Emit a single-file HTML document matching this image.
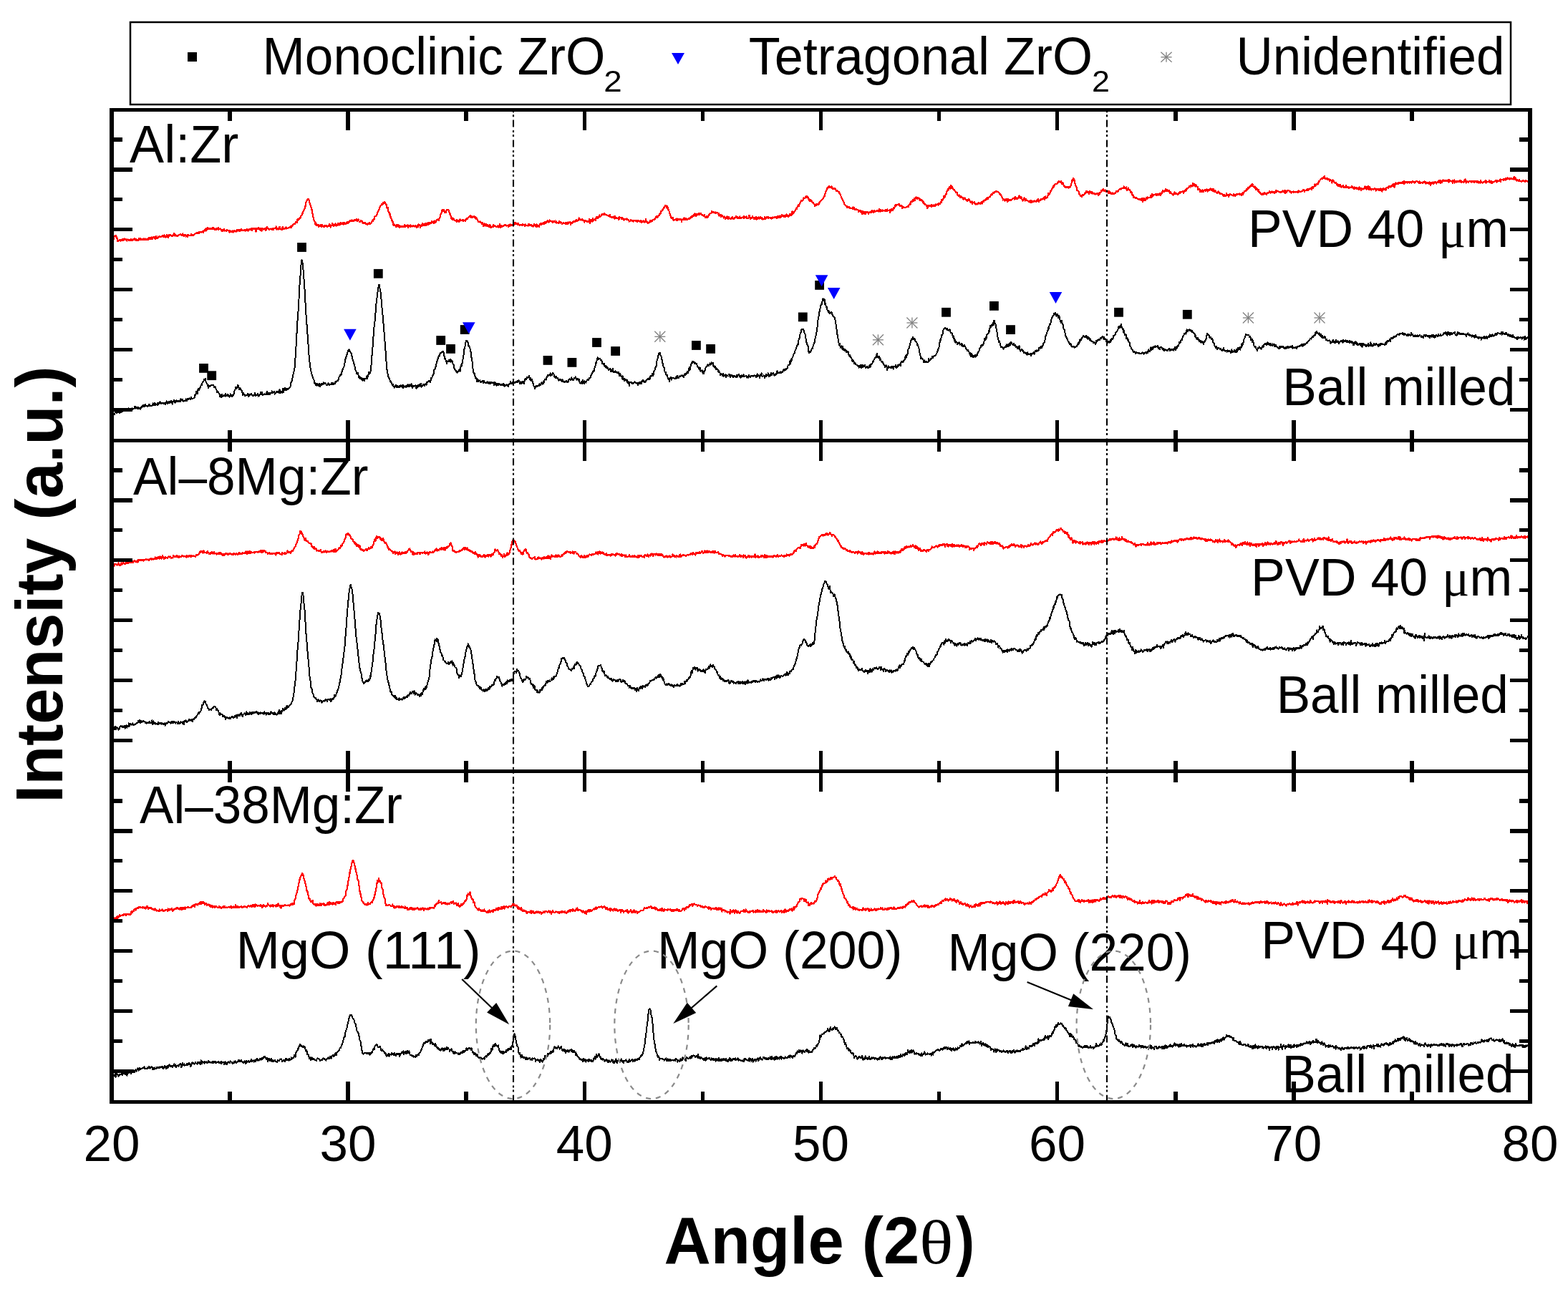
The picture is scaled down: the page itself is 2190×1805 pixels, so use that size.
<!DOCTYPE html>
<html><head><meta charset="utf-8"><title>XRD patterns of Al:Zr, Al-8Mg:Zr and Al-38Mg:Zr</title>
<style>
html,body{margin:0;padding:0;background:#fff;overflow:hidden;}
svg{display:block;}
.t{font-family:"Liberation Sans",Arial,sans-serif;fill:#000;}
.s{font-family:"Liberation Serif","Times New Roman",serif;}
</style></head><body>
<svg width="2190" height="1805" viewBox="0 0 2190 1805">
<rect width="2190" height="1805" fill="#fff"/>
<path d="M157.5 337.0 L158.2 335.7 L158.8 333.7 L159.5 330.4 L160.1 329.7 L160.8 329.0 L161.5 329.9 L162.1 329.4 L162.8 332.1 L163.4 332.0 L164.1 337.2 L164.8 335.5 L165.4 336.4 L166.1 335.5 L166.7 335.2 L167.4 336.1 L168.1 336.5 L168.7 335.4 L169.4 335.4 L170.0 336.3 L170.7 334.7 L171.4 334.0 L172.0 336.0 L172.7 334.8 L173.3 333.5 L174.0 334.7 L174.7 335.0 L175.3 334.2 L176.0 333.9 L176.6 335.5 L177.3 336.4 L178.0 335.1 L178.6 334.6 L179.3 335.7 L179.9 336.1 L180.6 335.0 L181.3 335.8 L181.9 336.3 L182.6 335.0 L183.2 334.3 L183.9 335.5 L184.6 335.4 L185.2 336.2 L185.9 333.7 L186.5 334.3 L187.2 334.1 L187.9 333.1 L188.5 335.1 L189.2 335.5 L189.8 334.1 L190.5 336.3 L191.2 335.7 L191.8 335.4 L192.5 335.2 L193.1 335.7 L193.8 333.3 L194.5 335.3 L195.1 335.2 L195.8 332.7 L196.4 334.9 L197.1 334.2 L197.8 335.3 L198.4 333.9 L199.1 334.3 L199.7 334.7 L200.4 333.3 L201.1 334.8 L201.7 334.0 L202.4 334.6 L203.0 333.5 L203.7 335.1 L204.4 334.5 L205.0 333.6 L205.7 334.4 L206.3 334.9 L207.0 335.4 L207.7 331.8 L208.3 334.3 L209.0 333.7 L209.6 333.0 L210.3 332.0 L211.0 334.2 L211.6 331.5 L212.3 333.3 L212.9 334.0 L213.6 330.8 L214.3 332.1 L214.9 330.9 L215.6 332.4 L216.2 333.6 L216.9 334.1 L217.6 330.0 L218.2 331.1 L218.9 332.3 L219.5 333.1 L220.2 331.8 L220.9 330.5 L221.5 331.4 L222.2 331.0 L222.8 330.7 L223.5 330.0 L224.2 331.1 L224.8 330.9 L225.5 330.4 L226.1 330.1 L226.8 328.9 L227.5 329.6 L228.1 331.3 L228.8 329.7 L229.4 328.3 L230.1 331.1 L230.8 330.2 L231.4 331.8 L232.1 329.5 L232.7 328.9 L233.4 327.8 L234.1 330.6 L234.7 331.8 L235.4 328.2 L236.0 328.3 L236.7 329.6 L237.4 328.0 L238.0 328.5 L238.7 328.4 L239.3 328.9 L240.0 329.8 L240.7 328.7 L241.3 329.6 L242.0 328.1 L242.6 328.9 L243.3 326.3 L244.0 327.0 L244.6 329.4 L245.3 327.9 L245.9 329.1 L246.6 329.1 L247.3 329.9 L247.9 329.4 L248.6 329.6 L249.2 328.4 L249.9 327.8 L250.6 327.8 L251.2 328.0 L251.9 327.3 L252.5 328.0 L253.2 328.4 L253.9 328.8 L254.5 328.2 L255.2 326.5 L255.8 328.5 L256.5 328.8 L257.2 329.7 L257.8 329.1 L258.5 327.9 L259.1 327.8 L259.8 330.6 L260.5 329.3 L261.1 330.5 L261.8 330.8 L262.4 327.7 L263.1 328.9 L263.8 329.0 L264.4 329.1 L265.1 329.1 L265.7 328.7 L266.4 328.7 L267.1 327.0 L267.7 328.4 L268.4 327.7 L269.0 328.6 L269.7 327.8 L270.4 328.6 L271.0 328.4 L271.7 327.5 L272.3 327.0 L273.0 326.4 L273.7 325.6 L274.3 325.7 L275.0 325.2 L275.6 325.9 L276.3 325.4 L277.0 325.8 L277.6 323.7 L278.3 325.9 L278.9 324.0 L279.6 323.9 L280.3 324.3 L280.9 323.8 L281.6 324.5 L282.2 323.4 L282.9 322.7 L283.6 322.7 L284.2 324.6 L284.9 322.9 L285.5 321.2 L286.2 322.0 L286.9 319.9 L287.5 323.0 L288.2 319.1 L288.8 320.8 L289.5 320.5 L290.2 318.1 L290.8 319.6 L291.5 320.2 L292.1 319.5 L292.8 319.3 L293.5 320.0 L294.1 319.2 L294.8 319.5 L295.4 319.0 L296.1 319.9 L296.8 318.3 L297.4 320.1 L298.1 318.9 L298.7 318.3 L299.4 319.9 L300.1 321.4 L300.7 320.8 L301.4 319.3 L302.0 320.7 L302.7 319.6 L303.4 320.1 L304.0 320.4 L304.7 318.0 L305.3 320.8 L306.0 319.6 L306.7 320.1 L307.3 319.4 L308.0 319.5 L308.6 320.2 L309.3 322.2 L310.0 323.2 L310.6 321.5 L311.3 322.8 L311.9 321.5 L312.6 319.8 L313.3 322.1 L313.9 322.5 L314.6 321.7 L315.2 322.5 L315.9 322.9 L316.6 321.5 L317.2 320.9 L317.9 322.2 L318.5 322.3 L319.2 322.2 L319.9 323.6 L320.5 324.4 L321.2 322.2 L321.8 323.3 L322.5 323.6 L323.2 323.3 L323.8 323.7 L324.5 322.1 L325.1 323.3 L325.8 324.6 L326.5 323.3 L327.1 321.8 L327.8 323.1 L328.4 323.7 L329.1 322.7 L329.8 321.7 L330.4 323.9 L331.1 320.9 L331.7 322.7 L332.4 322.1 L333.1 320.9 L333.7 323.3 L334.4 322.4 L335.0 320.7 L335.7 322.5 L336.4 321.4 L337.0 319.8 L337.7 321.0 L338.3 322.0 L339.0 322.3 L339.7 321.7 L340.3 321.6 L341.0 321.9 L341.6 321.2 L342.3 322.6 L343.0 321.4 L343.6 321.5 L344.3 321.7 L344.9 320.0 L345.6 320.3 L346.3 322.6 L346.9 321.3 L347.6 320.5 L348.2 321.1 L348.9 320.2 L349.6 321.0 L350.2 319.9 L350.9 320.8 L351.5 318.8 L352.2 321.8 L352.9 319.8 L353.5 318.7 L354.2 320.0 L354.8 319.8 L355.5 320.3 L356.2 318.9 L356.8 320.5 L357.5 323.8 L358.1 318.7 L358.8 320.3 L359.5 319.6 L360.1 320.1 L360.8 318.0 L361.4 318.6 L362.1 320.3 L362.8 319.7 L363.4 321.5 L364.1 319.0 L364.7 319.9 L365.4 322.8 L366.1 318.9 L366.7 318.7 L367.4 319.6 L368.0 319.6 L368.7 320.5 L369.4 319.7 L370.0 318.8 L370.7 319.8 L371.3 322.3 L372.0 320.9 L372.7 316.6 L373.3 319.4 L374.0 318.6 L374.6 320.2 L375.3 319.3 L376.0 321.5 L376.6 320.5 L377.3 320.4 L377.9 319.7 L378.6 319.4 L379.3 319.8 L379.9 320.8 L380.6 320.0 L381.2 319.1 L381.9 320.8 L382.6 319.6 L383.2 319.4 L383.9 318.6 L384.5 318.8 L385.2 318.7 L385.9 316.5 L386.5 320.5 L387.2 320.0 L387.8 319.1 L388.5 320.5 L389.2 319.8 L389.8 319.7 L390.5 316.7 L391.1 319.1 L391.8 319.8 L392.5 321.0 L393.1 321.2 L393.8 320.7 L394.4 318.0 L395.1 316.9 L395.8 319.8 L396.4 319.2 L397.1 320.1 L397.7 319.0 L398.4 319.3 L399.1 317.5 L399.7 319.5 L400.4 318.4 L401.0 319.2 L401.7 319.1 L402.4 318.3 L403.0 318.5 L403.7 317.8 L404.3 318.3 L405.0 317.7 L405.7 316.2 L406.3 315.8 L407.0 317.8 L407.6 315.5 L408.3 316.2 L409.0 315.1 L409.6 313.6 L410.3 312.9 L410.9 313.4 L411.6 313.0 L412.3 312.9 L412.9 310.3 L413.6 310.3 L414.2 310.1 L414.9 311.1 L415.6 306.1 L416.2 308.2 L416.9 306.3 L417.5 306.4 L418.2 304.5 L418.9 304.4 L419.5 304.6 L420.2 302.3 L420.8 301.4 L421.5 300.2 L422.2 297.9 L422.8 298.0 L423.5 295.9 L424.1 293.9 L424.8 293.2 L425.5 291.3 L426.1 290.2 L426.8 286.5 L427.4 282.9 L428.1 282.1 L428.8 279.4 L429.4 278.5 L430.1 277.8 L430.7 278.0 L431.4 279.2 L432.1 281.3 L432.7 284.8 L433.4 286.1 L434.0 286.5 L434.7 290.6 L435.4 292.1 L436.0 297.0 L436.7 298.9 L437.3 302.0 L438.0 306.3 L438.7 308.4 L439.3 308.4 L440.0 311.9 L440.6 314.2 L441.3 311.1 L442.0 315.3 L442.6 313.2 L443.3 314.0 L443.9 314.8 L444.6 313.8 L445.3 317.0 L445.9 316.4 L446.6 315.2 L447.2 315.7 L447.9 314.3 L448.6 315.6 L449.2 316.9 L449.9 314.1 L450.5 315.4 L451.2 316.0 L451.9 316.9 L452.5 317.2 L453.2 315.3 L453.8 315.0 L454.5 316.2 L455.2 315.3 L455.8 315.3 L456.5 316.7 L457.1 317.3 L457.8 315.7 L458.5 315.2 L459.1 315.9 L459.8 313.3 L460.4 315.2 L461.1 314.0 L461.8 317.6 L462.4 315.7 L463.1 315.1 L463.7 314.6 L464.4 312.1 L465.1 315.4 L465.7 316.3 L466.4 313.7 L467.0 315.1 L467.7 315.1 L468.4 312.6 L469.0 315.1 L469.7 315.5 L470.3 314.2 L471.0 313.8 L471.7 314.6 L472.3 312.0 L473.0 313.6 L473.6 314.5 L474.3 312.0 L475.0 314.3 L475.6 312.7 L476.3 310.8 L476.9 312.8 L477.6 311.7 L478.3 313.0 L478.9 311.3 L479.6 313.5 L480.2 311.5 L480.9 312.6 L481.6 311.4 L482.2 311.6 L482.9 313.1 L483.5 311.9 L484.2 311.0 L484.9 309.9 L485.5 312.2 L486.2 311.5 L486.8 310.1 L487.5 310.4 L488.2 308.7 L488.8 308.5 L489.5 308.4 L490.1 309.3 L490.8 308.9 L491.5 307.6 L492.1 308.9 L492.8 308.7 L493.4 307.8 L494.1 308.6 L494.8 307.0 L495.4 307.1 L496.1 307.7 L496.7 307.1 L497.4 308.0 L498.1 306.0 L498.7 308.9 L499.4 306.7 L500.0 307.6 L500.7 306.5 L501.4 308.8 L502.0 309.8 L502.7 309.9 L503.3 309.9 L504.0 307.7 L504.7 308.9 L505.3 309.5 L506.0 309.4 L506.6 311.9 L507.3 311.2 L508.0 311.3 L508.6 312.1 L509.3 310.9 L509.9 311.2 L510.6 311.5 L511.3 313.1 L511.9 313.1 L512.6 313.5 L513.2 314.2 L513.9 311.7 L514.6 312.5 L515.2 313.1 L515.9 311.3 L516.5 311.8 L517.2 312.9 L517.9 312.4 L518.5 311.6 L519.2 309.7 L519.8 308.6 L520.5 309.1 L521.2 306.6 L521.8 306.4 L522.5 306.4 L523.1 303.6 L523.8 302.4 L524.5 302.1 L525.1 301.9 L525.8 300.8 L526.4 299.3 L527.1 298.5 L527.8 295.0 L528.4 294.4 L529.1 294.0 L529.7 291.4 L530.4 289.6 L531.1 288.3 L531.7 287.3 L532.4 286.8 L533.0 284.8 L533.7 285.1 L534.4 285.8 L535.0 283.2 L535.7 284.3 L536.3 283.0 L537.0 281.6 L537.7 283.1 L538.3 283.2 L539.0 286.2 L539.6 285.6 L540.3 289.8 L541.0 290.8 L541.6 289.9 L542.3 294.8 L542.9 297.4 L543.6 296.7 L544.3 300.3 L544.9 299.2 L545.6 303.4 L546.2 303.6 L546.9 307.9 L547.6 307.4 L548.2 308.1 L548.9 312.3 L549.5 315.1 L550.2 312.8 L550.9 314.9 L551.5 314.7 L552.2 314.7 L552.8 316.0 L553.5 317.2 L554.2 314.2 L554.8 316.1 L555.5 315.9 L556.1 314.1 L556.8 317.3 L557.5 317.7 L558.1 314.7 L558.8 317.5 L559.4 315.8 L560.1 315.6 L560.8 317.3 L561.4 316.0 L562.1 316.1 L562.7 317.4 L563.4 317.2 L564.1 316.8 L564.7 314.4 L565.4 314.2 L566.0 317.0 L566.7 314.9 L567.4 316.0 L568.0 314.8 L568.7 315.7 L569.3 314.6 L570.0 317.6 L570.7 314.9 L571.3 315.8 L572.0 315.7 L572.6 317.2 L573.3 314.4 L574.0 315.9 L574.6 315.7 L575.3 316.5 L575.9 316.4 L576.6 315.5 L577.3 316.2 L577.9 315.5 L578.6 316.4 L579.2 315.8 L579.9 315.2 L580.6 315.8 L581.2 316.2 L581.9 318.1 L582.5 315.2 L583.2 315.9 L583.9 317.1 L584.5 313.3 L585.2 313.6 L585.8 314.0 L586.5 315.1 L587.2 317.6 L587.8 315.4 L588.5 316.1 L589.1 314.5 L589.8 312.0 L590.5 312.1 L591.1 315.4 L591.8 314.4 L592.4 312.7 L593.1 315.1 L593.8 312.2 L594.4 314.8 L595.1 315.0 L595.7 312.5 L596.4 312.0 L597.1 313.9 L597.7 311.6 L598.4 313.5 L599.0 311.2 L599.7 313.1 L600.4 312.2 L601.0 311.5 L601.7 310.8 L602.3 311.8 L603.0 309.4 L603.7 310.9 L604.3 310.5 L605.0 311.4 L605.6 309.1 L606.3 312.0 L607.0 309.6 L607.6 308.4 L608.3 310.7 L608.9 310.6 L609.6 308.3 L610.3 307.1 L610.9 307.6 L611.6 306.4 L612.2 306.3 L612.9 307.7 L613.6 305.6 L614.2 303.8 L614.9 302.2 L615.5 299.6 L616.2 298.4 L616.9 296.5 L617.5 293.5 L618.2 292.8 L618.8 294.7 L619.5 293.0 L620.2 293.2 L620.8 296.7 L621.5 295.7 L622.1 295.2 L622.8 297.0 L623.5 294.2 L624.1 293.2 L624.8 293.3 L625.4 293.0 L626.1 293.1 L626.8 294.4 L627.4 295.7 L628.1 299.1 L628.7 298.8 L629.4 300.6 L630.1 304.8 L630.7 303.4 L631.4 306.5 L632.0 306.9 L632.7 305.8 L633.4 304.8 L634.0 307.1 L634.7 307.7 L635.3 308.3 L636.0 307.6 L636.7 309.0 L637.3 309.4 L638.0 307.0 L638.6 309.7 L639.3 308.5 L640.0 307.8 L640.6 308.0 L641.3 310.3 L641.9 309.4 L642.6 306.5 L643.3 308.4 L643.9 308.2 L644.6 308.2 L645.2 307.8 L645.9 306.8 L646.6 309.3 L647.2 307.4 L647.9 308.0 L648.5 307.7 L649.2 307.5 L649.9 308.7 L650.5 307.9 L651.2 306.2 L651.8 305.2 L652.5 305.0 L653.2 305.8 L653.8 304.2 L654.5 303.7 L655.1 302.6 L655.8 302.3 L656.5 302.6 L657.1 300.5 L657.8 304.2 L658.4 301.7 L659.1 302.1 L659.8 304.2 L660.4 303.2 L661.1 303.2 L661.7 302.7 L662.4 301.9 L663.1 304.0 L663.7 305.3 L664.4 303.5 L665.0 306.4 L665.7 304.6 L666.4 305.9 L667.0 308.1 L667.7 308.5 L668.3 310.2 L669.0 309.5 L669.7 309.9 L670.3 309.6 L671.0 310.7 L671.6 311.1 L672.3 311.0 L673.0 313.1 L673.6 312.3 L674.3 311.1 L674.9 316.1 L675.6 312.8 L676.3 312.6 L676.9 315.4 L677.6 315.6 L678.2 313.3 L678.9 313.2 L679.6 313.8 L680.2 316.3 L680.9 314.9 L681.5 314.5 L682.2 315.5 L682.9 316.9 L683.5 314.3 L684.2 315.5 L684.8 314.6 L685.5 318.4 L686.2 318.1 L686.8 317.3 L687.5 316.3 L688.1 317.2 L688.8 314.3 L689.5 316.9 L690.1 315.2 L690.8 315.2 L691.4 315.9 L692.1 316.3 L692.8 317.3 L693.4 317.4 L694.1 316.9 L694.7 315.6 L695.4 317.2 L696.1 316.3 L696.7 317.6 L697.4 315.3 L698.0 313.3 L698.7 315.6 L699.4 318.3 L700.0 316.4 L700.7 315.6 L701.3 316.6 L702.0 316.1 L702.7 315.9 L703.3 314.7 L704.0 315.2 L704.6 315.2 L705.3 314.2 L706.0 313.6 L706.6 314.8 L707.3 315.5 L707.9 315.0 L708.6 314.7 L709.3 314.6 L709.9 316.7 L710.6 314.1 L711.2 314.8 L711.9 315.7 L712.6 313.6 L713.2 313.7 L713.9 314.5 L714.5 315.1 L715.2 313.6 L715.9 313.6 L716.5 313.2 L717.2 311.9 L717.8 314.3 L718.5 312.8 L719.2 311.3 L719.8 313.0 L720.5 311.3 L721.1 312.1 L721.8 313.2 L722.5 312.2 L723.1 314.4 L723.8 311.7 L724.4 313.6 L725.1 314.0 L725.8 315.0 L726.4 314.4 L727.1 313.8 L727.7 313.7 L728.4 313.6 L729.1 314.9 L729.7 313.1 L730.4 314.4 L731.0 313.8 L731.7 314.2 L732.4 313.8 L733.0 316.3 L733.7 313.5 L734.3 314.5 L735.0 314.6 L735.7 315.0 L736.3 314.9 L737.0 314.9 L737.6 315.6 L738.3 313.0 L739.0 314.7 L739.6 313.4 L740.3 315.0 L740.9 313.6 L741.6 313.8 L742.3 314.8 L742.9 316.4 L743.6 315.5 L744.2 315.3 L744.9 316.5 L745.6 314.0 L746.2 312.8 L746.9 314.6 L747.5 314.7 L748.2 316.3 L748.9 317.1 L749.5 313.4 L750.2 317.3 L750.8 316.2 L751.5 315.3 L752.2 314.7 L752.8 316.7 L753.5 314.1 L754.1 313.3 L754.8 313.7 L755.5 311.9 L756.1 313.7 L756.8 312.8 L757.4 313.1 L758.1 312.9 L758.8 311.2 L759.4 313.4 L760.1 310.7 L760.7 312.5 L761.4 309.7 L762.1 311.5 L762.7 310.1 L763.4 310.8 L764.0 309.9 L764.7 308.1 L765.4 309.1 L766.0 310.1 L766.7 310.6 L767.3 308.3 L768.0 307.5 L768.7 308.7 L769.3 309.4 L770.0 308.9 L770.6 308.7 L771.3 310.5 L772.0 310.6 L772.6 310.4 L773.3 308.7 L773.9 309.8 L774.6 309.5 L775.3 308.3 L775.9 310.8 L776.6 310.0 L777.2 309.5 L777.9 311.6 L778.6 311.0 L779.2 311.2 L779.9 311.6 L780.5 311.2 L781.2 309.2 L781.9 310.2 L782.5 311.8 L783.2 310.0 L783.8 311.0 L784.5 311.5 L785.2 312.7 L785.8 312.6 L786.5 312.3 L787.1 311.2 L787.8 312.4 L788.5 312.1 L789.1 311.5 L789.8 313.1 L790.4 312.3 L791.1 311.0 L791.8 313.2 L792.4 311.6 L793.1 312.5 L793.7 310.3 L794.4 311.9 L795.1 310.9 L795.7 310.8 L796.4 309.7 L797.0 313.8 L797.7 311.3 L798.4 311.5 L799.0 312.2 L799.7 310.6 L800.3 311.0 L801.0 308.8 L801.7 310.2 L802.3 309.2 L803.0 309.9 L803.6 309.3 L804.3 307.4 L805.0 306.6 L805.6 307.3 L806.3 308.9 L806.9 308.3 L807.6 308.1 L808.3 305.4 L808.9 304.5 L809.6 306.6 L810.2 306.8 L810.9 306.5 L811.6 307.6 L812.2 307.1 L812.9 306.1 L813.5 306.5 L814.2 307.8 L814.9 307.8 L815.5 307.9 L816.2 310.5 L816.8 308.1 L817.5 308.7 L818.2 307.7 L818.8 308.5 L819.5 309.6 L820.1 309.8 L820.8 309.2 L821.5 309.9 L822.1 309.6 L822.8 307.6 L823.4 306.1 L824.1 311.9 L824.8 310.2 L825.4 309.1 L826.1 307.1 L826.7 307.3 L827.4 309.7 L828.1 305.1 L828.7 307.3 L829.4 308.1 L830.0 307.0 L830.7 307.2 L831.4 305.8 L832.0 308.0 L832.7 303.9 L833.3 303.1 L834.0 304.4 L834.7 305.1 L835.3 303.1 L836.0 303.8 L836.6 301.7 L837.3 300.6 L838.0 302.9 L838.6 302.7 L839.3 302.3 L839.9 299.9 L840.6 298.9 L841.3 298.6 L841.9 299.4 L842.6 300.1 L843.2 299.9 L843.9 297.8 L844.6 299.5 L845.2 299.5 L845.9 299.7 L846.5 299.8 L847.2 299.9 L847.9 301.1 L848.5 300.9 L849.2 301.4 L849.8 300.8 L850.5 302.3 L851.2 302.1 L851.8 300.3 L852.5 303.3 L853.1 302.7 L853.8 304.1 L854.5 303.1 L855.1 303.3 L855.8 303.7 L856.4 303.5 L857.1 303.2 L857.8 301.8 L858.4 305.7 L859.1 302.2 L859.7 303.6 L860.4 304.7 L861.1 304.4 L861.7 304.7 L862.4 305.0 L863.0 305.5 L863.7 304.6 L864.4 307.4 L865.0 303.3 L865.7 304.7 L866.3 304.2 L867.0 304.1 L867.7 305.0 L868.3 306.4 L869.0 304.2 L869.6 304.4 L870.3 306.0 L871.0 306.0 L871.6 307.7 L872.3 306.9 L872.9 306.3 L873.6 305.9 L874.3 306.7 L874.9 306.5 L875.6 305.4 L876.2 307.1 L876.9 307.1 L877.6 307.2 L878.2 307.2 L878.9 309.6 L879.5 308.7 L880.2 309.1 L880.9 307.5 L881.5 307.2 L882.2 308.1 L882.8 308.7 L883.5 308.1 L884.2 308.3 L884.8 309.6 L885.5 308.9 L886.1 307.6 L886.8 308.3 L887.5 308.1 L888.1 309.0 L888.8 307.7 L889.4 308.7 L890.1 309.7 L890.8 309.0 L891.4 308.1 L892.1 308.4 L892.7 309.3 L893.4 309.7 L894.1 310.1 L894.7 309.1 L895.4 307.9 L896.0 310.8 L896.7 309.6 L897.4 309.8 L898.0 309.7 L898.7 308.3 L899.3 309.1 L900.0 309.7 L900.7 310.6 L901.3 309.5 L902.0 306.2 L902.6 309.3 L903.3 309.9 L904.0 310.9 L904.6 310.3 L905.3 312.1 L905.9 311.0 L906.6 310.9 L907.3 310.4 L907.9 307.8 L908.6 310.0 L909.2 309.5 L909.9 308.0 L910.6 308.9 L911.2 308.4 L911.9 307.1 L912.5 307.1 L913.2 306.5 L913.9 306.6 L914.5 305.4 L915.2 306.0 L915.8 303.0 L916.5 304.2 L917.2 302.3 L917.8 303.1 L918.5 303.6 L919.1 302.4 L919.8 301.5 L920.5 300.8 L921.1 301.4 L921.8 297.6 L922.4 298.7 L923.1 295.1 L923.8 295.1 L924.4 294.7 L925.1 292.6 L925.7 292.8 L926.4 292.4 L927.1 289.5 L927.7 289.9 L928.4 288.9 L929.0 286.8 L929.7 288.2 L930.4 287.4 L931.0 289.6 L931.7 287.7 L932.3 291.2 L933.0 290.1 L933.7 294.2 L934.3 294.5 L935.0 296.3 L935.6 298.7 L936.3 300.7 L937.0 303.1 L937.6 305.2 L938.3 304.5 L938.9 304.7 L939.6 304.0 L940.3 306.8 L940.9 308.0 L941.6 307.6 L942.2 307.3 L942.9 306.8 L943.6 306.5 L944.2 306.9 L944.9 307.6 L945.5 305.3 L946.2 307.9 L946.9 305.6 L947.5 307.0 L948.2 306.5 L948.8 306.8 L949.5 306.1 L950.2 305.9 L950.8 306.9 L951.5 306.0 L952.1 309.7 L952.8 306.7 L953.5 306.5 L954.1 306.6 L954.8 306.0 L955.4 304.6 L956.1 306.9 L956.8 307.4 L957.4 305.4 L958.1 306.9 L958.7 305.4 L959.4 306.5 L960.1 306.7 L960.7 306.5 L961.4 306.2 L962.0 304.7 L962.7 306.0 L963.4 304.3 L964.0 304.8 L964.7 304.8 L965.3 303.3 L966.0 301.9 L966.7 303.5 L967.3 301.3 L968.0 301.2 L968.6 300.6 L969.3 302.3 L970.0 300.9 L970.6 298.3 L971.3 301.1 L971.9 302.2 L972.6 301.7 L973.3 299.0 L973.9 299.4 L974.6 299.7 L975.2 300.0 L975.9 299.0 L976.6 297.7 L977.2 299.6 L977.9 299.5 L978.5 297.7 L979.2 298.9 L979.9 299.8 L980.5 299.9 L981.2 300.8 L981.8 301.4 L982.5 301.5 L983.2 301.2 L983.8 300.2 L984.5 302.6 L985.1 303.6 L985.8 304.4 L986.5 302.4 L987.1 302.3 L987.8 303.7 L988.4 303.3 L989.1 301.8 L989.8 301.6 L990.4 299.5 L991.1 300.3 L991.7 298.2 L992.4 298.3 L993.1 297.8 L993.7 296.9 L994.4 294.8 L995.0 295.8 L995.7 296.8 L996.4 296.4 L997.0 296.1 L997.7 297.1 L998.3 297.5 L999.0 297.9 L999.7 296.4 L1000.3 297.6 L1001.0 297.5 L1001.6 297.2 L1002.3 296.9 L1003.0 298.6 L1003.6 298.1 L1004.3 301.6 L1004.9 299.5 L1005.6 299.8 L1006.3 300.0 L1006.9 302.8 L1007.6 300.3 L1008.2 301.6 L1008.9 301.4 L1009.6 302.5 L1010.2 303.0 L1010.9 304.6 L1011.5 302.3 L1012.2 304.1 L1012.9 306.0 L1013.5 304.0 L1014.2 304.5 L1014.8 303.8 L1015.5 302.0 L1016.2 304.7 L1016.8 306.0 L1017.5 304.3 L1018.1 302.8 L1018.8 305.0 L1019.5 304.8 L1020.1 305.8 L1020.8 305.7 L1021.4 304.4 L1022.1 305.1 L1022.8 302.8 L1023.4 305.8 L1024.1 304.8 L1024.7 305.7 L1025.4 305.7 L1026.1 304.2 L1026.7 304.4 L1027.4 303.6 L1028.0 302.3 L1028.7 304.3 L1029.4 304.6 L1030.0 303.2 L1030.7 305.1 L1031.3 304.4 L1032.0 304.8 L1032.7 303.5 L1033.3 302.4 L1034.0 305.1 L1034.6 304.9 L1035.3 304.1 L1036.0 303.7 L1036.6 303.9 L1037.3 304.0 L1037.9 303.6 L1038.6 302.0 L1039.3 304.9 L1039.9 302.5 L1040.6 303.7 L1041.2 303.7 L1041.9 304.3 L1042.6 302.4 L1043.2 305.3 L1043.9 304.7 L1044.5 304.9 L1045.2 305.4 L1045.9 303.2 L1046.5 300.8 L1047.2 304.5 L1047.8 305.5 L1048.5 305.4 L1049.2 303.6 L1049.8 304.1 L1050.5 304.5 L1051.1 302.3 L1051.8 303.6 L1052.5 303.6 L1053.1 306.0 L1053.8 303.7 L1054.4 306.0 L1055.1 304.4 L1055.8 302.7 L1056.4 306.8 L1057.1 303.5 L1057.7 305.2 L1058.4 306.3 L1059.1 304.0 L1059.7 303.3 L1060.4 305.7 L1061.0 304.7 L1061.7 303.4 L1062.4 303.6 L1063.0 304.3 L1063.7 305.8 L1064.3 304.5 L1065.0 305.5 L1065.7 306.5 L1066.3 306.1 L1067.0 306.3 L1067.6 306.1 L1068.3 303.1 L1069.0 306.1 L1069.6 305.1 L1070.3 304.6 L1070.9 303.6 L1071.6 303.0 L1072.3 303.5 L1072.9 304.6 L1073.6 303.4 L1074.2 303.7 L1074.9 303.9 L1075.6 305.2 L1076.2 304.1 L1076.9 304.2 L1077.5 305.7 L1078.2 303.9 L1078.9 304.8 L1079.5 303.0 L1080.2 304.4 L1080.8 304.1 L1081.5 304.1 L1082.2 303.3 L1082.8 302.7 L1083.5 303.4 L1084.1 303.1 L1084.8 304.6 L1085.5 304.4 L1086.1 302.0 L1086.8 303.9 L1087.4 302.6 L1088.1 303.5 L1088.8 302.4 L1089.4 301.3 L1090.1 303.8 L1090.7 303.1 L1091.4 301.2 L1092.1 300.4 L1092.7 301.7 L1093.4 300.9 L1094.0 301.6 L1094.7 302.5 L1095.4 303.3 L1096.0 301.3 L1096.7 303.0 L1097.3 302.6 L1098.0 300.8 L1098.7 299.4 L1099.3 301.9 L1100.0 301.5 L1100.6 303.1 L1101.3 302.0 L1102.0 301.1 L1102.6 301.8 L1103.3 298.7 L1103.9 299.8 L1104.6 299.0 L1105.3 300.8 L1105.9 299.3 L1106.6 295.1 L1107.2 299.4 L1107.9 296.6 L1108.6 297.8 L1109.2 295.7 L1109.9 295.5 L1110.5 294.8 L1111.2 293.2 L1111.9 290.8 L1112.5 292.1 L1113.2 289.9 L1113.8 288.4 L1114.5 288.2 L1115.2 286.0 L1115.8 287.7 L1116.5 285.1 L1117.1 284.4 L1117.8 283.5 L1118.5 281.3 L1119.1 280.1 L1119.8 280.7 L1120.4 280.0 L1121.1 280.3 L1121.8 278.6 L1122.4 276.3 L1123.1 277.4 L1123.7 277.2 L1124.4 276.9 L1125.1 275.9 L1125.7 274.0 L1126.4 276.4 L1127.0 274.4 L1127.7 276.3 L1128.4 274.9 L1129.0 278.3 L1129.7 277.5 L1130.3 280.1 L1131.0 281.4 L1131.7 281.3 L1132.3 279.3 L1133.0 280.0 L1133.6 280.5 L1134.3 282.6 L1135.0 282.8 L1135.6 283.1 L1136.3 283.8 L1136.9 284.9 L1137.6 285.9 L1138.3 287.9 L1138.9 286.7 L1139.6 287.2 L1140.2 285.0 L1140.9 285.3 L1141.6 285.6 L1142.2 284.6 L1142.9 285.5 L1143.5 285.7 L1144.2 283.4 L1144.9 282.5 L1145.5 281.6 L1146.2 281.4 L1146.8 279.8 L1147.5 279.9 L1148.2 278.9 L1148.8 278.1 L1149.5 277.6 L1150.1 275.7 L1150.8 274.5 L1151.5 274.7 L1152.1 271.3 L1152.8 270.6 L1153.4 268.2 L1154.1 266.1 L1154.8 264.6 L1155.4 262.9 L1156.1 262.6 L1156.7 260.9 L1157.4 260.4 L1158.1 261.7 L1158.7 260.3 L1159.4 261.6 L1160.0 260.9 L1160.7 261.7 L1161.4 260.4 L1162.0 261.5 L1162.7 264.4 L1163.3 262.9 L1164.0 263.6 L1164.7 263.2 L1165.3 264.4 L1166.0 262.8 L1166.6 263.7 L1167.3 265.6 L1168.0 266.6 L1168.6 265.9 L1169.3 266.8 L1169.9 267.2 L1170.6 268.0 L1171.3 267.7 L1171.9 268.4 L1172.6 270.9 L1173.2 270.4 L1173.9 272.5 L1174.6 274.2 L1175.2 275.2 L1175.9 277.9 L1176.5 278.7 L1177.2 280.5 L1177.9 280.8 L1178.5 282.4 L1179.2 285.0 L1179.8 285.9 L1180.5 286.0 L1181.2 287.6 L1181.8 288.1 L1182.5 288.4 L1183.1 290.3 L1183.8 288.5 L1184.5 289.7 L1185.1 290.0 L1185.8 289.5 L1186.4 288.8 L1187.1 290.9 L1187.8 290.7 L1188.4 290.7 L1189.1 290.8 L1189.7 291.0 L1190.4 290.2 L1191.1 291.6 L1191.7 289.6 L1192.4 291.6 L1193.0 290.2 L1193.7 291.6 L1194.4 292.9 L1195.0 292.1 L1195.7 292.1 L1196.3 293.4 L1197.0 292.8 L1197.7 292.9 L1198.3 293.2 L1199.0 295.6 L1199.6 295.0 L1200.3 295.2 L1201.0 293.8 L1201.6 296.0 L1202.3 294.3 L1202.9 296.5 L1203.6 295.2 L1204.3 298.7 L1204.9 295.1 L1205.6 298.4 L1206.2 298.2 L1206.9 295.6 L1207.6 297.3 L1208.2 299.1 L1208.9 298.8 L1209.5 295.8 L1210.2 296.9 L1210.9 296.1 L1211.5 296.2 L1212.2 296.4 L1212.8 298.9 L1213.5 296.9 L1214.2 296.4 L1214.8 296.0 L1215.5 296.9 L1216.1 296.7 L1216.8 294.8 L1217.5 297.1 L1218.1 294.2 L1218.8 294.9 L1219.4 295.4 L1220.1 296.6 L1220.8 294.2 L1221.4 294.8 L1222.1 295.7 L1222.7 294.9 L1223.4 295.3 L1224.1 295.2 L1224.7 294.3 L1225.4 294.7 L1226.0 295.0 L1226.7 294.0 L1227.4 295.7 L1228.0 291.9 L1228.7 293.1 L1229.3 295.6 L1230.0 294.5 L1230.7 293.4 L1231.3 294.4 L1232.0 295.2 L1232.6 293.4 L1233.3 294.8 L1234.0 293.9 L1234.6 293.9 L1235.3 294.0 L1235.9 295.2 L1236.6 292.9 L1237.3 293.6 L1237.9 294.7 L1238.6 292.8 L1239.2 292.4 L1239.9 294.6 L1240.6 294.0 L1241.2 293.9 L1241.9 294.2 L1242.5 293.0 L1243.2 297.1 L1243.9 293.0 L1244.5 293.5 L1245.2 292.2 L1245.8 292.8 L1246.5 294.2 L1247.2 291.9 L1247.8 291.7 L1248.5 289.7 L1249.1 291.2 L1249.8 288.6 L1250.5 286.4 L1251.1 287.8 L1251.8 286.0 L1252.4 286.6 L1253.1 285.9 L1253.8 286.0 L1254.4 286.0 L1255.1 285.1 L1255.7 284.8 L1256.4 287.8 L1257.1 287.1 L1257.7 288.0 L1258.4 287.7 L1259.0 286.6 L1259.7 287.8 L1260.4 291.1 L1261.0 289.1 L1261.7 289.8 L1262.3 288.9 L1263.0 289.9 L1263.7 290.0 L1264.3 290.0 L1265.0 289.9 L1265.6 289.0 L1266.3 288.7 L1267.0 288.8 L1267.6 288.7 L1268.3 287.6 L1268.9 288.9 L1269.6 286.7 L1270.3 285.9 L1270.9 284.4 L1271.6 285.4 L1272.2 282.5 L1272.9 281.1 L1273.6 281.1 L1274.2 282.0 L1274.9 279.5 L1275.5 281.4 L1276.2 279.3 L1276.9 277.1 L1277.5 277.9 L1278.2 279.6 L1278.8 276.3 L1279.5 275.5 L1280.2 277.1 L1280.8 277.7 L1281.5 277.3 L1282.1 275.9 L1282.8 276.5 L1283.5 276.9 L1284.1 278.2 L1284.8 279.7 L1285.4 277.9 L1286.1 280.0 L1286.8 279.0 L1287.4 280.8 L1288.1 279.9 L1288.7 280.9 L1289.4 283.0 L1290.1 282.4 L1290.7 285.1 L1291.4 284.4 L1292.0 285.7 L1292.7 286.2 L1293.4 286.5 L1294.0 287.5 L1294.7 288.9 L1295.3 291.2 L1296.0 286.8 L1296.7 288.4 L1297.3 287.9 L1298.0 287.1 L1298.6 288.3 L1299.3 287.0 L1300.0 287.8 L1300.6 289.1 L1301.3 285.6 L1301.9 287.9 L1302.6 288.0 L1303.3 286.5 L1303.9 287.9 L1304.6 287.6 L1305.2 286.7 L1305.9 288.2 L1306.6 285.4 L1307.2 287.3 L1307.9 286.2 L1308.5 285.2 L1309.2 285.9 L1309.9 285.5 L1310.5 286.6 L1311.2 283.8 L1311.8 284.8 L1312.5 283.9 L1313.2 285.4 L1313.8 281.8 L1314.5 283.3 L1315.1 279.4 L1315.8 280.6 L1316.5 279.1 L1317.1 278.6 L1317.8 276.4 L1318.4 274.1 L1319.1 273.5 L1319.8 275.5 L1320.4 273.3 L1321.1 270.9 L1321.7 271.3 L1322.4 268.0 L1323.1 266.5 L1323.7 264.4 L1324.4 265.6 L1325.0 265.2 L1325.7 261.1 L1326.4 261.8 L1327.0 262.3 L1327.7 263.5 L1328.3 259.0 L1329.0 262.0 L1329.7 263.0 L1330.3 261.3 L1331.0 263.9 L1331.6 264.4 L1332.3 265.7 L1333.0 265.2 L1333.6 267.1 L1334.3 266.8 L1334.9 269.0 L1335.6 269.3 L1336.3 269.6 L1336.9 269.2 L1337.6 273.2 L1338.2 273.2 L1338.9 273.5 L1339.6 272.4 L1340.2 273.2 L1340.9 275.8 L1341.5 275.3 L1342.2 274.1 L1342.9 275.5 L1343.5 276.0 L1344.2 276.1 L1344.8 275.7 L1345.5 278.4 L1346.2 278.1 L1346.8 277.6 L1347.5 276.5 L1348.1 277.8 L1348.8 278.7 L1349.5 279.9 L1350.1 278.9 L1350.8 280.8 L1351.4 280.1 L1352.1 279.4 L1352.8 277.6 L1353.4 279.5 L1354.1 279.5 L1354.7 281.2 L1355.4 282.0 L1356.1 283.3 L1356.7 282.1 L1357.4 281.2 L1358.0 285.1 L1358.7 283.2 L1359.4 282.8 L1360.0 283.0 L1360.7 282.1 L1361.3 284.3 L1362.0 284.2 L1362.7 285.7 L1363.3 285.3 L1364.0 285.2 L1364.6 285.7 L1365.3 284.1 L1366.0 284.0 L1366.6 284.5 L1367.3 283.2 L1367.9 284.4 L1368.6 284.1 L1369.3 285.0 L1369.9 284.0 L1370.6 281.8 L1371.2 283.5 L1371.9 284.5 L1372.6 280.7 L1373.2 281.4 L1373.9 281.7 L1374.5 279.8 L1375.2 280.0 L1375.9 280.1 L1376.5 278.1 L1377.2 279.2 L1377.8 278.7 L1378.5 276.4 L1379.2 277.2 L1379.8 277.7 L1380.5 275.8 L1381.1 275.9 L1381.8 275.6 L1382.5 274.1 L1383.1 274.8 L1383.8 273.4 L1384.4 271.2 L1385.1 272.1 L1385.8 271.7 L1386.4 270.8 L1387.1 268.6 L1387.7 269.1 L1388.4 269.5 L1389.1 267.8 L1389.7 268.4 L1390.4 268.2 L1391.0 266.7 L1391.7 267.5 L1392.4 266.7 L1393.0 268.5 L1393.7 267.8 L1394.3 267.9 L1395.0 269.1 L1395.7 269.8 L1396.3 271.1 L1397.0 272.0 L1397.6 271.2 L1398.3 272.6 L1399.0 274.6 L1399.6 275.6 L1400.3 276.1 L1400.9 279.6 L1401.6 278.7 L1402.3 278.1 L1402.9 279.6 L1403.6 280.7 L1404.2 280.0 L1404.9 278.0 L1405.6 279.9 L1406.2 279.9 L1406.9 282.0 L1407.5 277.8 L1408.2 281.2 L1408.9 279.3 L1409.5 280.3 L1410.2 278.8 L1410.8 279.1 L1411.5 280.0 L1412.2 278.7 L1412.8 279.5 L1413.5 278.1 L1414.1 277.5 L1414.8 277.5 L1415.5 277.0 L1416.1 277.2 L1416.8 278.6 L1417.4 275.7 L1418.1 275.1 L1418.8 276.6 L1419.4 278.3 L1420.1 277.5 L1420.7 277.8 L1421.4 277.6 L1422.1 275.5 L1422.7 276.5 L1423.4 273.6 L1424.0 275.9 L1424.7 277.3 L1425.4 275.2 L1426.0 274.8 L1426.7 275.9 L1427.3 277.7 L1428.0 278.9 L1428.7 280.7 L1429.3 279.8 L1430.0 277.0 L1430.6 276.4 L1431.3 279.3 L1432.0 280.5 L1432.6 278.0 L1433.3 279.4 L1433.9 279.7 L1434.6 280.4 L1435.3 280.4 L1435.9 281.3 L1436.6 282.0 L1437.2 281.1 L1437.9 281.9 L1438.6 283.2 L1439.2 280.0 L1439.9 280.0 L1440.5 281.6 L1441.2 283.0 L1441.9 281.2 L1442.5 282.1 L1443.2 280.6 L1443.8 281.8 L1444.5 280.1 L1445.2 281.4 L1445.8 281.0 L1446.5 280.9 L1447.1 281.8 L1447.8 281.3 L1448.5 279.4 L1449.1 280.9 L1449.8 278.0 L1450.4 280.7 L1451.1 282.3 L1451.8 279.8 L1452.4 279.6 L1453.1 279.0 L1453.7 279.6 L1454.4 278.0 L1455.1 279.0 L1455.7 277.7 L1456.4 277.4 L1457.0 277.7 L1457.7 277.2 L1458.4 275.2 L1459.0 278.9 L1459.7 276.6 L1460.3 274.4 L1461.0 277.0 L1461.7 275.6 L1462.3 275.5 L1463.0 275.6 L1463.6 273.2 L1464.3 270.2 L1465.0 272.2 L1465.6 271.4 L1466.3 270.9 L1466.9 267.7 L1467.6 266.9 L1468.3 266.2 L1468.9 264.1 L1469.6 262.9 L1470.2 262.3 L1470.9 260.0 L1471.6 261.8 L1472.2 258.5 L1472.9 258.8 L1473.5 257.8 L1474.2 256.7 L1474.9 257.4 L1475.5 257.3 L1476.2 257.2 L1476.8 255.8 L1477.5 254.3 L1478.2 255.3 L1478.8 252.6 L1479.5 254.0 L1480.1 254.4 L1480.8 254.6 L1481.5 253.1 L1482.1 253.2 L1482.8 257.1 L1483.4 255.5 L1484.1 255.1 L1484.8 256.3 L1485.4 258.4 L1486.1 260.4 L1486.7 259.8 L1487.4 261.6 L1488.1 261.0 L1488.7 261.5 L1489.4 262.3 L1490.0 261.0 L1490.7 261.9 L1491.4 261.4 L1492.0 261.2 L1492.7 262.7 L1493.3 261.2 L1494.0 262.2 L1494.7 261.2 L1495.3 260.3 L1496.0 257.1 L1496.6 255.8 L1497.3 252.2 L1498.0 251.1 L1498.6 252.9 L1499.3 248.8 L1499.9 251.8 L1500.6 251.4 L1501.3 255.9 L1501.9 258.1 L1502.6 260.1 L1503.2 261.5 L1503.9 262.0 L1504.6 266.4 L1505.2 266.2 L1505.9 267.0 L1506.5 267.6 L1507.2 270.7 L1507.9 271.2 L1508.5 272.4 L1509.2 273.9 L1509.8 274.2 L1510.5 273.0 L1511.2 275.0 L1511.8 272.3 L1512.5 271.7 L1513.1 272.6 L1513.8 271.9 L1514.5 271.2 L1515.1 270.1 L1515.8 270.0 L1516.4 268.8 L1517.1 267.1 L1517.8 269.2 L1518.4 267.1 L1519.1 267.8 L1519.7 268.8 L1520.4 268.1 L1521.1 271.0 L1521.7 266.8 L1522.4 267.6 L1523.0 268.7 L1523.7 270.2 L1524.4 268.8 L1525.0 267.7 L1525.7 270.7 L1526.3 268.8 L1527.0 269.8 L1527.7 271.1 L1528.3 269.8 L1529.0 270.2 L1529.6 271.4 L1530.3 270.9 L1531.0 271.5 L1531.6 270.4 L1532.3 271.3 L1532.9 270.4 L1533.6 269.9 L1534.3 273.3 L1534.9 271.5 L1535.6 271.4 L1536.2 268.7 L1536.9 268.9 L1537.6 267.9 L1538.2 265.8 L1538.9 267.2 L1539.5 265.3 L1540.2 265.5 L1540.9 264.0 L1541.5 266.7 L1542.2 266.6 L1542.8 266.4 L1543.5 265.3 L1544.2 266.0 L1544.8 268.2 L1545.5 267.0 L1546.1 268.0 L1546.8 268.2 L1547.5 267.3 L1548.1 270.4 L1548.8 267.1 L1549.4 269.8 L1550.1 269.7 L1550.8 268.4 L1551.4 270.6 L1552.1 270.9 L1552.7 270.4 L1553.4 269.4 L1554.1 270.7 L1554.7 271.2 L1555.4 270.0 L1556.0 271.3 L1556.7 270.1 L1557.4 269.7 L1558.0 269.9 L1558.7 267.4 L1559.3 267.1 L1560.0 267.7 L1560.7 267.3 L1561.3 267.9 L1562.0 267.0 L1562.6 265.6 L1563.3 265.2 L1564.0 264.3 L1564.6 263.8 L1565.3 263.4 L1565.9 264.5 L1566.6 262.8 L1567.3 262.7 L1567.9 263.1 L1568.6 262.3 L1569.2 262.5 L1569.9 260.5 L1570.6 263.3 L1571.2 262.6 L1571.9 263.3 L1572.5 263.6 L1573.2 261.5 L1573.9 266.1 L1574.5 264.0 L1575.2 264.2 L1575.8 262.4 L1576.5 265.2 L1577.2 265.4 L1577.8 265.2 L1578.5 266.7 L1579.1 268.7 L1579.8 268.0 L1580.5 268.4 L1581.1 271.9 L1581.8 271.9 L1582.4 272.5 L1583.1 276.1 L1583.8 274.8 L1584.4 275.2 L1585.1 276.3 L1585.7 276.0 L1586.4 276.9 L1587.1 277.1 L1587.7 276.5 L1588.4 277.2 L1589.0 278.0 L1589.7 278.3 L1590.4 278.7 L1591.0 279.1 L1591.7 278.6 L1592.3 279.1 L1593.0 278.2 L1593.7 278.4 L1594.3 279.9 L1595.0 276.7 L1595.6 279.2 L1596.3 282.1 L1597.0 276.7 L1597.6 280.1 L1598.3 276.6 L1598.9 278.6 L1599.6 279.7 L1600.3 279.4 L1600.9 276.6 L1601.6 275.9 L1602.2 275.5 L1602.9 277.5 L1603.6 276.0 L1604.2 276.1 L1604.9 276.0 L1605.5 275.8 L1606.2 275.6 L1606.9 274.9 L1607.5 272.7 L1608.2 275.6 L1608.8 270.9 L1609.5 274.8 L1610.2 272.6 L1610.8 272.7 L1611.5 272.1 L1612.1 272.0 L1612.8 272.2 L1613.5 271.7 L1614.1 270.7 L1614.8 272.6 L1615.4 271.1 L1616.1 273.0 L1616.8 271.4 L1617.4 270.8 L1618.1 272.0 L1618.7 272.5 L1619.4 270.6 L1620.1 271.3 L1620.7 273.0 L1621.4 270.1 L1622.0 269.8 L1622.7 270.4 L1623.4 268.3 L1624.0 266.3 L1624.7 266.5 L1625.3 267.9 L1626.0 267.6 L1626.7 267.0 L1627.3 266.4 L1628.0 264.4 L1628.6 266.4 L1629.3 266.9 L1630.0 265.0 L1630.6 266.9 L1631.3 265.8 L1631.9 266.8 L1632.6 267.5 L1633.3 266.2 L1633.9 269.9 L1634.6 268.0 L1635.2 269.4 L1635.9 269.6 L1636.6 271.1 L1637.2 271.5 L1637.9 271.4 L1638.5 273.0 L1639.2 271.9 L1639.9 271.1 L1640.5 268.5 L1641.2 271.1 L1641.8 271.0 L1642.5 270.2 L1643.2 270.0 L1643.8 271.4 L1644.5 271.6 L1645.1 272.3 L1645.8 271.3 L1646.5 269.1 L1647.1 269.8 L1647.8 267.8 L1648.4 269.8 L1649.1 269.1 L1649.8 267.8 L1650.4 268.1 L1651.1 267.7 L1651.7 267.0 L1652.4 268.7 L1653.1 270.2 L1653.7 267.4 L1654.4 267.2 L1655.0 265.8 L1655.7 264.8 L1656.4 267.0 L1657.0 263.8 L1657.7 264.0 L1658.3 263.0 L1659.0 263.2 L1659.7 262.1 L1660.3 262.3 L1661.0 259.8 L1661.6 260.6 L1662.3 261.7 L1663.0 258.8 L1663.6 258.9 L1664.3 260.7 L1664.9 259.4 L1665.6 259.9 L1666.3 256.3 L1666.9 258.7 L1667.6 257.2 L1668.2 257.2 L1668.9 259.3 L1669.6 260.5 L1670.2 258.1 L1670.9 259.0 L1671.5 260.2 L1672.2 261.3 L1672.9 260.7 L1673.5 265.2 L1674.2 264.1 L1674.8 263.8 L1675.5 264.2 L1676.2 267.8 L1676.8 268.2 L1677.5 265.8 L1678.1 267.0 L1678.8 268.1 L1679.5 265.6 L1680.1 266.2 L1680.8 268.2 L1681.4 266.0 L1682.1 266.2 L1682.8 265.1 L1683.4 265.6 L1684.1 267.0 L1684.7 265.2 L1685.4 264.6 L1686.1 265.2 L1686.7 267.6 L1687.4 265.8 L1688.0 264.9 L1688.7 265.5 L1689.4 265.7 L1690.0 265.3 L1690.7 263.3 L1691.3 265.5 L1692.0 265.0 L1692.7 266.2 L1693.3 264.0 L1694.0 266.7 L1694.6 265.3 L1695.3 264.2 L1696.0 267.7 L1696.6 266.1 L1697.3 267.4 L1697.9 267.2 L1698.6 268.8 L1699.3 269.2 L1699.9 269.6 L1700.6 269.6 L1701.2 267.5 L1701.9 267.9 L1702.6 270.2 L1703.2 269.4 L1703.9 271.3 L1704.5 271.3 L1705.2 269.9 L1705.9 270.6 L1706.5 270.8 L1707.2 271.3 L1707.8 272.2 L1708.5 273.3 L1709.2 274.1 L1709.8 271.7 L1710.5 272.1 L1711.1 274.4 L1711.8 273.7 L1712.5 273.0 L1713.1 270.2 L1713.8 271.6 L1714.4 272.9 L1715.1 272.0 L1715.8 274.8 L1716.4 272.7 L1717.1 272.9 L1717.7 271.4 L1718.4 271.4 L1719.1 271.8 L1719.7 271.8 L1720.4 272.2 L1721.0 272.8 L1721.7 272.6 L1722.4 273.4 L1723.0 270.9 L1723.7 272.5 L1724.3 272.4 L1725.0 273.8 L1725.7 271.9 L1726.3 272.4 L1727.0 271.1 L1727.6 272.4 L1728.3 272.3 L1729.0 271.1 L1729.6 271.3 L1730.3 271.6 L1730.9 272.2 L1731.6 270.3 L1732.3 272.4 L1732.9 270.9 L1733.6 273.0 L1734.2 272.2 L1734.9 269.8 L1735.6 269.1 L1736.2 271.9 L1736.9 269.4 L1737.5 268.8 L1738.2 267.1 L1738.9 266.8 L1739.5 267.2 L1740.2 266.3 L1740.8 264.2 L1741.5 265.7 L1742.2 264.1 L1742.8 262.2 L1743.5 263.6 L1744.1 261.9 L1744.8 262.4 L1745.5 260.5 L1746.1 261.1 L1746.8 258.6 L1747.4 260.4 L1748.1 258.2 L1748.8 259.9 L1749.4 257.0 L1750.1 259.7 L1750.7 260.8 L1751.4 260.9 L1752.1 262.2 L1752.7 260.3 L1753.4 263.8 L1754.0 264.6 L1754.7 262.4 L1755.4 263.7 L1756.0 264.8 L1756.7 266.2 L1757.3 267.2 L1758.0 265.2 L1758.7 269.2 L1759.3 268.9 L1760.0 268.7 L1760.6 271.3 L1761.3 270.2 L1762.0 272.0 L1762.6 271.4 L1763.3 270.5 L1763.9 272.0 L1764.6 271.6 L1765.3 270.2 L1765.9 268.9 L1766.6 270.0 L1767.2 271.1 L1767.9 270.1 L1768.6 272.2 L1769.2 270.5 L1769.9 270.3 L1770.5 270.4 L1771.2 268.9 L1771.9 269.5 L1772.5 268.8 L1773.2 266.9 L1773.8 267.4 L1774.5 269.9 L1775.2 268.5 L1775.8 268.7 L1776.5 267.2 L1777.1 268.0 L1777.8 269.3 L1778.5 268.4 L1779.1 267.7 L1779.8 269.7 L1780.4 267.9 L1781.1 267.5 L1781.8 269.0 L1782.4 265.9 L1783.1 268.2 L1783.7 266.4 L1784.4 266.7 L1785.1 266.8 L1785.7 267.6 L1786.4 267.6 L1787.0 267.8 L1787.7 267.7 L1788.4 269.0 L1789.0 269.3 L1789.7 268.3 L1790.3 268.3 L1791.0 267.2 L1791.7 266.4 L1792.3 268.2 L1793.0 267.6 L1793.6 268.5 L1794.3 265.7 L1795.0 270.5 L1795.6 266.3 L1796.3 267.7 L1796.9 268.8 L1797.6 266.3 L1798.3 267.2 L1798.9 265.6 L1799.6 266.3 L1800.2 265.8 L1800.9 267.9 L1801.6 268.2 L1802.2 267.5 L1802.9 269.2 L1803.5 269.4 L1804.2 267.9 L1804.9 267.7 L1805.5 267.7 L1806.2 267.5 L1806.8 269.3 L1807.5 268.2 L1808.2 267.6 L1808.8 267.7 L1809.5 268.6 L1810.1 267.6 L1810.8 268.3 L1811.5 267.9 L1812.1 269.4 L1812.8 269.1 L1813.4 266.3 L1814.1 267.6 L1814.8 268.4 L1815.4 267.1 L1816.1 268.3 L1816.7 267.7 L1817.4 267.9 L1818.1 267.1 L1818.7 267.3 L1819.4 267.4 L1820.0 265.1 L1820.7 265.5 L1821.4 265.3 L1822.0 267.9 L1822.7 266.3 L1823.3 266.2 L1824.0 265.8 L1824.7 264.8 L1825.3 264.4 L1826.0 265.8 L1826.6 264.3 L1827.3 266.2 L1828.0 264.5 L1828.6 264.1 L1829.3 263.5 L1829.9 263.4 L1830.6 263.3 L1831.3 264.6 L1831.9 265.2 L1832.6 261.3 L1833.2 262.5 L1833.9 262.7 L1834.6 260.7 L1835.2 260.5 L1835.9 260.2 L1836.5 257.5 L1837.2 260.1 L1837.9 258.7 L1838.5 257.9 L1839.2 257.3 L1839.8 256.7 L1840.5 258.0 L1841.2 255.0 L1841.8 254.9 L1842.5 252.7 L1843.1 252.8 L1843.8 251.4 L1844.5 250.9 L1845.1 249.5 L1845.8 249.1 L1846.4 249.9 L1847.1 249.9 L1847.8 249.3 L1848.4 247.9 L1849.1 248.9 L1849.7 245.9 L1850.4 249.6 L1851.1 248.7 L1851.7 249.2 L1852.4 250.3 L1853.0 248.9 L1853.7 250.6 L1854.4 249.4 L1855.0 250.8 L1855.7 250.1 L1856.3 251.2 L1857.0 252.7 L1857.7 250.8 L1858.3 251.2 L1859.0 251.8 L1859.6 252.8 L1860.3 255.7 L1861.0 252.6 L1861.6 251.4 L1862.3 253.3 L1862.9 252.8 L1863.6 254.4 L1864.3 255.5 L1864.9 254.9 L1865.6 255.7 L1866.2 254.9 L1866.9 257.6 L1867.6 257.0 L1868.2 259.4 L1868.9 259.7 L1869.5 258.0 L1870.2 258.9 L1870.9 259.6 L1871.5 260.5 L1872.2 258.1 L1872.8 259.9 L1873.5 262.0 L1874.2 260.1 L1874.8 260.5 L1875.5 260.4 L1876.1 259.3 L1876.8 261.7 L1877.5 261.0 L1878.1 261.0 L1878.8 261.7 L1879.4 261.9 L1880.1 259.2 L1880.8 261.7 L1881.4 260.7 L1882.1 261.6 L1882.7 260.7 L1883.4 260.7 L1884.1 262.6 L1884.7 261.7 L1885.4 261.5 L1886.0 261.6 L1886.7 262.0 L1887.4 262.0 L1888.0 259.6 L1888.7 261.2 L1889.3 261.9 L1890.0 263.0 L1890.7 263.7 L1891.3 261.4 L1892.0 264.4 L1892.6 262.6 L1893.3 263.0 L1894.0 262.0 L1894.6 262.0 L1895.3 264.2 L1895.9 262.5 L1896.6 262.7 L1897.3 264.0 L1897.9 264.7 L1898.6 261.3 L1899.2 262.7 L1899.9 263.0 L1900.6 264.9 L1901.2 265.7 L1901.9 263.1 L1902.5 263.6 L1903.2 264.1 L1903.9 264.5 L1904.5 263.0 L1905.2 264.3 L1905.8 262.7 L1906.5 260.6 L1907.2 262.0 L1907.8 263.8 L1908.5 264.4 L1909.1 261.3 L1909.8 261.8 L1910.5 263.7 L1911.1 260.2 L1911.8 264.4 L1912.4 265.0 L1913.1 260.8 L1913.8 264.8 L1914.4 263.8 L1915.1 265.5 L1915.7 264.4 L1916.4 263.9 L1917.1 264.3 L1917.7 265.2 L1918.4 264.5 L1919.0 264.3 L1919.7 262.8 L1920.4 264.9 L1921.0 264.4 L1921.7 266.4 L1922.3 264.4 L1923.0 264.4 L1923.7 263.8 L1924.3 265.3 L1925.0 264.3 L1925.6 263.8 L1926.3 266.2 L1927.0 266.4 L1927.6 264.1 L1928.3 263.5 L1928.9 265.8 L1929.6 263.7 L1930.3 267.5 L1930.9 264.3 L1931.6 265.3 L1932.2 262.8 L1932.9 263.9 L1933.6 264.9 L1934.2 264.0 L1934.9 262.8 L1935.5 265.7 L1936.2 263.6 L1936.9 262.3 L1937.5 261.7 L1938.2 261.7 L1938.8 263.1 L1939.5 260.6 L1940.2 261.1 L1940.8 259.9 L1941.5 261.7 L1942.1 259.9 L1942.8 260.7 L1943.5 260.1 L1944.1 258.5 L1944.8 259.6 L1945.4 259.5 L1946.1 257.0 L1946.8 258.7 L1947.4 261.5 L1948.1 257.1 L1948.7 257.9 L1949.4 255.6 L1950.1 257.3 L1950.7 256.0 L1951.4 257.3 L1952.0 256.3 L1952.7 255.0 L1953.4 257.3 L1954.0 255.8 L1954.7 254.9 L1955.3 255.9 L1956.0 254.7 L1956.7 256.0 L1957.3 255.5 L1958.0 255.0 L1958.6 256.0 L1959.3 253.9 L1960.0 256.2 L1960.6 253.0 L1961.3 256.7 L1961.9 255.1 L1962.6 254.5 L1963.3 254.0 L1963.9 255.2 L1964.6 254.4 L1965.2 254.3 L1965.9 255.6 L1966.6 253.9 L1967.2 254.1 L1967.9 254.7 L1968.5 255.4 L1969.2 254.0 L1969.9 254.3 L1970.5 254.1 L1971.2 254.8 L1971.8 255.6 L1972.5 253.0 L1973.2 253.8 L1973.8 253.9 L1974.5 254.5 L1975.1 255.5 L1975.8 253.9 L1976.5 254.1 L1977.1 255.1 L1977.8 252.6 L1978.4 253.2 L1979.1 253.5 L1979.8 254.0 L1980.4 254.4 L1981.1 253.6 L1981.7 256.1 L1982.4 253.6 L1983.1 254.2 L1983.7 255.6 L1984.4 255.4 L1985.0 254.6 L1985.7 255.1 L1986.4 255.7 L1987.0 254.9 L1987.7 255.7 L1988.3 254.2 L1989.0 255.3 L1989.7 253.6 L1990.3 254.5 L1991.0 254.3 L1991.6 256.9 L1992.3 255.2 L1993.0 256.1 L1993.6 254.9 L1994.3 255.7 L1994.9 255.7 L1995.6 255.1 L1996.3 257.0 L1996.9 254.4 L1997.6 256.9 L1998.2 259.1 L1998.9 255.4 L1999.6 256.3 L2000.2 254.6 L2000.9 256.2 L2001.5 254.3 L2002.2 256.8 L2002.9 255.6 L2003.5 254.0 L2004.2 254.5 L2004.8 254.1 L2005.5 255.4 L2006.2 256.5 L2006.8 255.1 L2007.5 254.1 L2008.1 254.3 L2008.8 255.2 L2009.5 252.3 L2010.1 255.4 L2010.8 255.1 L2011.4 251.9 L2012.1 255.6 L2012.8 252.4 L2013.4 253.8 L2014.1 255.1 L2014.7 252.0 L2015.4 251.6 L2016.1 252.3 L2016.7 252.2 L2017.4 253.1 L2018.0 252.5 L2018.7 252.5 L2019.4 252.4 L2020.0 252.6 L2020.7 251.8 L2021.3 253.0 L2022.0 252.6 L2022.7 251.5 L2023.3 254.6 L2024.0 251.2 L2024.6 253.4 L2025.3 251.8 L2026.0 253.0 L2026.6 253.2 L2027.3 253.6 L2027.9 254.2 L2028.6 251.8 L2029.3 255.8 L2029.9 253.3 L2030.6 252.0 L2031.2 251.4 L2031.9 255.5 L2032.6 254.8 L2033.2 253.0 L2033.9 253.9 L2034.5 254.6 L2035.2 253.3 L2035.9 252.8 L2036.5 253.3 L2037.2 254.3 L2037.8 253.4 L2038.5 252.1 L2039.2 254.3 L2039.8 251.7 L2040.5 252.8 L2041.1 255.0 L2041.8 253.9 L2042.5 253.9 L2043.1 253.8 L2043.8 254.9 L2044.4 253.7 L2045.1 251.7 L2045.8 254.1 L2046.4 250.5 L2047.1 251.6 L2047.7 255.5 L2048.4 254.9 L2049.1 253.3 L2049.7 253.7 L2050.4 253.9 L2051.0 254.9 L2051.7 253.0 L2052.4 252.9 L2053.0 253.1 L2053.7 254.0 L2054.3 254.1 L2055.0 253.4 L2055.7 254.6 L2056.3 252.7 L2057.0 253.7 L2057.6 253.1 L2058.3 252.7 L2059.0 255.1 L2059.6 253.5 L2060.3 252.7 L2060.9 253.9 L2061.6 252.7 L2062.3 254.5 L2062.9 254.7 L2063.6 254.9 L2064.2 252.7 L2064.9 253.7 L2065.6 255.8 L2066.2 253.6 L2066.9 255.2 L2067.5 255.5 L2068.2 252.3 L2068.9 255.1 L2069.5 254.6 L2070.2 254.8 L2070.8 255.6 L2071.5 254.3 L2072.2 253.9 L2072.8 254.5 L2073.5 253.5 L2074.1 254.4 L2074.8 251.7 L2075.5 255.7 L2076.1 253.3 L2076.8 254.4 L2077.4 254.2 L2078.1 253.9 L2078.8 253.9 L2079.4 253.9 L2080.1 252.1 L2080.7 253.2 L2081.4 255.1 L2082.1 252.7 L2082.7 252.7 L2083.4 256.1 L2084.0 255.1 L2084.7 255.5 L2085.4 253.7 L2086.0 254.0 L2086.7 254.4 L2087.3 254.2 L2088.0 253.4 L2088.7 251.8 L2089.3 252.5 L2090.0 251.6 L2090.6 254.8 L2091.3 252.5 L2092.0 252.6 L2092.6 253.0 L2093.3 252.6 L2093.9 253.0 L2094.6 251.6 L2095.3 250.5 L2095.9 253.9 L2096.6 251.1 L2097.2 251.2 L2097.9 250.7 L2098.6 250.8 L2099.2 251.2 L2099.9 251.9 L2100.5 249.8 L2101.2 251.1 L2101.9 249.9 L2102.5 251.8 L2103.2 249.0 L2103.8 250.3 L2104.5 250.8 L2105.2 248.5 L2105.8 249.9 L2106.5 249.9 L2107.1 248.7 L2107.8 249.3 L2108.5 250.5 L2109.1 249.6 L2109.8 248.8 L2110.4 249.0 L2111.1 249.6 L2111.8 250.4 L2112.4 249.9 L2113.1 249.8 L2113.7 250.7 L2114.4 247.5 L2115.1 247.9 L2115.7 247.4 L2116.4 251.2 L2117.0 248.5 L2117.7 251.4 L2118.4 252.8 L2119.0 250.8 L2119.7 251.8 L2120.3 252.3 L2121.0 253.3 L2121.7 251.0 L2122.3 252.9 L2123.0 253.3 L2123.6 252.7 L2124.3 252.7 L2125.0 253.9 L2125.6 252.8 L2126.3 252.5 L2126.9 252.2 L2127.6 253.3 L2128.3 252.3 L2128.9 253.3 L2129.6 252.7 L2130.2 253.8 L2130.9 251.7 L2131.6 252.6 L2132.2 252.9 L2132.9 253.0 L2133.5 253.8 L2134.2 253.0 L2134.9 253.5" fill="none" stroke="#f00" stroke-width="2.2" stroke-linejoin="round" shape-rendering="crispEdges"/>
<path d="M157.5 577.7 L158.2 578.9 L158.8 578.3 L159.5 578.1 L160.1 579.1 L160.8 575.3 L161.5 575.8 L162.1 574.8 L162.8 576.2 L163.4 577.4 L164.1 575.9 L164.8 576.4 L165.4 573.1 L166.1 575.6 L166.7 574.1 L167.4 577.4 L168.1 576.1 L168.7 576.0 L169.4 574.5 L170.0 575.2 L170.7 575.1 L171.4 573.7 L172.0 573.3 L172.7 573.6 L173.3 572.8 L174.0 572.7 L174.7 572.9 L175.3 572.2 L176.0 574.0 L176.6 570.8 L177.3 573.7 L178.0 571.7 L178.6 571.7 L179.3 570.5 L179.9 571.9 L180.6 571.6 L181.3 572.0 L181.9 570.9 L182.6 571.6 L183.2 573.7 L183.9 571.7 L184.6 570.3 L185.2 572.1 L185.9 570.6 L186.5 571.3 L187.2 571.2 L187.9 569.8 L188.5 567.6 L189.2 569.6 L189.8 570.6 L190.5 569.2 L191.2 570.2 L191.8 570.7 L192.5 568.6 L193.1 570.8 L193.8 571.2 L194.5 570.3 L195.1 570.3 L195.8 570.1 L196.4 571.5 L197.1 568.6 L197.8 568.3 L198.4 568.9 L199.1 566.8 L199.7 565.9 L200.4 566.6 L201.1 568.1 L201.7 568.1 L202.4 565.4 L203.0 564.8 L203.7 566.8 L204.4 566.8 L205.0 566.9 L205.7 567.7 L206.3 568.3 L207.0 566.9 L207.7 567.3 L208.3 564.9 L209.0 564.7 L209.6 566.5 L210.3 566.9 L211.0 566.9 L211.6 566.6 L212.3 566.7 L212.9 566.7 L213.6 563.2 L214.3 564.4 L214.9 565.9 L215.6 566.0 L216.2 563.1 L216.9 566.5 L217.6 564.3 L218.2 564.5 L218.9 565.0 L219.5 565.5 L220.2 562.6 L220.9 565.6 L221.5 564.3 L222.2 563.1 L222.8 563.7 L223.5 561.1 L224.2 563.0 L224.8 564.0 L225.5 562.7 L226.1 563.1 L226.8 563.2 L227.5 563.4 L228.1 564.5 L228.8 563.1 L229.4 562.6 L230.1 563.6 L230.8 565.5 L231.4 562.2 L232.1 563.2 L232.7 560.4 L233.4 564.1 L234.1 563.1 L234.7 563.9 L235.4 562.0 L236.0 560.6 L236.7 563.0 L237.4 562.7 L238.0 560.5 L238.7 559.7 L239.3 562.1 L240.0 561.2 L240.7 564.8 L241.3 560.5 L242.0 560.5 L242.6 561.0 L243.3 558.9 L244.0 559.8 L244.6 563.1 L245.3 560.7 L245.9 560.0 L246.6 559.1 L247.3 561.4 L247.9 561.4 L248.6 560.8 L249.2 559.9 L249.9 560.7 L250.6 560.8 L251.2 559.3 L251.9 560.9 L252.5 557.3 L253.2 558.3 L253.9 559.5 L254.5 559.6 L255.2 558.1 L255.8 560.0 L256.5 560.8 L257.2 559.9 L257.8 559.5 L258.5 560.2 L259.1 559.5 L259.8 557.4 L260.5 558.5 L261.1 560.3 L261.8 556.9 L262.4 558.4 L263.1 557.6 L263.8 556.8 L264.4 556.5 L265.1 557.7 L265.7 557.8 L266.4 557.6 L267.1 555.1 L267.7 556.4 L268.4 557.0 L269.0 557.5 L269.7 556.8 L270.4 556.4 L271.0 556.1 L271.7 555.0 L272.3 551.9 L273.0 552.1 L273.7 550.0 L274.3 546.8 L275.0 546.6 L275.6 550.3 L276.3 545.0 L277.0 542.5 L277.6 543.5 L278.3 545.3 L278.9 542.1 L279.6 541.4 L280.3 539.2 L280.9 538.0 L281.6 538.3 L282.2 536.2 L282.9 533.7 L283.6 533.7 L284.2 532.9 L284.9 530.3 L285.5 530.3 L286.2 530.0 L286.9 529.0 L287.5 533.1 L288.2 534.0 L288.8 536.2 L289.5 536.9 L290.2 538.2 L290.8 541.8 L291.5 538.2 L292.1 540.0 L292.8 538.8 L293.5 539.7 L294.1 539.6 L294.8 537.6 L295.4 538.0 L296.1 538.4 L296.8 538.3 L297.4 538.1 L298.1 538.0 L298.7 539.7 L299.4 541.2 L300.1 541.0 L300.7 540.3 L301.4 542.9 L302.0 543.6 L302.7 545.3 L303.4 548.3 L304.0 546.9 L304.7 548.3 L305.3 548.3 L306.0 550.1 L306.7 550.6 L307.3 554.1 L308.0 552.9 L308.6 552.1 L309.3 555.4 L310.0 551.2 L310.6 554.0 L311.3 554.2 L311.9 553.6 L312.6 552.5 L313.3 552.7 L313.9 552.4 L314.6 553.9 L315.2 549.9 L315.9 552.2 L316.6 553.1 L317.2 552.1 L317.9 550.5 L318.5 552.6 L319.2 551.9 L319.9 553.9 L320.5 554.7 L321.2 553.0 L321.8 550.4 L322.5 552.6 L323.2 551.7 L323.8 553.6 L324.5 554.4 L325.1 551.7 L325.8 552.7 L326.5 550.7 L327.1 548.1 L327.8 544.5 L328.4 544.4 L329.1 541.0 L329.8 543.0 L330.4 540.9 L331.1 541.9 L331.7 540.4 L332.4 537.7 L333.1 541.4 L333.7 542.4 L334.4 544.1 L335.0 541.6 L335.7 542.7 L336.4 545.0 L337.0 544.7 L337.7 545.3 L338.3 546.8 L339.0 552.5 L339.7 549.2 L340.3 549.5 L341.0 550.8 L341.6 551.7 L342.3 553.5 L343.0 553.1 L343.6 552.9 L344.3 551.9 L344.9 552.0 L345.6 551.0 L346.3 549.8 L346.9 554.4 L347.6 551.2 L348.2 553.1 L348.9 551.3 L349.6 551.6 L350.2 551.5 L350.9 549.9 L351.5 551.6 L352.2 552.1 L352.9 552.7 L353.5 552.2 L354.2 552.9 L354.8 551.9 L355.5 551.5 L356.2 548.9 L356.8 550.7 L357.5 553.4 L358.1 551.5 L358.8 552.3 L359.5 551.0 L360.1 550.3 L360.8 553.8 L361.4 551.6 L362.1 553.0 L362.8 551.7 L363.4 550.6 L364.1 548.0 L364.7 551.0 L365.4 548.8 L366.1 547.9 L366.7 552.3 L367.4 551.6 L368.0 551.4 L368.7 550.6 L369.4 550.4 L370.0 551.0 L370.7 550.5 L371.3 550.4 L372.0 551.2 L372.7 546.9 L373.3 551.2 L374.0 549.2 L374.6 551.0 L375.3 551.4 L376.0 548.7 L376.6 550.7 L377.3 550.6 L377.9 548.6 L378.6 548.7 L379.3 549.5 L379.9 546.3 L380.6 548.5 L381.2 549.3 L381.9 548.4 L382.6 546.8 L383.2 548.2 L383.9 550.6 L384.5 550.3 L385.2 548.3 L385.9 547.3 L386.5 548.3 L387.2 548.2 L387.8 547.2 L388.5 547.5 L389.2 548.7 L389.8 549.0 L390.5 544.4 L391.1 548.7 L391.8 547.5 L392.5 548.6 L393.1 546.9 L393.8 547.3 L394.4 548.7 L395.1 542.4 L395.8 548.1 L396.4 546.0 L397.1 543.1 L397.7 541.7 L398.4 545.3 L399.1 543.2 L399.7 545.4 L400.4 544.0 L401.0 543.1 L401.7 544.1 L402.4 542.6 L403.0 542.8 L403.7 542.4 L404.3 541.1 L405.0 540.8 L405.7 539.5 L406.3 535.1 L407.0 534.5 L407.6 532.3 L408.3 529.4 L409.0 524.8 L409.6 522.9 L410.3 520.5 L410.9 516.5 L411.6 513.5 L412.3 503.2 L412.9 493.8 L413.6 482.6 L414.2 471.1 L414.9 459.0 L415.6 446.4 L416.2 439.5 L416.9 429.4 L417.5 417.9 L418.2 403.1 L418.9 392.7 L419.5 384.9 L420.2 373.5 L420.8 367.5 L421.5 363.3 L422.2 364.7 L422.8 368.3 L423.5 376.9 L424.1 383.6 L424.8 394.3 L425.5 403.8 L426.1 416.8 L426.8 427.9 L427.4 438.7 L428.1 446.2 L428.8 458.6 L429.4 465.1 L430.1 476.4 L430.7 483.6 L431.4 494.4 L432.1 503.8 L432.7 507.1 L433.4 513.6 L434.0 516.3 L434.7 519.7 L435.4 522.6 L436.0 523.8 L436.7 526.9 L437.3 528.6 L438.0 530.3 L438.7 531.5 L439.3 535.8 L440.0 534.8 L440.6 537.5 L441.3 538.0 L442.0 536.2 L442.6 538.8 L443.3 536.3 L443.9 538.3 L444.6 539.3 L445.3 536.5 L445.9 536.2 L446.6 536.2 L447.2 540.4 L447.9 536.9 L448.6 535.7 L449.2 538.4 L449.9 537.1 L450.5 537.3 L451.2 536.0 L451.9 534.4 L452.5 536.3 L453.2 535.8 L453.8 535.1 L454.5 535.7 L455.2 535.9 L455.8 538.1 L456.5 537.9 L457.1 537.7 L457.8 536.2 L458.5 535.3 L459.1 537.2 L459.8 537.4 L460.4 538.1 L461.1 536.7 L461.8 536.5 L462.4 537.0 L463.1 535.3 L463.7 535.4 L464.4 537.2 L465.1 534.7 L465.7 536.2 L466.4 537.1 L467.0 536.2 L467.7 536.0 L468.4 533.5 L469.0 534.1 L469.7 533.2 L470.3 533.5 L471.0 532.3 L471.7 530.8 L472.3 532.1 L473.0 529.2 L473.6 527.0 L474.3 525.3 L475.0 524.8 L475.6 522.9 L476.3 524.4 L476.9 521.8 L477.6 519.3 L478.3 517.4 L478.9 515.0 L479.6 513.9 L480.2 513.5 L480.9 510.3 L481.6 506.4 L482.2 503.9 L482.9 498.6 L483.5 499.4 L484.2 495.7 L484.9 495.7 L485.5 491.8 L486.2 490.0 L486.8 490.0 L487.5 488.5 L488.2 491.2 L488.8 490.6 L489.5 491.8 L490.1 493.3 L490.8 494.2 L491.5 497.5 L492.1 499.4 L492.8 504.0 L493.4 504.4 L494.1 507.4 L494.8 509.0 L495.4 511.6 L496.1 514.1 L496.7 518.4 L497.4 518.8 L498.1 521.7 L498.7 521.4 L499.4 522.2 L500.0 521.0 L500.7 525.5 L501.4 528.0 L502.0 525.8 L502.7 528.8 L503.3 528.8 L504.0 527.4 L504.7 529.9 L505.3 528.3 L506.0 529.5 L506.6 531.8 L507.3 530.6 L508.0 528.9 L508.6 532.2 L509.3 528.8 L509.9 529.7 L510.6 529.0 L511.3 528.7 L511.9 527.1 L512.6 525.3 L513.2 528.9 L513.9 524.3 L514.6 523.2 L515.2 520.0 L515.9 521.9 L516.5 522.1 L517.2 520.2 L517.9 517.9 L518.5 510.2 L519.2 501.3 L519.8 492.3 L520.5 485.2 L521.2 474.3 L521.8 466.1 L522.5 457.1 L523.1 451.9 L523.8 447.3 L524.5 437.2 L525.1 430.4 L525.8 419.4 L526.4 417.5 L527.1 410.2 L527.8 406.7 L528.4 401.6 L529.1 398.3 L529.7 397.7 L530.4 402.2 L531.1 405.4 L531.7 409.4 L532.4 417.0 L533.0 423.4 L533.7 432.8 L534.4 439.1 L535.0 445.6 L535.7 454.2 L536.3 460.8 L537.0 471.8 L537.7 478.6 L538.3 487.0 L539.0 498.0 L539.6 506.5 L540.3 514.7 L541.0 520.5 L541.6 522.6 L542.3 525.9 L542.9 527.7 L543.6 528.0 L544.3 530.4 L544.9 532.9 L545.6 531.9 L546.2 533.8 L546.9 535.7 L547.6 537.1 L548.2 538.7 L548.9 536.9 L549.5 539.6 L550.2 540.3 L550.9 541.7 L551.5 539.2 L552.2 538.5 L552.8 537.7 L553.5 540.4 L554.2 541.4 L554.8 538.8 L555.5 540.3 L556.1 540.8 L556.8 541.0 L557.5 539.2 L558.1 540.6 L558.8 539.7 L559.4 538.5 L560.1 540.1 L560.8 540.2 L561.4 538.5 L562.1 540.3 L562.7 542.3 L563.4 537.8 L564.1 540.6 L564.7 540.9 L565.4 539.8 L566.0 540.1 L566.7 539.3 L567.4 541.4 L568.0 538.4 L568.7 539.4 L569.3 537.1 L570.0 540.0 L570.7 540.0 L571.3 537.3 L572.0 538.4 L572.6 540.1 L573.3 538.8 L574.0 537.8 L574.6 536.1 L575.3 539.8 L575.9 541.8 L576.6 538.7 L577.3 539.8 L577.9 539.8 L578.6 539.1 L579.2 539.3 L579.9 539.3 L580.6 538.0 L581.2 542.3 L581.9 542.6 L582.5 539.4 L583.2 541.3 L583.9 537.9 L584.5 538.6 L585.2 540.3 L585.8 537.3 L586.5 537.1 L587.2 539.2 L587.8 536.1 L588.5 540.9 L589.1 539.6 L589.8 538.9 L590.5 539.3 L591.1 537.1 L591.8 536.8 L592.4 538.9 L593.1 538.7 L593.8 537.4 L594.4 536.7 L595.1 535.7 L595.7 537.8 L596.4 533.6 L597.1 533.9 L597.7 533.8 L598.4 532.0 L599.0 531.6 L599.7 531.5 L600.4 533.5 L601.0 533.9 L601.7 531.3 L602.3 527.7 L603.0 527.8 L603.7 526.9 L604.3 525.0 L605.0 523.0 L605.6 522.2 L606.3 516.9 L607.0 516.4 L607.6 515.2 L608.3 513.5 L608.9 510.6 L609.6 508.0 L610.3 505.5 L610.9 502.6 L611.6 501.5 L612.2 499.1 L612.9 496.6 L613.6 497.5 L614.2 496.0 L614.9 492.8 L615.5 493.1 L616.2 493.2 L616.9 491.6 L617.5 491.4 L618.2 492.5 L618.8 490.7 L619.5 492.4 L620.2 496.6 L620.8 498.1 L621.5 501.4 L622.1 500.7 L622.8 504.4 L623.5 505.6 L624.1 507.7 L624.8 504.4 L625.4 504.9 L626.1 505.4 L626.8 505.0 L627.4 502.8 L628.1 502.9 L628.7 501.6 L629.4 506.1 L630.1 503.1 L630.7 503.8 L631.4 504.0 L632.0 506.1 L632.7 508.6 L633.4 508.9 L634.0 511.1 L634.7 515.8 L635.3 516.0 L636.0 516.8 L636.7 517.5 L637.3 519.3 L638.0 519.3 L638.6 521.1 L639.3 519.9 L640.0 518.8 L640.6 518.2 L641.3 516.4 L641.9 516.9 L642.6 518.7 L643.3 513.3 L643.9 510.3 L644.6 511.9 L645.2 508.0 L645.9 507.2 L646.6 501.7 L647.2 498.7 L647.9 492.5 L648.5 487.4 L649.2 485.4 L649.9 483.1 L650.5 478.3 L651.2 475.5 L651.8 476.1 L652.5 476.6 L653.2 477.5 L653.8 479.2 L654.5 484.1 L655.1 483.1 L655.8 484.7 L656.5 486.5 L657.1 491.6 L657.8 491.3 L658.4 499.0 L659.1 502.5 L659.8 506.6 L660.4 514.4 L661.1 518.3 L661.7 522.3 L662.4 520.7 L663.1 524.7 L663.7 526.0 L664.4 528.7 L665.0 527.4 L665.7 529.0 L666.4 533.5 L667.0 532.4 L667.7 530.3 L668.3 533.0 L669.0 531.7 L669.7 532.0 L670.3 531.5 L671.0 534.5 L671.6 532.6 L672.3 533.7 L673.0 533.6 L673.6 531.6 L674.3 532.7 L674.9 534.8 L675.6 531.8 L676.3 534.2 L676.9 533.8 L677.6 534.9 L678.2 535.0 L678.9 535.2 L679.6 534.3 L680.2 534.6 L680.9 533.4 L681.5 533.7 L682.2 535.6 L682.9 533.7 L683.5 535.9 L684.2 535.9 L684.8 533.6 L685.5 535.5 L686.2 533.8 L686.8 535.3 L687.5 534.0 L688.1 535.5 L688.8 535.4 L689.5 534.0 L690.1 538.1 L690.8 536.9 L691.4 533.7 L692.1 536.4 L692.8 535.5 L693.4 538.9 L694.1 536.4 L694.7 537.1 L695.4 536.5 L696.1 537.7 L696.7 536.4 L697.4 536.1 L698.0 536.8 L698.7 537.0 L699.4 538.5 L700.0 538.0 L700.7 537.4 L701.3 537.6 L702.0 537.0 L702.7 538.5 L703.3 535.8 L704.0 538.2 L704.6 540.1 L705.3 538.1 L706.0 537.7 L706.6 538.6 L707.3 537.3 L707.9 537.4 L708.6 539.1 L709.3 537.1 L709.9 540.2 L710.6 538.0 L711.2 536.8 L711.9 535.7 L712.6 535.8 L713.2 532.8 L713.9 535.7 L714.5 536.2 L715.2 535.4 L715.9 533.8 L716.5 535.0 L717.2 534.8 L717.8 533.7 L718.5 534.3 L719.2 535.2 L719.8 534.4 L720.5 533.4 L721.1 533.9 L721.8 534.1 L722.5 531.8 L723.1 534.0 L723.8 533.7 L724.4 531.0 L725.1 531.6 L725.8 536.2 L726.4 534.0 L727.1 535.6 L727.7 533.4 L728.4 535.8 L729.1 534.6 L729.7 533.0 L730.4 534.2 L731.0 535.6 L731.7 536.2 L732.4 533.0 L733.0 530.8 L733.7 529.3 L734.3 530.4 L735.0 530.0 L735.7 527.9 L736.3 527.0 L737.0 527.9 L737.6 527.4 L738.3 527.4 L739.0 525.1 L739.6 527.0 L740.3 530.2 L740.9 528.2 L741.6 531.9 L742.3 529.8 L742.9 530.2 L743.6 532.9 L744.2 535.6 L744.9 536.2 L745.6 539.4 L746.2 540.0 L746.9 542.9 L747.5 540.4 L748.2 541.0 L748.9 538.8 L749.5 538.7 L750.2 540.1 L750.8 538.7 L751.5 539.1 L752.2 539.4 L752.8 539.4 L753.5 536.3 L754.1 537.4 L754.8 538.0 L755.5 535.7 L756.1 534.4 L756.8 534.6 L757.4 537.1 L758.1 534.4 L758.8 535.9 L759.4 532.8 L760.1 533.9 L760.7 529.6 L761.4 530.1 L762.1 529.5 L762.7 530.5 L763.4 527.7 L764.0 527.5 L764.7 524.5 L765.4 523.6 L766.0 525.0 L766.7 524.5 L767.3 523.8 L768.0 523.6 L768.7 521.4 L769.3 525.0 L770.0 522.6 L770.6 524.3 L771.3 524.0 L772.0 521.2 L772.6 521.4 L773.3 522.4 L773.9 525.0 L774.6 527.1 L775.3 525.9 L775.9 528.0 L776.6 525.9 L777.2 527.3 L777.9 527.5 L778.6 529.3 L779.2 528.3 L779.9 530.1 L780.5 531.5 L781.2 530.5 L781.9 530.2 L782.5 531.0 L783.2 530.1 L783.8 530.5 L784.5 533.1 L785.2 532.6 L785.8 530.4 L786.5 532.1 L787.1 533.1 L787.8 533.7 L788.5 533.5 L789.1 534.0 L789.8 532.7 L790.4 532.7 L791.1 532.3 L791.8 533.9 L792.4 533.5 L793.1 534.5 L793.7 533.4 L794.4 530.7 L795.1 529.6 L795.7 529.4 L796.4 529.8 L797.0 531.5 L797.7 528.6 L798.4 527.5 L799.0 529.6 L799.7 530.6 L800.3 530.3 L801.0 531.2 L801.7 528.8 L802.3 527.9 L803.0 528.0 L803.6 526.5 L804.3 527.2 L805.0 529.7 L805.6 530.7 L806.3 529.6 L806.9 528.8 L807.6 529.1 L808.3 531.1 L808.9 529.8 L809.6 534.4 L810.2 535.7 L810.9 534.9 L811.6 535.1 L812.2 532.7 L812.9 535.9 L813.5 535.7 L814.2 530.9 L814.9 533.5 L815.5 534.5 L816.2 536.0 L816.8 532.4 L817.5 533.1 L818.2 534.7 L818.8 533.1 L819.5 531.8 L820.1 531.1 L820.8 531.3 L821.5 529.6 L822.1 531.2 L822.8 527.9 L823.4 528.8 L824.1 528.2 L824.8 527.4 L825.4 524.7 L826.1 523.3 L826.7 522.3 L827.4 520.6 L828.1 520.5 L828.7 517.5 L829.4 518.7 L830.0 518.4 L830.7 512.2 L831.4 511.5 L832.0 507.2 L832.7 507.4 L833.3 504.8 L834.0 502.0 L834.7 499.4 L835.3 499.9 L836.0 502.2 L836.6 501.9 L837.3 501.0 L838.0 500.6 L838.6 502.5 L839.3 502.7 L839.9 503.2 L840.6 504.9 L841.3 508.0 L841.9 508.4 L842.6 508.9 L843.2 507.9 L843.9 508.1 L844.6 511.9 L845.2 510.7 L845.9 513.3 L846.5 511.4 L847.2 514.2 L847.9 513.8 L848.5 513.4 L849.2 513.9 L849.8 517.5 L850.5 516.7 L851.2 515.5 L851.8 516.5 L852.5 514.6 L853.1 519.3 L853.8 519.2 L854.5 517.2 L855.1 518.6 L855.8 514.6 L856.4 519.7 L857.1 519.3 L857.8 519.2 L858.4 520.2 L859.1 519.7 L859.7 518.2 L860.4 518.8 L861.1 519.7 L861.7 521.4 L862.4 520.5 L863.0 519.9 L863.7 521.6 L864.4 520.0 L865.0 524.8 L865.7 523.1 L866.3 522.1 L867.0 524.3 L867.7 526.2 L868.3 526.3 L869.0 529.0 L869.6 525.3 L870.3 530.1 L871.0 528.7 L871.6 530.7 L872.3 532.5 L872.9 529.4 L873.6 529.8 L874.3 531.7 L874.9 530.5 L875.6 530.5 L876.2 533.6 L876.9 535.3 L877.6 533.3 L878.2 534.7 L878.9 539.0 L879.5 534.7 L880.2 534.0 L880.9 534.2 L881.5 535.1 L882.2 534.2 L882.8 535.6 L883.5 535.1 L884.2 536.0 L884.8 535.1 L885.5 534.8 L886.1 533.8 L886.8 533.2 L887.5 534.7 L888.1 534.6 L888.8 535.5 L889.4 535.0 L890.1 534.6 L890.8 538.0 L891.4 535.4 L892.1 536.5 L892.7 533.5 L893.4 536.0 L894.1 536.1 L894.7 535.0 L895.4 533.1 L896.0 535.7 L896.7 533.0 L897.4 531.7 L898.0 531.3 L898.7 533.3 L899.3 532.3 L900.0 533.7 L900.7 533.3 L901.3 533.9 L902.0 532.2 L902.6 531.6 L903.3 531.1 L904.0 529.7 L904.6 529.2 L905.3 529.0 L905.9 529.8 L906.6 528.0 L907.3 528.5 L907.9 529.6 L908.6 524.6 L909.2 525.9 L909.9 525.0 L910.6 525.3 L911.2 522.2 L911.9 522.1 L912.5 524.6 L913.2 518.4 L913.9 518.5 L914.5 517.3 L915.2 515.0 L915.8 512.0 L916.5 512.3 L917.2 505.4 L917.8 503.3 L918.5 500.9 L919.1 497.2 L919.8 496.8 L920.5 492.9 L921.1 494.8 L921.8 492.5 L922.4 495.9 L923.1 496.6 L923.8 498.6 L924.4 501.8 L925.1 506.9 L925.7 508.1 L926.4 511.7 L927.1 513.1 L927.7 513.3 L928.4 518.5 L929.0 520.4 L929.7 519.8 L930.4 523.7 L931.0 524.4 L931.7 523.6 L932.3 526.0 L933.0 529.0 L933.7 530.1 L934.3 529.5 L935.0 532.7 L935.6 529.5 L936.3 528.0 L937.0 527.0 L937.6 530.8 L938.3 528.2 L938.9 528.3 L939.6 527.6 L940.3 527.5 L940.9 528.0 L941.6 528.9 L942.2 528.9 L942.9 528.6 L943.6 529.2 L944.2 527.2 L944.9 526.3 L945.5 527.5 L946.2 524.7 L946.9 528.3 L947.5 527.7 L948.2 527.6 L948.8 525.3 L949.5 525.9 L950.2 526.3 L950.8 524.7 L951.5 524.3 L952.1 525.2 L952.8 525.3 L953.5 523.9 L954.1 525.8 L954.8 526.9 L955.4 524.4 L956.1 522.9 L956.8 522.3 L957.4 524.3 L958.1 522.1 L958.7 522.0 L959.4 520.9 L960.1 519.3 L960.7 521.4 L961.4 518.3 L962.0 517.6 L962.7 513.3 L963.4 517.5 L964.0 514.1 L964.7 511.4 L965.3 509.0 L966.0 507.8 L966.7 505.2 L967.3 507.0 L968.0 504.6 L968.6 506.0 L969.3 506.0 L970.0 508.2 L970.6 506.5 L971.3 507.2 L971.9 508.3 L972.6 507.7 L973.3 509.1 L973.9 510.9 L974.6 513.0 L975.2 513.4 L975.9 513.1 L976.6 515.9 L977.2 514.5 L977.9 513.8 L978.5 518.7 L979.2 517.6 L979.9 517.8 L980.5 517.5 L981.2 519.0 L981.8 521.9 L982.5 519.4 L983.2 521.6 L983.8 517.6 L984.5 517.8 L985.1 515.0 L985.8 513.1 L986.5 512.2 L987.1 511.8 L987.8 509.9 L988.4 509.3 L989.1 510.8 L989.8 511.4 L990.4 509.4 L991.1 508.9 L991.7 507.2 L992.4 509.6 L993.1 509.3 L993.7 506.4 L994.4 508.1 L995.0 507.9 L995.7 506.8 L996.4 511.5 L997.0 511.7 L997.7 511.4 L998.3 513.7 L999.0 512.0 L999.7 513.9 L1000.3 516.2 L1001.0 514.8 L1001.6 516.3 L1002.3 515.6 L1003.0 518.6 L1003.6 520.3 L1004.3 518.4 L1004.9 519.6 L1005.6 521.4 L1006.3 524.0 L1006.9 522.1 L1007.6 522.1 L1008.2 523.2 L1008.9 525.0 L1009.6 521.6 L1010.2 523.5 L1010.9 525.6 L1011.5 523.9 L1012.2 523.7 L1012.9 525.3 L1013.5 522.7 L1014.2 527.1 L1014.8 525.1 L1015.5 524.1 L1016.2 524.8 L1016.8 524.7 L1017.5 524.5 L1018.1 523.3 L1018.8 524.6 L1019.5 522.8 L1020.1 526.9 L1020.8 523.7 L1021.4 524.2 L1022.1 524.2 L1022.8 526.2 L1023.4 525.1 L1024.1 527.2 L1024.7 524.8 L1025.4 525.6 L1026.1 525.4 L1026.7 525.1 L1027.4 527.0 L1028.0 527.1 L1028.7 527.3 L1029.4 523.8 L1030.0 526.0 L1030.7 524.1 L1031.3 524.1 L1032.0 523.2 L1032.7 524.4 L1033.3 526.4 L1034.0 527.4 L1034.6 527.8 L1035.3 524.4 L1036.0 524.8 L1036.6 525.9 L1037.3 525.8 L1037.9 525.9 L1038.6 523.3 L1039.3 525.3 L1039.9 526.3 L1040.6 525.9 L1041.2 525.4 L1041.9 524.6 L1042.6 525.5 L1043.2 527.7 L1043.9 526.2 L1044.5 527.0 L1045.2 527.7 L1045.9 524.2 L1046.5 526.4 L1047.2 526.2 L1047.8 527.3 L1048.5 525.3 L1049.2 525.3 L1049.8 524.7 L1050.5 525.8 L1051.1 525.2 L1051.8 525.4 L1052.5 526.0 L1053.1 525.1 L1053.8 524.3 L1054.4 525.0 L1055.1 524.8 L1055.8 526.1 L1056.4 527.2 L1057.1 525.1 L1057.7 522.3 L1058.4 526.3 L1059.1 525.4 L1059.7 524.2 L1060.4 525.1 L1061.0 527.8 L1061.7 523.4 L1062.4 523.8 L1063.0 525.2 L1063.7 521.1 L1064.3 524.5 L1065.0 526.3 L1065.7 525.7 L1066.3 525.4 L1067.0 524.4 L1067.6 524.6 L1068.3 528.3 L1069.0 524.9 L1069.6 526.3 L1070.3 522.8 L1070.9 524.7 L1071.6 524.8 L1072.3 524.4 L1072.9 521.3 L1073.6 523.5 L1074.2 525.8 L1074.9 524.6 L1075.6 522.7 L1076.2 524.8 L1076.9 521.1 L1077.5 524.2 L1078.2 523.8 L1078.9 522.4 L1079.5 521.8 L1080.2 520.8 L1080.8 522.6 L1081.5 525.0 L1082.2 523.7 L1082.8 523.0 L1083.5 523.5 L1084.1 521.4 L1084.8 522.6 L1085.5 518.0 L1086.1 520.9 L1086.8 520.7 L1087.4 521.1 L1088.1 520.7 L1088.8 521.4 L1089.4 519.6 L1090.1 521.3 L1090.7 519.5 L1091.4 520.7 L1092.1 519.4 L1092.7 520.0 L1093.4 519.2 L1094.0 517.4 L1094.7 518.1 L1095.4 515.8 L1096.0 517.1 L1096.7 517.1 L1097.3 515.6 L1098.0 515.0 L1098.7 515.7 L1099.3 515.1 L1100.0 514.4 L1100.6 510.7 L1101.3 509.8 L1102.0 510.2 L1102.6 509.2 L1103.3 504.4 L1103.9 508.1 L1104.6 505.8 L1105.3 501.5 L1105.9 503.3 L1106.6 499.9 L1107.2 498.9 L1107.9 496.3 L1108.6 495.0 L1109.2 494.0 L1109.9 493.0 L1110.5 489.7 L1111.2 489.3 L1111.9 486.7 L1112.5 485.1 L1113.2 482.8 L1113.8 481.3 L1114.5 482.3 L1115.2 476.1 L1115.8 474.0 L1116.5 472.8 L1117.1 469.3 L1117.8 465.6 L1118.5 464.8 L1119.1 460.4 L1119.8 460.1 L1120.4 460.4 L1121.1 459.9 L1121.8 459.5 L1122.4 461.2 L1123.1 463.3 L1123.7 466.1 L1124.4 466.5 L1125.1 472.0 L1125.7 474.0 L1126.4 478.1 L1127.0 479.3 L1127.7 483.0 L1128.4 481.7 L1129.0 488.2 L1129.7 493.2 L1130.3 491.6 L1131.0 490.5 L1131.7 492.0 L1132.3 490.7 L1133.0 490.1 L1133.6 487.2 L1134.3 487.2 L1135.0 486.7 L1135.6 483.3 L1136.3 482.0 L1136.9 478.8 L1137.6 478.3 L1138.3 474.8 L1138.9 470.8 L1139.6 469.0 L1140.2 465.6 L1140.9 461.7 L1141.6 456.3 L1142.2 449.1 L1142.9 444.1 L1143.5 442.0 L1144.2 436.6 L1144.9 434.1 L1145.5 431.1 L1146.2 428.2 L1146.8 425.0 L1147.5 425.5 L1148.2 422.7 L1148.8 419.8 L1149.5 417.2 L1150.1 418.0 L1150.8 419.8 L1151.5 417.7 L1152.1 425.2 L1152.8 424.0 L1153.4 426.4 L1154.1 429.6 L1154.8 429.1 L1155.4 432.9 L1156.1 434.1 L1156.7 435.8 L1157.4 434.2 L1158.1 436.9 L1158.7 438.1 L1159.4 437.4 L1160.0 436.7 L1160.7 436.7 L1161.4 435.9 L1162.0 437.9 L1162.7 439.9 L1163.3 441.8 L1164.0 442.0 L1164.7 443.2 L1165.3 442.8 L1166.0 445.5 L1166.6 447.3 L1167.3 452.2 L1168.0 455.7 L1168.6 461.1 L1169.3 466.5 L1169.9 469.6 L1170.6 473.1 L1171.3 477.7 L1171.9 481.4 L1172.6 482.7 L1173.2 480.2 L1173.9 485.7 L1174.6 483.8 L1175.2 483.3 L1175.9 485.4 L1176.5 487.9 L1177.2 483.8 L1177.9 489.5 L1178.5 488.6 L1179.2 489.6 L1179.8 487.6 L1180.5 489.1 L1181.2 488.9 L1181.8 492.4 L1182.5 490.4 L1183.1 492.5 L1183.8 491.8 L1184.5 491.2 L1185.1 495.2 L1185.8 496.5 L1186.4 497.8 L1187.1 496.0 L1187.8 497.8 L1188.4 499.7 L1189.1 500.3 L1189.7 501.2 L1190.4 505.0 L1191.1 502.5 L1191.7 505.2 L1192.4 504.4 L1193.0 507.9 L1193.7 506.6 L1194.4 506.6 L1195.0 509.6 L1195.7 509.4 L1196.3 509.5 L1197.0 510.2 L1197.7 510.1 L1198.3 511.8 L1199.0 511.7 L1199.6 513.6 L1200.3 510.6 L1201.0 513.5 L1201.6 512.4 L1202.3 509.9 L1202.9 513.8 L1203.6 509.6 L1204.3 512.7 L1204.9 509.6 L1205.6 512.5 L1206.2 511.7 L1206.9 511.9 L1207.6 509.8 L1208.2 511.3 L1208.9 513.9 L1209.5 513.2 L1210.2 512.4 L1210.9 512.3 L1211.5 511.7 L1212.2 514.4 L1212.8 512.5 L1213.5 513.9 L1214.2 510.3 L1214.8 509.6 L1215.5 512.7 L1216.1 508.9 L1216.8 508.7 L1217.5 508.5 L1218.1 507.8 L1218.8 506.2 L1219.4 504.8 L1220.1 504.9 L1220.8 501.9 L1221.4 501.7 L1222.1 499.5 L1222.7 498.8 L1223.4 500.4 L1224.1 497.1 L1224.7 493.9 L1225.4 497.3 L1226.0 497.7 L1226.7 500.2 L1227.4 497.9 L1228.0 497.6 L1228.7 500.1 L1229.3 503.3 L1230.0 501.5 L1230.7 504.7 L1231.3 504.8 L1232.0 506.1 L1232.6 505.3 L1233.3 507.6 L1234.0 507.6 L1234.6 509.7 L1235.3 509.7 L1235.9 512.9 L1236.6 511.5 L1237.3 512.5 L1237.9 510.4 L1238.6 512.3 L1239.2 516.9 L1239.9 513.2 L1240.6 511.5 L1241.2 513.6 L1241.9 513.3 L1242.5 512.8 L1243.2 513.0 L1243.9 512.7 L1244.5 514.5 L1245.2 511.6 L1245.8 513.4 L1246.5 514.1 L1247.2 511.7 L1247.8 515.7 L1248.5 512.6 L1249.1 512.3 L1249.8 511.5 L1250.5 513.1 L1251.1 509.8 L1251.8 512.5 L1252.4 514.5 L1253.1 511.8 L1253.8 512.3 L1254.4 509.7 L1255.1 511.6 L1255.7 509.2 L1256.4 509.1 L1257.1 509.1 L1257.7 511.0 L1258.4 507.1 L1259.0 504.6 L1259.7 506.5 L1260.4 506.5 L1261.0 505.5 L1261.7 504.1 L1262.3 504.6 L1263.0 503.0 L1263.7 502.0 L1264.3 499.3 L1265.0 497.0 L1265.6 499.9 L1266.3 495.2 L1267.0 496.3 L1267.6 494.2 L1268.3 488.9 L1268.9 487.2 L1269.6 486.3 L1270.3 484.6 L1270.9 479.9 L1271.6 478.6 L1272.2 475.8 L1272.9 474.0 L1273.6 474.5 L1274.2 473.0 L1274.9 470.8 L1275.5 474.1 L1276.2 473.3 L1276.9 473.8 L1277.5 473.1 L1278.2 476.6 L1278.8 476.9 L1279.5 477.9 L1280.2 478.4 L1280.8 480.1 L1281.5 482.9 L1282.1 482.4 L1282.8 484.6 L1283.5 486.6 L1284.1 491.4 L1284.8 493.7 L1285.4 496.1 L1286.1 500.9 L1286.8 500.6 L1287.4 500.4 L1288.1 501.3 L1288.7 502.2 L1289.4 502.1 L1290.1 505.9 L1290.7 505.2 L1291.4 503.0 L1292.0 506.6 L1292.7 504.8 L1293.4 505.8 L1294.0 504.9 L1294.7 505.9 L1295.3 505.8 L1296.0 506.1 L1296.7 505.9 L1297.3 501.1 L1298.0 503.4 L1298.6 503.6 L1299.3 502.9 L1300.0 500.7 L1300.6 501.6 L1301.3 501.2 L1301.9 498.1 L1302.6 499.0 L1303.3 500.3 L1303.9 497.6 L1304.6 497.6 L1305.2 497.0 L1305.9 496.9 L1306.6 496.3 L1307.2 495.9 L1307.9 493.8 L1308.5 493.0 L1309.2 491.2 L1309.9 489.9 L1310.5 487.5 L1311.2 486.4 L1311.8 483.9 L1312.5 478.6 L1313.2 474.7 L1313.8 475.6 L1314.5 471.7 L1315.1 467.8 L1315.8 468.7 L1316.5 467.2 L1317.1 461.8 L1317.8 460.4 L1318.4 459.4 L1319.1 458.4 L1319.8 458.9 L1320.4 457.6 L1321.1 459.1 L1321.7 458.7 L1322.4 460.7 L1323.1 459.4 L1323.7 460.9 L1324.4 462.0 L1325.0 461.0 L1325.7 461.5 L1326.4 460.4 L1327.0 461.4 L1327.7 465.0 L1328.3 464.9 L1329.0 464.5 L1329.7 465.6 L1330.3 467.8 L1331.0 471.3 L1331.6 469.1 L1332.3 473.8 L1333.0 473.3 L1333.6 478.0 L1334.3 475.0 L1334.9 478.6 L1335.6 477.5 L1336.3 478.3 L1336.9 480.9 L1337.6 479.0 L1338.2 480.2 L1338.9 480.1 L1339.6 478.3 L1340.2 480.1 L1340.9 481.6 L1341.5 481.0 L1342.2 481.1 L1342.9 480.2 L1343.5 483.4 L1344.2 481.0 L1344.8 484.4 L1345.5 482.7 L1346.2 483.8 L1346.8 481.5 L1347.5 484.2 L1348.1 483.5 L1348.8 485.6 L1349.5 487.9 L1350.1 487.7 L1350.8 488.5 L1351.4 490.4 L1352.1 488.6 L1352.8 491.3 L1353.4 491.3 L1354.1 494.5 L1354.7 493.0 L1355.4 496.9 L1356.1 498.3 L1356.7 493.5 L1357.4 496.7 L1358.0 495.4 L1358.7 499.5 L1359.4 497.0 L1360.0 499.1 L1360.7 498.7 L1361.3 496.9 L1362.0 495.7 L1362.7 498.7 L1363.3 495.9 L1364.0 496.3 L1364.6 496.9 L1365.3 494.1 L1366.0 492.7 L1366.6 490.6 L1367.3 491.4 L1367.9 488.5 L1368.6 486.1 L1369.3 486.2 L1369.9 484.9 L1370.6 482.2 L1371.2 482.7 L1371.9 482.8 L1372.6 481.2 L1373.2 481.9 L1373.9 479.5 L1374.5 477.3 L1375.2 473.1 L1375.9 474.8 L1376.5 474.7 L1377.2 471.3 L1377.8 472.1 L1378.5 467.4 L1379.2 467.3 L1379.8 466.5 L1380.5 466.0 L1381.1 462.1 L1381.8 463.2 L1382.5 458.7 L1383.1 455.3 L1383.8 456.2 L1384.4 456.9 L1385.1 453.5 L1385.8 455.2 L1386.4 451.9 L1387.1 454.1 L1387.7 448.2 L1388.4 453.9 L1389.1 448.2 L1389.7 451.9 L1390.4 452.3 L1391.0 457.0 L1391.7 459.4 L1392.4 462.9 L1393.0 467.7 L1393.7 471.8 L1394.3 473.3 L1395.0 478.2 L1395.7 476.4 L1396.3 478.8 L1397.0 479.8 L1397.6 483.6 L1398.3 485.4 L1399.0 484.6 L1399.6 485.1 L1400.3 484.7 L1400.9 487.3 L1401.6 487.8 L1402.3 485.4 L1402.9 485.6 L1403.6 485.0 L1404.2 485.1 L1404.9 485.3 L1405.6 481.2 L1406.2 483.0 L1406.9 484.3 L1407.5 481.5 L1408.2 484.0 L1408.9 483.7 L1409.5 480.2 L1410.2 480.0 L1410.8 482.6 L1411.5 478.4 L1412.2 479.1 L1412.8 478.3 L1413.5 480.6 L1414.1 481.2 L1414.8 481.6 L1415.5 481.6 L1416.1 479.6 L1416.8 483.4 L1417.4 482.2 L1418.1 482.1 L1418.8 485.4 L1419.4 483.7 L1420.1 484.4 L1420.7 485.5 L1421.4 487.5 L1422.1 485.2 L1422.7 486.6 L1423.4 483.1 L1424.0 485.5 L1424.7 490.2 L1425.4 490.8 L1426.0 488.6 L1426.7 488.3 L1427.3 488.4 L1428.0 489.3 L1428.7 490.8 L1429.3 489.9 L1430.0 492.7 L1430.6 493.1 L1431.3 492.2 L1432.0 492.4 L1432.6 492.9 L1433.3 494.0 L1433.9 494.4 L1434.6 495.5 L1435.3 492.3 L1435.9 494.1 L1436.6 494.6 L1437.2 494.8 L1437.9 495.4 L1438.6 493.6 L1439.2 495.6 L1439.9 496.9 L1440.5 494.2 L1441.2 495.4 L1441.9 494.4 L1442.5 493.4 L1443.2 492.3 L1443.8 492.6 L1444.5 494.7 L1445.2 491.7 L1445.8 490.2 L1446.5 490.2 L1447.1 491.5 L1447.8 489.2 L1448.5 490.8 L1449.1 490.1 L1449.8 489.0 L1450.4 490.4 L1451.1 485.9 L1451.8 486.4 L1452.4 486.4 L1453.1 486.6 L1453.7 483.6 L1454.4 484.1 L1455.1 486.0 L1455.7 483.0 L1456.4 483.8 L1457.0 480.9 L1457.7 478.7 L1458.4 478.6 L1459.0 477.8 L1459.7 473.9 L1460.3 470.0 L1461.0 468.5 L1461.7 466.8 L1462.3 464.8 L1463.0 461.8 L1463.6 461.9 L1464.3 457.7 L1465.0 458.7 L1465.6 454.2 L1466.3 452.3 L1466.9 453.1 L1467.6 450.5 L1468.3 447.0 L1468.9 444.7 L1469.6 443.4 L1470.2 442.1 L1470.9 441.0 L1471.6 440.9 L1472.2 437.7 L1472.9 438.5 L1473.5 438.6 L1474.2 436.9 L1474.9 440.6 L1475.5 441.8 L1476.2 440.2 L1476.8 438.6 L1477.5 440.7 L1478.2 444.0 L1478.8 441.1 L1479.5 442.3 L1480.1 445.5 L1480.8 448.0 L1481.5 449.7 L1482.1 451.3 L1482.8 448.1 L1483.4 451.7 L1484.1 452.5 L1484.8 454.2 L1485.4 458.5 L1486.1 460.2 L1486.7 461.0 L1487.4 464.6 L1488.1 467.0 L1488.7 470.6 L1489.4 470.2 L1490.0 473.6 L1490.7 473.2 L1491.4 475.9 L1492.0 476.4 L1492.7 477.8 L1493.3 478.5 L1494.0 481.6 L1494.7 479.6 L1495.3 480.2 L1496.0 481.6 L1496.6 483.7 L1497.3 484.7 L1498.0 484.2 L1498.6 483.9 L1499.3 484.5 L1499.9 484.3 L1500.6 485.9 L1501.3 485.1 L1501.9 485.1 L1502.6 484.4 L1503.2 483.8 L1503.9 484.4 L1504.6 481.4 L1505.2 481.7 L1505.9 480.7 L1506.5 478.2 L1507.2 480.1 L1507.9 477.3 L1508.5 474.4 L1509.2 476.1 L1509.8 474.6 L1510.5 473.8 L1511.2 471.8 L1511.8 470.9 L1512.5 471.0 L1513.1 468.5 L1513.8 470.2 L1514.5 469.9 L1515.1 471.0 L1515.8 469.7 L1516.4 471.0 L1517.1 468.7 L1517.8 469.9 L1518.4 472.3 L1519.1 473.6 L1519.7 473.4 L1520.4 470.9 L1521.1 472.0 L1521.7 473.1 L1522.4 476.1 L1523.0 474.3 L1523.7 475.9 L1524.4 476.7 L1525.0 477.2 L1525.7 476.9 L1526.3 477.8 L1527.0 478.8 L1527.7 478.1 L1528.3 478.0 L1529.0 479.1 L1529.6 480.0 L1530.3 481.0 L1531.0 476.2 L1531.6 477.7 L1532.3 477.1 L1532.9 475.1 L1533.6 475.7 L1534.3 474.7 L1534.9 473.8 L1535.6 473.8 L1536.2 474.9 L1536.9 472.3 L1537.6 472.5 L1538.2 472.7 L1538.9 471.3 L1539.5 470.8 L1540.2 470.2 L1540.9 471.2 L1541.5 474.1 L1542.2 470.6 L1542.8 474.5 L1543.5 473.0 L1544.2 473.7 L1544.8 476.7 L1545.5 477.2 L1546.1 478.0 L1546.8 477.7 L1547.5 479.1 L1548.1 477.2 L1548.8 478.3 L1549.4 478.8 L1550.1 477.0 L1550.8 475.4 L1551.4 477.9 L1552.1 474.7 L1552.7 472.8 L1553.4 474.0 L1554.1 473.8 L1554.7 471.9 L1555.4 468.7 L1556.0 469.3 L1556.7 468.7 L1557.4 468.2 L1558.0 464.6 L1558.7 463.6 L1559.3 464.2 L1560.0 462.6 L1560.7 461.8 L1561.3 461.3 L1562.0 456.9 L1562.6 456.1 L1563.3 455.8 L1564.0 457.8 L1564.6 455.3 L1565.3 456.8 L1565.9 452.9 L1566.6 456.8 L1567.3 458.6 L1567.9 460.3 L1568.6 458.9 L1569.2 463.8 L1569.9 461.7 L1570.6 466.2 L1571.2 468.1 L1571.9 467.5 L1572.5 467.4 L1573.2 473.4 L1573.9 472.5 L1574.5 471.8 L1575.2 475.4 L1575.8 475.0 L1576.5 478.2 L1577.2 478.2 L1577.8 478.4 L1578.5 483.8 L1579.1 483.7 L1579.8 485.9 L1580.5 487.6 L1581.1 488.4 L1581.8 488.8 L1582.4 490.9 L1583.1 491.8 L1583.8 491.5 L1584.4 491.0 L1585.1 491.7 L1585.7 493.8 L1586.4 493.6 L1587.1 491.9 L1587.7 493.2 L1588.4 493.3 L1589.0 493.5 L1589.7 492.9 L1590.4 493.6 L1591.0 492.7 L1591.7 494.1 L1592.3 494.0 L1593.0 494.3 L1593.7 494.3 L1594.3 494.2 L1595.0 492.6 L1595.6 492.1 L1596.3 493.8 L1597.0 493.1 L1597.6 494.6 L1598.3 492.8 L1598.9 492.9 L1599.6 491.6 L1600.3 492.9 L1600.9 492.2 L1601.6 493.8 L1602.2 492.0 L1602.9 493.2 L1603.6 490.0 L1604.2 488.4 L1604.9 491.2 L1605.5 489.9 L1606.2 490.8 L1606.9 487.3 L1607.5 485.4 L1608.2 489.1 L1608.8 487.0 L1609.5 485.4 L1610.2 488.5 L1610.8 485.4 L1611.5 483.9 L1612.1 485.2 L1612.8 483.8 L1613.5 483.3 L1614.1 484.8 L1614.8 484.3 L1615.4 484.1 L1616.1 484.3 L1616.8 482.8 L1617.4 485.6 L1618.1 487.4 L1618.7 485.5 L1619.4 486.9 L1620.1 488.0 L1620.7 485.4 L1621.4 485.0 L1622.0 484.9 L1622.7 485.8 L1623.4 487.8 L1624.0 486.9 L1624.7 488.9 L1625.3 486.9 L1626.0 490.1 L1626.7 487.9 L1627.3 488.4 L1628.0 488.8 L1628.6 488.6 L1629.3 488.8 L1630.0 489.7 L1630.6 488.8 L1631.3 489.6 L1631.9 488.0 L1632.6 488.0 L1633.3 487.1 L1633.9 489.8 L1634.6 487.7 L1635.2 489.2 L1635.9 488.6 L1636.6 488.5 L1637.2 487.9 L1637.9 488.7 L1638.5 488.4 L1639.2 489.6 L1639.9 487.0 L1640.5 486.5 L1641.2 485.2 L1641.8 489.2 L1642.5 485.2 L1643.2 486.8 L1643.8 486.3 L1644.5 483.2 L1645.1 483.1 L1645.8 483.7 L1646.5 481.4 L1647.1 478.3 L1647.8 478.6 L1648.4 478.9 L1649.1 475.9 L1649.8 474.8 L1650.4 474.6 L1651.1 474.8 L1651.7 471.2 L1652.4 469.4 L1653.1 469.2 L1653.7 467.8 L1654.4 465.8 L1655.0 466.4 L1655.7 464.6 L1656.4 466.6 L1657.0 464.1 L1657.7 460.3 L1658.3 461.7 L1659.0 463.0 L1659.7 461.3 L1660.3 460.7 L1661.0 460.9 L1661.6 460.4 L1662.3 462.4 L1663.0 461.3 L1663.6 461.1 L1664.3 463.8 L1664.9 461.9 L1665.6 464.4 L1666.3 463.6 L1666.9 465.1 L1667.6 465.9 L1668.2 466.0 L1668.9 467.5 L1669.6 471.0 L1670.2 468.5 L1670.9 473.3 L1671.5 472.5 L1672.2 474.1 L1672.9 472.0 L1673.5 474.7 L1674.2 474.2 L1674.8 477.2 L1675.5 474.7 L1676.2 477.5 L1676.8 475.8 L1677.5 478.9 L1678.1 477.2 L1678.8 476.7 L1679.5 476.8 L1680.1 478.1 L1680.8 481.1 L1681.4 477.5 L1682.1 478.0 L1682.8 477.6 L1683.4 475.8 L1684.1 473.7 L1684.7 473.0 L1685.4 468.6 L1686.1 465.7 L1686.7 468.3 L1687.4 467.0 L1688.0 467.6 L1688.7 468.7 L1689.4 471.3 L1690.0 471.7 L1690.7 471.1 L1691.3 471.6 L1692.0 473.8 L1692.7 473.5 L1693.3 473.4 L1694.0 476.1 L1694.6 479.5 L1695.3 478.6 L1696.0 480.0 L1696.6 483.7 L1697.3 484.8 L1697.9 485.8 L1698.6 483.7 L1699.3 486.0 L1699.9 487.7 L1700.6 487.7 L1701.2 486.1 L1701.9 486.6 L1702.6 486.1 L1703.2 486.6 L1703.9 488.0 L1704.5 488.2 L1705.2 486.8 L1705.9 489.0 L1706.5 488.6 L1707.2 490.2 L1707.8 488.0 L1708.5 489.2 L1709.2 486.2 L1709.8 490.2 L1710.5 490.2 L1711.1 490.7 L1711.8 489.8 L1712.5 489.9 L1713.1 489.9 L1713.8 491.7 L1714.4 489.0 L1715.1 490.3 L1715.8 491.3 L1716.4 490.1 L1717.1 489.5 L1717.7 490.4 L1718.4 491.3 L1719.1 493.0 L1719.7 490.3 L1720.4 488.2 L1721.0 492.4 L1721.7 491.1 L1722.4 491.9 L1723.0 491.0 L1723.7 491.1 L1724.3 488.7 L1725.0 491.9 L1725.7 489.6 L1726.3 491.6 L1727.0 488.0 L1727.6 491.6 L1728.3 489.4 L1729.0 486.2 L1729.6 488.7 L1730.3 488.1 L1730.9 487.5 L1731.6 485.2 L1732.3 488.8 L1732.9 484.5 L1733.6 485.7 L1734.2 480.4 L1734.9 483.2 L1735.6 481.4 L1736.2 478.8 L1736.9 478.3 L1737.5 473.8 L1738.2 473.1 L1738.9 470.6 L1739.5 469.4 L1740.2 466.7 L1740.8 468.2 L1741.5 468.1 L1742.2 468.0 L1742.8 468.4 L1743.5 468.0 L1744.1 468.4 L1744.8 469.7 L1745.5 471.3 L1746.1 470.1 L1746.8 472.5 L1747.4 475.5 L1748.1 475.3 L1748.8 474.1 L1749.4 478.2 L1750.1 475.9 L1750.7 479.4 L1751.4 482.7 L1752.1 483.8 L1752.7 484.9 L1753.4 484.4 L1754.0 484.6 L1754.7 488.0 L1755.4 487.9 L1756.0 489.7 L1756.7 486.7 L1757.3 485.9 L1758.0 486.4 L1758.7 484.5 L1759.3 486.0 L1760.0 486.1 L1760.6 485.6 L1761.3 487.7 L1762.0 487.4 L1762.6 484.2 L1763.3 483.5 L1763.9 485.4 L1764.6 484.7 L1765.3 481.4 L1765.9 481.6 L1766.6 481.2 L1767.2 480.2 L1767.9 480.7 L1768.6 479.6 L1769.2 481.9 L1769.9 481.3 L1770.5 478.4 L1771.2 479.6 L1771.9 479.7 L1772.5 482.3 L1773.2 479.7 L1773.8 481.8 L1774.5 482.9 L1775.2 479.9 L1775.8 482.0 L1776.5 481.7 L1777.1 483.0 L1777.8 480.4 L1778.5 482.1 L1779.1 480.7 L1779.8 484.1 L1780.4 481.0 L1781.1 483.9 L1781.8 482.1 L1782.4 483.4 L1783.1 483.6 L1783.7 484.9 L1784.4 485.7 L1785.1 486.6 L1785.7 487.0 L1786.4 485.3 L1787.0 483.8 L1787.7 486.8 L1788.4 483.6 L1789.0 485.2 L1789.7 484.3 L1790.3 484.4 L1791.0 485.5 L1791.7 483.8 L1792.3 485.1 L1793.0 485.1 L1793.6 486.6 L1794.3 486.7 L1795.0 486.3 L1795.6 485.3 L1796.3 487.5 L1796.9 486.5 L1797.6 483.6 L1798.3 485.7 L1798.9 485.9 L1799.6 484.2 L1800.2 485.6 L1800.9 484.8 L1801.6 484.1 L1802.2 485.3 L1802.9 484.5 L1803.5 483.7 L1804.2 485.3 L1804.9 482.9 L1805.5 486.7 L1806.2 484.8 L1806.8 485.4 L1807.5 486.5 L1808.2 486.5 L1808.8 484.9 L1809.5 485.7 L1810.1 486.5 L1810.8 487.1 L1811.5 484.1 L1812.1 485.4 L1812.8 483.5 L1813.4 483.5 L1814.1 484.4 L1814.8 484.0 L1815.4 482.6 L1816.1 482.5 L1816.7 483.3 L1817.4 481.2 L1818.1 482.9 L1818.7 480.8 L1819.4 483.8 L1820.0 481.9 L1820.7 482.2 L1821.4 480.4 L1822.0 481.9 L1822.7 480.8 L1823.3 480.7 L1824.0 479.5 L1824.7 479.8 L1825.3 478.4 L1826.0 478.8 L1826.6 477.0 L1827.3 476.4 L1828.0 476.3 L1828.6 475.5 L1829.3 474.6 L1829.9 472.9 L1830.6 472.8 L1831.3 473.6 L1831.9 471.8 L1832.6 471.3 L1833.2 469.5 L1833.9 471.3 L1834.6 468.6 L1835.2 469.0 L1835.9 467.7 L1836.5 468.9 L1837.2 464.8 L1837.9 463.9 L1838.5 465.9 L1839.2 462.9 L1839.8 465.2 L1840.5 465.3 L1841.2 466.0 L1841.8 467.4 L1842.5 465.1 L1843.1 467.8 L1843.8 469.1 L1844.5 470.0 L1845.1 466.9 L1845.8 468.4 L1846.4 471.8 L1847.1 468.5 L1847.8 471.8 L1848.4 471.3 L1849.1 472.0 L1849.7 469.6 L1850.4 470.4 L1851.1 471.6 L1851.7 474.2 L1852.4 475.1 L1853.0 473.8 L1853.7 475.9 L1854.4 476.4 L1855.0 475.6 L1855.7 476.0 L1856.3 475.2 L1857.0 476.5 L1857.7 477.0 L1858.3 479.6 L1859.0 479.1 L1859.6 477.7 L1860.3 478.4 L1861.0 476.8 L1861.6 474.8 L1862.3 478.2 L1862.9 478.6 L1863.6 476.7 L1864.3 479.3 L1864.9 479.1 L1865.6 478.7 L1866.2 475.1 L1866.9 477.6 L1867.6 478.3 L1868.2 476.3 L1868.9 476.7 L1869.5 478.5 L1870.2 480.0 L1870.9 478.3 L1871.5 477.5 L1872.2 476.5 L1872.8 475.7 L1873.5 476.0 L1874.2 477.6 L1874.8 476.4 L1875.5 478.8 L1876.1 475.2 L1876.8 475.4 L1877.5 476.9 L1878.1 477.2 L1878.8 477.0 L1879.4 475.5 L1880.1 475.9 L1880.8 478.1 L1881.4 476.4 L1882.1 476.3 L1882.7 477.8 L1883.4 477.6 L1884.1 477.1 L1884.7 479.4 L1885.4 475.5 L1886.0 477.9 L1886.7 476.8 L1887.4 479.0 L1888.0 476.6 L1888.7 478.9 L1889.3 477.7 L1890.0 481.7 L1890.7 478.9 L1891.3 481.7 L1892.0 478.1 L1892.6 478.4 L1893.3 479.8 L1894.0 477.4 L1894.6 478.6 L1895.3 481.9 L1895.9 481.6 L1896.6 480.1 L1897.3 482.0 L1897.9 481.3 L1898.6 481.5 L1899.2 479.7 L1899.9 482.4 L1900.6 480.5 L1901.2 483.3 L1901.9 480.1 L1902.5 484.8 L1903.2 480.7 L1903.9 479.9 L1904.5 480.2 L1905.2 482.2 L1905.8 482.1 L1906.5 480.8 L1907.2 482.7 L1907.8 484.2 L1908.5 481.8 L1909.1 482.7 L1909.8 482.8 L1910.5 482.8 L1911.1 479.4 L1911.8 483.7 L1912.4 481.7 L1913.1 481.9 L1913.8 483.3 L1914.4 478.3 L1915.1 482.8 L1915.7 482.1 L1916.4 483.9 L1917.1 482.2 L1917.7 483.5 L1918.4 483.2 L1919.0 480.2 L1919.7 481.7 L1920.4 480.8 L1921.0 481.7 L1921.7 480.6 L1922.3 479.8 L1923.0 481.6 L1923.7 481.3 L1924.3 482.3 L1925.0 483.9 L1925.6 481.3 L1926.3 481.4 L1927.0 483.3 L1927.6 483.0 L1928.3 479.6 L1928.9 481.7 L1929.6 479.7 L1930.3 480.4 L1930.9 480.7 L1931.6 481.0 L1932.2 480.5 L1932.9 480.9 L1933.6 480.8 L1934.2 482.1 L1934.9 480.7 L1935.5 477.9 L1936.2 480.6 L1936.9 478.8 L1937.5 476.4 L1938.2 476.2 L1938.8 477.1 L1939.5 476.7 L1940.2 476.5 L1940.8 473.6 L1941.5 474.6 L1942.1 477.3 L1942.8 471.8 L1943.5 471.8 L1944.1 473.1 L1944.8 473.0 L1945.4 471.5 L1946.1 472.0 L1946.8 471.2 L1947.4 469.9 L1948.1 470.6 L1948.7 469.9 L1949.4 470.3 L1950.1 470.3 L1950.7 467.8 L1951.4 468.4 L1952.0 466.7 L1952.7 467.2 L1953.4 467.5 L1954.0 467.9 L1954.7 465.7 L1955.3 467.3 L1956.0 466.1 L1956.7 465.8 L1957.3 465.8 L1958.0 465.4 L1958.6 466.6 L1959.3 464.6 L1960.0 466.8 L1960.6 465.6 L1961.3 468.3 L1961.9 465.8 L1962.6 466.9 L1963.3 467.6 L1963.9 467.7 L1964.6 468.8 L1965.2 469.1 L1965.9 466.9 L1966.6 466.6 L1967.2 469.1 L1967.9 468.0 L1968.5 467.4 L1969.2 467.7 L1969.9 468.9 L1970.5 469.0 L1971.2 465.3 L1971.8 467.1 L1972.5 467.5 L1973.2 467.0 L1973.8 469.9 L1974.5 470.1 L1975.1 468.4 L1975.8 470.5 L1976.5 468.3 L1977.1 470.5 L1977.8 469.8 L1978.4 469.2 L1979.1 469.6 L1979.8 468.4 L1980.4 470.5 L1981.1 468.7 L1981.7 469.9 L1982.4 468.2 L1983.1 468.3 L1983.7 469.5 L1984.4 469.6 L1985.0 471.1 L1985.7 469.3 L1986.4 470.0 L1987.0 470.1 L1987.7 472.2 L1988.3 469.9 L1989.0 468.2 L1989.7 467.8 L1990.3 469.2 L1991.0 469.8 L1991.6 468.2 L1992.3 468.2 L1993.0 468.5 L1993.6 469.7 L1994.3 470.5 L1994.9 468.8 L1995.6 468.6 L1996.3 471.3 L1996.9 472.0 L1997.6 470.4 L1998.2 469.0 L1998.9 469.0 L1999.6 470.6 L2000.2 467.5 L2000.9 467.6 L2001.5 470.8 L2002.2 467.7 L2002.9 468.5 L2003.5 472.1 L2004.2 468.7 L2004.8 471.0 L2005.5 468.8 L2006.2 467.7 L2006.8 469.5 L2007.5 468.7 L2008.1 469.8 L2008.8 466.7 L2009.5 469.1 L2010.1 468.6 L2010.8 469.2 L2011.4 468.4 L2012.1 466.6 L2012.8 469.4 L2013.4 468.8 L2014.1 468.6 L2014.7 468.1 L2015.4 467.6 L2016.1 466.3 L2016.7 464.6 L2017.4 464.8 L2018.0 466.5 L2018.7 463.7 L2019.4 465.6 L2020.0 467.5 L2020.7 465.1 L2021.3 468.7 L2022.0 464.0 L2022.7 467.0 L2023.3 463.6 L2024.0 466.6 L2024.6 468.3 L2025.3 465.7 L2026.0 464.5 L2026.6 464.7 L2027.3 467.0 L2027.9 467.3 L2028.6 466.7 L2029.3 465.6 L2029.9 464.8 L2030.6 465.2 L2031.2 464.9 L2031.9 464.2 L2032.6 467.7 L2033.2 468.0 L2033.9 468.1 L2034.5 468.6 L2035.2 465.6 L2035.9 464.1 L2036.5 466.8 L2037.2 466.2 L2037.8 465.1 L2038.5 467.2 L2039.2 466.1 L2039.8 467.5 L2040.5 467.2 L2041.1 465.7 L2041.8 466.8 L2042.5 466.2 L2043.1 467.3 L2043.8 466.9 L2044.4 465.7 L2045.1 467.6 L2045.8 466.8 L2046.4 466.9 L2047.1 467.3 L2047.7 470.1 L2048.4 467.8 L2049.1 467.1 L2049.7 466.7 L2050.4 465.5 L2051.0 467.7 L2051.7 467.9 L2052.4 467.3 L2053.0 469.1 L2053.7 468.9 L2054.3 469.4 L2055.0 468.4 L2055.7 470.8 L2056.3 469.8 L2057.0 468.4 L2057.6 469.4 L2058.3 470.9 L2059.0 469.0 L2059.6 471.6 L2060.3 469.6 L2060.9 468.0 L2061.6 471.5 L2062.3 470.1 L2062.9 470.9 L2063.6 470.8 L2064.2 472.6 L2064.9 471.3 L2065.6 472.6 L2066.2 470.5 L2066.9 471.8 L2067.5 471.0 L2068.2 471.8 L2068.9 474.7 L2069.5 471.0 L2070.2 472.5 L2070.8 471.6 L2071.5 472.5 L2072.2 470.9 L2072.8 471.2 L2073.5 469.6 L2074.1 473.3 L2074.8 471.7 L2075.5 471.9 L2076.1 469.7 L2076.8 473.2 L2077.4 472.5 L2078.1 470.4 L2078.8 471.1 L2079.4 470.2 L2080.1 471.5 L2080.7 467.3 L2081.4 470.1 L2082.1 470.0 L2082.7 470.5 L2083.4 467.8 L2084.0 468.0 L2084.7 467.3 L2085.4 469.6 L2086.0 468.7 L2086.7 469.3 L2087.3 468.8 L2088.0 468.3 L2088.7 465.8 L2089.3 466.8 L2090.0 468.5 L2090.6 467.1 L2091.3 465.2 L2092.0 465.2 L2092.6 465.5 L2093.3 465.6 L2093.9 465.9 L2094.6 465.6 L2095.3 466.0 L2095.9 466.7 L2096.6 466.1 L2097.2 463.9 L2097.9 467.7 L2098.6 464.8 L2099.2 464.2 L2099.9 466.4 L2100.5 466.9 L2101.2 465.8 L2101.9 467.0 L2102.5 465.3 L2103.2 465.5 L2103.8 464.5 L2104.5 467.4 L2105.2 466.6 L2105.8 468.8 L2106.5 466.6 L2107.1 468.8 L2107.8 467.8 L2108.5 470.2 L2109.1 468.4 L2109.8 470.5 L2110.4 467.8 L2111.1 468.9 L2111.8 469.1 L2112.4 471.4 L2113.1 467.7 L2113.7 469.2 L2114.4 471.3 L2115.1 471.2 L2115.7 471.4 L2116.4 472.2 L2117.0 471.6 L2117.7 472.9 L2118.4 473.8 L2119.0 471.0 L2119.7 473.9 L2120.3 471.3 L2121.0 470.6 L2121.7 472.1 L2122.3 472.1 L2123.0 472.5 L2123.6 470.7 L2124.3 472.0 L2125.0 471.4 L2125.6 473.5 L2126.3 472.2 L2126.9 471.4 L2127.6 470.8 L2128.3 472.1 L2128.9 474.6 L2129.6 469.9 L2130.2 471.3 L2130.9 473.7 L2131.6 473.4 L2132.2 471.9 L2132.9 472.0 L2133.5 471.6 L2134.2 471.0 L2134.9 471.8" fill="none" stroke="#000" stroke-width="2.0" stroke-linejoin="round" shape-rendering="crispEdges"/>
<path d="M157.5 790.0 L158.2 791.1 L158.8 787.5 L159.5 791.1 L160.1 789.1 L160.8 788.2 L161.5 788.1 L162.1 787.7 L162.8 788.5 L163.4 789.5 L164.1 789.1 L164.8 789.1 L165.4 786.5 L166.1 786.5 L166.7 789.7 L167.4 789.0 L168.1 790.1 L168.7 789.0 L169.4 786.5 L170.0 788.8 L170.7 788.0 L171.4 787.5 L172.0 786.3 L172.7 787.1 L173.3 786.8 L174.0 787.8 L174.7 786.9 L175.3 788.3 L176.0 785.7 L176.6 786.9 L177.3 786.8 L178.0 785.3 L178.6 784.8 L179.3 787.0 L179.9 786.4 L180.6 785.6 L181.3 786.1 L181.9 784.8 L182.6 785.7 L183.2 784.7 L183.9 785.4 L184.6 786.2 L185.2 784.7 L185.9 785.8 L186.5 783.7 L187.2 784.4 L187.9 783.2 L188.5 784.4 L189.2 784.5 L189.8 784.1 L190.5 783.9 L191.2 785.5 L191.8 785.5 L192.5 782.6 L193.1 785.0 L193.8 781.8 L194.5 782.8 L195.1 783.2 L195.8 783.4 L196.4 782.1 L197.1 782.3 L197.8 783.1 L198.4 782.1 L199.1 782.1 L199.7 783.4 L200.4 783.5 L201.1 782.4 L201.7 782.4 L202.4 782.2 L203.0 781.6 L203.7 781.5 L204.4 780.8 L205.0 782.5 L205.7 781.6 L206.3 781.5 L207.0 781.7 L207.7 782.0 L208.3 782.8 L209.0 780.9 L209.6 780.7 L210.3 781.2 L211.0 780.1 L211.6 782.2 L212.3 781.7 L212.9 781.4 L213.6 780.5 L214.3 781.3 L214.9 781.5 L215.6 780.9 L216.2 780.0 L216.9 778.4 L217.6 781.1 L218.2 779.7 L218.9 779.1 L219.5 780.8 L220.2 780.2 L220.9 778.3 L221.5 779.6 L222.2 779.4 L222.8 780.6 L223.5 777.6 L224.2 779.1 L224.8 779.3 L225.5 780.9 L226.1 778.2 L226.8 776.2 L227.5 777.8 L228.1 779.4 L228.8 780.0 L229.4 780.9 L230.1 779.4 L230.8 778.1 L231.4 779.8 L232.1 778.8 L232.7 778.6 L233.4 778.8 L234.1 780.0 L234.7 777.7 L235.4 777.5 L236.0 778.5 L236.7 778.5 L237.4 777.6 L238.0 777.5 L238.7 778.8 L239.3 779.8 L240.0 779.1 L240.7 779.0 L241.3 779.5 L242.0 776.1 L242.6 776.6 L243.3 777.4 L244.0 776.8 L244.6 777.0 L245.3 778.1 L245.9 776.6 L246.6 777.5 L247.3 775.7 L247.9 776.8 L248.6 779.2 L249.2 777.2 L249.9 778.1 L250.6 778.4 L251.2 777.1 L251.9 778.2 L252.5 777.8 L253.2 778.3 L253.9 776.9 L254.5 776.0 L255.2 776.4 L255.8 776.8 L256.5 777.9 L257.2 777.1 L257.8 776.9 L258.5 777.1 L259.1 778.4 L259.8 776.6 L260.5 778.8 L261.1 775.9 L261.8 776.6 L262.4 778.1 L263.1 777.7 L263.8 776.2 L264.4 777.0 L265.1 776.4 L265.7 778.0 L266.4 777.6 L267.1 776.3 L267.7 777.4 L268.4 776.6 L269.0 776.9 L269.7 777.0 L270.4 776.3 L271.0 777.3 L271.7 777.3 L272.3 777.2 L273.0 777.9 L273.7 776.3 L274.3 774.9 L275.0 775.5 L275.6 775.7 L276.3 775.0 L277.0 774.9 L277.6 774.4 L278.3 772.8 L278.9 772.1 L279.6 770.6 L280.3 772.3 L280.9 770.6 L281.6 769.6 L282.2 769.6 L282.9 770.4 L283.6 772.5 L284.2 771.8 L284.9 769.4 L285.5 771.2 L286.2 771.8 L286.9 772.4 L287.5 772.3 L288.2 771.5 L288.8 772.8 L289.5 771.9 L290.2 770.3 L290.8 772.1 L291.5 772.2 L292.1 774.1 L292.8 774.2 L293.5 772.1 L294.1 773.4 L294.8 773.4 L295.4 771.8 L296.1 771.2 L296.8 773.4 L297.4 773.6 L298.1 772.9 L298.7 770.8 L299.4 773.6 L300.1 773.1 L300.7 772.8 L301.4 773.4 L302.0 772.6 L302.7 774.5 L303.4 773.9 L304.0 773.3 L304.7 774.3 L305.3 774.0 L306.0 772.4 L306.7 773.9 L307.3 773.6 L308.0 772.3 L308.6 773.5 L309.3 774.6 L310.0 773.5 L310.6 775.7 L311.3 776.0 L311.9 773.9 L312.6 774.8 L313.3 776.4 L313.9 773.9 L314.6 773.3 L315.2 773.8 L315.9 772.8 L316.6 772.9 L317.2 774.5 L317.9 773.8 L318.5 774.5 L319.2 774.8 L319.9 773.4 L320.5 774.0 L321.2 773.9 L321.8 773.5 L322.5 773.3 L323.2 774.5 L323.8 774.0 L324.5 774.4 L325.1 775.1 L325.8 775.1 L326.5 772.8 L327.1 773.0 L327.8 773.6 L328.4 774.0 L329.1 774.8 L329.8 772.8 L330.4 773.3 L331.1 774.0 L331.7 774.9 L332.4 775.1 L333.1 772.5 L333.7 773.3 L334.4 772.6 L335.0 774.3 L335.7 773.9 L336.4 773.0 L337.0 772.7 L337.7 773.6 L338.3 774.2 L339.0 772.4 L339.7 772.8 L340.3 773.2 L341.0 773.0 L341.6 773.3 L342.3 771.9 L343.0 772.2 L343.6 770.6 L344.3 772.8 L344.9 773.8 L345.6 770.4 L346.3 771.8 L346.9 773.3 L347.6 772.2 L348.2 770.2 L348.9 773.4 L349.6 770.6 L350.2 773.4 L350.9 771.3 L351.5 771.1 L352.2 771.7 L352.9 771.6 L353.5 772.2 L354.2 772.0 L354.8 771.2 L355.5 772.7 L356.2 771.9 L356.8 771.4 L357.5 771.2 L358.1 770.8 L358.8 770.8 L359.5 771.5 L360.1 771.2 L360.8 770.7 L361.4 771.7 L362.1 770.3 L362.8 770.9 L363.4 771.3 L364.1 769.2 L364.7 770.1 L365.4 772.1 L366.1 769.3 L366.7 771.5 L367.4 769.1 L368.0 770.7 L368.7 769.1 L369.4 769.7 L370.0 770.1 L370.7 770.1 L371.3 771.9 L372.0 772.0 L372.7 772.4 L373.3 771.9 L374.0 773.8 L374.6 773.4 L375.3 772.9 L376.0 771.7 L376.6 773.7 L377.3 773.7 L377.9 773.2 L378.6 773.8 L379.3 773.9 L379.9 772.8 L380.6 773.7 L381.2 773.4 L381.9 773.4 L382.6 772.7 L383.2 772.6 L383.9 773.2 L384.5 774.5 L385.2 775.5 L385.9 772.6 L386.5 771.9 L387.2 772.6 L387.8 772.1 L388.5 772.5 L389.2 773.3 L389.8 771.9 L390.5 773.5 L391.1 773.7 L391.8 774.4 L392.5 774.7 L393.1 773.8 L393.8 775.1 L394.4 772.1 L395.1 772.9 L395.8 772.8 L396.4 773.0 L397.1 773.6 L397.7 772.1 L398.4 774.2 L399.1 773.7 L399.7 772.7 L400.4 772.7 L401.0 771.2 L401.7 769.5 L402.4 772.0 L403.0 772.4 L403.7 772.2 L404.3 770.7 L405.0 771.2 L405.7 773.2 L406.3 771.8 L407.0 771.2 L407.6 769.6 L408.3 770.1 L409.0 770.0 L409.6 768.7 L410.3 766.7 L410.9 766.6 L411.6 764.4 L412.3 763.7 L412.9 763.0 L413.6 760.1 L414.2 758.5 L414.9 758.3 L415.6 754.8 L416.2 754.1 L416.9 750.9 L417.5 747.9 L418.2 747.0 L418.9 744.8 L419.5 741.8 L420.2 742.2 L420.8 743.3 L421.5 746.2 L422.2 745.4 L422.8 747.6 L423.5 749.9 L424.1 751.1 L424.8 751.8 L425.5 754.8 L426.1 755.0 L426.8 751.6 L427.4 755.5 L428.1 755.5 L428.8 756.3 L429.4 755.7 L430.1 756.9 L430.7 758.4 L431.4 758.6 L432.1 759.2 L432.7 759.0 L433.4 759.6 L434.0 760.4 L434.7 759.3 L435.4 763.9 L436.0 762.8 L436.7 764.0 L437.3 764.8 L438.0 766.1 L438.7 764.1 L439.3 767.2 L440.0 766.1 L440.6 766.7 L441.3 766.2 L442.0 766.7 L442.6 769.5 L443.3 768.7 L443.9 769.4 L444.6 769.6 L445.3 768.8 L445.9 769.5 L446.6 769.1 L447.2 770.2 L447.9 768.3 L448.6 770.3 L449.2 771.7 L449.9 772.0 L450.5 771.9 L451.2 771.2 L451.9 769.7 L452.5 771.6 L453.2 771.2 L453.8 770.9 L454.5 769.4 L455.2 771.0 L455.8 772.1 L456.5 771.3 L457.1 770.3 L457.8 771.1 L458.5 770.5 L459.1 770.6 L459.8 771.2 L460.4 770.7 L461.1 770.3 L461.8 770.6 L462.4 769.3 L463.1 769.1 L463.7 770.5 L464.4 769.3 L465.1 770.5 L465.7 767.9 L466.4 771.0 L467.0 769.6 L467.7 771.3 L468.4 766.9 L469.0 767.6 L469.7 770.5 L470.3 768.9 L471.0 768.6 L471.7 767.9 L472.3 767.4 L473.0 767.1 L473.6 764.8 L474.3 765.0 L475.0 765.8 L475.6 763.8 L476.3 762.2 L476.9 762.2 L477.6 762.4 L478.3 760.1 L478.9 759.0 L479.6 758.2 L480.2 757.0 L480.9 756.1 L481.6 752.7 L482.2 751.6 L482.9 750.8 L483.5 746.4 L484.2 747.4 L484.9 746.9 L485.5 745.8 L486.2 744.9 L486.8 746.7 L487.5 747.9 L488.2 747.3 L488.8 747.9 L489.5 749.3 L490.1 752.4 L490.8 753.3 L491.5 753.3 L492.1 753.4 L492.8 754.3 L493.4 756.3 L494.1 757.2 L494.8 758.5 L495.4 757.6 L496.1 759.3 L496.7 760.5 L497.4 758.7 L498.1 763.4 L498.7 762.1 L499.4 762.5 L500.0 761.1 L500.7 762.0 L501.4 764.7 L502.0 765.2 L502.7 762.6 L503.3 767.2 L504.0 767.6 L504.7 768.2 L505.3 767.0 L506.0 768.6 L506.6 767.7 L507.3 768.9 L508.0 770.3 L508.6 768.9 L509.3 769.3 L509.9 767.8 L510.6 767.0 L511.3 767.9 L511.9 768.9 L512.6 769.2 L513.2 767.4 L513.9 767.6 L514.6 766.7 L515.2 765.2 L515.9 766.9 L516.5 766.9 L517.2 765.9 L517.9 765.9 L518.5 763.8 L519.2 764.9 L519.8 765.1 L520.5 762.2 L521.2 761.2 L521.8 759.3 L522.5 756.2 L523.1 755.5 L523.8 752.9 L524.5 755.5 L525.1 751.6 L525.8 749.6 L526.4 749.0 L527.1 752.2 L527.8 751.4 L528.4 751.3 L529.1 749.7 L529.7 750.8 L530.4 750.4 L531.1 753.2 L531.7 751.8 L532.4 754.8 L533.0 753.7 L533.7 753.2 L534.4 755.4 L535.0 752.2 L535.7 754.2 L536.3 755.4 L537.0 757.8 L537.7 758.8 L538.3 759.1 L539.0 757.9 L539.6 760.3 L540.3 760.8 L541.0 764.4 L541.6 763.7 L542.3 765.7 L542.9 767.9 L543.6 766.6 L544.3 768.1 L544.9 767.5 L545.6 768.5 L546.2 769.1 L546.9 769.7 L547.6 770.3 L548.2 770.3 L548.9 773.2 L549.5 771.0 L550.2 772.3 L550.9 772.1 L551.5 770.3 L552.2 774.0 L552.8 773.3 L553.5 771.7 L554.2 772.4 L554.8 771.4 L555.5 773.4 L556.1 774.7 L556.8 774.4 L557.5 771.7 L558.1 771.2 L558.8 773.6 L559.4 774.7 L560.1 773.0 L560.8 774.0 L561.4 771.4 L562.1 772.6 L562.7 773.2 L563.4 772.2 L564.1 772.3 L564.7 773.2 L565.4 771.7 L566.0 771.2 L566.7 772.9 L567.4 772.3 L568.0 770.8 L568.7 771.6 L569.3 769.5 L570.0 769.4 L570.7 767.7 L571.3 766.9 L572.0 766.5 L572.6 768.0 L573.3 768.6 L574.0 771.5 L574.6 770.5 L575.3 770.0 L575.9 774.4 L576.6 770.7 L577.3 774.8 L577.9 772.2 L578.6 774.6 L579.2 772.9 L579.9 773.7 L580.6 773.1 L581.2 773.0 L581.9 773.6 L582.5 772.4 L583.2 773.5 L583.9 771.9 L584.5 772.2 L585.2 772.4 L585.8 772.8 L586.5 774.2 L587.2 772.0 L587.8 772.0 L588.5 771.7 L589.1 772.4 L589.8 773.4 L590.5 772.0 L591.1 772.4 L591.8 772.0 L592.4 772.7 L593.1 770.5 L593.8 773.1 L594.4 773.5 L595.1 771.6 L595.7 772.3 L596.4 771.4 L597.1 773.3 L597.7 772.9 L598.4 775.2 L599.0 771.9 L599.7 771.1 L600.4 771.5 L601.0 770.6 L601.7 772.1 L602.3 772.0 L603.0 772.5 L603.7 771.7 L604.3 770.6 L605.0 772.1 L605.6 771.1 L606.3 771.0 L607.0 768.6 L607.6 768.6 L608.3 768.5 L608.9 768.4 L609.6 766.2 L610.3 769.5 L610.9 767.7 L611.6 768.5 L612.2 768.2 L612.9 768.8 L613.6 767.6 L614.2 767.3 L614.9 766.0 L615.5 766.8 L616.2 768.4 L616.9 764.6 L617.5 765.6 L618.2 766.6 L618.8 767.9 L619.5 765.0 L620.2 765.5 L620.8 766.1 L621.5 769.1 L622.1 764.7 L622.8 765.3 L623.5 766.1 L624.1 764.4 L624.8 765.3 L625.4 764.9 L626.1 763.2 L626.8 762.8 L627.4 763.1 L628.1 760.3 L628.7 758.9 L629.4 758.2 L630.1 759.5 L630.7 761.8 L631.4 762.9 L632.0 765.5 L632.7 770.4 L633.4 768.7 L634.0 769.5 L634.7 771.1 L635.3 770.6 L636.0 771.4 L636.7 772.1 L637.3 771.2 L638.0 770.6 L638.6 771.4 L639.3 771.3 L640.0 770.7 L640.6 770.2 L641.3 771.3 L641.9 770.1 L642.6 768.8 L643.3 770.3 L643.9 768.7 L644.6 768.2 L645.2 769.0 L645.9 767.0 L646.6 767.2 L647.2 765.9 L647.9 765.0 L648.5 766.6 L649.2 767.8 L649.9 765.1 L650.5 767.3 L651.2 767.3 L651.8 768.0 L652.5 765.6 L653.2 766.4 L653.8 769.2 L654.5 767.8 L655.1 768.3 L655.8 769.6 L656.5 769.9 L657.1 769.2 L657.8 769.9 L658.4 771.2 L659.1 771.1 L659.8 770.4 L660.4 772.9 L661.1 772.8 L661.7 771.9 L662.4 772.0 L663.1 773.9 L663.7 770.8 L664.4 773.8 L665.0 773.4 L665.7 773.7 L666.4 775.7 L667.0 775.4 L667.7 778.6 L668.3 775.4 L669.0 776.3 L669.7 774.7 L670.3 777.4 L671.0 775.9 L671.6 776.9 L672.3 778.1 L673.0 778.0 L673.6 777.3 L674.3 778.1 L674.9 776.3 L675.6 775.8 L676.3 775.2 L676.9 777.3 L677.6 778.8 L678.2 776.3 L678.9 776.6 L679.6 776.3 L680.2 777.0 L680.9 774.6 L681.5 777.3 L682.2 777.5 L682.9 775.6 L683.5 775.1 L684.2 775.2 L684.8 776.6 L685.5 777.4 L686.2 774.8 L686.8 774.1 L687.5 775.7 L688.1 775.4 L688.8 774.9 L689.5 772.1 L690.1 772.1 L690.8 771.1 L691.4 767.3 L692.1 768.2 L692.8 769.2 L693.4 769.6 L694.1 768.7 L694.7 767.8 L695.4 769.8 L696.1 769.9 L696.7 771.7 L697.4 774.2 L698.0 773.3 L698.7 774.8 L699.4 774.2 L700.0 777.0 L700.7 775.8 L701.3 775.6 L702.0 778.7 L702.7 777.0 L703.3 777.3 L704.0 774.3 L704.6 777.7 L705.3 777.8 L706.0 775.6 L706.6 775.0 L707.3 774.4 L707.9 775.7 L708.6 772.5 L709.3 774.0 L709.9 775.2 L710.6 772.7 L711.2 774.0 L711.9 770.9 L712.6 768.6 L713.2 767.5 L713.9 763.7 L714.5 761.0 L715.2 757.9 L715.9 754.9 L716.5 754.4 L717.2 754.9 L717.8 755.6 L718.5 755.3 L719.2 757.0 L719.8 757.2 L720.5 759.8 L721.1 761.6 L721.8 763.3 L722.5 765.0 L723.1 766.5 L723.8 768.4 L724.4 768.9 L725.1 769.7 L725.8 768.9 L726.4 770.3 L727.1 772.1 L727.7 773.0 L728.4 774.3 L729.1 772.2 L729.7 774.5 L730.4 774.4 L731.0 772.4 L731.7 769.5 L732.4 768.8 L733.0 768.3 L733.7 769.3 L734.3 767.2 L735.0 769.1 L735.7 772.5 L736.3 772.1 L737.0 772.1 L737.6 773.7 L738.3 773.8 L739.0 777.6 L739.6 778.6 L740.3 778.8 L740.9 779.8 L741.6 779.4 L742.3 780.5 L742.9 779.9 L743.6 780.9 L744.2 779.5 L744.9 779.5 L745.6 779.1 L746.2 779.3 L746.9 778.2 L747.5 781.3 L748.2 781.5 L748.9 780.9 L749.5 781.2 L750.2 780.4 L750.8 780.7 L751.5 778.9 L752.2 780.2 L752.8 778.4 L753.5 779.6 L754.1 780.0 L754.8 780.0 L755.5 779.2 L756.1 781.5 L756.8 781.1 L757.4 779.5 L758.1 778.6 L758.8 779.2 L759.4 780.6 L760.1 777.5 L760.7 780.1 L761.4 779.0 L762.1 778.5 L762.7 779.8 L763.4 778.6 L764.0 778.1 L764.7 779.6 L765.4 776.5 L766.0 779.7 L766.7 777.0 L767.3 776.9 L768.0 779.3 L768.7 781.0 L769.3 778.8 L770.0 776.6 L770.6 775.2 L771.3 777.7 L772.0 777.5 L772.6 776.9 L773.3 777.3 L773.9 776.8 L774.6 778.3 L775.3 777.4 L775.9 777.3 L776.6 775.2 L777.2 777.7 L777.9 776.0 L778.6 778.2 L779.2 777.4 L779.9 775.4 L780.5 777.1 L781.2 776.2 L781.9 778.0 L782.5 777.9 L783.2 778.4 L783.8 776.3 L784.5 777.2 L785.2 774.7 L785.8 775.9 L786.5 774.6 L787.1 774.4 L787.8 773.5 L788.5 773.9 L789.1 771.9 L789.8 771.5 L790.4 772.7 L791.1 770.9 L791.8 770.3 L792.4 769.9 L793.1 770.8 L793.7 770.8 L794.4 771.6 L795.1 770.9 L795.7 771.8 L796.4 771.0 L797.0 773.0 L797.7 771.5 L798.4 772.4 L799.0 772.2 L799.7 770.6 L800.3 773.3 L801.0 771.9 L801.7 773.5 L802.3 770.7 L803.0 771.0 L803.6 771.0 L804.3 771.5 L805.0 773.2 L805.6 773.9 L806.3 773.3 L806.9 774.4 L807.6 774.5 L808.3 776.4 L808.9 776.8 L809.6 776.8 L810.2 777.6 L810.9 779.1 L811.6 778.2 L812.2 776.2 L812.9 777.7 L813.5 777.6 L814.2 778.7 L814.9 778.3 L815.5 778.7 L816.2 776.1 L816.8 779.1 L817.5 777.4 L818.2 778.5 L818.8 777.9 L819.5 776.3 L820.1 776.3 L820.8 777.6 L821.5 778.0 L822.1 775.7 L822.8 775.3 L823.4 774.2 L824.1 775.1 L824.8 775.2 L825.4 775.4 L826.1 776.2 L826.7 774.8 L827.4 774.0 L828.1 774.5 L828.7 774.6 L829.4 774.6 L830.0 774.4 L830.7 773.8 L831.4 774.1 L832.0 772.8 L832.7 771.6 L833.3 772.1 L834.0 773.9 L834.7 771.1 L835.3 774.5 L836.0 771.4 L836.6 772.8 L837.3 770.4 L838.0 772.1 L838.6 773.8 L839.3 771.2 L839.9 771.8 L840.6 773.1 L841.3 773.3 L841.9 771.5 L842.6 771.9 L843.2 773.7 L843.9 773.9 L844.6 774.6 L845.2 773.8 L845.9 774.8 L846.5 775.6 L847.2 773.2 L847.9 775.7 L848.5 775.6 L849.2 776.3 L849.8 774.7 L850.5 775.2 L851.2 775.4 L851.8 774.9 L852.5 776.5 L853.1 775.7 L853.8 774.4 L854.5 775.7 L855.1 774.3 L855.8 773.7 L856.4 774.2 L857.1 775.1 L857.8 775.1 L858.4 774.8 L859.1 775.3 L859.7 776.6 L860.4 773.4 L861.1 774.9 L861.7 774.6 L862.4 773.1 L863.0 773.8 L863.7 774.5 L864.4 774.4 L865.0 773.6 L865.7 775.4 L866.3 775.0 L867.0 775.6 L867.7 776.8 L868.3 774.0 L869.0 776.6 L869.6 776.3 L870.3 775.2 L871.0 776.3 L871.6 776.1 L872.3 775.6 L872.9 777.8 L873.6 776.4 L874.3 775.3 L874.9 778.4 L875.6 777.2 L876.2 778.2 L876.9 778.0 L877.6 777.5 L878.2 777.5 L878.9 775.2 L879.5 777.4 L880.2 776.7 L880.9 778.3 L881.5 777.0 L882.2 777.1 L882.8 777.9 L883.5 776.6 L884.2 777.0 L884.8 777.2 L885.5 778.1 L886.1 776.1 L886.8 778.4 L887.5 777.4 L888.1 777.0 L888.8 777.8 L889.4 778.5 L890.1 778.6 L890.8 776.3 L891.4 778.7 L892.1 777.3 L892.7 778.6 L893.4 776.1 L894.1 777.0 L894.7 777.0 L895.4 775.8 L896.0 776.6 L896.7 777.9 L897.4 778.1 L898.0 777.6 L898.7 777.1 L899.3 776.3 L900.0 778.8 L900.7 775.3 L901.3 775.4 L902.0 775.8 L902.6 776.7 L903.3 776.0 L904.0 777.1 L904.6 774.6 L905.3 777.0 L905.9 777.8 L906.6 776.8 L907.3 775.5 L907.9 775.1 L908.6 776.7 L909.2 773.7 L909.9 774.5 L910.6 773.5 L911.2 774.9 L911.9 776.8 L912.5 774.4 L913.2 775.9 L913.9 773.6 L914.5 774.0 L915.2 773.9 L915.8 775.5 L916.5 773.5 L917.2 773.6 L917.8 774.3 L918.5 775.8 L919.1 774.3 L919.8 776.1 L920.5 774.9 L921.1 774.4 L921.8 776.0 L922.4 774.6 L923.1 774.5 L923.8 775.9 L924.4 774.5 L925.1 775.2 L925.7 775.9 L926.4 777.1 L927.1 778.4 L927.7 778.7 L928.4 777.5 L929.0 778.0 L929.7 777.5 L930.4 776.4 L931.0 778.2 L931.7 777.1 L932.3 778.6 L933.0 777.2 L933.7 776.7 L934.3 778.1 L935.0 777.1 L935.6 776.3 L936.3 778.7 L937.0 777.9 L937.6 777.9 L938.3 777.6 L938.9 776.9 L939.6 774.5 L940.3 776.8 L940.9 776.9 L941.6 777.7 L942.2 775.9 L942.9 777.6 L943.6 777.1 L944.2 778.5 L944.9 776.2 L945.5 776.9 L946.2 777.1 L946.9 777.4 L947.5 778.1 L948.2 777.2 L948.8 775.2 L949.5 778.3 L950.2 774.5 L950.8 777.1 L951.5 777.7 L952.1 775.6 L952.8 776.1 L953.5 776.0 L954.1 774.9 L954.8 776.3 L955.4 774.8 L956.1 776.0 L956.8 776.2 L957.4 776.6 L958.1 776.7 L958.7 775.7 L959.4 775.6 L960.1 774.8 L960.7 774.8 L961.4 775.7 L962.0 775.5 L962.7 775.0 L963.4 774.4 L964.0 775.4 L964.7 773.1 L965.3 773.5 L966.0 774.2 L966.7 775.0 L967.3 772.5 L968.0 772.6 L968.6 772.3 L969.3 774.2 L970.0 774.2 L970.6 774.9 L971.3 775.5 L971.9 771.9 L972.6 772.9 L973.3 772.4 L973.9 771.8 L974.6 772.9 L975.2 772.2 L975.9 772.9 L976.6 772.3 L977.2 771.1 L977.9 773.1 L978.5 773.0 L979.2 771.9 L979.9 770.1 L980.5 769.8 L981.2 770.7 L981.8 772.5 L982.5 772.7 L983.2 772.0 L983.8 771.9 L984.5 769.2 L985.1 772.1 L985.8 771.0 L986.5 771.4 L987.1 770.6 L987.8 769.5 L988.4 772.3 L989.1 771.8 L989.8 770.3 L990.4 769.8 L991.1 770.7 L991.7 772.2 L992.4 771.8 L993.1 771.3 L993.7 772.1 L994.4 771.5 L995.0 770.2 L995.7 771.8 L996.4 771.1 L997.0 770.4 L997.7 772.4 L998.3 771.8 L999.0 770.0 L999.7 772.4 L1000.3 772.0 L1001.0 771.7 L1001.6 771.8 L1002.3 771.4 L1003.0 771.2 L1003.6 773.3 L1004.3 773.7 L1004.9 773.2 L1005.6 774.0 L1006.3 773.7 L1006.9 774.0 L1007.6 775.1 L1008.2 775.4 L1008.9 776.6 L1009.6 774.9 L1010.2 776.0 L1010.9 775.7 L1011.5 776.2 L1012.2 777.5 L1012.9 776.7 L1013.5 775.7 L1014.2 776.1 L1014.8 776.0 L1015.5 776.4 L1016.2 776.0 L1016.8 776.2 L1017.5 776.6 L1018.1 777.1 L1018.8 775.9 L1019.5 776.9 L1020.1 776.9 L1020.8 777.7 L1021.4 777.2 L1022.1 777.5 L1022.8 777.2 L1023.4 778.1 L1024.1 776.9 L1024.7 775.5 L1025.4 777.4 L1026.1 776.1 L1026.7 774.8 L1027.4 777.6 L1028.0 777.1 L1028.7 777.3 L1029.4 777.6 L1030.0 777.0 L1030.7 778.3 L1031.3 777.3 L1032.0 776.9 L1032.7 777.2 L1033.3 775.2 L1034.0 777.8 L1034.6 775.8 L1035.3 777.7 L1036.0 777.1 L1036.6 777.4 L1037.3 776.5 L1037.9 779.0 L1038.6 775.3 L1039.3 777.2 L1039.9 776.4 L1040.6 775.7 L1041.2 778.8 L1041.9 777.5 L1042.6 779.7 L1043.2 778.1 L1043.9 777.8 L1044.5 777.9 L1045.2 776.0 L1045.9 776.0 L1046.5 778.8 L1047.2 778.1 L1047.8 776.6 L1048.5 777.4 L1049.2 777.5 L1049.8 778.6 L1050.5 777.7 L1051.1 776.7 L1051.8 778.2 L1052.5 776.8 L1053.1 777.9 L1053.8 776.8 L1054.4 774.2 L1055.1 779.0 L1055.8 776.4 L1056.4 778.4 L1057.1 778.0 L1057.7 776.8 L1058.4 776.2 L1059.1 779.3 L1059.7 777.6 L1060.4 778.7 L1061.0 777.7 L1061.7 778.3 L1062.4 777.6 L1063.0 776.1 L1063.7 776.6 L1064.3 777.8 L1065.0 776.2 L1065.7 777.0 L1066.3 777.3 L1067.0 778.5 L1067.6 779.0 L1068.3 775.3 L1069.0 777.8 L1069.6 779.2 L1070.3 776.0 L1070.9 776.3 L1071.6 778.5 L1072.3 777.5 L1072.9 776.8 L1073.6 777.5 L1074.2 778.1 L1074.9 777.4 L1075.6 777.7 L1076.2 777.5 L1076.9 777.7 L1077.5 777.5 L1078.2 777.7 L1078.9 777.1 L1079.5 778.4 L1080.2 776.9 L1080.8 776.7 L1081.5 775.7 L1082.2 776.4 L1082.8 777.3 L1083.5 776.9 L1084.1 777.7 L1084.8 775.9 L1085.5 776.4 L1086.1 775.0 L1086.8 776.7 L1087.4 777.9 L1088.1 777.3 L1088.8 776.4 L1089.4 777.2 L1090.1 777.0 L1090.7 775.8 L1091.4 775.6 L1092.1 775.7 L1092.7 777.0 L1093.4 777.0 L1094.0 776.8 L1094.7 776.1 L1095.4 778.2 L1096.0 776.0 L1096.7 776.7 L1097.3 776.3 L1098.0 777.1 L1098.7 774.3 L1099.3 776.4 L1100.0 775.7 L1100.6 775.7 L1101.3 774.7 L1102.0 774.9 L1102.6 776.8 L1103.3 776.3 L1103.9 773.9 L1104.6 775.3 L1105.3 774.2 L1105.9 775.3 L1106.6 774.1 L1107.2 773.9 L1107.9 772.4 L1108.6 771.9 L1109.2 770.5 L1109.9 769.0 L1110.5 769.2 L1111.2 770.3 L1111.9 769.8 L1112.5 767.0 L1113.2 766.4 L1113.8 766.0 L1114.5 765.4 L1115.2 764.6 L1115.8 764.7 L1116.5 765.6 L1117.1 765.2 L1117.8 765.8 L1118.5 763.5 L1119.1 761.1 L1119.8 762.2 L1120.4 761.4 L1121.1 761.7 L1121.8 761.0 L1122.4 762.4 L1123.1 760.4 L1123.7 761.0 L1124.4 762.6 L1125.1 760.8 L1125.7 759.1 L1126.4 762.0 L1127.0 762.3 L1127.7 763.2 L1128.4 764.2 L1129.0 763.3 L1129.7 763.7 L1130.3 764.9 L1131.0 763.1 L1131.7 763.9 L1132.3 765.9 L1133.0 763.5 L1133.6 765.1 L1134.3 766.2 L1135.0 765.4 L1135.6 764.8 L1136.3 766.2 L1136.9 763.0 L1137.6 765.3 L1138.3 762.0 L1138.9 762.1 L1139.6 760.2 L1140.2 759.4 L1140.9 760.3 L1141.6 758.0 L1142.2 756.9 L1142.9 753.5 L1143.5 752.8 L1144.2 750.3 L1144.9 750.2 L1145.5 749.6 L1146.2 748.9 L1146.8 748.6 L1147.5 747.3 L1148.2 748.3 L1148.8 747.2 L1149.5 748.8 L1150.1 747.1 L1150.8 748.4 L1151.5 746.7 L1152.1 747.6 L1152.8 747.1 L1153.4 745.3 L1154.1 747.4 L1154.8 745.7 L1155.4 744.8 L1156.1 746.7 L1156.7 747.7 L1157.4 747.2 L1158.1 745.7 L1158.7 744.8 L1159.4 743.9 L1160.0 746.0 L1160.7 746.3 L1161.4 746.9 L1162.0 748.6 L1162.7 747.5 L1163.3 747.0 L1164.0 747.3 L1164.7 747.8 L1165.3 748.5 L1166.0 749.9 L1166.6 749.8 L1167.3 750.8 L1168.0 751.8 L1168.6 752.9 L1169.3 754.4 L1169.9 756.0 L1170.6 755.0 L1171.3 756.9 L1171.9 758.3 L1172.6 759.4 L1173.2 761.5 L1173.9 762.6 L1174.6 762.2 L1175.2 765.4 L1175.9 765.1 L1176.5 766.0 L1177.2 765.2 L1177.9 767.0 L1178.5 766.2 L1179.2 765.9 L1179.8 767.3 L1180.5 766.4 L1181.2 766.6 L1181.8 768.4 L1182.5 769.0 L1183.1 767.8 L1183.8 769.7 L1184.5 770.1 L1185.1 770.3 L1185.8 769.7 L1186.4 769.2 L1187.1 771.2 L1187.8 769.5 L1188.4 770.5 L1189.1 771.3 L1189.7 772.0 L1190.4 770.8 L1191.1 770.9 L1191.7 771.3 L1192.4 771.1 L1193.0 772.1 L1193.7 772.2 L1194.4 773.0 L1195.0 771.4 L1195.7 772.3 L1196.3 771.0 L1197.0 771.4 L1197.7 773.4 L1198.3 771.8 L1199.0 770.3 L1199.6 771.8 L1200.3 771.9 L1201.0 770.7 L1201.6 772.8 L1202.3 773.5 L1202.9 772.3 L1203.6 773.8 L1204.3 770.9 L1204.9 773.7 L1205.6 773.0 L1206.2 775.3 L1206.9 773.1 L1207.6 773.1 L1208.2 773.1 L1208.9 772.8 L1209.5 772.8 L1210.2 773.8 L1210.9 773.4 L1211.5 773.4 L1212.2 773.4 L1212.8 772.4 L1213.5 774.9 L1214.2 772.0 L1214.8 773.9 L1215.5 772.8 L1216.1 774.0 L1216.8 772.7 L1217.5 773.9 L1218.1 773.3 L1218.8 774.0 L1219.4 774.7 L1220.1 772.9 L1220.8 772.8 L1221.4 770.3 L1222.1 772.6 L1222.7 773.5 L1223.4 772.3 L1224.1 772.5 L1224.7 772.3 L1225.4 770.5 L1226.0 773.2 L1226.7 771.6 L1227.4 771.0 L1228.0 773.2 L1228.7 772.6 L1229.3 772.7 L1230.0 772.3 L1230.7 771.5 L1231.3 773.0 L1232.0 771.2 L1232.6 772.3 L1233.3 771.1 L1234.0 770.9 L1234.6 772.8 L1235.3 771.2 L1235.9 773.6 L1236.6 770.7 L1237.3 773.0 L1237.9 771.7 L1238.6 772.8 L1239.2 772.7 L1239.9 770.2 L1240.6 772.6 L1241.2 771.7 L1241.9 771.1 L1242.5 773.0 L1243.2 772.4 L1243.9 772.4 L1244.5 773.4 L1245.2 773.0 L1245.8 772.1 L1246.5 771.2 L1247.2 773.4 L1247.8 771.4 L1248.5 770.4 L1249.1 773.9 L1249.8 774.1 L1250.5 770.4 L1251.1 772.4 L1251.8 770.6 L1252.4 772.6 L1253.1 771.6 L1253.8 770.6 L1254.4 772.8 L1255.1 770.9 L1255.7 771.9 L1256.4 770.5 L1257.1 772.4 L1257.7 771.4 L1258.4 769.4 L1259.0 767.2 L1259.7 769.1 L1260.4 767.3 L1261.0 768.8 L1261.7 768.6 L1262.3 766.5 L1263.0 766.9 L1263.7 764.2 L1264.3 765.6 L1265.0 766.3 L1265.6 762.9 L1266.3 764.7 L1267.0 764.0 L1267.6 764.5 L1268.3 763.7 L1268.9 763.5 L1269.6 764.7 L1270.3 763.5 L1270.9 763.9 L1271.6 762.0 L1272.2 763.7 L1272.9 764.0 L1273.6 763.1 L1274.2 763.2 L1274.9 761.3 L1275.5 762.2 L1276.2 762.9 L1276.9 762.9 L1277.5 765.3 L1278.2 764.1 L1278.8 762.5 L1279.5 766.2 L1280.2 763.1 L1280.8 763.8 L1281.5 764.6 L1282.1 765.9 L1282.8 769.0 L1283.5 766.6 L1284.1 767.7 L1284.8 765.9 L1285.4 767.2 L1286.1 770.4 L1286.8 769.4 L1287.4 769.2 L1288.1 770.0 L1288.7 769.3 L1289.4 769.5 L1290.1 768.0 L1290.7 767.8 L1291.4 768.7 L1292.0 769.2 L1292.7 768.8 L1293.4 770.3 L1294.0 771.4 L1294.7 769.5 L1295.3 767.8 L1296.0 767.9 L1296.7 769.8 L1297.3 769.2 L1298.0 768.2 L1298.6 768.2 L1299.3 768.3 L1300.0 766.7 L1300.6 766.6 L1301.3 765.5 L1301.9 763.5 L1302.6 765.2 L1303.3 764.8 L1303.9 765.0 L1304.6 763.9 L1305.2 764.6 L1305.9 764.3 L1306.6 763.3 L1307.2 762.5 L1307.9 762.6 L1308.5 763.4 L1309.2 763.7 L1309.9 764.5 L1310.5 762.3 L1311.2 762.7 L1311.8 763.3 L1312.5 760.9 L1313.2 762.3 L1313.8 761.1 L1314.5 761.0 L1315.1 762.1 L1315.8 760.9 L1316.5 761.4 L1317.1 759.9 L1317.8 760.8 L1318.4 760.0 L1319.1 760.5 L1319.8 763.7 L1320.4 760.8 L1321.1 760.6 L1321.7 760.5 L1322.4 760.1 L1323.1 762.8 L1323.7 760.3 L1324.4 763.5 L1325.0 761.0 L1325.7 762.5 L1326.4 761.5 L1327.0 760.8 L1327.7 761.4 L1328.3 763.0 L1329.0 761.6 L1329.7 759.9 L1330.3 763.9 L1331.0 761.3 L1331.6 761.8 L1332.3 763.7 L1333.0 760.5 L1333.6 761.8 L1334.3 763.0 L1334.9 763.1 L1335.6 763.0 L1336.3 761.5 L1336.9 763.4 L1337.6 762.0 L1338.2 762.7 L1338.9 761.5 L1339.6 764.3 L1340.2 762.1 L1340.9 762.4 L1341.5 761.9 L1342.2 762.9 L1342.9 761.1 L1343.5 762.4 L1344.2 762.2 L1344.8 764.2 L1345.5 762.1 L1346.2 762.3 L1346.8 762.6 L1347.5 763.6 L1348.1 764.6 L1348.8 763.0 L1349.5 763.2 L1350.1 764.6 L1350.8 763.3 L1351.4 764.1 L1352.1 763.5 L1352.8 764.4 L1353.4 764.3 L1354.1 767.8 L1354.7 766.8 L1355.4 767.2 L1356.1 765.7 L1356.7 767.2 L1357.4 766.5 L1358.0 766.5 L1358.7 765.7 L1359.4 766.3 L1360.0 769.4 L1360.7 765.7 L1361.3 766.6 L1362.0 766.4 L1362.7 765.4 L1363.3 765.1 L1364.0 762.7 L1364.6 764.8 L1365.3 764.8 L1366.0 762.1 L1366.6 760.8 L1367.3 760.3 L1367.9 759.3 L1368.6 761.1 L1369.3 761.1 L1369.9 761.9 L1370.6 758.7 L1371.2 760.9 L1371.9 760.6 L1372.6 759.6 L1373.2 758.9 L1373.9 760.0 L1374.5 762.0 L1375.2 758.3 L1375.9 758.9 L1376.5 758.9 L1377.2 759.3 L1377.8 760.5 L1378.5 758.8 L1379.2 756.9 L1379.8 757.9 L1380.5 757.9 L1381.1 759.4 L1381.8 759.3 L1382.5 757.9 L1383.1 759.8 L1383.8 757.1 L1384.4 758.8 L1385.1 760.4 L1385.8 757.3 L1386.4 759.6 L1387.1 760.0 L1387.7 758.4 L1388.4 759.1 L1389.1 757.3 L1389.7 759.3 L1390.4 757.6 L1391.0 758.3 L1391.7 759.4 L1392.4 758.7 L1393.0 758.1 L1393.7 759.5 L1394.3 759.6 L1395.0 759.5 L1395.7 758.7 L1396.3 761.1 L1397.0 762.7 L1397.6 761.6 L1398.3 762.1 L1399.0 762.7 L1399.6 764.0 L1400.3 762.4 L1400.9 765.1 L1401.6 766.7 L1402.3 765.2 L1402.9 764.9 L1403.6 765.2 L1404.2 765.2 L1404.9 764.2 L1405.6 764.3 L1406.2 764.0 L1406.9 764.6 L1407.5 765.8 L1408.2 763.7 L1408.9 765.4 L1409.5 762.1 L1410.2 763.6 L1410.8 761.8 L1411.5 762.5 L1412.2 762.0 L1412.8 760.0 L1413.5 761.6 L1414.1 762.2 L1414.8 762.0 L1415.5 760.2 L1416.1 760.3 L1416.8 762.4 L1417.4 760.8 L1418.1 764.1 L1418.8 762.3 L1419.4 762.4 L1420.1 762.0 L1420.7 761.4 L1421.4 762.7 L1422.1 762.3 L1422.7 764.2 L1423.4 762.9 L1424.0 763.1 L1424.7 764.1 L1425.4 764.1 L1426.0 761.0 L1426.7 765.3 L1427.3 761.7 L1428.0 762.4 L1428.7 763.2 L1429.3 762.7 L1430.0 765.5 L1430.6 763.7 L1431.3 762.4 L1432.0 763.2 L1432.6 762.7 L1433.3 762.8 L1433.9 763.8 L1434.6 763.8 L1435.3 762.9 L1435.9 761.4 L1436.6 761.9 L1437.2 763.3 L1437.9 762.7 L1438.6 761.5 L1439.2 762.4 L1439.9 759.3 L1440.5 760.3 L1441.2 760.8 L1441.9 760.9 L1442.5 761.4 L1443.2 760.2 L1443.8 760.3 L1444.5 760.0 L1445.2 758.5 L1445.8 759.3 L1446.5 760.9 L1447.1 760.0 L1447.8 758.8 L1448.5 759.0 L1449.1 760.7 L1449.8 760.4 L1450.4 760.6 L1451.1 759.9 L1451.8 758.3 L1452.4 758.1 L1453.1 756.5 L1453.7 759.4 L1454.4 759.3 L1455.1 760.2 L1455.7 756.9 L1456.4 759.3 L1457.0 757.9 L1457.7 757.3 L1458.4 757.3 L1459.0 755.6 L1459.7 756.5 L1460.3 755.3 L1461.0 755.5 L1461.7 756.0 L1462.3 754.9 L1463.0 755.7 L1463.6 753.3 L1464.3 752.3 L1465.0 751.1 L1465.6 750.7 L1466.3 749.6 L1466.9 749.5 L1467.6 747.5 L1468.3 746.6 L1468.9 747.0 L1469.6 748.0 L1470.2 746.5 L1470.9 743.0 L1471.6 744.6 L1472.2 743.5 L1472.9 743.3 L1473.5 743.9 L1474.2 742.6 L1474.9 742.0 L1475.5 740.1 L1476.2 741.3 L1476.8 740.3 L1477.5 741.1 L1478.2 741.7 L1478.8 739.4 L1479.5 740.0 L1480.1 740.7 L1480.8 738.3 L1481.5 739.3 L1482.1 738.5 L1482.8 739.5 L1483.4 740.3 L1484.1 740.4 L1484.8 742.6 L1485.4 742.3 L1486.1 742.2 L1486.7 743.6 L1487.4 745.0 L1488.1 743.2 L1488.7 743.9 L1489.4 745.0 L1490.0 746.4 L1490.7 743.7 L1491.4 746.3 L1492.0 749.9 L1492.7 747.9 L1493.3 750.7 L1494.0 752.2 L1494.7 751.4 L1495.3 753.9 L1496.0 752.5 L1496.6 751.5 L1497.3 753.7 L1498.0 756.5 L1498.6 758.4 L1499.3 756.8 L1499.9 754.8 L1500.6 756.7 L1501.3 754.8 L1501.9 757.1 L1502.6 758.9 L1503.2 756.3 L1503.9 756.5 L1504.6 757.1 L1505.2 757.3 L1505.9 758.4 L1506.5 758.3 L1507.2 758.8 L1507.9 757.1 L1508.5 759.5 L1509.2 759.0 L1509.8 757.5 L1510.5 757.9 L1511.2 757.9 L1511.8 756.8 L1512.5 760.8 L1513.1 759.4 L1513.8 758.9 L1514.5 760.1 L1515.1 758.7 L1515.8 758.8 L1516.4 760.4 L1517.1 757.9 L1517.8 758.1 L1518.4 757.2 L1519.1 758.3 L1519.7 760.1 L1520.4 758.4 L1521.1 760.6 L1521.7 758.4 L1522.4 759.2 L1523.0 757.7 L1523.7 759.6 L1524.4 761.0 L1525.0 758.4 L1525.7 757.0 L1526.3 758.5 L1527.0 759.3 L1527.7 757.6 L1528.3 760.5 L1529.0 757.0 L1529.6 758.9 L1530.3 759.7 L1531.0 758.4 L1531.6 759.4 L1532.3 758.5 L1532.9 757.4 L1533.6 757.3 L1534.3 759.7 L1534.9 755.7 L1535.6 757.8 L1536.2 756.5 L1536.9 756.8 L1537.6 758.0 L1538.2 756.0 L1538.9 755.2 L1539.5 758.0 L1540.2 757.9 L1540.9 756.4 L1541.5 755.3 L1542.2 755.0 L1542.8 756.3 L1543.5 756.2 L1544.2 756.1 L1544.8 756.2 L1545.5 755.4 L1546.1 755.9 L1546.8 755.1 L1547.5 755.4 L1548.1 754.6 L1548.8 755.0 L1549.4 753.6 L1550.1 754.2 L1550.8 753.0 L1551.4 754.7 L1552.1 753.3 L1552.7 753.1 L1553.4 753.0 L1554.1 752.6 L1554.7 752.4 L1555.4 753.9 L1556.0 753.7 L1556.7 754.0 L1557.4 752.3 L1558.0 753.1 L1558.7 750.6 L1559.3 753.6 L1560.0 751.4 L1560.7 753.8 L1561.3 753.1 L1562.0 754.6 L1562.6 752.8 L1563.3 751.6 L1564.0 754.6 L1564.6 753.6 L1565.3 753.5 L1565.9 754.3 L1566.6 752.5 L1567.3 750.2 L1567.9 752.7 L1568.6 752.5 L1569.2 754.1 L1569.9 753.3 L1570.6 754.6 L1571.2 753.3 L1571.9 755.7 L1572.5 755.5 L1573.2 754.3 L1573.9 756.8 L1574.5 757.2 L1575.2 756.5 L1575.8 755.5 L1576.5 756.9 L1577.2 757.0 L1577.8 756.7 L1578.5 757.5 L1579.1 757.8 L1579.8 756.8 L1580.5 758.6 L1581.1 757.9 L1581.8 759.3 L1582.4 759.5 L1583.1 760.9 L1583.8 759.7 L1584.4 760.7 L1585.1 759.2 L1585.7 762.2 L1586.4 763.4 L1587.1 761.1 L1587.7 761.8 L1588.4 762.0 L1589.0 761.1 L1589.7 762.3 L1590.4 760.7 L1591.0 761.1 L1591.7 761.1 L1592.3 760.5 L1593.0 759.7 L1593.7 762.2 L1594.3 761.2 L1595.0 760.2 L1595.6 759.7 L1596.3 760.7 L1597.0 759.8 L1597.6 761.3 L1598.3 760.7 L1598.9 761.1 L1599.6 761.7 L1600.3 760.7 L1600.9 761.1 L1601.6 761.6 L1602.2 760.9 L1602.9 757.9 L1603.6 761.5 L1604.2 760.4 L1604.9 760.7 L1605.5 761.7 L1606.2 759.8 L1606.9 760.4 L1607.5 757.6 L1608.2 761.4 L1608.8 759.7 L1609.5 759.4 L1610.2 759.3 L1610.8 760.1 L1611.5 757.5 L1612.1 761.4 L1612.8 759.4 L1613.5 759.1 L1614.1 760.7 L1614.8 760.1 L1615.4 759.6 L1616.1 758.1 L1616.8 760.2 L1617.4 759.2 L1618.1 758.1 L1618.7 758.7 L1619.4 759.2 L1620.1 758.1 L1620.7 759.8 L1621.4 758.3 L1622.0 759.8 L1622.7 759.1 L1623.4 759.2 L1624.0 757.6 L1624.7 758.6 L1625.3 759.1 L1626.0 758.7 L1626.7 757.9 L1627.3 758.5 L1628.0 757.7 L1628.6 757.9 L1629.3 759.1 L1630.0 759.5 L1630.6 759.5 L1631.3 758.2 L1631.9 756.8 L1632.6 757.0 L1633.3 758.4 L1633.9 757.2 L1634.6 758.6 L1635.2 756.5 L1635.9 757.7 L1636.6 755.2 L1637.2 756.1 L1637.9 756.9 L1638.5 756.7 L1639.2 756.3 L1639.9 754.8 L1640.5 756.0 L1641.2 755.4 L1641.8 754.9 L1642.5 755.8 L1643.2 754.6 L1643.8 754.7 L1644.5 757.6 L1645.1 755.5 L1645.8 756.4 L1646.5 754.4 L1647.1 754.4 L1647.8 753.4 L1648.4 753.3 L1649.1 753.2 L1649.8 755.0 L1650.4 753.4 L1651.1 753.4 L1651.7 753.5 L1652.4 754.8 L1653.1 753.6 L1653.7 754.5 L1654.4 752.7 L1655.0 754.3 L1655.7 753.6 L1656.4 754.1 L1657.0 752.2 L1657.7 753.2 L1658.3 753.2 L1659.0 752.4 L1659.7 753.7 L1660.3 753.1 L1661.0 753.5 L1661.6 752.2 L1662.3 753.0 L1663.0 751.2 L1663.6 753.4 L1664.3 751.2 L1664.9 751.8 L1665.6 752.6 L1666.3 753.0 L1666.9 752.5 L1667.6 750.2 L1668.2 751.0 L1668.9 751.4 L1669.6 752.1 L1670.2 750.8 L1670.9 751.3 L1671.5 752.6 L1672.2 752.3 L1672.9 752.7 L1673.5 752.6 L1674.2 750.7 L1674.8 751.2 L1675.5 752.4 L1676.2 752.8 L1676.8 751.9 L1677.5 753.6 L1678.1 752.0 L1678.8 752.3 L1679.5 753.0 L1680.1 753.4 L1680.8 752.7 L1681.4 753.4 L1682.1 752.6 L1682.8 753.0 L1683.4 755.5 L1684.1 752.9 L1684.7 755.8 L1685.4 753.7 L1686.1 755.8 L1686.7 754.1 L1687.4 753.6 L1688.0 754.8 L1688.7 754.9 L1689.4 755.3 L1690.0 754.1 L1690.7 753.6 L1691.3 755.0 L1692.0 754.7 L1692.7 754.4 L1693.3 755.2 L1694.0 756.8 L1694.6 756.7 L1695.3 755.7 L1696.0 756.8 L1696.6 757.5 L1697.3 757.0 L1697.9 753.7 L1698.6 754.7 L1699.3 755.8 L1699.9 756.6 L1700.6 754.2 L1701.2 757.9 L1701.9 754.9 L1702.6 754.6 L1703.2 753.4 L1703.9 756.6 L1704.5 756.7 L1705.2 756.6 L1705.9 755.9 L1706.5 756.1 L1707.2 755.8 L1707.8 757.6 L1708.5 756.5 L1709.2 756.9 L1709.8 754.0 L1710.5 754.1 L1711.1 757.0 L1711.8 756.5 L1712.5 756.4 L1713.1 755.8 L1713.8 756.3 L1714.4 755.5 L1715.1 756.7 L1715.8 754.4 L1716.4 756.5 L1717.1 756.1 L1717.7 756.3 L1718.4 757.4 L1719.1 758.0 L1719.7 758.7 L1720.4 761.1 L1721.0 758.6 L1721.7 759.5 L1722.4 761.0 L1723.0 761.5 L1723.7 762.3 L1724.3 763.1 L1725.0 762.7 L1725.7 761.5 L1726.3 764.9 L1727.0 762.5 L1727.6 762.2 L1728.3 762.1 L1729.0 760.9 L1729.6 760.8 L1730.3 761.4 L1730.9 761.4 L1731.6 761.4 L1732.3 759.5 L1732.9 761.1 L1733.6 758.9 L1734.2 761.0 L1734.9 762.3 L1735.6 758.0 L1736.2 759.7 L1736.9 760.1 L1737.5 758.4 L1738.2 760.4 L1738.9 757.2 L1739.5 758.2 L1740.2 759.5 L1740.8 760.7 L1741.5 758.5 L1742.2 757.6 L1742.8 759.9 L1743.5 761.3 L1744.1 760.2 L1744.8 759.0 L1745.5 758.4 L1746.1 763.1 L1746.8 760.5 L1747.4 758.6 L1748.1 758.6 L1748.8 762.1 L1749.4 762.3 L1750.1 760.9 L1750.7 760.6 L1751.4 762.0 L1752.1 762.1 L1752.7 761.5 L1753.4 759.8 L1754.0 761.6 L1754.7 763.9 L1755.4 760.0 L1756.0 760.4 L1756.7 760.3 L1757.3 760.3 L1758.0 762.8 L1758.7 761.9 L1759.3 760.0 L1760.0 759.8 L1760.6 760.9 L1761.3 760.2 L1762.0 761.3 L1762.6 761.1 L1763.3 759.2 L1763.9 762.9 L1764.6 759.9 L1765.3 762.3 L1765.9 760.9 L1766.6 760.3 L1767.2 758.2 L1767.9 759.8 L1768.6 761.7 L1769.2 761.3 L1769.9 759.4 L1770.5 757.4 L1771.2 760.5 L1771.9 758.7 L1772.5 759.9 L1773.2 758.8 L1773.8 761.4 L1774.5 759.3 L1775.2 760.0 L1775.8 759.6 L1776.5 759.0 L1777.1 760.5 L1777.8 760.0 L1778.5 759.9 L1779.1 759.1 L1779.8 760.0 L1780.4 758.1 L1781.1 759.6 L1781.8 759.0 L1782.4 755.8 L1783.1 757.6 L1783.7 758.6 L1784.4 761.3 L1785.1 760.3 L1785.7 758.2 L1786.4 760.1 L1787.0 757.7 L1787.7 760.0 L1788.4 758.2 L1789.0 757.6 L1789.7 756.8 L1790.3 758.3 L1791.0 759.5 L1791.7 758.3 L1792.3 762.0 L1793.0 757.5 L1793.6 759.5 L1794.3 759.1 L1795.0 758.2 L1795.6 757.7 L1796.3 757.1 L1796.9 758.6 L1797.6 758.6 L1798.3 757.4 L1798.9 756.8 L1799.6 756.1 L1800.2 757.3 L1800.9 755.5 L1801.6 756.5 L1802.2 759.4 L1802.9 756.1 L1803.5 756.6 L1804.2 758.0 L1804.9 757.5 L1805.5 756.6 L1806.2 757.3 L1806.8 756.6 L1807.5 756.7 L1808.2 755.7 L1808.8 757.1 L1809.5 756.7 L1810.1 756.5 L1810.8 756.8 L1811.5 756.4 L1812.1 755.8 L1812.8 756.2 L1813.4 755.5 L1814.1 753.5 L1814.8 755.0 L1815.4 755.5 L1816.1 755.9 L1816.7 756.1 L1817.4 757.1 L1818.1 757.3 L1818.7 757.3 L1819.4 755.3 L1820.0 756.6 L1820.7 753.0 L1821.4 754.1 L1822.0 757.0 L1822.7 755.0 L1823.3 755.0 L1824.0 755.5 L1824.7 755.6 L1825.3 754.7 L1826.0 754.9 L1826.6 753.3 L1827.3 755.2 L1828.0 755.7 L1828.6 755.6 L1829.3 754.8 L1829.9 753.9 L1830.6 754.1 L1831.3 753.5 L1831.9 752.8 L1832.6 754.7 L1833.2 753.5 L1833.9 756.5 L1834.6 754.3 L1835.2 755.4 L1835.9 752.2 L1836.5 753.6 L1837.2 754.7 L1837.9 754.5 L1838.5 754.0 L1839.2 754.1 L1839.8 752.5 L1840.5 752.3 L1841.2 752.6 L1841.8 751.5 L1842.5 753.9 L1843.1 751.6 L1843.8 751.5 L1844.5 752.3 L1845.1 754.2 L1845.8 752.6 L1846.4 752.8 L1847.1 752.3 L1847.8 753.9 L1848.4 752.8 L1849.1 750.7 L1849.7 751.0 L1850.4 752.5 L1851.1 752.7 L1851.7 752.0 L1852.4 753.0 L1853.0 754.2 L1853.7 752.5 L1854.4 754.6 L1855.0 754.8 L1855.7 750.4 L1856.3 753.1 L1857.0 754.8 L1857.7 754.1 L1858.3 754.4 L1859.0 755.6 L1859.6 755.7 L1860.3 754.3 L1861.0 752.6 L1861.6 756.1 L1862.3 756.8 L1862.9 756.5 L1863.6 756.6 L1864.3 757.2 L1864.9 757.1 L1865.6 756.0 L1866.2 757.2 L1866.9 757.7 L1867.6 756.5 L1868.2 757.4 L1868.9 758.6 L1869.5 759.6 L1870.2 758.3 L1870.9 759.8 L1871.5 757.6 L1872.2 757.5 L1872.8 759.1 L1873.5 757.4 L1874.2 757.2 L1874.8 756.4 L1875.5 757.6 L1876.1 757.3 L1876.8 756.2 L1877.5 756.2 L1878.1 758.0 L1878.8 758.5 L1879.4 757.1 L1880.1 756.9 L1880.8 757.4 L1881.4 753.2 L1882.1 757.0 L1882.7 758.9 L1883.4 758.7 L1884.1 757.0 L1884.7 757.4 L1885.4 755.8 L1886.0 756.3 L1886.7 757.7 L1887.4 756.5 L1888.0 759.4 L1888.7 758.8 L1889.3 758.1 L1890.0 758.0 L1890.7 757.0 L1891.3 757.7 L1892.0 755.6 L1892.6 758.4 L1893.3 758.4 L1894.0 758.5 L1894.6 757.5 L1895.3 759.3 L1895.9 757.8 L1896.6 757.9 L1897.3 757.1 L1897.9 757.2 L1898.6 756.0 L1899.2 757.1 L1899.9 757.3 L1900.6 757.4 L1901.2 756.5 L1901.9 756.1 L1902.5 756.7 L1903.2 757.3 L1903.9 758.7 L1904.5 756.6 L1905.2 758.0 L1905.8 757.3 L1906.5 757.2 L1907.2 756.6 L1907.8 759.8 L1908.5 757.7 L1909.1 757.3 L1909.8 758.1 L1910.5 756.2 L1911.1 756.2 L1911.8 757.3 L1912.4 755.7 L1913.1 756.8 L1913.8 758.2 L1914.4 755.4 L1915.1 756.5 L1915.7 757.2 L1916.4 754.7 L1917.1 756.4 L1917.7 756.0 L1918.4 754.3 L1919.0 755.7 L1919.7 756.3 L1920.4 756.5 L1921.0 755.1 L1921.7 756.6 L1922.3 755.3 L1923.0 755.0 L1923.7 753.9 L1924.3 754.2 L1925.0 755.1 L1925.6 754.5 L1926.3 755.7 L1927.0 754.6 L1927.6 754.2 L1928.3 756.5 L1928.9 753.6 L1929.6 754.4 L1930.3 755.4 L1930.9 754.1 L1931.6 754.7 L1932.2 754.5 L1932.9 751.9 L1933.6 755.2 L1934.2 753.0 L1934.9 753.5 L1935.5 755.0 L1936.2 753.1 L1936.9 753.2 L1937.5 753.7 L1938.2 752.4 L1938.8 753.7 L1939.5 753.0 L1940.2 752.5 L1940.8 752.0 L1941.5 753.3 L1942.1 750.5 L1942.8 752.0 L1943.5 751.8 L1944.1 753.1 L1944.8 755.0 L1945.4 753.0 L1946.1 753.7 L1946.8 751.1 L1947.4 753.6 L1948.1 751.2 L1948.7 751.6 L1949.4 752.0 L1950.1 750.8 L1950.7 752.9 L1951.4 753.2 L1952.0 752.9 L1952.7 750.6 L1953.4 750.2 L1954.0 751.7 L1954.7 754.0 L1955.3 750.2 L1956.0 751.2 L1956.7 753.9 L1957.3 753.2 L1958.0 753.4 L1958.6 752.6 L1959.3 752.9 L1960.0 752.8 L1960.6 752.4 L1961.3 750.5 L1961.9 752.6 L1962.6 754.1 L1963.3 752.0 L1963.9 753.9 L1964.6 753.0 L1965.2 752.6 L1965.9 754.4 L1966.6 753.2 L1967.2 752.0 L1967.9 752.1 L1968.5 754.8 L1969.2 754.0 L1969.9 752.7 L1970.5 754.4 L1971.2 753.7 L1971.8 755.6 L1972.5 753.2 L1973.2 752.6 L1973.8 752.6 L1974.5 753.1 L1975.1 753.4 L1975.8 753.3 L1976.5 753.5 L1977.1 753.0 L1977.8 754.9 L1978.4 755.2 L1979.1 752.8 L1979.8 755.4 L1980.4 754.9 L1981.1 755.0 L1981.7 752.9 L1982.4 752.3 L1983.1 754.6 L1983.7 750.8 L1984.4 752.6 L1985.0 752.3 L1985.7 752.0 L1986.4 751.6 L1987.0 752.1 L1987.7 751.9 L1988.3 752.2 L1989.0 750.7 L1989.7 751.5 L1990.3 751.9 L1991.0 751.3 L1991.6 750.0 L1992.3 750.2 L1993.0 751.2 L1993.6 750.3 L1994.3 750.1 L1994.9 750.1 L1995.6 750.9 L1996.3 750.4 L1996.9 753.4 L1997.6 751.3 L1998.2 750.3 L1998.9 750.4 L1999.6 748.9 L2000.2 749.5 L2000.9 750.2 L2001.5 750.8 L2002.2 749.3 L2002.9 748.8 L2003.5 749.6 L2004.2 749.1 L2004.8 749.1 L2005.5 750.0 L2006.2 751.0 L2006.8 749.1 L2007.5 751.6 L2008.1 749.9 L2008.8 748.4 L2009.5 750.6 L2010.1 750.5 L2010.8 750.9 L2011.4 748.8 L2012.1 751.3 L2012.8 751.7 L2013.4 749.7 L2014.1 750.0 L2014.7 752.1 L2015.4 753.6 L2016.1 753.1 L2016.7 750.1 L2017.4 753.4 L2018.0 750.5 L2018.7 751.7 L2019.4 751.6 L2020.0 753.4 L2020.7 753.3 L2021.3 752.1 L2022.0 752.6 L2022.7 751.3 L2023.3 752.4 L2024.0 753.8 L2024.6 752.4 L2025.3 751.7 L2026.0 753.6 L2026.6 751.8 L2027.3 752.4 L2027.9 752.5 L2028.6 752.4 L2029.3 751.6 L2029.9 752.1 L2030.6 751.8 L2031.2 751.9 L2031.9 749.8 L2032.6 751.6 L2033.2 751.7 L2033.9 753.4 L2034.5 753.2 L2035.2 750.3 L2035.9 750.7 L2036.5 752.6 L2037.2 752.0 L2037.8 751.2 L2038.5 750.9 L2039.2 751.3 L2039.8 751.3 L2040.5 750.5 L2041.1 752.3 L2041.8 753.3 L2042.5 751.6 L2043.1 752.0 L2043.8 749.6 L2044.4 750.7 L2045.1 750.0 L2045.8 752.4 L2046.4 752.8 L2047.1 750.6 L2047.7 751.2 L2048.4 750.7 L2049.1 751.3 L2049.7 750.2 L2050.4 752.6 L2051.0 750.9 L2051.7 750.6 L2052.4 750.7 L2053.0 751.5 L2053.7 753.1 L2054.3 752.2 L2055.0 752.1 L2055.7 751.3 L2056.3 751.1 L2057.0 752.3 L2057.6 753.0 L2058.3 753.3 L2059.0 752.2 L2059.6 751.0 L2060.3 751.6 L2060.9 752.3 L2061.6 752.7 L2062.3 752.6 L2062.9 753.6 L2063.6 753.2 L2064.2 753.3 L2064.9 753.9 L2065.6 753.0 L2066.2 754.1 L2066.9 752.5 L2067.5 752.4 L2068.2 754.7 L2068.9 753.0 L2069.5 755.3 L2070.2 751.0 L2070.8 753.5 L2071.5 753.8 L2072.2 755.7 L2072.8 754.4 L2073.5 752.9 L2074.1 753.7 L2074.8 752.6 L2075.5 752.8 L2076.1 754.1 L2076.8 753.8 L2077.4 755.5 L2078.1 750.7 L2078.8 753.4 L2079.4 754.4 L2080.1 755.0 L2080.7 753.9 L2081.4 753.7 L2082.1 754.3 L2082.7 756.7 L2083.4 754.5 L2084.0 752.6 L2084.7 752.8 L2085.4 754.0 L2086.0 752.8 L2086.7 754.4 L2087.3 753.7 L2088.0 753.3 L2088.7 753.7 L2089.3 751.9 L2090.0 752.5 L2090.6 752.9 L2091.3 753.1 L2092.0 753.1 L2092.6 753.1 L2093.3 755.1 L2093.9 751.1 L2094.6 754.1 L2095.3 753.2 L2095.9 751.8 L2096.6 752.6 L2097.2 751.7 L2097.9 752.0 L2098.6 752.5 L2099.2 752.6 L2099.9 752.2 L2100.5 753.0 L2101.2 750.4 L2101.9 753.1 L2102.5 751.9 L2103.2 750.6 L2103.8 752.8 L2104.5 751.7 L2105.2 751.1 L2105.8 751.2 L2106.5 750.8 L2107.1 749.7 L2107.8 751.2 L2108.5 751.5 L2109.1 750.5 L2109.8 750.9 L2110.4 748.3 L2111.1 752.1 L2111.8 750.1 L2112.4 749.6 L2113.1 751.5 L2113.7 751.9 L2114.4 751.1 L2115.1 751.6 L2115.7 750.7 L2116.4 750.2 L2117.0 752.2 L2117.7 748.1 L2118.4 749.3 L2119.0 750.4 L2119.7 751.5 L2120.3 750.9 L2121.0 750.4 L2121.7 750.4 L2122.3 751.3 L2123.0 750.2 L2123.6 750.7 L2124.3 750.9 L2125.0 749.4 L2125.6 749.7 L2126.3 750.1 L2126.9 750.9 L2127.6 751.7 L2128.3 749.8 L2128.9 748.6 L2129.6 751.7 L2130.2 749.1 L2130.9 751.6 L2131.6 749.7 L2132.2 749.8 L2132.9 750.4 L2133.5 749.6 L2134.2 751.4 L2134.9 751.2" fill="none" stroke="#f00" stroke-width="2.2" stroke-linejoin="round" shape-rendering="crispEdges"/>
<path d="M157.5 1015.8 L158.2 1016.0 L158.8 1015.8 L159.5 1016.6 L160.1 1019.2 L160.8 1015.2 L161.5 1018.4 L162.1 1018.8 L162.8 1016.6 L163.4 1016.0 L164.1 1017.5 L164.8 1018.4 L165.4 1019.5 L166.1 1017.7 L166.7 1018.6 L167.4 1015.8 L168.1 1015.1 L168.7 1013.9 L169.4 1014.5 L170.0 1015.5 L170.7 1016.1 L171.4 1014.0 L172.0 1016.6 L172.7 1015.3 L173.3 1014.5 L174.0 1014.2 L174.7 1017.7 L175.3 1015.1 L176.0 1013.6 L176.6 1013.3 L177.3 1016.7 L178.0 1013.4 L178.6 1015.4 L179.3 1015.5 L179.9 1010.4 L180.6 1014.9 L181.3 1012.6 L181.9 1011.2 L182.6 1011.7 L183.2 1012.8 L183.9 1012.3 L184.6 1012.1 L185.2 1010.4 L185.9 1012.7 L186.5 1012.7 L187.2 1012.9 L187.9 1011.6 L188.5 1012.5 L189.2 1012.5 L189.8 1010.5 L190.5 1010.5 L191.2 1009.9 L191.8 1009.7 L192.5 1009.9 L193.1 1006.4 L193.8 1008.1 L194.5 1009.0 L195.1 1005.6 L195.8 1006.3 L196.4 1010.2 L197.1 1006.8 L197.8 1007.5 L198.4 1008.6 L199.1 1007.6 L199.7 1007.1 L200.4 1007.6 L201.1 1007.7 L201.7 1007.6 L202.4 1008.6 L203.0 1010.6 L203.7 1009.0 L204.4 1010.7 L205.0 1009.7 L205.7 1009.9 L206.3 1009.6 L207.0 1008.6 L207.7 1009.6 L208.3 1009.6 L209.0 1007.8 L209.6 1010.3 L210.3 1010.2 L211.0 1010.0 L211.6 1008.9 L212.3 1006.3 L212.9 1011.8 L213.6 1009.8 L214.3 1007.2 L214.9 1010.9 L215.6 1009.3 L216.2 1011.1 L216.9 1010.2 L217.6 1011.8 L218.2 1010.7 L218.9 1010.8 L219.5 1010.7 L220.2 1012.1 L220.9 1008.8 L221.5 1012.0 L222.2 1011.4 L222.8 1009.8 L223.5 1010.5 L224.2 1009.9 L224.8 1010.6 L225.5 1011.7 L226.1 1009.6 L226.8 1011.4 L227.5 1011.7 L228.1 1011.3 L228.8 1012.4 L229.4 1010.3 L230.1 1011.3 L230.8 1013.6 L231.4 1010.4 L232.1 1010.1 L232.7 1010.3 L233.4 1011.0 L234.1 1009.4 L234.7 1009.9 L235.4 1007.9 L236.0 1008.8 L236.7 1008.8 L237.4 1008.6 L238.0 1009.5 L238.7 1010.9 L239.3 1009.5 L240.0 1008.2 L240.7 1010.2 L241.3 1010.1 L242.0 1008.0 L242.6 1010.0 L243.3 1008.4 L244.0 1008.9 L244.6 1008.7 L245.3 1010.7 L245.9 1008.5 L246.6 1009.1 L247.3 1009.7 L247.9 1010.8 L248.6 1010.9 L249.2 1008.0 L249.9 1010.9 L250.6 1009.6 L251.2 1010.8 L251.9 1010.5 L252.5 1008.4 L253.2 1009.1 L253.9 1008.6 L254.5 1009.4 L255.2 1010.9 L255.8 1008.8 L256.5 1007.8 L257.2 1011.8 L257.8 1007.1 L258.5 1008.3 L259.1 1008.2 L259.8 1006.4 L260.5 1009.0 L261.1 1009.2 L261.8 1007.6 L262.4 1007.6 L263.1 1007.2 L263.8 1004.9 L264.4 1007.4 L265.1 1005.3 L265.7 1005.4 L266.4 1007.0 L267.1 1007.5 L267.7 1005.0 L268.4 1007.4 L269.0 1007.9 L269.7 1005.6 L270.4 1004.8 L271.0 1004.7 L271.7 1003.4 L272.3 1002.2 L273.0 1003.5 L273.7 1002.9 L274.3 1000.6 L275.0 999.9 L275.6 998.8 L276.3 997.9 L277.0 996.7 L277.6 995.1 L278.3 997.3 L278.9 994.6 L279.6 993.8 L280.3 994.5 L280.9 989.8 L281.6 989.4 L282.2 985.2 L282.9 984.5 L283.6 984.7 L284.2 982.2 L284.9 979.7 L285.5 979.0 L286.2 981.3 L286.9 980.1 L287.5 983.2 L288.2 984.0 L288.8 984.7 L289.5 986.7 L290.2 989.4 L290.8 989.8 L291.5 989.6 L292.1 991.9 L292.8 991.0 L293.5 991.0 L294.1 991.7 L294.8 991.0 L295.4 991.5 L296.1 989.4 L296.8 988.6 L297.4 988.3 L298.1 988.8 L298.7 987.1 L299.4 987.5 L300.1 986.9 L300.7 987.3 L301.4 988.6 L302.0 992.5 L302.7 989.8 L303.4 991.5 L304.0 992.2 L304.7 992.9 L305.3 994.2 L306.0 997.7 L306.7 995.8 L307.3 999.0 L308.0 998.6 L308.6 997.2 L309.3 998.0 L310.0 998.6 L310.6 998.2 L311.3 1001.4 L311.9 1000.9 L312.6 1001.4 L313.3 999.7 L313.9 1002.0 L314.6 1001.0 L315.2 1005.1 L315.9 1002.2 L316.6 1002.9 L317.2 1003.3 L317.9 1002.4 L318.5 1002.6 L319.2 1002.7 L319.9 1004.4 L320.5 1002.5 L321.2 1003.2 L321.8 1003.8 L322.5 1002.7 L323.2 1001.4 L323.8 1001.4 L324.5 1002.2 L325.1 1001.3 L325.8 1003.5 L326.5 1002.0 L327.1 1001.7 L327.8 1000.1 L328.4 1001.8 L329.1 1000.3 L329.8 999.3 L330.4 999.4 L331.1 1002.9 L331.7 998.8 L332.4 998.3 L333.1 1000.6 L333.7 999.9 L334.4 998.4 L335.0 1000.4 L335.7 996.7 L336.4 997.9 L337.0 996.3 L337.7 1000.0 L338.3 998.2 L339.0 1001.4 L339.7 998.6 L340.3 998.5 L341.0 996.4 L341.6 996.3 L342.3 997.1 L343.0 998.7 L343.6 996.2 L344.3 994.4 L344.9 998.4 L345.6 998.4 L346.3 996.0 L346.9 997.7 L347.6 998.5 L348.2 998.4 L348.9 994.9 L349.6 996.9 L350.2 995.8 L350.9 997.9 L351.5 996.8 L352.2 995.1 L352.9 996.7 L353.5 997.3 L354.2 994.5 L354.8 994.7 L355.5 995.5 L356.2 995.9 L356.8 995.6 L357.5 993.9 L358.1 994.2 L358.8 996.2 L359.5 996.7 L360.1 995.0 L360.8 996.4 L361.4 998.5 L362.1 995.9 L362.8 995.6 L363.4 995.2 L364.1 996.7 L364.7 996.4 L365.4 996.5 L366.1 995.7 L366.7 996.7 L367.4 996.7 L368.0 996.0 L368.7 997.6 L369.4 994.2 L370.0 997.1 L370.7 996.0 L371.3 997.3 L372.0 998.6 L372.7 996.3 L373.3 996.0 L374.0 996.2 L374.6 998.0 L375.3 998.2 L376.0 996.4 L376.6 997.1 L377.3 998.5 L377.9 996.9 L378.6 994.3 L379.3 995.2 L379.9 995.6 L380.6 996.8 L381.2 995.5 L381.9 998.0 L382.6 995.7 L383.2 998.3 L383.9 995.4 L384.5 998.0 L385.2 996.5 L385.9 998.1 L386.5 998.8 L387.2 998.5 L387.8 997.6 L388.5 995.2 L389.2 995.0 L389.8 991.7 L390.5 997.4 L391.1 996.8 L391.8 996.1 L392.5 992.9 L393.1 997.4 L393.8 992.5 L394.4 994.0 L395.1 990.3 L395.8 991.0 L396.4 992.9 L397.1 992.1 L397.7 988.9 L398.4 989.7 L399.1 990.8 L399.7 986.6 L400.4 989.6 L401.0 986.3 L401.7 988.8 L402.4 987.3 L403.0 988.5 L403.7 986.2 L404.3 986.0 L405.0 985.4 L405.7 984.0 L406.3 984.2 L407.0 982.1 L407.6 980.9 L408.3 980.0 L409.0 975.6 L409.6 973.9 L410.3 969.6 L410.9 965.5 L411.6 958.2 L412.3 953.5 L412.9 946.7 L413.6 937.0 L414.2 927.9 L414.9 918.8 L415.6 906.0 L416.2 900.6 L416.9 891.6 L417.5 881.1 L418.2 869.7 L418.9 861.9 L419.5 852.3 L420.2 846.8 L420.8 839.1 L421.5 831.7 L422.2 828.0 L422.8 828.1 L423.5 831.9 L424.1 836.3 L424.8 847.2 L425.5 851.9 L426.1 863.2 L426.8 873.7 L427.4 884.2 L428.1 892.0 L428.8 901.2 L429.4 908.8 L430.1 916.5 L430.7 922.9 L431.4 930.9 L432.1 938.8 L432.7 947.7 L433.4 949.7 L434.0 957.1 L434.7 961.9 L435.4 960.6 L436.0 966.6 L436.7 968.8 L437.3 969.1 L438.0 972.1 L438.7 974.4 L439.3 973.7 L440.0 975.4 L440.6 974.7 L441.3 976.0 L442.0 977.4 L442.6 977.5 L443.3 980.0 L443.9 977.9 L444.6 976.9 L445.3 979.8 L445.9 980.1 L446.6 979.6 L447.2 979.1 L447.9 978.4 L448.6 978.7 L449.2 981.6 L449.9 980.7 L450.5 979.9 L451.2 980.3 L451.9 979.3 L452.5 978.6 L453.2 979.1 L453.8 979.6 L454.5 977.5 L455.2 977.6 L455.8 977.2 L456.5 978.7 L457.1 979.9 L457.8 977.3 L458.5 977.4 L459.1 976.6 L459.8 977.9 L460.4 976.8 L461.1 976.8 L461.8 976.4 L462.4 980.5 L463.1 977.3 L463.7 976.3 L464.4 976.1 L465.1 977.3 L465.7 976.7 L466.4 975.0 L467.0 971.2 L467.7 973.9 L468.4 972.8 L469.0 971.2 L469.7 969.4 L470.3 967.4 L471.0 967.2 L471.7 963.6 L472.3 963.6 L473.0 959.8 L473.6 957.6 L474.3 954.6 L475.0 951.0 L475.6 947.2 L476.3 944.5 L476.9 940.9 L477.6 933.2 L478.3 927.7 L478.9 925.6 L479.6 918.4 L480.2 914.1 L480.9 907.9 L481.6 901.9 L482.2 891.8 L482.9 886.1 L483.5 877.0 L484.2 864.4 L484.9 858.3 L485.5 849.6 L486.2 842.7 L486.8 834.9 L487.5 827.8 L488.2 823.2 L488.8 820.3 L489.5 817.6 L490.1 816.9 L490.8 821.5 L491.5 822.7 L492.1 825.6 L492.8 833.4 L493.4 840.9 L494.1 847.1 L494.8 856.8 L495.4 864.0 L496.1 870.4 L496.7 881.5 L497.4 888.8 L498.1 894.7 L498.7 899.7 L499.4 905.3 L500.0 912.4 L500.7 918.6 L501.4 924.9 L502.0 930.6 L502.7 934.5 L503.3 936.6 L504.0 940.3 L504.7 941.4 L505.3 946.9 L506.0 949.2 L506.6 952.1 L507.3 952.9 L508.0 955.3 L508.6 952.7 L509.3 953.9 L509.9 953.1 L510.6 953.1 L511.3 950.9 L511.9 952.0 L512.6 950.2 L513.2 952.0 L513.9 951.3 L514.6 952.0 L515.2 949.1 L515.9 950.2 L516.5 948.9 L517.2 943.6 L517.9 945.0 L518.5 939.2 L519.2 932.7 L519.8 931.0 L520.5 925.1 L521.2 915.2 L521.8 913.2 L522.5 907.0 L523.1 901.1 L523.8 892.5 L524.5 885.8 L525.1 878.7 L525.8 868.3 L526.4 865.4 L527.1 861.8 L527.8 856.5 L528.4 855.9 L529.1 856.6 L529.7 856.6 L530.4 859.7 L531.1 863.7 L531.7 867.5 L532.4 876.5 L533.0 880.0 L533.7 886.2 L534.4 892.8 L535.0 899.3 L535.7 901.0 L536.3 906.6 L537.0 913.7 L537.7 920.1 L538.3 924.0 L539.0 929.8 L539.6 938.2 L540.3 943.4 L541.0 946.6 L541.6 950.2 L542.3 952.7 L542.9 954.7 L543.6 957.8 L544.3 961.6 L544.9 963.4 L545.6 967.0 L546.2 965.9 L546.9 967.0 L547.6 971.3 L548.2 970.5 L548.9 972.1 L549.5 973.1 L550.2 972.1 L550.9 972.3 L551.5 975.1 L552.2 971.8 L552.8 976.5 L553.5 973.8 L554.2 977.5 L554.8 977.1 L555.5 977.2 L556.1 977.7 L556.8 977.3 L557.5 975.4 L558.1 978.2 L558.8 977.2 L559.4 977.5 L560.1 976.6 L560.8 976.3 L561.4 977.6 L562.1 977.4 L562.7 976.3 L563.4 974.1 L564.1 974.2 L564.7 973.8 L565.4 976.3 L566.0 975.2 L566.7 974.3 L567.4 973.7 L568.0 972.6 L568.7 974.2 L569.3 971.2 L570.0 970.8 L570.7 972.3 L571.3 971.2 L572.0 969.6 L572.6 967.3 L573.3 966.6 L574.0 968.7 L574.6 967.6 L575.3 968.7 L575.9 966.0 L576.6 966.5 L577.3 965.6 L577.9 969.3 L578.6 965.4 L579.2 968.9 L579.9 970.7 L580.6 968.0 L581.2 967.9 L581.9 969.0 L582.5 968.9 L583.2 971.5 L583.9 971.2 L584.5 970.2 L585.2 970.9 L585.8 973.0 L586.5 970.5 L587.2 969.9 L587.8 972.4 L588.5 968.2 L589.1 968.1 L589.8 969.9 L590.5 967.2 L591.1 963.9 L591.8 964.4 L592.4 961.8 L593.1 962.9 L593.8 963.1 L594.4 959.3 L595.1 962.0 L595.7 960.0 L596.4 957.6 L597.1 953.6 L597.7 952.4 L598.4 950.8 L599.0 948.6 L599.7 945.2 L600.4 936.0 L601.0 932.6 L601.7 926.5 L602.3 922.4 L603.0 918.5 L603.7 917.5 L604.3 910.8 L605.0 908.5 L605.6 904.0 L606.3 900.4 L607.0 899.8 L607.6 893.5 L608.3 894.0 L608.9 894.7 L609.6 896.3 L610.3 891.7 L610.9 892.4 L611.6 893.8 L612.2 897.1 L612.9 900.2 L613.6 902.9 L614.2 907.2 L614.9 908.2 L615.5 911.7 L616.2 911.6 L616.9 915.0 L617.5 917.3 L618.2 915.7 L618.8 920.2 L619.5 922.4 L620.2 922.5 L620.8 923.8 L621.5 924.6 L622.1 923.9 L622.8 926.3 L623.5 926.1 L624.1 927.3 L624.8 927.5 L625.4 927.4 L626.1 925.2 L626.8 926.4 L627.4 928.3 L628.1 926.8 L628.7 924.9 L629.4 924.1 L630.1 926.4 L630.7 925.3 L631.4 923.5 L632.0 926.0 L632.7 929.6 L633.4 926.2 L634.0 929.5 L634.7 929.6 L635.3 931.8 L636.0 932.6 L636.7 933.2 L637.3 932.7 L638.0 938.1 L638.6 940.8 L639.3 942.6 L640.0 942.5 L640.6 943.5 L641.3 947.5 L641.9 943.3 L642.6 944.6 L643.3 943.5 L643.9 944.8 L644.6 942.7 L645.2 940.9 L645.9 936.2 L646.6 932.3 L647.2 928.9 L647.9 925.5 L648.5 921.1 L649.2 917.9 L649.9 916.7 L650.5 911.1 L651.2 908.8 L651.8 904.8 L652.5 902.7 L653.2 903.4 L653.8 899.3 L654.5 900.8 L655.1 903.8 L655.8 903.6 L656.5 905.3 L657.1 907.5 L657.8 908.5 L658.4 913.9 L659.1 917.1 L659.8 923.2 L660.4 927.2 L661.1 929.4 L661.7 936.9 L662.4 940.1 L663.1 947.8 L663.7 951.1 L664.4 952.9 L665.0 953.1 L665.7 957.1 L666.4 957.0 L667.0 958.4 L667.7 958.5 L668.3 958.4 L669.0 960.6 L669.7 959.3 L670.3 962.2 L671.0 962.1 L671.6 960.3 L672.3 963.7 L673.0 963.5 L673.6 963.5 L674.3 964.3 L674.9 965.7 L675.6 963.5 L676.3 963.8 L676.9 966.3 L677.6 965.6 L678.2 963.1 L678.9 965.4 L679.6 962.8 L680.2 965.5 L680.9 964.5 L681.5 964.3 L682.2 961.0 L682.9 961.3 L683.5 962.7 L684.2 959.0 L684.8 960.8 L685.5 959.0 L686.2 958.7 L686.8 956.7 L687.5 957.8 L688.1 956.7 L688.8 956.3 L689.5 957.3 L690.1 952.6 L690.8 951.7 L691.4 948.9 L692.1 951.4 L692.8 947.5 L693.4 948.0 L694.1 944.7 L694.7 945.2 L695.4 946.0 L696.1 945.9 L696.7 945.6 L697.4 948.5 L698.0 949.2 L698.7 952.3 L699.4 952.6 L700.0 955.6 L700.7 955.5 L701.3 958.6 L702.0 957.1 L702.7 957.0 L703.3 955.9 L704.0 957.6 L704.6 956.0 L705.3 954.9 L706.0 956.4 L706.6 953.0 L707.3 954.7 L707.9 954.8 L708.6 950.0 L709.3 953.0 L709.9 952.2 L710.6 951.5 L711.2 951.6 L711.9 949.6 L712.6 951.8 L713.2 951.5 L713.9 949.2 L714.5 950.9 L715.2 949.6 L715.9 951.3 L716.5 948.5 L717.2 945.5 L717.8 939.1 L718.5 938.4 L719.2 938.0 L719.8 937.7 L720.5 939.1 L721.1 940.1 L721.8 935.1 L722.5 938.0 L723.1 936.5 L723.8 936.9 L724.4 937.8 L725.1 939.4 L725.8 941.3 L726.4 944.4 L727.1 946.9 L727.7 947.6 L728.4 948.9 L729.1 950.9 L729.7 951.5 L730.4 953.5 L731.0 949.8 L731.7 949.0 L732.4 950.0 L733.0 950.3 L733.7 949.1 L734.3 949.2 L735.0 945.1 L735.7 947.0 L736.3 946.9 L737.0 945.8 L737.6 946.8 L738.3 947.6 L739.0 949.0 L739.6 948.3 L740.3 948.4 L740.9 952.3 L741.6 955.6 L742.3 954.6 L742.9 955.9 L743.6 955.6 L744.2 958.1 L744.9 960.7 L745.6 957.0 L746.2 961.7 L746.9 958.8 L747.5 964.1 L748.2 964.1 L748.9 963.5 L749.5 964.9 L750.2 967.4 L750.8 964.4 L751.5 967.7 L752.2 967.2 L752.8 966.5 L753.5 968.2 L754.1 964.0 L754.8 965.4 L755.5 963.4 L756.1 964.1 L756.8 963.9 L757.4 960.2 L758.1 961.6 L758.8 960.5 L759.4 958.3 L760.1 957.9 L760.7 958.3 L761.4 956.3 L762.1 957.1 L762.7 952.9 L763.4 951.9 L764.0 954.5 L764.7 950.7 L765.4 953.5 L766.0 951.5 L766.7 952.0 L767.3 950.4 L768.0 951.8 L768.7 951.8 L769.3 951.3 L770.0 950.0 L770.6 947.3 L771.3 949.9 L772.0 948.3 L772.6 949.4 L773.3 945.3 L773.9 947.2 L774.6 945.4 L775.3 945.2 L775.9 945.5 L776.6 944.2 L777.2 943.5 L777.9 940.5 L778.6 938.8 L779.2 936.5 L779.9 932.7 L780.5 933.6 L781.2 929.4 L781.9 928.1 L782.5 927.8 L783.2 925.0 L783.8 923.7 L784.5 919.6 L785.2 920.2 L785.8 918.8 L786.5 918.6 L787.1 919.8 L787.8 918.9 L788.5 919.8 L789.1 921.1 L789.8 923.6 L790.4 925.3 L791.1 926.2 L791.8 927.2 L792.4 930.5 L793.1 930.8 L793.7 932.6 L794.4 934.7 L795.1 934.9 L795.7 935.0 L796.4 935.3 L797.0 936.5 L797.7 936.9 L798.4 936.9 L799.0 934.3 L799.7 934.7 L800.3 933.5 L801.0 931.8 L801.7 934.4 L802.3 929.2 L803.0 928.1 L803.6 928.4 L804.3 929.4 L805.0 926.3 L805.6 928.1 L806.3 925.0 L806.9 926.0 L807.6 926.8 L808.3 927.4 L808.9 928.7 L809.6 929.6 L810.2 930.7 L810.9 931.0 L811.6 934.2 L812.2 935.0 L812.9 936.5 L813.5 939.0 L814.2 939.7 L814.9 941.3 L815.5 944.8 L816.2 944.7 L816.8 945.6 L817.5 949.1 L818.2 950.5 L818.8 953.7 L819.5 955.4 L820.1 957.0 L820.8 958.4 L821.5 959.2 L822.1 958.9 L822.8 958.3 L823.4 957.2 L824.1 956.3 L824.8 956.0 L825.4 954.7 L826.1 952.5 L826.7 952.1 L827.4 952.3 L828.1 950.2 L828.7 947.8 L829.4 947.9 L830.0 947.1 L830.7 943.6 L831.4 945.3 L832.0 942.7 L832.7 939.0 L833.3 938.5 L834.0 935.5 L834.7 934.2 L835.3 930.8 L836.0 930.2 L836.6 929.8 L837.3 929.9 L838.0 929.7 L838.6 928.9 L839.3 930.2 L839.9 933.1 L840.6 933.2 L841.3 937.0 L841.9 937.9 L842.6 937.3 L843.2 939.2 L843.9 938.0 L844.6 942.3 L845.2 943.9 L845.9 942.5 L846.5 943.2 L847.2 944.0 L847.9 946.2 L848.5 947.1 L849.2 945.2 L849.8 946.5 L850.5 948.1 L851.2 948.2 L851.8 948.0 L852.5 949.4 L853.1 948.0 L853.8 947.6 L854.5 950.4 L855.1 950.8 L855.8 951.7 L856.4 949.8 L857.1 949.2 L857.8 950.4 L858.4 950.3 L859.1 950.5 L859.7 950.4 L860.4 952.2 L861.1 951.0 L861.7 952.3 L862.4 949.8 L863.0 949.5 L863.7 951.8 L864.4 949.3 L865.0 949.4 L865.7 949.4 L866.3 948.6 L867.0 951.5 L867.7 953.0 L868.3 951.7 L869.0 952.1 L869.6 950.8 L870.3 950.1 L871.0 952.2 L871.6 950.6 L872.3 950.7 L872.9 952.3 L873.6 955.4 L874.3 955.4 L874.9 955.5 L875.6 955.3 L876.2 956.2 L876.9 958.4 L877.6 958.3 L878.2 957.9 L878.9 960.6 L879.5 958.8 L880.2 958.0 L880.9 960.0 L881.5 962.0 L882.2 961.9 L882.8 962.5 L883.5 960.6 L884.2 962.5 L884.8 962.3 L885.5 962.1 L886.1 961.2 L886.8 964.3 L887.5 963.0 L888.1 962.3 L888.8 963.9 L889.4 966.1 L890.1 961.2 L890.8 963.2 L891.4 965.0 L892.1 964.9 L892.7 961.2 L893.4 961.5 L894.1 959.4 L894.7 961.6 L895.4 959.4 L896.0 959.7 L896.7 962.4 L897.4 958.8 L898.0 957.7 L898.7 959.6 L899.3 959.5 L900.0 959.1 L900.7 960.0 L901.3 957.3 L902.0 957.6 L902.6 958.2 L903.3 956.4 L904.0 958.2 L904.6 957.2 L905.3 955.5 L905.9 954.7 L906.6 954.4 L907.3 954.2 L907.9 950.8 L908.6 951.1 L909.2 951.2 L909.9 950.7 L910.6 950.4 L911.2 950.0 L911.9 950.4 L912.5 949.4 L913.2 949.7 L913.9 949.1 L914.5 948.1 L915.2 947.1 L915.8 946.2 L916.5 947.6 L917.2 945.6 L917.8 945.9 L918.5 946.3 L919.1 945.1 L919.8 942.6 L920.5 943.3 L921.1 946.5 L921.8 941.9 L922.4 945.4 L923.1 942.7 L923.8 944.8 L924.4 947.1 L925.1 945.8 L925.7 949.8 L926.4 947.3 L927.1 951.4 L927.7 952.3 L928.4 954.8 L929.0 956.1 L929.7 957.1 L930.4 957.4 L931.0 955.7 L931.7 955.4 L932.3 957.3 L933.0 956.3 L933.7 954.5 L934.3 954.6 L935.0 956.9 L935.6 957.1 L936.3 957.8 L937.0 958.1 L937.6 955.9 L938.3 958.3 L938.9 956.5 L939.6 958.5 L940.3 957.9 L940.9 959.9 L941.6 958.3 L942.2 957.1 L942.9 957.4 L943.6 957.7 L944.2 958.3 L944.9 958.5 L945.5 956.3 L946.2 956.1 L946.9 958.2 L947.5 957.1 L948.2 958.3 L948.8 957.5 L949.5 958.8 L950.2 957.4 L950.8 954.9 L951.5 955.7 L952.1 956.7 L952.8 954.5 L953.5 955.7 L954.1 956.3 L954.8 956.5 L955.4 955.7 L956.1 952.3 L956.8 955.0 L957.4 951.8 L958.1 952.4 L958.7 950.5 L959.4 951.9 L960.1 949.9 L960.7 949.4 L961.4 948.8 L962.0 947.3 L962.7 945.7 L963.4 947.4 L964.0 945.1 L964.7 943.9 L965.3 939.2 L966.0 937.2 L966.7 940.2 L967.3 937.5 L968.0 933.1 L968.6 934.7 L969.3 933.6 L970.0 932.0 L970.6 932.7 L971.3 935.6 L971.9 932.7 L972.6 934.4 L973.3 933.1 L973.9 932.5 L974.6 937.8 L975.2 936.0 L975.9 935.0 L976.6 935.5 L977.2 936.0 L977.9 935.4 L978.5 937.6 L979.2 938.1 L979.9 937.0 L980.5 937.7 L981.2 936.3 L981.8 938.2 L982.5 935.4 L983.2 937.6 L983.8 939.2 L984.5 936.7 L985.1 940.0 L985.8 934.8 L986.5 935.3 L987.1 935.0 L987.8 935.5 L988.4 935.2 L989.1 933.3 L989.8 930.6 L990.4 933.7 L991.1 932.2 L991.7 931.9 L992.4 928.5 L993.1 930.7 L993.7 929.6 L994.4 930.8 L995.0 931.8 L995.7 928.8 L996.4 930.3 L997.0 931.3 L997.7 931.3 L998.3 934.1 L999.0 935.4 L999.7 935.1 L1000.3 936.5 L1001.0 939.2 L1001.6 938.0 L1002.3 941.7 L1003.0 943.4 L1003.6 944.1 L1004.3 942.7 L1004.9 946.8 L1005.6 947.9 L1006.3 944.8 L1006.9 949.0 L1007.6 949.2 L1008.2 949.3 L1008.9 947.9 L1009.6 950.7 L1010.2 948.6 L1010.9 950.4 L1011.5 951.7 L1012.2 951.6 L1012.9 950.8 L1013.5 951.7 L1014.2 951.3 L1014.8 951.9 L1015.5 950.7 L1016.2 950.3 L1016.8 951.2 L1017.5 950.5 L1018.1 953.5 L1018.8 955.3 L1019.5 953.1 L1020.1 953.8 L1020.8 951.2 L1021.4 952.4 L1022.1 951.3 L1022.8 953.5 L1023.4 952.9 L1024.1 951.6 L1024.7 954.6 L1025.4 952.9 L1026.1 954.0 L1026.7 954.2 L1027.4 954.9 L1028.0 954.7 L1028.7 953.3 L1029.4 953.0 L1030.0 952.5 L1030.7 952.0 L1031.3 955.5 L1032.0 952.7 L1032.7 955.1 L1033.3 952.3 L1034.0 952.5 L1034.6 954.6 L1035.3 953.2 L1036.0 952.4 L1036.6 955.3 L1037.3 951.8 L1037.9 952.4 L1038.6 954.2 L1039.3 955.2 L1039.9 953.3 L1040.6 952.3 L1041.2 956.0 L1041.9 953.3 L1042.6 952.5 L1043.2 953.3 L1043.9 954.6 L1044.5 949.7 L1045.2 951.8 L1045.9 953.8 L1046.5 953.6 L1047.2 952.9 L1047.8 952.6 L1048.5 953.4 L1049.2 953.9 L1049.8 951.9 L1050.5 952.0 L1051.1 953.3 L1051.8 951.9 L1052.5 950.6 L1053.1 951.9 L1053.8 950.7 L1054.4 952.7 L1055.1 952.9 L1055.8 951.0 L1056.4 951.5 L1057.1 952.0 L1057.7 953.0 L1058.4 952.6 L1059.1 951.6 L1059.7 951.6 L1060.4 952.7 L1061.0 951.8 L1061.7 951.6 L1062.4 949.5 L1063.0 951.0 L1063.7 951.1 L1064.3 950.6 L1065.0 949.2 L1065.7 948.1 L1066.3 950.9 L1067.0 950.8 L1067.6 950.1 L1068.3 948.8 L1069.0 949.2 L1069.6 949.5 L1070.3 950.4 L1070.9 949.5 L1071.6 948.3 L1072.3 948.5 L1072.9 947.6 L1073.6 951.0 L1074.2 947.9 L1074.9 950.3 L1075.6 948.8 L1076.2 950.5 L1076.9 946.9 L1077.5 948.9 L1078.2 946.8 L1078.9 946.7 L1079.5 946.7 L1080.2 945.8 L1080.8 946.1 L1081.5 946.7 L1082.2 948.8 L1082.8 946.1 L1083.5 944.6 L1084.1 947.0 L1084.8 947.8 L1085.5 942.8 L1086.1 946.3 L1086.8 943.8 L1087.4 943.0 L1088.1 945.9 L1088.8 946.6 L1089.4 946.9 L1090.1 944.5 L1090.7 943.8 L1091.4 944.2 L1092.1 944.5 L1092.7 944.7 L1093.4 945.0 L1094.0 943.7 L1094.7 943.7 L1095.4 943.0 L1096.0 941.6 L1096.7 942.8 L1097.3 943.8 L1098.0 942.6 L1098.7 938.8 L1099.3 943.0 L1100.0 939.7 L1100.6 943.2 L1101.3 942.6 L1102.0 940.5 L1102.6 941.4 L1103.3 937.7 L1103.9 938.0 L1104.6 936.8 L1105.3 937.6 L1105.9 936.5 L1106.6 935.8 L1107.2 934.6 L1107.9 935.0 L1108.6 931.8 L1109.2 929.7 L1109.9 928.7 L1110.5 927.4 L1111.2 925.6 L1111.9 922.0 L1112.5 920.7 L1113.2 918.8 L1113.8 915.4 L1114.5 911.7 L1115.2 910.1 L1115.8 904.9 L1116.5 905.3 L1117.1 902.2 L1117.8 901.8 L1118.5 900.6 L1119.1 901.6 L1119.8 900.4 L1120.4 899.4 L1121.1 895.8 L1121.8 894.3 L1122.4 895.4 L1123.1 892.9 L1123.7 894.2 L1124.4 894.1 L1125.1 896.1 L1125.7 898.4 L1126.4 897.5 L1127.0 900.5 L1127.7 901.5 L1128.4 902.4 L1129.0 903.0 L1129.7 901.9 L1130.3 902.3 L1131.0 901.7 L1131.7 899.9 L1132.3 903.2 L1133.0 901.7 L1133.6 901.3 L1134.3 899.3 L1135.0 897.9 L1135.6 900.4 L1136.3 898.5 L1136.9 899.0 L1137.6 894.0 L1138.3 885.2 L1138.9 881.1 L1139.6 874.4 L1140.2 868.7 L1140.9 862.3 L1141.6 860.5 L1142.2 856.3 L1142.9 851.9 L1143.5 845.9 L1144.2 842.5 L1144.9 838.7 L1145.5 835.1 L1146.2 831.2 L1146.8 830.5 L1147.5 827.2 L1148.2 823.3 L1148.8 821.6 L1149.5 819.8 L1150.1 816.9 L1150.8 815.0 L1151.5 814.2 L1152.1 811.5 L1152.8 813.2 L1153.4 812.0 L1154.1 813.9 L1154.8 816.3 L1155.4 815.7 L1156.1 819.2 L1156.7 820.2 L1157.4 822.6 L1158.1 820.4 L1158.7 818.6 L1159.4 823.2 L1160.0 827.9 L1160.7 826.5 L1161.4 826.6 L1162.0 827.7 L1162.7 828.9 L1163.3 828.9 L1164.0 832.8 L1164.7 831.0 L1165.3 830.2 L1166.0 831.4 L1166.6 834.1 L1167.3 835.6 L1168.0 838.3 L1168.6 840.9 L1169.3 844.8 L1169.9 847.1 L1170.6 854.2 L1171.3 858.5 L1171.9 864.9 L1172.6 868.3 L1173.2 875.6 L1173.9 880.3 L1174.6 883.6 L1175.2 886.5 L1175.9 893.1 L1176.5 895.7 L1177.2 896.5 L1177.9 900.9 L1178.5 902.9 L1179.2 903.9 L1179.8 902.5 L1180.5 906.8 L1181.2 908.3 L1181.8 907.4 L1182.5 910.5 L1183.1 910.7 L1183.8 912.2 L1184.5 909.8 L1185.1 912.5 L1185.8 914.4 L1186.4 912.9 L1187.1 916.0 L1187.8 919.1 L1188.4 916.3 L1189.1 921.2 L1189.7 921.8 L1190.4 920.9 L1191.1 922.3 L1191.7 923.6 L1192.4 926.3 L1193.0 924.3 L1193.7 929.2 L1194.4 927.6 L1195.0 930.1 L1195.7 931.0 L1196.3 933.3 L1197.0 931.9 L1197.7 932.8 L1198.3 935.8 L1199.0 936.7 L1199.6 934.8 L1200.3 934.7 L1201.0 935.8 L1201.6 935.8 L1202.3 935.9 L1202.9 934.9 L1203.6 933.6 L1204.3 936.9 L1204.9 936.7 L1205.6 938.4 L1206.2 938.5 L1206.9 939.4 L1207.6 936.8 L1208.2 938.5 L1208.9 936.1 L1209.5 938.1 L1210.2 938.5 L1210.9 937.0 L1211.5 937.9 L1212.2 941.1 L1212.8 937.0 L1213.5 939.3 L1214.2 937.5 L1214.8 938.9 L1215.5 934.3 L1216.1 935.6 L1216.8 936.6 L1217.5 938.7 L1218.1 936.0 L1218.8 934.2 L1219.4 934.9 L1220.1 936.0 L1220.8 932.7 L1221.4 934.4 L1222.1 933.7 L1222.7 933.2 L1223.4 934.0 L1224.1 932.4 L1224.7 934.0 L1225.4 934.1 L1226.0 935.5 L1226.7 933.9 L1227.4 933.4 L1228.0 932.3 L1228.7 933.1 L1229.3 932.3 L1230.0 935.9 L1230.7 931.5 L1231.3 935.1 L1232.0 935.4 L1232.6 935.9 L1233.3 934.8 L1234.0 938.3 L1234.6 935.4 L1235.3 934.0 L1235.9 935.5 L1236.6 935.6 L1237.3 938.4 L1237.9 936.9 L1238.6 936.0 L1239.2 936.2 L1239.9 937.4 L1240.6 937.1 L1241.2 937.7 L1241.9 939.2 L1242.5 936.3 L1243.2 937.3 L1243.9 938.4 L1244.5 936.3 L1245.2 938.9 L1245.8 939.8 L1246.5 938.1 L1247.2 938.9 L1247.8 937.2 L1248.5 937.5 L1249.1 937.6 L1249.8 936.9 L1250.5 938.2 L1251.1 935.8 L1251.8 937.1 L1252.4 935.1 L1253.1 937.2 L1253.8 936.5 L1254.4 934.7 L1255.1 932.0 L1255.7 932.1 L1256.4 929.3 L1257.1 933.2 L1257.7 930.9 L1258.4 929.9 L1259.0 930.3 L1259.7 927.8 L1260.4 928.3 L1261.0 928.4 L1261.7 928.1 L1262.3 928.2 L1263.0 922.6 L1263.7 923.0 L1264.3 919.4 L1265.0 917.4 L1265.6 918.0 L1266.3 916.3 L1267.0 913.2 L1267.6 913.9 L1268.3 915.3 L1268.9 910.7 L1269.6 909.6 L1270.3 911.1 L1270.9 908.9 L1271.6 906.7 L1272.2 907.5 L1272.9 905.5 L1273.6 904.7 L1274.2 905.8 L1274.9 904.0 L1275.5 906.1 L1276.2 907.4 L1276.9 905.2 L1277.5 906.1 L1278.2 907.2 L1278.8 909.4 L1279.5 909.9 L1280.2 912.5 L1280.8 915.0 L1281.5 914.1 L1282.1 917.2 L1282.8 919.7 L1283.5 920.4 L1284.1 919.1 L1284.8 922.5 L1285.4 920.4 L1286.1 923.6 L1286.8 920.9 L1287.4 924.4 L1288.1 923.8 L1288.7 924.4 L1289.4 924.9 L1290.1 924.7 L1290.7 927.0 L1291.4 927.1 L1292.0 928.4 L1292.7 926.7 L1293.4 929.0 L1294.0 929.6 L1294.7 927.4 L1295.3 930.3 L1296.0 930.7 L1296.7 927.2 L1297.3 927.3 L1298.0 931.2 L1298.6 927.9 L1299.3 926.7 L1300.0 924.9 L1300.6 926.1 L1301.3 923.8 L1301.9 923.9 L1302.6 922.8 L1303.3 922.3 L1303.9 921.7 L1304.6 919.6 L1305.2 919.5 L1305.9 918.6 L1306.6 916.3 L1307.2 914.5 L1307.9 914.5 L1308.5 914.9 L1309.2 911.3 L1309.9 909.6 L1310.5 909.3 L1311.2 907.0 L1311.8 906.4 L1312.5 905.0 L1313.2 903.2 L1313.8 903.2 L1314.5 900.6 L1315.1 899.7 L1315.8 897.6 L1316.5 897.9 L1317.1 898.5 L1317.8 899.1 L1318.4 900.9 L1319.1 896.4 L1319.8 895.4 L1320.4 897.9 L1321.1 893.2 L1321.7 895.8 L1322.4 894.8 L1323.1 896.3 L1323.7 894.0 L1324.4 894.5 L1325.0 892.4 L1325.7 894.0 L1326.4 895.1 L1327.0 894.9 L1327.7 895.2 L1328.3 898.0 L1329.0 895.3 L1329.7 895.6 L1330.3 896.4 L1331.0 897.8 L1331.6 897.9 L1332.3 899.0 L1333.0 898.8 L1333.6 902.0 L1334.3 899.0 L1334.9 899.7 L1335.6 900.6 L1336.3 902.8 L1336.9 899.7 L1337.6 899.3 L1338.2 901.2 L1338.9 899.4 L1339.6 898.0 L1340.2 898.0 L1340.9 899.4 L1341.5 898.2 L1342.2 901.3 L1342.9 900.5 L1343.5 902.1 L1344.2 900.3 L1344.8 899.6 L1345.5 900.9 L1346.2 900.9 L1346.8 898.9 L1347.5 902.2 L1348.1 900.3 L1348.8 901.1 L1349.5 899.3 L1350.1 901.2 L1350.8 902.5 L1351.4 899.3 L1352.1 898.0 L1352.8 899.1 L1353.4 898.7 L1354.1 899.0 L1354.7 895.8 L1355.4 898.7 L1356.1 897.3 L1356.7 896.2 L1357.4 894.6 L1358.0 896.0 L1358.7 896.7 L1359.4 895.5 L1360.0 895.1 L1360.7 894.3 L1361.3 894.3 L1362.0 891.9 L1362.7 895.3 L1363.3 894.5 L1364.0 892.7 L1364.6 893.1 L1365.3 891.2 L1366.0 891.9 L1366.6 893.6 L1367.3 892.2 L1367.9 891.7 L1368.6 892.8 L1369.3 894.1 L1369.9 892.1 L1370.6 894.1 L1371.2 894.4 L1371.9 894.6 L1372.6 894.6 L1373.2 894.1 L1373.9 893.8 L1374.5 895.6 L1375.2 893.3 L1375.9 896.2 L1376.5 893.2 L1377.2 894.6 L1377.8 895.4 L1378.5 892.9 L1379.2 896.0 L1379.8 896.8 L1380.5 894.2 L1381.1 895.4 L1381.8 896.8 L1382.5 896.8 L1383.1 897.2 L1383.8 894.1 L1384.4 895.9 L1385.1 897.8 L1385.8 894.5 L1386.4 894.9 L1387.1 896.5 L1387.7 896.6 L1388.4 895.1 L1389.1 895.8 L1389.7 897.1 L1390.4 897.6 L1391.0 900.0 L1391.7 899.2 L1392.4 898.9 L1393.0 899.3 L1393.7 901.2 L1394.3 904.7 L1395.0 902.1 L1395.7 902.6 L1396.3 903.3 L1397.0 906.0 L1397.6 905.6 L1398.3 905.6 L1399.0 907.7 L1399.6 908.3 L1400.3 910.8 L1400.9 911.6 L1401.6 909.0 L1402.3 909.0 L1402.9 910.8 L1403.6 909.4 L1404.2 908.8 L1404.9 910.2 L1405.6 907.9 L1406.2 909.7 L1406.9 911.4 L1407.5 906.7 L1408.2 909.0 L1408.9 908.0 L1409.5 909.7 L1410.2 909.2 L1410.8 906.7 L1411.5 907.5 L1412.2 906.4 L1412.8 908.7 L1413.5 906.2 L1414.1 907.2 L1414.8 908.4 L1415.5 906.7 L1416.1 905.9 L1416.8 905.9 L1417.4 906.1 L1418.1 907.3 L1418.8 907.2 L1419.4 908.3 L1420.1 907.8 L1420.7 909.6 L1421.4 909.2 L1422.1 910.2 L1422.7 907.9 L1423.4 907.3 L1424.0 910.6 L1424.7 909.6 L1425.4 906.6 L1426.0 908.6 L1426.7 910.0 L1427.3 911.1 L1428.0 912.6 L1428.7 911.1 L1429.3 910.0 L1430.0 909.0 L1430.6 908.4 L1431.3 908.5 L1432.0 907.7 L1432.6 908.8 L1433.3 909.8 L1433.9 908.8 L1434.6 906.5 L1435.3 908.2 L1435.9 908.3 L1436.6 906.3 L1437.2 905.7 L1437.9 905.5 L1438.6 905.6 L1439.2 901.9 L1439.9 902.6 L1440.5 901.2 L1441.2 901.9 L1441.9 901.4 L1442.5 898.9 L1443.2 899.6 L1443.8 897.3 L1444.5 896.1 L1445.2 894.5 L1445.8 891.5 L1446.5 893.8 L1447.1 890.6 L1447.8 887.0 L1448.5 888.6 L1449.1 887.9 L1449.8 884.1 L1450.4 885.0 L1451.1 886.0 L1451.8 884.0 L1452.4 882.8 L1453.1 882.1 L1453.7 882.0 L1454.4 879.6 L1455.1 879.8 L1455.7 880.1 L1456.4 879.2 L1457.0 880.4 L1457.7 875.9 L1458.4 880.1 L1459.0 876.3 L1459.7 875.4 L1460.3 875.5 L1461.0 876.1 L1461.7 873.6 L1462.3 874.7 L1463.0 873.4 L1463.6 870.8 L1464.3 869.1 L1465.0 867.5 L1465.6 866.2 L1466.3 862.3 L1466.9 863.9 L1467.6 860.3 L1468.3 858.5 L1468.9 855.4 L1469.6 853.5 L1470.2 854.3 L1470.9 848.2 L1471.6 849.2 L1472.2 846.4 L1472.9 843.6 L1473.5 844.7 L1474.2 840.9 L1474.9 841.0 L1475.5 837.9 L1476.2 834.0 L1476.8 834.9 L1477.5 832.1 L1478.2 832.1 L1478.8 831.1 L1479.5 831.4 L1480.1 830.7 L1480.8 830.4 L1481.5 830.7 L1482.1 830.6 L1482.8 831.1 L1483.4 835.6 L1484.1 835.7 L1484.8 838.6 L1485.4 842.1 L1486.1 844.6 L1486.7 846.8 L1487.4 848.2 L1488.1 850.7 L1488.7 852.7 L1489.4 854.7 L1490.0 855.3 L1490.7 859.7 L1491.4 863.1 L1492.0 864.6 L1492.7 867.5 L1493.3 866.9 L1494.0 871.2 L1494.7 877.7 L1495.3 875.5 L1496.0 879.2 L1496.6 881.8 L1497.3 883.3 L1498.0 884.0 L1498.6 885.4 L1499.3 885.6 L1499.9 890.9 L1500.6 890.3 L1501.3 893.0 L1501.9 890.9 L1502.6 891.6 L1503.2 892.5 L1503.9 896.7 L1504.6 895.9 L1505.2 896.3 L1505.9 897.2 L1506.5 897.3 L1507.2 897.6 L1507.9 896.8 L1508.5 896.6 L1509.2 898.2 L1509.8 899.5 L1510.5 897.7 L1511.2 898.8 L1511.8 898.4 L1512.5 899.6 L1513.1 897.7 L1513.8 901.7 L1514.5 901.6 L1515.1 899.7 L1515.8 899.5 L1516.4 897.6 L1517.1 901.0 L1517.8 900.1 L1518.4 900.2 L1519.1 898.1 L1519.7 901.0 L1520.4 902.4 L1521.1 898.8 L1521.7 899.9 L1522.4 901.7 L1523.0 901.0 L1523.7 901.0 L1524.4 904.0 L1525.0 901.9 L1525.7 900.3 L1526.3 896.5 L1527.0 899.7 L1527.7 898.2 L1528.3 898.2 L1529.0 901.3 L1529.6 898.2 L1530.3 899.3 L1531.0 901.2 L1531.6 898.4 L1532.3 898.5 L1532.9 897.6 L1533.6 898.4 L1534.3 896.8 L1534.9 898.9 L1535.6 897.5 L1536.2 898.6 L1536.9 898.5 L1537.6 897.3 L1538.2 897.1 L1538.9 896.0 L1539.5 896.7 L1540.2 896.7 L1540.9 895.5 L1541.5 896.2 L1542.2 894.1 L1542.8 893.3 L1543.5 893.3 L1544.2 889.7 L1544.8 889.9 L1545.5 886.8 L1546.1 888.4 L1546.8 888.2 L1547.5 884.6 L1548.1 884.9 L1548.8 884.6 L1549.4 886.5 L1550.1 885.2 L1550.8 886.0 L1551.4 884.9 L1552.1 884.7 L1552.7 881.2 L1553.4 880.8 L1554.1 884.8 L1554.7 886.0 L1555.4 881.3 L1556.0 881.3 L1556.7 884.1 L1557.4 885.1 L1558.0 880.9 L1558.7 881.4 L1559.3 883.3 L1560.0 882.4 L1560.7 882.3 L1561.3 882.8 L1562.0 880.2 L1562.6 880.4 L1563.3 883.4 L1564.0 879.3 L1564.6 882.4 L1565.3 880.6 L1565.9 882.9 L1566.6 881.1 L1567.3 881.0 L1567.9 883.0 L1568.6 882.2 L1569.2 883.0 L1569.9 881.0 L1570.6 885.8 L1571.2 886.2 L1571.9 889.1 L1572.5 888.7 L1573.2 889.2 L1573.9 893.8 L1574.5 893.4 L1575.2 894.4 L1575.8 894.2 L1576.5 898.8 L1577.2 899.2 L1577.8 897.9 L1578.5 901.3 L1579.1 902.2 L1579.8 904.3 L1580.5 904.0 L1581.1 907.9 L1581.8 903.7 L1582.4 905.1 L1583.1 909.0 L1583.8 910.0 L1584.4 909.9 L1585.1 912.8 L1585.7 910.4 L1586.4 907.9 L1587.1 912.0 L1587.7 910.1 L1588.4 909.6 L1589.0 910.8 L1589.7 910.8 L1590.4 909.5 L1591.0 911.1 L1591.7 910.5 L1592.3 909.8 L1593.0 909.8 L1593.7 907.2 L1594.3 908.7 L1595.0 908.7 L1595.6 909.2 L1596.3 911.5 L1597.0 909.5 L1597.6 908.9 L1598.3 907.7 L1598.9 908.7 L1599.6 908.0 L1600.3 907.8 L1600.9 909.0 L1601.6 906.8 L1602.2 907.9 L1602.9 910.0 L1603.6 908.8 L1604.2 907.4 L1604.9 907.8 L1605.5 907.5 L1606.2 909.8 L1606.9 909.5 L1607.5 909.7 L1608.2 906.8 L1608.8 906.8 L1609.5 907.7 L1610.2 904.8 L1610.8 905.1 L1611.5 906.7 L1612.1 904.3 L1612.8 903.6 L1613.5 904.9 L1614.1 903.6 L1614.8 902.8 L1615.4 903.5 L1616.1 900.8 L1616.8 903.7 L1617.4 902.9 L1618.1 903.0 L1618.7 902.7 L1619.4 904.0 L1620.1 902.6 L1620.7 904.8 L1621.4 906.4 L1622.0 903.3 L1622.7 902.6 L1623.4 902.3 L1624.0 900.8 L1624.7 905.3 L1625.3 901.0 L1626.0 901.6 L1626.7 898.7 L1627.3 898.4 L1628.0 897.5 L1628.6 896.3 L1629.3 897.1 L1630.0 899.0 L1630.6 896.3 L1631.3 898.4 L1631.9 899.5 L1632.6 897.4 L1633.3 898.2 L1633.9 898.3 L1634.6 895.7 L1635.2 895.6 L1635.9 893.7 L1636.6 895.2 L1637.2 897.0 L1637.9 895.6 L1638.5 894.7 L1639.2 894.1 L1639.9 893.3 L1640.5 893.5 L1641.2 896.7 L1641.8 895.0 L1642.5 893.5 L1643.2 892.5 L1643.8 891.5 L1644.5 893.4 L1645.1 891.1 L1645.8 890.9 L1646.5 890.7 L1647.1 892.4 L1647.8 890.6 L1648.4 892.2 L1649.1 888.8 L1649.8 888.4 L1650.4 887.6 L1651.1 888.9 L1651.7 887.0 L1652.4 887.5 L1653.1 889.7 L1653.7 888.4 L1654.4 887.0 L1655.0 886.9 L1655.7 882.8 L1656.4 883.8 L1657.0 887.3 L1657.7 884.9 L1658.3 885.1 L1659.0 887.2 L1659.7 884.4 L1660.3 886.2 L1661.0 885.7 L1661.6 886.4 L1662.3 886.3 L1663.0 888.9 L1663.6 887.9 L1664.3 889.4 L1664.9 886.9 L1665.6 888.1 L1666.3 889.1 L1666.9 891.3 L1667.6 890.7 L1668.2 889.8 L1668.9 888.7 L1669.6 890.8 L1670.2 889.6 L1670.9 890.1 L1671.5 890.9 L1672.2 891.3 L1672.9 891.3 L1673.5 893.8 L1674.2 892.4 L1674.8 891.4 L1675.5 892.9 L1676.2 891.0 L1676.8 893.7 L1677.5 894.2 L1678.1 894.5 L1678.8 892.4 L1679.5 895.2 L1680.1 895.3 L1680.8 896.7 L1681.4 895.3 L1682.1 894.8 L1682.8 894.6 L1683.4 894.2 L1684.1 894.0 L1684.7 894.5 L1685.4 896.8 L1686.1 895.4 L1686.7 895.8 L1687.4 895.3 L1688.0 896.5 L1688.7 897.2 L1689.4 897.2 L1690.0 894.9 L1690.7 896.2 L1691.3 899.3 L1692.0 897.1 L1692.7 896.6 L1693.3 896.0 L1694.0 894.9 L1694.6 894.4 L1695.3 896.3 L1696.0 896.8 L1696.6 895.6 L1697.3 896.4 L1697.9 897.1 L1698.6 896.9 L1699.3 897.4 L1699.9 893.8 L1700.6 895.7 L1701.2 895.8 L1701.9 894.9 L1702.6 892.7 L1703.2 891.9 L1703.9 895.6 L1704.5 892.3 L1705.2 893.0 L1705.9 891.4 L1706.5 890.8 L1707.2 891.9 L1707.8 892.1 L1708.5 890.5 L1709.2 889.8 L1709.8 890.9 L1710.5 889.2 L1711.1 888.9 L1711.8 888.2 L1712.5 889.0 L1713.1 888.3 L1713.8 888.1 L1714.4 887.8 L1715.1 888.4 L1715.8 889.7 L1716.4 888.0 L1717.1 887.1 L1717.7 890.9 L1718.4 889.4 L1719.1 887.5 L1719.7 886.0 L1720.4 889.6 L1721.0 887.1 L1721.7 888.0 L1722.4 884.8 L1723.0 889.0 L1723.7 889.5 L1724.3 887.8 L1725.0 887.7 L1725.7 887.9 L1726.3 886.5 L1727.0 886.6 L1727.6 889.3 L1728.3 887.6 L1729.0 888.0 L1729.6 887.9 L1730.3 889.1 L1730.9 888.2 L1731.6 889.1 L1732.3 889.6 L1732.9 888.3 L1733.6 889.2 L1734.2 890.3 L1734.9 891.4 L1735.6 891.2 L1736.2 891.8 L1736.9 890.5 L1737.5 891.7 L1738.2 893.3 L1738.9 893.0 L1739.5 893.8 L1740.2 894.6 L1740.8 897.0 L1741.5 894.5 L1742.2 897.3 L1742.8 897.6 L1743.5 897.5 L1744.1 896.8 L1744.8 898.2 L1745.5 897.9 L1746.1 900.0 L1746.8 899.3 L1747.4 899.9 L1748.1 899.1 L1748.8 902.1 L1749.4 898.6 L1750.1 904.3 L1750.7 900.6 L1751.4 901.5 L1752.1 902.1 L1752.7 901.2 L1753.4 904.7 L1754.0 902.9 L1754.7 903.1 L1755.4 905.9 L1756.0 905.6 L1756.7 903.1 L1757.3 903.8 L1758.0 905.8 L1758.7 906.2 L1759.3 907.1 L1760.0 906.4 L1760.6 908.2 L1761.3 908.2 L1762.0 907.4 L1762.6 907.0 L1763.3 908.4 L1763.9 908.7 L1764.6 907.3 L1765.3 906.8 L1765.9 907.8 L1766.6 906.2 L1767.2 907.2 L1767.9 907.7 L1768.6 905.3 L1769.2 905.6 L1769.9 904.1 L1770.5 905.7 L1771.2 906.9 L1771.9 905.6 L1772.5 906.7 L1773.2 906.1 L1773.8 905.0 L1774.5 907.5 L1775.2 905.6 L1775.8 906.9 L1776.5 906.1 L1777.1 905.4 L1777.8 907.5 L1778.5 904.9 L1779.1 904.5 L1779.8 906.8 L1780.4 905.6 L1781.1 904.2 L1781.8 904.6 L1782.4 903.4 L1783.1 905.6 L1783.7 906.3 L1784.4 905.5 L1785.1 905.7 L1785.7 906.5 L1786.4 905.1 L1787.0 904.0 L1787.7 904.1 L1788.4 905.4 L1789.0 905.3 L1789.7 905.4 L1790.3 903.8 L1791.0 905.2 L1791.7 907.1 L1792.3 905.6 L1793.0 907.1 L1793.6 906.1 L1794.3 905.5 L1795.0 907.4 L1795.6 908.2 L1796.3 907.1 L1796.9 907.9 L1797.6 906.0 L1798.3 905.3 L1798.9 904.6 L1799.6 906.9 L1800.2 908.8 L1800.9 906.4 L1801.6 905.4 L1802.2 907.3 L1802.9 907.2 L1803.5 907.2 L1804.2 906.0 L1804.9 909.1 L1805.5 906.5 L1806.2 906.9 L1806.8 905.2 L1807.5 907.7 L1808.2 909.0 L1808.8 908.1 L1809.5 905.1 L1810.1 907.3 L1810.8 904.8 L1811.5 905.7 L1812.1 905.3 L1812.8 906.4 L1813.4 905.9 L1814.1 904.6 L1814.8 904.5 L1815.4 906.2 L1816.1 902.3 L1816.7 903.1 L1817.4 906.1 L1818.1 903.3 L1818.7 901.7 L1819.4 903.2 L1820.0 903.4 L1820.7 900.7 L1821.4 901.4 L1822.0 900.6 L1822.7 901.8 L1823.3 900.8 L1824.0 899.2 L1824.7 900.6 L1825.3 898.3 L1826.0 900.8 L1826.6 899.2 L1827.3 896.6 L1828.0 896.5 L1828.6 896.9 L1829.3 895.4 L1829.9 892.7 L1830.6 892.5 L1831.3 891.8 L1831.9 891.3 L1832.6 888.6 L1833.2 890.9 L1833.9 893.5 L1834.6 888.8 L1835.2 888.1 L1835.9 886.9 L1836.5 887.2 L1837.2 885.0 L1837.9 884.5 L1838.5 884.7 L1839.2 880.4 L1839.8 881.5 L1840.5 883.5 L1841.2 881.6 L1841.8 880.0 L1842.5 879.3 L1843.1 875.2 L1843.8 878.6 L1844.5 876.8 L1845.1 878.4 L1845.8 877.0 L1846.4 877.3 L1847.1 874.6 L1847.8 875.0 L1848.4 880.3 L1849.1 878.7 L1849.7 879.9 L1850.4 883.8 L1851.1 884.5 L1851.7 886.3 L1852.4 889.3 L1853.0 889.1 L1853.7 889.8 L1854.4 890.6 L1855.0 889.2 L1855.7 892.2 L1856.3 892.7 L1857.0 892.6 L1857.7 896.9 L1858.3 893.2 L1859.0 894.3 L1859.6 894.6 L1860.3 895.1 L1861.0 897.0 L1861.6 896.0 L1862.3 897.6 L1862.9 900.4 L1863.6 897.1 L1864.3 897.1 L1864.9 897.5 L1865.6 900.0 L1866.2 899.1 L1866.9 899.2 L1867.6 898.4 L1868.2 898.3 L1868.9 901.4 L1869.5 901.1 L1870.2 897.9 L1870.9 897.8 L1871.5 898.3 L1872.2 898.3 L1872.8 900.1 L1873.5 900.8 L1874.2 898.9 L1874.8 897.8 L1875.5 900.2 L1876.1 900.8 L1876.8 897.1 L1877.5 899.3 L1878.1 897.7 L1878.8 897.7 L1879.4 897.8 L1880.1 900.7 L1880.8 899.4 L1881.4 898.0 L1882.1 898.8 L1882.7 899.4 L1883.4 897.1 L1884.1 899.7 L1884.7 897.6 L1885.4 897.9 L1886.0 900.9 L1886.7 894.7 L1887.4 900.2 L1888.0 900.3 L1888.7 898.5 L1889.3 900.4 L1890.0 899.1 L1890.7 898.2 L1891.3 899.4 L1892.0 898.3 L1892.6 898.5 L1893.3 897.8 L1894.0 902.4 L1894.6 900.4 L1895.3 898.8 L1895.9 897.2 L1896.6 897.9 L1897.3 898.1 L1897.9 897.7 L1898.6 899.0 L1899.2 899.1 L1899.9 901.5 L1900.6 901.3 L1901.2 897.7 L1901.9 901.4 L1902.5 898.4 L1903.2 901.1 L1903.9 900.1 L1904.5 900.0 L1905.2 900.5 L1905.8 899.3 L1906.5 898.7 L1907.2 902.7 L1907.8 898.5 L1908.5 901.5 L1909.1 899.5 L1909.8 901.3 L1910.5 900.8 L1911.1 901.1 L1911.8 899.9 L1912.4 901.5 L1913.1 903.5 L1913.8 902.2 L1914.4 902.9 L1915.1 900.5 L1915.7 900.8 L1916.4 902.3 L1917.1 899.2 L1917.7 902.6 L1918.4 901.2 L1919.0 900.9 L1919.7 903.1 L1920.4 900.0 L1921.0 902.9 L1921.7 899.4 L1922.3 899.2 L1923.0 901.9 L1923.7 902.0 L1924.3 898.5 L1925.0 900.4 L1925.6 902.6 L1926.3 899.9 L1927.0 898.1 L1927.6 899.1 L1928.3 899.3 L1928.9 898.9 L1929.6 897.4 L1930.3 897.8 L1930.9 898.9 L1931.6 899.0 L1932.2 897.8 L1932.9 898.2 L1933.6 897.6 L1934.2 895.1 L1934.9 898.8 L1935.5 898.4 L1936.2 896.3 L1936.9 895.8 L1937.5 895.7 L1938.2 895.5 L1938.8 896.0 L1939.5 895.9 L1940.2 894.0 L1940.8 892.7 L1941.5 892.1 L1942.1 894.9 L1942.8 891.8 L1943.5 889.7 L1944.1 887.2 L1944.8 890.0 L1945.4 887.9 L1946.1 886.9 L1946.8 884.2 L1947.4 883.7 L1948.1 882.4 L1948.7 882.2 L1949.4 883.5 L1950.1 879.3 L1950.7 877.5 L1951.4 879.4 L1952.0 878.6 L1952.7 876.3 L1953.4 876.6 L1954.0 875.1 L1954.7 878.5 L1955.3 876.7 L1956.0 874.3 L1956.7 877.8 L1957.3 878.3 L1958.0 875.6 L1958.6 878.1 L1959.3 878.8 L1960.0 877.4 L1960.6 877.8 L1961.3 884.7 L1961.9 880.3 L1962.6 883.2 L1963.3 884.1 L1963.9 885.2 L1964.6 885.6 L1965.2 885.1 L1965.9 884.3 L1966.6 884.0 L1967.2 886.5 L1967.9 884.9 L1968.5 887.7 L1969.2 886.3 L1969.9 888.5 L1970.5 884.9 L1971.2 889.5 L1971.8 887.0 L1972.5 888.3 L1973.2 886.1 L1973.8 889.0 L1974.5 888.6 L1975.1 890.0 L1975.8 889.5 L1976.5 891.6 L1977.1 886.9 L1977.8 888.6 L1978.4 887.5 L1979.1 889.3 L1979.8 890.8 L1980.4 891.0 L1981.1 889.0 L1981.7 887.9 L1982.4 890.0 L1983.1 890.9 L1983.7 888.2 L1984.4 890.4 L1985.0 889.3 L1985.7 890.9 L1986.4 889.5 L1987.0 891.8 L1987.7 889.7 L1988.3 890.6 L1989.0 894.7 L1989.7 885.0 L1990.3 890.1 L1991.0 890.3 L1991.6 891.0 L1992.3 891.1 L1993.0 890.7 L1993.6 889.6 L1994.3 890.2 L1994.9 891.2 L1995.6 888.5 L1996.3 891.8 L1996.9 890.3 L1997.6 892.2 L1998.2 890.0 L1998.9 891.1 L1999.6 890.2 L2000.2 891.7 L2000.9 892.1 L2001.5 889.8 L2002.2 891.5 L2002.9 890.4 L2003.5 891.4 L2004.2 889.9 L2004.8 889.9 L2005.5 891.1 L2006.2 891.7 L2006.8 890.8 L2007.5 891.1 L2008.1 889.9 L2008.8 891.8 L2009.5 890.5 L2010.1 889.3 L2010.8 892.6 L2011.4 888.9 L2012.1 892.2 L2012.8 890.8 L2013.4 891.2 L2014.1 893.6 L2014.7 889.8 L2015.4 889.2 L2016.1 888.7 L2016.7 890.4 L2017.4 891.9 L2018.0 890.0 L2018.7 890.2 L2019.4 890.5 L2020.0 889.7 L2020.7 890.3 L2021.3 888.3 L2022.0 887.0 L2022.7 888.7 L2023.3 888.9 L2024.0 891.0 L2024.6 889.9 L2025.3 888.0 L2026.0 891.0 L2026.6 890.3 L2027.3 888.3 L2027.9 891.7 L2028.6 889.2 L2029.3 887.9 L2029.9 888.4 L2030.6 889.6 L2031.2 888.9 L2031.9 886.9 L2032.6 890.5 L2033.2 888.1 L2033.9 887.2 L2034.5 887.8 L2035.2 888.3 L2035.9 890.1 L2036.5 889.7 L2037.2 885.4 L2037.8 887.2 L2038.5 887.6 L2039.2 887.8 L2039.8 888.7 L2040.5 888.3 L2041.1 885.9 L2041.8 889.5 L2042.5 888.2 L2043.1 884.8 L2043.8 888.5 L2044.4 887.5 L2045.1 885.3 L2045.8 887.2 L2046.4 887.8 L2047.1 887.3 L2047.7 886.0 L2048.4 886.8 L2049.1 886.7 L2049.7 886.5 L2050.4 887.9 L2051.0 886.0 L2051.7 887.6 L2052.4 888.1 L2053.0 888.8 L2053.7 888.3 L2054.3 887.3 L2055.0 887.3 L2055.7 887.2 L2056.3 890.3 L2057.0 887.7 L2057.6 887.3 L2058.3 888.1 L2059.0 889.8 L2059.6 890.1 L2060.3 887.0 L2060.9 890.7 L2061.6 889.3 L2062.3 891.9 L2062.9 891.6 L2063.6 889.0 L2064.2 888.7 L2064.9 888.8 L2065.6 889.6 L2066.2 890.7 L2066.9 890.8 L2067.5 891.0 L2068.2 891.4 L2068.9 890.2 L2069.5 890.6 L2070.2 891.2 L2070.8 892.2 L2071.5 890.4 L2072.2 889.8 L2072.8 891.6 L2073.5 890.9 L2074.1 891.1 L2074.8 890.3 L2075.5 890.9 L2076.1 889.7 L2076.8 889.1 L2077.4 890.2 L2078.1 887.9 L2078.8 890.5 L2079.4 892.2 L2080.1 888.0 L2080.7 888.2 L2081.4 889.7 L2082.1 887.9 L2082.7 889.4 L2083.4 888.4 L2084.0 887.8 L2084.7 889.3 L2085.4 887.3 L2086.0 887.2 L2086.7 886.0 L2087.3 888.3 L2088.0 887.2 L2088.7 886.5 L2089.3 888.1 L2090.0 886.7 L2090.6 888.2 L2091.3 887.8 L2092.0 886.0 L2092.6 885.6 L2093.3 888.2 L2093.9 886.1 L2094.6 885.3 L2095.3 885.9 L2095.9 883.8 L2096.6 886.2 L2097.2 884.1 L2097.9 886.5 L2098.6 884.9 L2099.2 886.0 L2099.9 887.9 L2100.5 887.4 L2101.2 885.4 L2101.9 886.4 L2102.5 884.6 L2103.2 886.6 L2103.8 888.0 L2104.5 887.7 L2105.2 888.1 L2105.8 887.4 L2106.5 885.6 L2107.1 887.3 L2107.8 886.1 L2108.5 889.0 L2109.1 887.7 L2109.8 887.6 L2110.4 887.1 L2111.1 889.0 L2111.8 889.6 L2112.4 889.6 L2113.1 887.2 L2113.7 890.2 L2114.4 889.0 L2115.1 886.9 L2115.7 890.9 L2116.4 890.4 L2117.0 888.1 L2117.7 891.6 L2118.4 891.1 L2119.0 892.8 L2119.7 891.2 L2120.3 890.7 L2121.0 888.3 L2121.7 893.4 L2122.3 888.6 L2123.0 890.0 L2123.6 891.5 L2124.3 890.2 L2125.0 886.7 L2125.6 890.0 L2126.3 889.9 L2126.9 891.8 L2127.6 890.3 L2128.3 892.4 L2128.9 891.8 L2129.6 891.9 L2130.2 891.4 L2130.9 893.5 L2131.6 891.9 L2132.2 891.8 L2132.9 890.5 L2133.5 890.0 L2134.2 888.7 L2134.9 887.8" fill="none" stroke="#000" stroke-width="2.0" stroke-linejoin="round" shape-rendering="crispEdges"/>
<path d="M157.5 1284.0 L158.2 1284.3 L158.8 1284.3 L159.5 1282.3 L160.1 1283.8 L160.8 1282.9 L161.5 1283.2 L162.1 1282.3 L162.8 1282.9 L163.4 1280.4 L164.1 1283.0 L164.8 1282.1 L165.4 1280.0 L166.1 1281.0 L166.7 1280.6 L167.4 1278.0 L168.1 1280.3 L168.7 1278.9 L169.4 1279.0 L170.0 1278.5 L170.7 1278.5 L171.4 1278.9 L172.0 1278.8 L172.7 1277.0 L173.3 1278.2 L174.0 1277.0 L174.7 1277.0 L175.3 1277.8 L176.0 1279.0 L176.6 1278.6 L177.3 1277.2 L178.0 1277.0 L178.6 1276.7 L179.3 1277.6 L179.9 1278.3 L180.6 1277.1 L181.3 1277.6 L181.9 1276.9 L182.6 1277.8 L183.2 1273.6 L183.9 1273.0 L184.6 1274.5 L185.2 1274.8 L185.9 1273.1 L186.5 1273.3 L187.2 1271.1 L187.9 1270.4 L188.5 1270.4 L189.2 1271.5 L189.8 1270.8 L190.5 1268.9 L191.2 1269.4 L191.8 1268.3 L192.5 1268.8 L193.1 1267.5 L193.8 1268.5 L194.5 1267.6 L195.1 1268.3 L195.8 1267.5 L196.4 1267.3 L197.1 1268.2 L197.8 1267.6 L198.4 1267.9 L199.1 1267.4 L199.7 1268.4 L200.4 1266.8 L201.1 1268.5 L201.7 1269.0 L202.4 1267.3 L203.0 1269.4 L203.7 1269.7 L204.4 1268.0 L205.0 1266.1 L205.7 1265.9 L206.3 1267.5 L207.0 1269.7 L207.7 1268.5 L208.3 1268.9 L209.0 1268.1 L209.6 1267.8 L210.3 1269.2 L211.0 1267.9 L211.6 1269.1 L212.3 1270.2 L212.9 1269.9 L213.6 1270.7 L214.3 1270.0 L214.9 1271.4 L215.6 1271.4 L216.2 1269.5 L216.9 1270.4 L217.6 1270.9 L218.2 1272.5 L218.9 1272.3 L219.5 1272.4 L220.2 1272.4 L220.9 1272.9 L221.5 1273.3 L222.2 1271.7 L222.8 1270.6 L223.5 1272.9 L224.2 1272.0 L224.8 1272.2 L225.5 1272.0 L226.1 1270.9 L226.8 1270.5 L227.5 1273.0 L228.1 1273.1 L228.8 1272.9 L229.4 1272.1 L230.1 1272.1 L230.8 1271.3 L231.4 1271.7 L232.1 1271.1 L232.7 1270.9 L233.4 1271.6 L234.1 1273.1 L234.7 1269.3 L235.4 1271.8 L236.0 1271.8 L236.7 1269.7 L237.4 1271.2 L238.0 1270.9 L238.7 1270.2 L239.3 1270.1 L240.0 1269.1 L240.7 1272.2 L241.3 1272.8 L242.0 1271.9 L242.6 1269.9 L243.3 1270.4 L244.0 1270.4 L244.6 1269.1 L245.3 1269.6 L245.9 1270.3 L246.6 1269.3 L247.3 1267.8 L247.9 1268.2 L248.6 1269.7 L249.2 1269.0 L249.9 1269.0 L250.6 1270.6 L251.2 1269.2 L251.9 1268.3 L252.5 1268.9 L253.2 1271.2 L253.9 1267.6 L254.5 1270.6 L255.2 1270.1 L255.8 1268.4 L256.5 1268.1 L257.2 1269.8 L257.8 1268.5 L258.5 1267.6 L259.1 1270.0 L259.8 1268.1 L260.5 1268.2 L261.1 1267.8 L261.8 1267.3 L262.4 1267.7 L263.1 1267.0 L263.8 1267.8 L264.4 1268.3 L265.1 1268.2 L265.7 1268.2 L266.4 1268.4 L267.1 1267.5 L267.7 1265.9 L268.4 1267.4 L269.0 1264.5 L269.7 1265.3 L270.4 1266.2 L271.0 1263.9 L271.7 1266.9 L272.3 1264.1 L273.0 1263.3 L273.7 1263.8 L274.3 1263.5 L275.0 1263.9 L275.6 1263.5 L276.3 1264.5 L277.0 1262.9 L277.6 1263.0 L278.3 1261.5 L278.9 1262.9 L279.6 1261.3 L280.3 1259.9 L280.9 1263.2 L281.6 1260.6 L282.2 1260.5 L282.9 1260.7 L283.6 1262.3 L284.2 1260.1 L284.9 1261.4 L285.5 1262.6 L286.2 1264.1 L286.9 1262.1 L287.5 1262.7 L288.2 1262.0 L288.8 1265.3 L289.5 1263.3 L290.2 1263.7 L290.8 1264.3 L291.5 1263.5 L292.1 1264.7 L292.8 1263.7 L293.5 1266.9 L294.1 1265.4 L294.8 1265.6 L295.4 1267.2 L296.1 1264.9 L296.8 1267.7 L297.4 1268.0 L298.1 1265.6 L298.7 1267.2 L299.4 1266.5 L300.1 1267.6 L300.7 1266.7 L301.4 1265.8 L302.0 1267.5 L302.7 1266.6 L303.4 1267.1 L304.0 1268.0 L304.7 1268.3 L305.3 1267.8 L306.0 1265.6 L306.7 1267.9 L307.3 1266.9 L308.0 1268.4 L308.6 1267.1 L309.3 1268.8 L310.0 1267.9 L310.6 1267.4 L311.3 1267.7 L311.9 1265.6 L312.6 1268.1 L313.3 1267.6 L313.9 1266.3 L314.6 1267.9 L315.2 1267.9 L315.9 1267.9 L316.6 1267.4 L317.2 1268.3 L317.9 1268.4 L318.5 1267.6 L319.2 1267.4 L319.9 1267.0 L320.5 1266.8 L321.2 1268.1 L321.8 1266.8 L322.5 1265.9 L323.2 1267.6 L323.8 1268.5 L324.5 1267.0 L325.1 1268.2 L325.8 1267.7 L326.5 1266.1 L327.1 1267.5 L327.8 1267.0 L328.4 1267.8 L329.1 1264.1 L329.8 1267.8 L330.4 1267.7 L331.1 1265.9 L331.7 1268.0 L332.4 1266.6 L333.1 1266.9 L333.7 1267.6 L334.4 1268.1 L335.0 1266.8 L335.7 1267.3 L336.4 1267.0 L337.0 1265.7 L337.7 1268.2 L338.3 1267.2 L339.0 1266.5 L339.7 1267.5 L340.3 1266.9 L341.0 1265.7 L341.6 1267.3 L342.3 1266.3 L343.0 1266.8 L343.6 1267.1 L344.3 1267.1 L344.9 1268.0 L345.6 1266.2 L346.3 1265.8 L346.9 1265.2 L347.6 1265.2 L348.2 1266.6 L348.9 1266.3 L349.6 1264.9 L350.2 1265.1 L350.9 1265.2 L351.5 1267.3 L352.2 1264.6 L352.9 1265.9 L353.5 1263.8 L354.2 1265.3 L354.8 1266.9 L355.5 1264.1 L356.2 1266.6 L356.8 1263.4 L357.5 1265.4 L358.1 1264.1 L358.8 1265.3 L359.5 1265.0 L360.1 1266.1 L360.8 1265.5 L361.4 1265.4 L362.1 1264.6 L362.8 1265.7 L363.4 1264.4 L364.1 1264.5 L364.7 1264.5 L365.4 1265.8 L366.1 1267.6 L366.7 1265.1 L367.4 1267.2 L368.0 1264.1 L368.7 1264.6 L369.4 1265.7 L370.0 1265.8 L370.7 1266.0 L371.3 1266.8 L372.0 1265.0 L372.7 1266.3 L373.3 1265.5 L374.0 1262.2 L374.6 1264.2 L375.3 1264.6 L376.0 1265.3 L376.6 1265.8 L377.3 1264.9 L377.9 1266.6 L378.6 1264.2 L379.3 1265.2 L379.9 1266.2 L380.6 1264.0 L381.2 1266.5 L381.9 1266.2 L382.6 1265.0 L383.2 1265.2 L383.9 1265.1 L384.5 1265.2 L385.2 1266.5 L385.9 1265.7 L386.5 1263.8 L387.2 1263.6 L387.8 1265.8 L388.5 1262.4 L389.2 1263.5 L389.8 1264.5 L390.5 1265.1 L391.1 1266.6 L391.8 1265.3 L392.5 1268.8 L393.1 1265.3 L393.8 1265.9 L394.4 1266.1 L395.1 1264.9 L395.8 1265.9 L396.4 1265.5 L397.1 1265.1 L397.7 1264.1 L398.4 1264.3 L399.1 1265.5 L399.7 1264.6 L400.4 1264.9 L401.0 1264.9 L401.7 1264.7 L402.4 1264.3 L403.0 1264.8 L403.7 1264.9 L404.3 1265.4 L405.0 1264.4 L405.7 1263.2 L406.3 1262.9 L407.0 1264.2 L407.6 1261.8 L408.3 1262.7 L409.0 1264.1 L409.6 1262.5 L410.3 1261.9 L410.9 1262.8 L411.6 1256.8 L412.3 1256.9 L412.9 1253.5 L413.6 1250.3 L414.2 1248.5 L414.9 1245.9 L415.6 1242.7 L416.2 1239.8 L416.9 1236.9 L417.5 1233.5 L418.2 1230.9 L418.9 1226.5 L419.5 1225.2 L420.2 1224.4 L420.8 1222.1 L421.5 1222.2 L422.2 1219.7 L422.8 1221.6 L423.5 1222.7 L424.1 1226.9 L424.8 1228.0 L425.5 1230.6 L426.1 1232.5 L426.8 1236.0 L427.4 1238.0 L428.1 1240.8 L428.8 1246.2 L429.4 1245.5 L430.1 1249.2 L430.7 1251.1 L431.4 1255.7 L432.1 1255.0 L432.7 1256.2 L433.4 1258.4 L434.0 1260.5 L434.7 1259.8 L435.4 1259.7 L436.0 1258.2 L436.7 1257.7 L437.3 1262.0 L438.0 1262.6 L438.7 1264.2 L439.3 1263.8 L440.0 1263.3 L440.6 1265.1 L441.3 1265.7 L442.0 1263.3 L442.6 1264.9 L443.3 1265.2 L443.9 1263.2 L444.6 1264.5 L445.3 1263.9 L445.9 1265.1 L446.6 1265.0 L447.2 1261.6 L447.9 1263.5 L448.6 1265.2 L449.2 1264.2 L449.9 1262.5 L450.5 1263.1 L451.2 1262.4 L451.9 1263.8 L452.5 1262.0 L453.2 1264.6 L453.8 1264.2 L454.5 1265.0 L455.2 1264.3 L455.8 1264.1 L456.5 1264.0 L457.1 1263.5 L457.8 1260.9 L458.5 1263.4 L459.1 1261.9 L459.8 1260.2 L460.4 1264.3 L461.1 1262.6 L461.8 1260.8 L462.4 1262.8 L463.1 1262.9 L463.7 1262.6 L464.4 1263.8 L465.1 1261.1 L465.7 1263.1 L466.4 1261.1 L467.0 1262.5 L467.7 1262.6 L468.4 1261.3 L469.0 1264.4 L469.7 1259.8 L470.3 1260.0 L471.0 1260.9 L471.7 1260.4 L472.3 1262.4 L473.0 1260.4 L473.6 1262.3 L474.3 1260.2 L475.0 1261.4 L475.6 1261.1 L476.3 1260.0 L476.9 1260.0 L477.6 1258.9 L478.3 1259.8 L478.9 1259.1 L479.6 1255.1 L480.2 1254.7 L480.9 1254.1 L481.6 1252.1 L482.2 1252.2 L482.9 1251.3 L483.5 1244.2 L484.2 1242.9 L484.9 1241.7 L485.5 1237.3 L486.2 1232.2 L486.8 1228.8 L487.5 1225.2 L488.2 1222.9 L488.8 1216.4 L489.5 1214.1 L490.1 1212.3 L490.8 1209.1 L491.5 1205.7 L492.1 1204.0 L492.8 1201.7 L493.4 1201.8 L494.1 1203.5 L494.8 1206.9 L495.4 1209.1 L496.1 1212.2 L496.7 1214.8 L497.4 1217.9 L498.1 1220.6 L498.7 1223.0 L499.4 1228.3 L500.0 1229.7 L500.7 1231.2 L501.4 1237.0 L502.0 1240.4 L502.7 1246.8 L503.3 1247.7 L504.0 1251.9 L504.7 1253.5 L505.3 1258.0 L506.0 1259.3 L506.6 1259.2 L507.3 1261.3 L508.0 1260.6 L508.6 1263.3 L509.3 1262.8 L509.9 1264.1 L510.6 1263.0 L511.3 1263.2 L511.9 1263.7 L512.6 1264.7 L513.2 1263.8 L513.9 1260.9 L514.6 1263.9 L515.2 1262.7 L515.9 1263.2 L516.5 1263.3 L517.2 1262.6 L517.9 1260.5 L518.5 1260.4 L519.2 1260.7 L519.8 1260.7 L520.5 1258.3 L521.2 1257.3 L521.8 1255.1 L522.5 1254.3 L523.1 1250.3 L523.8 1250.5 L524.5 1245.7 L525.1 1242.9 L525.8 1239.1 L526.4 1234.9 L527.1 1230.3 L527.8 1232.3 L528.4 1229.6 L529.1 1226.5 L529.7 1231.5 L530.4 1230.1 L531.1 1232.5 L531.7 1232.5 L532.4 1233.4 L533.0 1237.1 L533.7 1241.7 L534.4 1241.6 L535.0 1246.1 L535.7 1250.5 L536.3 1253.1 L537.0 1255.4 L537.7 1256.0 L538.3 1261.3 L539.0 1264.9 L539.6 1265.0 L540.3 1263.9 L541.0 1264.9 L541.6 1265.3 L542.3 1264.5 L542.9 1264.2 L543.6 1264.4 L544.3 1264.4 L544.9 1265.3 L545.6 1265.4 L546.2 1266.2 L546.9 1266.2 L547.6 1265.5 L548.2 1263.5 L548.9 1266.4 L549.5 1264.9 L550.2 1267.8 L550.9 1265.7 L551.5 1268.4 L552.2 1266.8 L552.8 1268.0 L553.5 1266.5 L554.2 1267.0 L554.8 1266.1 L555.5 1266.2 L556.1 1266.3 L556.8 1267.7 L557.5 1265.8 L558.1 1268.2 L558.8 1267.0 L559.4 1268.1 L560.1 1266.5 L560.8 1267.7 L561.4 1266.0 L562.1 1267.3 L562.7 1267.9 L563.4 1267.1 L564.1 1268.1 L564.7 1268.6 L565.4 1268.7 L566.0 1266.5 L566.7 1268.5 L567.4 1268.7 L568.0 1268.1 L568.7 1268.1 L569.3 1271.3 L570.0 1270.2 L570.7 1270.5 L571.3 1270.8 L572.0 1268.6 L572.6 1269.4 L573.3 1267.9 L574.0 1270.0 L574.6 1267.8 L575.3 1269.1 L575.9 1270.7 L576.6 1270.5 L577.3 1268.9 L577.9 1269.0 L578.6 1271.3 L579.2 1270.4 L579.9 1269.4 L580.6 1270.0 L581.2 1270.0 L581.9 1268.7 L582.5 1269.3 L583.2 1267.6 L583.9 1270.1 L584.5 1269.9 L585.2 1270.9 L585.8 1270.8 L586.5 1269.2 L587.2 1271.4 L587.8 1268.9 L588.5 1270.6 L589.1 1269.1 L589.8 1268.9 L590.5 1268.2 L591.1 1269.4 L591.8 1271.8 L592.4 1269.6 L593.1 1269.9 L593.8 1269.0 L594.4 1269.8 L595.1 1269.9 L595.7 1269.7 L596.4 1270.6 L597.1 1269.1 L597.7 1269.5 L598.4 1270.6 L599.0 1269.6 L599.7 1268.1 L600.4 1270.1 L601.0 1269.4 L601.7 1267.8 L602.3 1267.6 L603.0 1267.8 L603.7 1268.7 L604.3 1267.8 L605.0 1268.0 L605.6 1269.1 L606.3 1267.8 L607.0 1265.6 L607.6 1264.2 L608.3 1265.8 L608.9 1263.0 L609.6 1262.4 L610.3 1262.6 L610.9 1262.5 L611.6 1261.5 L612.2 1261.6 L612.9 1258.2 L613.6 1260.4 L614.2 1260.6 L614.9 1261.2 L615.5 1260.8 L616.2 1260.2 L616.9 1263.2 L617.5 1261.8 L618.2 1261.6 L618.8 1261.5 L619.5 1261.9 L620.2 1260.8 L620.8 1260.8 L621.5 1262.4 L622.1 1260.7 L622.8 1263.1 L623.5 1262.2 L624.1 1263.5 L624.8 1262.9 L625.4 1261.9 L626.1 1261.9 L626.8 1261.9 L627.4 1263.4 L628.1 1263.2 L628.7 1261.2 L629.4 1261.3 L630.1 1260.0 L630.7 1262.1 L631.4 1260.7 L632.0 1259.7 L632.7 1259.2 L633.4 1261.3 L634.0 1263.2 L634.7 1261.8 L635.3 1261.3 L636.0 1261.9 L636.7 1262.8 L637.3 1261.5 L638.0 1265.4 L638.6 1264.2 L639.3 1263.1 L640.0 1262.1 L640.6 1265.5 L641.3 1265.4 L641.9 1266.6 L642.6 1266.2 L643.3 1264.7 L643.9 1263.3 L644.6 1265.2 L645.2 1264.1 L645.9 1264.4 L646.6 1262.0 L647.2 1262.7 L647.9 1262.1 L648.5 1260.2 L649.2 1258.9 L649.9 1257.6 L650.5 1258.7 L651.2 1258.3 L651.8 1255.3 L652.5 1250.8 L653.2 1251.7 L653.8 1248.5 L654.5 1249.4 L655.1 1250.4 L655.8 1249.0 L656.5 1246.4 L657.1 1251.1 L657.8 1251.6 L658.4 1254.8 L659.1 1255.0 L659.8 1256.9 L660.4 1256.1 L661.1 1261.2 L661.7 1259.9 L662.4 1260.4 L663.1 1264.2 L663.7 1265.5 L664.4 1267.5 L665.0 1268.3 L665.7 1268.6 L666.4 1269.5 L667.0 1270.9 L667.7 1271.0 L668.3 1271.5 L669.0 1269.1 L669.7 1271.3 L670.3 1271.3 L671.0 1272.4 L671.6 1271.2 L672.3 1273.2 L673.0 1273.1 L673.6 1271.3 L674.3 1272.6 L674.9 1273.3 L675.6 1271.7 L676.3 1270.4 L676.9 1272.8 L677.6 1273.4 L678.2 1273.2 L678.9 1274.4 L679.6 1273.7 L680.2 1275.1 L680.9 1272.8 L681.5 1275.2 L682.2 1273.1 L682.9 1274.0 L683.5 1271.5 L684.2 1272.6 L684.8 1274.6 L685.5 1273.3 L686.2 1273.1 L686.8 1271.6 L687.5 1273.6 L688.1 1271.5 L688.8 1273.9 L689.5 1272.8 L690.1 1271.3 L690.8 1270.8 L691.4 1270.9 L692.1 1271.6 L692.8 1271.2 L693.4 1269.0 L694.1 1270.8 L694.7 1269.0 L695.4 1271.9 L696.1 1267.7 L696.7 1270.4 L697.4 1268.0 L698.0 1269.5 L698.7 1270.1 L699.4 1269.2 L700.0 1267.3 L700.7 1266.8 L701.3 1269.8 L702.0 1267.3 L702.7 1268.8 L703.3 1269.1 L704.0 1266.0 L704.6 1269.7 L705.3 1267.3 L706.0 1267.1 L706.6 1266.1 L707.3 1267.3 L707.9 1267.4 L708.6 1267.9 L709.3 1267.8 L709.9 1267.7 L710.6 1266.3 L711.2 1266.2 L711.9 1266.3 L712.6 1266.3 L713.2 1267.3 L713.9 1266.7 L714.5 1265.5 L715.2 1264.5 L715.9 1263.4 L716.5 1265.0 L717.2 1265.2 L717.8 1263.2 L718.5 1264.8 L719.2 1265.5 L719.8 1265.6 L720.5 1264.1 L721.1 1265.2 L721.8 1264.7 L722.5 1267.5 L723.1 1267.3 L723.8 1270.2 L724.4 1267.2 L725.1 1269.9 L725.8 1268.8 L726.4 1269.2 L727.1 1270.6 L727.7 1267.8 L728.4 1268.9 L729.1 1272.1 L729.7 1271.9 L730.4 1273.1 L731.0 1272.1 L731.7 1271.4 L732.4 1273.1 L733.0 1272.1 L733.7 1272.8 L734.3 1273.1 L735.0 1272.6 L735.7 1276.0 L736.3 1274.8 L737.0 1274.4 L737.6 1274.8 L738.3 1273.9 L739.0 1274.2 L739.6 1274.8 L740.3 1275.0 L740.9 1272.4 L741.6 1276.0 L742.3 1272.5 L742.9 1273.6 L743.6 1273.2 L744.2 1274.8 L744.9 1272.8 L745.6 1275.7 L746.2 1275.4 L746.9 1275.6 L747.5 1275.5 L748.2 1274.3 L748.9 1274.9 L749.5 1273.6 L750.2 1274.2 L750.8 1275.1 L751.5 1273.3 L752.2 1274.3 L752.8 1274.1 L753.5 1275.6 L754.1 1275.2 L754.8 1274.2 L755.5 1275.5 L756.1 1276.7 L756.8 1275.8 L757.4 1274.7 L758.1 1274.8 L758.8 1273.6 L759.4 1274.1 L760.1 1274.9 L760.7 1275.0 L761.4 1273.1 L762.1 1273.3 L762.7 1273.3 L763.4 1273.4 L764.0 1274.0 L764.7 1274.5 L765.4 1273.4 L766.0 1273.9 L766.7 1272.5 L767.3 1274.4 L768.0 1274.9 L768.7 1274.0 L769.3 1273.0 L770.0 1277.1 L770.6 1273.7 L771.3 1275.1 L772.0 1272.3 L772.6 1273.8 L773.3 1274.7 L773.9 1274.5 L774.6 1274.8 L775.3 1274.7 L775.9 1273.8 L776.6 1273.6 L777.2 1274.4 L777.9 1273.9 L778.6 1274.0 L779.2 1275.0 L779.9 1274.8 L780.5 1274.1 L781.2 1275.7 L781.9 1274.5 L782.5 1274.3 L783.2 1275.4 L783.8 1274.8 L784.5 1272.8 L785.2 1274.9 L785.8 1272.7 L786.5 1274.0 L787.1 1274.5 L787.8 1274.8 L788.5 1273.1 L789.1 1273.5 L789.8 1274.6 L790.4 1275.7 L791.1 1275.6 L791.8 1274.3 L792.4 1275.0 L793.1 1272.5 L793.7 1272.7 L794.4 1273.6 L795.1 1273.5 L795.7 1270.9 L796.4 1273.6 L797.0 1271.3 L797.7 1272.0 L798.4 1270.7 L799.0 1271.4 L799.7 1272.8 L800.3 1270.2 L801.0 1270.8 L801.7 1271.4 L802.3 1271.9 L803.0 1273.0 L803.6 1271.3 L804.3 1272.2 L805.0 1269.4 L805.6 1270.5 L806.3 1268.5 L806.9 1272.3 L807.6 1270.6 L808.3 1272.1 L808.9 1270.6 L809.6 1270.9 L810.2 1271.4 L810.9 1272.1 L811.6 1272.8 L812.2 1271.7 L812.9 1273.9 L813.5 1274.7 L814.2 1272.5 L814.9 1272.9 L815.5 1273.4 L816.2 1273.6 L816.8 1276.3 L817.5 1275.2 L818.2 1273.0 L818.8 1277.0 L819.5 1274.9 L820.1 1272.5 L820.8 1271.8 L821.5 1273.8 L822.1 1271.4 L822.8 1273.0 L823.4 1273.5 L824.1 1271.4 L824.8 1271.2 L825.4 1270.8 L826.1 1272.8 L826.7 1271.8 L827.4 1271.4 L828.1 1271.5 L828.7 1270.3 L829.4 1269.4 L830.0 1270.1 L830.7 1270.5 L831.4 1269.1 L832.0 1268.7 L832.7 1267.6 L833.3 1269.8 L834.0 1268.8 L834.7 1267.9 L835.3 1267.6 L836.0 1267.5 L836.6 1266.9 L837.3 1267.7 L838.0 1266.7 L838.6 1267.2 L839.3 1266.4 L839.9 1265.7 L840.6 1267.7 L841.3 1267.8 L841.9 1268.5 L842.6 1266.7 L843.2 1266.7 L843.9 1265.8 L844.6 1268.1 L845.2 1267.5 L845.9 1270.0 L846.5 1267.8 L847.2 1270.4 L847.9 1268.3 L848.5 1269.7 L849.2 1271.3 L849.8 1269.6 L850.5 1270.6 L851.2 1271.1 L851.8 1269.0 L852.5 1272.9 L853.1 1269.2 L853.8 1270.4 L854.5 1271.1 L855.1 1271.4 L855.8 1272.1 L856.4 1272.4 L857.1 1269.8 L857.8 1271.1 L858.4 1269.2 L859.1 1271.7 L859.7 1270.8 L860.4 1272.0 L861.1 1269.9 L861.7 1270.5 L862.4 1272.3 L863.0 1272.6 L863.7 1271.6 L864.4 1271.5 L865.0 1271.4 L865.7 1271.5 L866.3 1271.5 L867.0 1274.9 L867.7 1273.0 L868.3 1270.6 L869.0 1271.9 L869.6 1271.3 L870.3 1272.6 L871.0 1274.8 L871.6 1273.9 L872.3 1272.8 L872.9 1273.1 L873.6 1272.6 L874.3 1271.7 L874.9 1272.2 L875.6 1274.0 L876.2 1271.3 L876.9 1274.3 L877.6 1275.5 L878.2 1273.1 L878.9 1274.3 L879.5 1273.3 L880.2 1272.9 L880.9 1271.1 L881.5 1272.5 L882.2 1274.9 L882.8 1273.4 L883.5 1273.0 L884.2 1275.0 L884.8 1273.3 L885.5 1271.3 L886.1 1272.9 L886.8 1275.0 L887.5 1274.7 L888.1 1273.1 L888.8 1274.3 L889.4 1273.4 L890.1 1276.0 L890.8 1274.2 L891.4 1274.5 L892.1 1273.7 L892.7 1274.1 L893.4 1273.5 L894.1 1272.7 L894.7 1271.9 L895.4 1271.7 L896.0 1271.7 L896.7 1272.3 L897.4 1271.9 L898.0 1272.4 L898.7 1270.5 L899.3 1270.5 L900.0 1267.8 L900.7 1269.0 L901.3 1268.7 L902.0 1269.1 L902.6 1269.0 L903.3 1268.1 L904.0 1268.8 L904.6 1267.7 L905.3 1268.0 L905.9 1267.2 L906.6 1267.9 L907.3 1267.0 L907.9 1267.3 L908.6 1266.7 L909.2 1266.2 L909.9 1269.1 L910.6 1267.1 L911.2 1269.2 L911.9 1267.9 L912.5 1268.5 L913.2 1268.9 L913.9 1268.2 L914.5 1267.6 L915.2 1270.5 L915.8 1270.2 L916.5 1268.5 L917.2 1269.7 L917.8 1270.0 L918.5 1272.0 L919.1 1271.5 L919.8 1271.0 L920.5 1272.3 L921.1 1271.5 L921.8 1270.4 L922.4 1269.7 L923.1 1272.2 L923.8 1269.4 L924.4 1272.5 L925.1 1269.4 L925.7 1270.6 L926.4 1272.5 L927.1 1272.2 L927.7 1272.5 L928.4 1269.8 L929.0 1271.0 L929.7 1271.3 L930.4 1270.9 L931.0 1270.7 L931.7 1271.7 L932.3 1271.4 L933.0 1270.4 L933.7 1270.8 L934.3 1271.1 L935.0 1271.4 L935.6 1271.2 L936.3 1269.8 L937.0 1271.6 L937.6 1272.0 L938.3 1273.1 L938.9 1271.0 L939.6 1272.5 L940.3 1270.9 L940.9 1272.8 L941.6 1271.4 L942.2 1271.6 L942.9 1271.3 L943.6 1271.7 L944.2 1271.7 L944.9 1270.1 L945.5 1272.3 L946.2 1270.5 L946.9 1271.4 L947.5 1272.6 L948.2 1271.3 L948.8 1270.9 L949.5 1273.3 L950.2 1272.9 L950.8 1272.8 L951.5 1272.3 L952.1 1271.5 L952.8 1271.0 L953.5 1269.0 L954.1 1269.2 L954.8 1269.0 L955.4 1270.7 L956.1 1271.8 L956.8 1269.7 L957.4 1268.3 L958.1 1269.6 L958.7 1267.7 L959.4 1267.2 L960.1 1267.0 L960.7 1267.9 L961.4 1267.6 L962.0 1266.3 L962.7 1264.6 L963.4 1266.3 L964.0 1264.2 L964.7 1263.8 L965.3 1264.0 L966.0 1263.2 L966.7 1263.5 L967.3 1265.9 L968.0 1263.0 L968.6 1263.9 L969.3 1262.4 L970.0 1263.1 L970.6 1263.7 L971.3 1264.3 L971.9 1264.4 L972.6 1264.3 L973.3 1263.8 L973.9 1266.2 L974.6 1265.6 L975.2 1264.5 L975.9 1265.0 L976.6 1265.0 L977.2 1265.6 L977.9 1265.2 L978.5 1266.8 L979.2 1267.2 L979.9 1266.3 L980.5 1267.0 L981.2 1266.2 L981.8 1268.3 L982.5 1266.8 L983.2 1267.8 L983.8 1267.8 L984.5 1266.6 L985.1 1265.8 L985.8 1267.0 L986.5 1266.7 L987.1 1267.3 L987.8 1267.9 L988.4 1268.0 L989.1 1267.6 L989.8 1270.1 L990.4 1267.1 L991.1 1269.4 L991.7 1269.3 L992.4 1267.7 L993.1 1270.8 L993.7 1270.1 L994.4 1269.1 L995.0 1269.4 L995.7 1269.0 L996.4 1269.7 L997.0 1268.6 L997.7 1270.4 L998.3 1270.3 L999.0 1268.9 L999.7 1267.8 L1000.3 1270.7 L1001.0 1269.8 L1001.6 1268.7 L1002.3 1271.3 L1003.0 1270.1 L1003.6 1268.4 L1004.3 1271.1 L1004.9 1269.0 L1005.6 1268.4 L1006.3 1269.7 L1006.9 1270.5 L1007.6 1268.9 L1008.2 1273.5 L1008.9 1271.5 L1009.6 1271.6 L1010.2 1271.4 L1010.9 1272.1 L1011.5 1271.1 L1012.2 1271.9 L1012.9 1273.6 L1013.5 1272.2 L1014.2 1272.9 L1014.8 1272.6 L1015.5 1275.0 L1016.2 1274.4 L1016.8 1273.7 L1017.5 1274.1 L1018.1 1273.8 L1018.8 1273.8 L1019.5 1276.4 L1020.1 1271.1 L1020.8 1273.3 L1021.4 1273.5 L1022.1 1274.5 L1022.8 1271.9 L1023.4 1272.8 L1024.1 1273.9 L1024.7 1271.4 L1025.4 1274.1 L1026.1 1275.8 L1026.7 1272.5 L1027.4 1271.3 L1028.0 1274.2 L1028.7 1273.2 L1029.4 1275.7 L1030.0 1273.0 L1030.7 1272.8 L1031.3 1274.7 L1032.0 1274.9 L1032.7 1274.6 L1033.3 1275.9 L1034.0 1274.1 L1034.6 1273.5 L1035.3 1272.9 L1036.0 1273.3 L1036.6 1273.0 L1037.3 1272.9 L1037.9 1272.3 L1038.6 1270.9 L1039.3 1273.9 L1039.9 1273.9 L1040.6 1271.7 L1041.2 1274.4 L1041.9 1270.5 L1042.6 1272.9 L1043.2 1273.6 L1043.9 1273.1 L1044.5 1274.3 L1045.2 1274.8 L1045.9 1274.7 L1046.5 1273.6 L1047.2 1275.2 L1047.8 1273.0 L1048.5 1272.8 L1049.2 1272.7 L1049.8 1272.6 L1050.5 1272.9 L1051.1 1271.9 L1051.8 1271.6 L1052.5 1275.0 L1053.1 1273.9 L1053.8 1274.3 L1054.4 1273.6 L1055.1 1272.1 L1055.8 1274.6 L1056.4 1274.0 L1057.1 1271.9 L1057.7 1274.0 L1058.4 1270.9 L1059.1 1274.2 L1059.7 1272.2 L1060.4 1274.2 L1061.0 1272.2 L1061.7 1274.2 L1062.4 1273.4 L1063.0 1273.7 L1063.7 1273.3 L1064.3 1273.6 L1065.0 1273.7 L1065.7 1273.8 L1066.3 1270.6 L1067.0 1272.6 L1067.6 1272.4 L1068.3 1272.7 L1069.0 1272.8 L1069.6 1275.2 L1070.3 1273.6 L1070.9 1271.5 L1071.6 1272.5 L1072.3 1274.1 L1072.9 1271.9 L1073.6 1273.3 L1074.2 1272.5 L1074.9 1273.5 L1075.6 1272.9 L1076.2 1273.1 L1076.9 1272.9 L1077.5 1272.3 L1078.2 1274.5 L1078.9 1273.6 L1079.5 1273.4 L1080.2 1274.9 L1080.8 1273.6 L1081.5 1273.3 L1082.2 1273.5 L1082.8 1272.9 L1083.5 1272.5 L1084.1 1275.3 L1084.8 1272.5 L1085.5 1274.7 L1086.1 1273.9 L1086.8 1272.2 L1087.4 1273.2 L1088.1 1272.6 L1088.8 1273.4 L1089.4 1274.3 L1090.1 1272.5 L1090.7 1272.5 L1091.4 1272.2 L1092.1 1275.0 L1092.7 1273.6 L1093.4 1273.7 L1094.0 1273.5 L1094.7 1272.0 L1095.4 1275.0 L1096.0 1271.9 L1096.7 1270.6 L1097.3 1273.7 L1098.0 1271.8 L1098.7 1273.7 L1099.3 1273.2 L1100.0 1272.4 L1100.6 1272.9 L1101.3 1272.8 L1102.0 1271.2 L1102.6 1270.8 L1103.3 1270.0 L1103.9 1270.7 L1104.6 1270.1 L1105.3 1269.5 L1105.9 1269.7 L1106.6 1272.9 L1107.2 1270.6 L1107.9 1268.2 L1108.6 1271.2 L1109.2 1267.1 L1109.9 1268.7 L1110.5 1267.3 L1111.2 1266.6 L1111.9 1266.4 L1112.5 1266.5 L1113.2 1266.0 L1113.8 1261.6 L1114.5 1261.8 L1115.2 1260.1 L1115.8 1260.3 L1116.5 1259.5 L1117.1 1256.2 L1117.8 1255.8 L1118.5 1255.2 L1119.1 1256.5 L1119.8 1255.1 L1120.4 1254.8 L1121.1 1255.2 L1121.8 1255.4 L1122.4 1256.6 L1123.1 1258.9 L1123.7 1255.6 L1124.4 1257.2 L1125.1 1259.0 L1125.7 1256.9 L1126.4 1260.3 L1127.0 1261.0 L1127.7 1261.3 L1128.4 1260.5 L1129.0 1264.6 L1129.7 1263.9 L1130.3 1263.6 L1131.0 1265.1 L1131.7 1262.1 L1132.3 1262.8 L1133.0 1261.4 L1133.6 1263.0 L1134.3 1263.1 L1135.0 1262.3 L1135.6 1262.1 L1136.3 1262.7 L1136.9 1260.9 L1137.6 1260.9 L1138.3 1259.2 L1138.9 1260.3 L1139.6 1258.4 L1140.2 1259.3 L1140.9 1255.2 L1141.6 1254.2 L1142.2 1251.6 L1142.9 1247.5 L1143.5 1247.5 L1144.2 1245.5 L1144.9 1244.8 L1145.5 1243.5 L1146.2 1241.0 L1146.8 1241.9 L1147.5 1239.6 L1148.2 1239.0 L1148.8 1235.1 L1149.5 1234.2 L1150.1 1233.6 L1150.8 1234.6 L1151.5 1234.0 L1152.1 1234.0 L1152.8 1232.8 L1153.4 1230.4 L1154.1 1231.1 L1154.8 1232.6 L1155.4 1231.7 L1156.1 1228.4 L1156.7 1229.2 L1157.4 1227.5 L1158.1 1229.0 L1158.7 1229.2 L1159.4 1228.6 L1160.0 1226.2 L1160.7 1226.4 L1161.4 1226.4 L1162.0 1228.2 L1162.7 1226.4 L1163.3 1226.0 L1164.0 1225.8 L1164.7 1225.8 L1165.3 1224.6 L1166.0 1224.3 L1166.6 1225.2 L1167.3 1226.0 L1168.0 1226.4 L1168.6 1228.7 L1169.3 1229.0 L1169.9 1231.0 L1170.6 1230.6 L1171.3 1230.0 L1171.9 1233.4 L1172.6 1236.1 L1173.2 1236.7 L1173.9 1235.3 L1174.6 1239.2 L1175.2 1240.9 L1175.9 1243.4 L1176.5 1245.0 L1177.2 1247.6 L1177.9 1249.0 L1178.5 1250.9 L1179.2 1254.0 L1179.8 1254.7 L1180.5 1255.4 L1181.2 1255.4 L1181.8 1257.1 L1182.5 1258.6 L1183.1 1260.8 L1183.8 1259.8 L1184.5 1262.8 L1185.1 1265.0 L1185.8 1264.7 L1186.4 1263.8 L1187.1 1267.1 L1187.8 1266.6 L1188.4 1267.8 L1189.1 1268.4 L1189.7 1268.3 L1190.4 1267.7 L1191.1 1267.1 L1191.7 1270.6 L1192.4 1267.5 L1193.0 1269.5 L1193.7 1267.8 L1194.4 1270.3 L1195.0 1271.1 L1195.7 1270.1 L1196.3 1268.6 L1197.0 1269.1 L1197.7 1271.2 L1198.3 1271.3 L1199.0 1270.6 L1199.6 1270.2 L1200.3 1271.8 L1201.0 1270.8 L1201.6 1270.7 L1202.3 1271.3 L1202.9 1270.9 L1203.6 1271.8 L1204.3 1272.2 L1204.9 1271.3 L1205.6 1268.3 L1206.2 1270.9 L1206.9 1270.4 L1207.6 1269.7 L1208.2 1270.5 L1208.9 1272.4 L1209.5 1269.5 L1210.2 1270.7 L1210.9 1270.3 L1211.5 1269.5 L1212.2 1269.5 L1212.8 1271.7 L1213.5 1269.7 L1214.2 1273.0 L1214.8 1270.9 L1215.5 1271.5 L1216.1 1271.7 L1216.8 1269.4 L1217.5 1272.2 L1218.1 1271.2 L1218.8 1270.9 L1219.4 1271.6 L1220.1 1271.1 L1220.8 1271.0 L1221.4 1269.6 L1222.1 1270.7 L1222.7 1271.5 L1223.4 1269.9 L1224.1 1271.6 L1224.7 1270.4 L1225.4 1271.3 L1226.0 1270.7 L1226.7 1269.5 L1227.4 1270.3 L1228.0 1269.9 L1228.7 1269.6 L1229.3 1269.5 L1230.0 1268.1 L1230.7 1270.0 L1231.3 1270.1 L1232.0 1269.1 L1232.6 1268.5 L1233.3 1270.8 L1234.0 1270.5 L1234.6 1271.2 L1235.3 1271.1 L1235.9 1268.9 L1236.6 1269.9 L1237.3 1269.7 L1237.9 1270.7 L1238.6 1268.8 L1239.2 1268.8 L1239.9 1271.0 L1240.6 1268.5 L1241.2 1269.7 L1241.9 1269.7 L1242.5 1268.0 L1243.2 1268.7 L1243.9 1268.5 L1244.5 1268.8 L1245.2 1268.2 L1245.8 1270.2 L1246.5 1268.9 L1247.2 1270.2 L1247.8 1270.0 L1248.5 1267.2 L1249.1 1269.9 L1249.8 1268.4 L1250.5 1269.6 L1251.1 1269.8 L1251.8 1270.1 L1252.4 1269.7 L1253.1 1268.5 L1253.8 1267.9 L1254.4 1268.6 L1255.1 1268.6 L1255.7 1268.3 L1256.4 1268.0 L1257.1 1268.7 L1257.7 1267.6 L1258.4 1268.2 L1259.0 1268.0 L1259.7 1268.9 L1260.4 1267.0 L1261.0 1266.8 L1261.7 1266.3 L1262.3 1267.8 L1263.0 1267.0 L1263.7 1266.0 L1264.3 1267.6 L1265.0 1264.4 L1265.6 1265.8 L1266.3 1264.8 L1267.0 1263.5 L1267.6 1262.2 L1268.3 1262.1 L1268.9 1263.2 L1269.6 1260.4 L1270.3 1261.1 L1270.9 1260.1 L1271.6 1260.6 L1272.2 1259.5 L1272.9 1259.5 L1273.6 1258.4 L1274.2 1259.9 L1274.9 1258.8 L1275.5 1259.8 L1276.2 1258.2 L1276.9 1259.1 L1277.5 1260.6 L1278.2 1260.8 L1278.8 1262.0 L1279.5 1262.2 L1280.2 1264.3 L1280.8 1264.8 L1281.5 1266.0 L1282.1 1266.1 L1282.8 1267.1 L1283.5 1267.4 L1284.1 1266.7 L1284.8 1265.9 L1285.4 1266.3 L1286.1 1266.5 L1286.8 1265.5 L1287.4 1265.9 L1288.1 1267.4 L1288.7 1267.1 L1289.4 1265.5 L1290.1 1265.3 L1290.7 1265.7 L1291.4 1264.6 L1292.0 1267.3 L1292.7 1266.7 L1293.4 1265.0 L1294.0 1265.9 L1294.7 1265.5 L1295.3 1267.5 L1296.0 1264.9 L1296.7 1265.5 L1297.3 1267.8 L1298.0 1267.9 L1298.6 1267.8 L1299.3 1266.5 L1300.0 1265.6 L1300.6 1265.2 L1301.3 1266.9 L1301.9 1265.2 L1302.6 1265.9 L1303.3 1265.8 L1303.9 1267.0 L1304.6 1265.2 L1305.2 1266.9 L1305.9 1265.2 L1306.6 1265.2 L1307.2 1264.3 L1307.9 1265.3 L1308.5 1264.4 L1309.2 1264.2 L1309.9 1263.2 L1310.5 1263.0 L1311.2 1264.0 L1311.8 1262.1 L1312.5 1262.1 L1313.2 1260.5 L1313.8 1260.0 L1314.5 1260.8 L1315.1 1262.1 L1315.8 1258.4 L1316.5 1259.2 L1317.1 1257.9 L1317.8 1258.7 L1318.4 1258.1 L1319.1 1257.0 L1319.8 1255.8 L1320.4 1255.5 L1321.1 1258.3 L1321.7 1256.8 L1322.4 1256.6 L1323.1 1257.1 L1323.7 1256.4 L1324.4 1258.6 L1325.0 1256.5 L1325.7 1257.5 L1326.4 1256.7 L1327.0 1255.0 L1327.7 1257.2 L1328.3 1257.0 L1329.0 1256.4 L1329.7 1258.4 L1330.3 1257.8 L1331.0 1258.2 L1331.6 1256.2 L1332.3 1257.2 L1333.0 1256.1 L1333.6 1258.7 L1334.3 1259.4 L1334.9 1257.9 L1335.6 1261.2 L1336.3 1257.9 L1336.9 1259.5 L1337.6 1257.3 L1338.2 1257.6 L1338.9 1260.4 L1339.6 1260.3 L1340.2 1262.6 L1340.9 1260.9 L1341.5 1262.3 L1342.2 1260.3 L1342.9 1262.0 L1343.5 1263.1 L1344.2 1261.9 L1344.8 1263.5 L1345.5 1263.4 L1346.2 1262.8 L1346.8 1261.7 L1347.5 1262.4 L1348.1 1261.6 L1348.8 1264.7 L1349.5 1265.6 L1350.1 1264.6 L1350.8 1265.0 L1351.4 1262.7 L1352.1 1266.2 L1352.8 1263.9 L1353.4 1265.0 L1354.1 1267.9 L1354.7 1266.4 L1355.4 1265.3 L1356.1 1265.3 L1356.7 1266.6 L1357.4 1267.6 L1358.0 1266.6 L1358.7 1266.5 L1359.4 1266.8 L1360.0 1267.0 L1360.7 1264.5 L1361.3 1264.0 L1362.0 1267.2 L1362.7 1264.9 L1363.3 1263.2 L1364.0 1264.7 L1364.6 1264.8 L1365.3 1264.4 L1366.0 1265.7 L1366.6 1263.0 L1367.3 1263.9 L1367.9 1262.1 L1368.6 1265.6 L1369.3 1261.9 L1369.9 1261.1 L1370.6 1263.3 L1371.2 1262.5 L1371.9 1260.7 L1372.6 1262.4 L1373.2 1262.4 L1373.9 1260.9 L1374.5 1261.7 L1375.2 1261.9 L1375.9 1261.5 L1376.5 1260.2 L1377.2 1260.5 L1377.8 1260.0 L1378.5 1260.0 L1379.2 1260.3 L1379.8 1259.9 L1380.5 1260.3 L1381.1 1260.3 L1381.8 1260.3 L1382.5 1261.2 L1383.1 1259.5 L1383.8 1259.9 L1384.4 1260.2 L1385.1 1260.1 L1385.8 1261.6 L1386.4 1261.4 L1387.1 1261.2 L1387.7 1261.1 L1388.4 1262.0 L1389.1 1262.4 L1389.7 1262.5 L1390.4 1261.3 L1391.0 1261.6 L1391.7 1259.8 L1392.4 1261.3 L1393.0 1263.8 L1393.7 1260.8 L1394.3 1262.5 L1395.0 1262.2 L1395.7 1260.5 L1396.3 1259.5 L1397.0 1260.6 L1397.6 1262.7 L1398.3 1262.4 L1399.0 1261.9 L1399.6 1260.8 L1400.3 1261.9 L1400.9 1260.0 L1401.6 1262.0 L1402.3 1261.5 L1402.9 1261.7 L1403.6 1264.1 L1404.2 1263.8 L1404.9 1260.0 L1405.6 1261.1 L1406.2 1260.7 L1406.9 1261.1 L1407.5 1263.2 L1408.2 1259.5 L1408.9 1260.5 L1409.5 1262.0 L1410.2 1259.9 L1410.8 1262.2 L1411.5 1260.6 L1412.2 1260.4 L1412.8 1261.1 L1413.5 1260.2 L1414.1 1261.5 L1414.8 1262.3 L1415.5 1257.9 L1416.1 1261.5 L1416.8 1258.4 L1417.4 1258.6 L1418.1 1261.4 L1418.8 1261.0 L1419.4 1261.0 L1420.1 1259.8 L1420.7 1260.2 L1421.4 1260.5 L1422.1 1259.2 L1422.7 1261.5 L1423.4 1260.8 L1424.0 1261.8 L1424.7 1258.7 L1425.4 1258.7 L1426.0 1260.8 L1426.7 1261.3 L1427.3 1262.2 L1428.0 1261.2 L1428.7 1261.0 L1429.3 1260.9 L1430.0 1263.0 L1430.6 1262.3 L1431.3 1264.0 L1432.0 1262.2 L1432.6 1262.8 L1433.3 1262.3 L1433.9 1262.2 L1434.6 1262.9 L1435.3 1261.4 L1435.9 1262.2 L1436.6 1263.1 L1437.2 1261.9 L1437.9 1260.5 L1438.6 1262.2 L1439.2 1261.5 L1439.9 1262.8 L1440.5 1260.6 L1441.2 1260.4 L1441.9 1260.8 L1442.5 1259.6 L1443.2 1259.9 L1443.8 1258.7 L1444.5 1257.7 L1445.2 1257.9 L1445.8 1257.1 L1446.5 1255.7 L1447.1 1256.9 L1447.8 1255.4 L1448.5 1255.5 L1449.1 1254.6 L1449.8 1254.7 L1450.4 1253.2 L1451.1 1253.9 L1451.8 1253.3 L1452.4 1252.6 L1453.1 1252.5 L1453.7 1251.7 L1454.4 1252.3 L1455.1 1253.0 L1455.7 1250.2 L1456.4 1250.4 L1457.0 1248.8 L1457.7 1249.6 L1458.4 1249.6 L1459.0 1249.7 L1459.7 1247.6 L1460.3 1247.8 L1461.0 1248.2 L1461.7 1250.8 L1462.3 1247.5 L1463.0 1247.1 L1463.6 1245.9 L1464.3 1245.9 L1465.0 1243.4 L1465.6 1244.8 L1466.3 1244.4 L1466.9 1244.5 L1467.6 1244.0 L1468.3 1246.3 L1468.9 1244.7 L1469.6 1243.1 L1470.2 1240.7 L1470.9 1244.1 L1471.6 1241.1 L1472.2 1240.1 L1472.9 1240.0 L1473.5 1238.8 L1474.2 1239.1 L1474.9 1236.3 L1475.5 1235.1 L1476.2 1233.7 L1476.8 1233.1 L1477.5 1230.7 L1478.2 1228.4 L1478.8 1226.8 L1479.5 1224.7 L1480.1 1224.4 L1480.8 1221.7 L1481.5 1225.9 L1482.1 1224.1 L1482.8 1224.7 L1483.4 1226.6 L1484.1 1226.2 L1484.8 1227.7 L1485.4 1227.7 L1486.1 1229.1 L1486.7 1230.6 L1487.4 1233.4 L1488.1 1231.3 L1488.7 1233.3 L1489.4 1235.7 L1490.0 1237.1 L1490.7 1237.2 L1491.4 1238.6 L1492.0 1239.7 L1492.7 1241.8 L1493.3 1240.8 L1494.0 1243.6 L1494.7 1246.6 L1495.3 1247.8 L1496.0 1247.5 L1496.6 1250.1 L1497.3 1249.9 L1498.0 1252.9 L1498.6 1254.0 L1499.3 1254.7 L1499.9 1256.1 L1500.6 1256.3 L1501.3 1258.4 L1501.9 1258.7 L1502.6 1258.7 L1503.2 1259.3 L1503.9 1259.4 L1504.6 1258.4 L1505.2 1259.0 L1505.9 1258.3 L1506.5 1256.7 L1507.2 1259.8 L1507.9 1258.4 L1508.5 1258.6 L1509.2 1260.8 L1509.8 1258.6 L1510.5 1258.5 L1511.2 1257.0 L1511.8 1259.2 L1512.5 1259.1 L1513.1 1258.3 L1513.8 1260.2 L1514.5 1258.6 L1515.1 1257.7 L1515.8 1258.4 L1516.4 1258.9 L1517.1 1258.9 L1517.8 1259.2 L1518.4 1258.0 L1519.1 1258.2 L1519.7 1257.2 L1520.4 1259.0 L1521.1 1260.7 L1521.7 1260.2 L1522.4 1257.7 L1523.0 1258.5 L1523.7 1260.4 L1524.4 1258.6 L1525.0 1258.5 L1525.7 1257.5 L1526.3 1260.7 L1527.0 1259.9 L1527.7 1257.6 L1528.3 1259.6 L1529.0 1257.4 L1529.6 1258.4 L1530.3 1259.5 L1531.0 1257.1 L1531.6 1256.9 L1532.3 1256.6 L1532.9 1257.5 L1533.6 1258.3 L1534.3 1258.1 L1534.9 1258.8 L1535.6 1258.8 L1536.2 1257.4 L1536.9 1254.9 L1537.6 1255.3 L1538.2 1256.7 L1538.9 1256.2 L1539.5 1255.7 L1540.2 1255.1 L1540.9 1255.9 L1541.5 1253.8 L1542.2 1254.9 L1542.8 1255.4 L1543.5 1256.2 L1544.2 1256.1 L1544.8 1253.8 L1545.5 1253.1 L1546.1 1254.3 L1546.8 1254.5 L1547.5 1252.4 L1548.1 1252.2 L1548.8 1252.9 L1549.4 1253.3 L1550.1 1253.6 L1550.8 1252.9 L1551.4 1252.9 L1552.1 1253.7 L1552.7 1252.3 L1553.4 1252.1 L1554.1 1250.7 L1554.7 1252.6 L1555.4 1253.2 L1556.0 1252.8 L1556.7 1251.2 L1557.4 1253.2 L1558.0 1251.7 L1558.7 1253.9 L1559.3 1252.4 L1560.0 1253.4 L1560.7 1252.4 L1561.3 1252.3 L1562.0 1251.4 L1562.6 1251.5 L1563.3 1253.5 L1564.0 1251.4 L1564.6 1254.1 L1565.3 1250.6 L1565.9 1252.5 L1566.6 1252.1 L1567.3 1254.5 L1567.9 1252.3 L1568.6 1252.4 L1569.2 1252.1 L1569.9 1253.7 L1570.6 1252.9 L1571.2 1253.1 L1571.9 1251.7 L1572.5 1253.1 L1573.2 1253.3 L1573.9 1253.1 L1574.5 1255.9 L1575.2 1256.9 L1575.8 1254.6 L1576.5 1254.5 L1577.2 1256.1 L1577.8 1256.5 L1578.5 1255.1 L1579.1 1257.1 L1579.8 1256.3 L1580.5 1256.9 L1581.1 1257.6 L1581.8 1259.1 L1582.4 1258.7 L1583.1 1259.3 L1583.8 1259.5 L1584.4 1257.8 L1585.1 1261.4 L1585.7 1260.3 L1586.4 1260.1 L1587.1 1259.9 L1587.7 1259.7 L1588.4 1261.5 L1589.0 1262.5 L1589.7 1261.4 L1590.4 1261.2 L1591.0 1261.9 L1591.7 1258.2 L1592.3 1261.7 L1593.0 1261.1 L1593.7 1262.2 L1594.3 1262.6 L1595.0 1261.1 L1595.6 1260.0 L1596.3 1262.0 L1597.0 1261.2 L1597.6 1261.7 L1598.3 1261.9 L1598.9 1260.9 L1599.6 1260.2 L1600.3 1261.1 L1600.9 1260.8 L1601.6 1262.1 L1602.2 1260.8 L1602.9 1261.8 L1603.6 1261.5 L1604.2 1260.7 L1604.9 1258.0 L1605.5 1259.2 L1606.2 1261.1 L1606.9 1261.2 L1607.5 1259.5 L1608.2 1258.5 L1608.8 1262.6 L1609.5 1259.9 L1610.2 1258.0 L1610.8 1260.6 L1611.5 1261.6 L1612.1 1257.7 L1612.8 1260.0 L1613.5 1259.4 L1614.1 1259.8 L1614.8 1260.5 L1615.4 1258.7 L1616.1 1258.6 L1616.8 1258.4 L1617.4 1260.8 L1618.1 1260.9 L1618.7 1258.5 L1619.4 1260.9 L1620.1 1259.0 L1620.7 1259.7 L1621.4 1259.2 L1622.0 1259.4 L1622.7 1261.3 L1623.4 1260.0 L1624.0 1258.9 L1624.7 1261.6 L1625.3 1261.9 L1626.0 1260.1 L1626.7 1261.7 L1627.3 1262.0 L1628.0 1259.5 L1628.6 1258.5 L1629.3 1259.0 L1630.0 1258.9 L1630.6 1260.2 L1631.3 1263.3 L1631.9 1261.1 L1632.6 1261.0 L1633.3 1263.1 L1633.9 1261.1 L1634.6 1261.6 L1635.2 1263.2 L1635.9 1259.1 L1636.6 1259.1 L1637.2 1259.7 L1637.9 1259.9 L1638.5 1259.5 L1639.2 1259.6 L1639.9 1257.4 L1640.5 1257.9 L1641.2 1256.7 L1641.8 1257.5 L1642.5 1257.9 L1643.2 1257.7 L1643.8 1257.1 L1644.5 1257.7 L1645.1 1254.8 L1645.8 1256.0 L1646.5 1256.2 L1647.1 1253.9 L1647.8 1258.2 L1648.4 1254.3 L1649.1 1255.8 L1649.8 1254.1 L1650.4 1254.2 L1651.1 1253.8 L1651.7 1255.4 L1652.4 1253.3 L1653.1 1253.9 L1653.7 1253.7 L1654.4 1253.2 L1655.0 1253.2 L1655.7 1251.3 L1656.4 1250.1 L1657.0 1251.4 L1657.7 1250.7 L1658.3 1249.1 L1659.0 1252.6 L1659.7 1249.2 L1660.3 1252.9 L1661.0 1249.5 L1661.6 1250.1 L1662.3 1251.7 L1663.0 1251.6 L1663.6 1252.2 L1664.3 1251.2 L1664.9 1250.9 L1665.6 1248.7 L1666.3 1252.1 L1666.9 1251.7 L1667.6 1252.1 L1668.2 1253.1 L1668.9 1254.4 L1669.6 1252.4 L1670.2 1253.4 L1670.9 1253.6 L1671.5 1252.4 L1672.2 1255.7 L1672.9 1254.6 L1673.5 1253.3 L1674.2 1255.7 L1674.8 1255.7 L1675.5 1256.1 L1676.2 1254.7 L1676.8 1255.0 L1677.5 1256.6 L1678.1 1257.6 L1678.8 1256.0 L1679.5 1257.3 L1680.1 1257.1 L1680.8 1258.0 L1681.4 1258.8 L1682.1 1258.8 L1682.8 1259.6 L1683.4 1260.5 L1684.1 1258.0 L1684.7 1260.1 L1685.4 1258.6 L1686.1 1258.9 L1686.7 1258.7 L1687.4 1260.0 L1688.0 1257.8 L1688.7 1258.3 L1689.4 1258.9 L1690.0 1258.7 L1690.7 1258.1 L1691.3 1260.2 L1692.0 1259.9 L1692.7 1259.4 L1693.3 1261.0 L1694.0 1262.3 L1694.6 1259.6 L1695.3 1262.0 L1696.0 1260.0 L1696.6 1262.2 L1697.3 1262.1 L1697.9 1260.1 L1698.6 1263.4 L1699.3 1260.4 L1699.9 1259.8 L1700.6 1260.7 L1701.2 1261.8 L1701.9 1260.8 L1702.6 1260.4 L1703.2 1262.6 L1703.9 1262.1 L1704.5 1261.0 L1705.2 1263.5 L1705.9 1259.7 L1706.5 1260.6 L1707.2 1260.0 L1707.8 1260.7 L1708.5 1261.0 L1709.2 1261.6 L1709.8 1260.1 L1710.5 1261.1 L1711.1 1260.0 L1711.8 1262.1 L1712.5 1258.7 L1713.1 1259.7 L1713.8 1260.5 L1714.4 1260.9 L1715.1 1260.1 L1715.8 1259.9 L1716.4 1261.3 L1717.1 1259.4 L1717.7 1259.5 L1718.4 1258.5 L1719.1 1260.3 L1719.7 1259.3 L1720.4 1257.4 L1721.0 1257.5 L1721.7 1256.9 L1722.4 1259.6 L1723.0 1259.8 L1723.7 1260.7 L1724.3 1258.9 L1725.0 1256.9 L1725.7 1260.0 L1726.3 1259.7 L1727.0 1259.8 L1727.6 1260.8 L1728.3 1259.1 L1729.0 1260.4 L1729.6 1260.5 L1730.3 1261.2 L1730.9 1262.6 L1731.6 1260.0 L1732.3 1261.7 L1732.9 1261.5 L1733.6 1261.7 L1734.2 1263.2 L1734.9 1263.4 L1735.6 1261.2 L1736.2 1262.5 L1736.9 1262.0 L1737.5 1261.1 L1738.2 1262.8 L1738.9 1262.5 L1739.5 1263.2 L1740.2 1262.3 L1740.8 1261.6 L1741.5 1261.6 L1742.2 1261.9 L1742.8 1262.7 L1743.5 1261.5 L1744.1 1262.1 L1744.8 1262.4 L1745.5 1264.1 L1746.1 1262.2 L1746.8 1262.7 L1747.4 1261.4 L1748.1 1261.0 L1748.8 1262.3 L1749.4 1260.5 L1750.1 1260.5 L1750.7 1262.3 L1751.4 1260.9 L1752.1 1261.3 L1752.7 1260.0 L1753.4 1260.6 L1754.0 1260.3 L1754.7 1260.0 L1755.4 1261.3 L1756.0 1260.1 L1756.7 1259.7 L1757.3 1260.0 L1758.0 1260.2 L1758.7 1262.2 L1759.3 1259.6 L1760.0 1260.2 L1760.6 1261.2 L1761.3 1258.8 L1762.0 1260.3 L1762.6 1260.6 L1763.3 1261.1 L1763.9 1260.3 L1764.6 1260.2 L1765.3 1260.5 L1765.9 1259.7 L1766.6 1259.5 L1767.2 1262.0 L1767.9 1260.3 L1768.6 1259.5 L1769.2 1261.5 L1769.9 1259.4 L1770.5 1259.7 L1771.2 1260.1 L1771.9 1262.5 L1772.5 1261.1 L1773.2 1262.4 L1773.8 1261.2 L1774.5 1261.2 L1775.2 1260.6 L1775.8 1261.4 L1776.5 1262.4 L1777.1 1262.2 L1777.8 1261.1 L1778.5 1261.2 L1779.1 1262.5 L1779.8 1261.4 L1780.4 1261.7 L1781.1 1260.5 L1781.8 1261.3 L1782.4 1262.9 L1783.1 1262.9 L1783.7 1262.6 L1784.4 1263.3 L1785.1 1261.2 L1785.7 1262.4 L1786.4 1262.1 L1787.0 1262.7 L1787.7 1265.3 L1788.4 1263.6 L1789.0 1261.2 L1789.7 1263.1 L1790.3 1264.4 L1791.0 1265.2 L1791.7 1264.0 L1792.3 1263.9 L1793.0 1262.6 L1793.6 1262.4 L1794.3 1263.4 L1795.0 1263.6 L1795.6 1265.2 L1796.3 1265.5 L1796.9 1264.6 L1797.6 1262.9 L1798.3 1263.0 L1798.9 1262.8 L1799.6 1263.8 L1800.2 1262.7 L1800.9 1261.8 L1801.6 1262.4 L1802.2 1262.9 L1802.9 1264.2 L1803.5 1264.1 L1804.2 1262.9 L1804.9 1261.6 L1805.5 1261.4 L1806.2 1264.1 L1806.8 1262.6 L1807.5 1263.2 L1808.2 1262.4 L1808.8 1262.0 L1809.5 1262.9 L1810.1 1261.9 L1810.8 1262.6 L1811.5 1259.8 L1812.1 1262.2 L1812.8 1264.6 L1813.4 1261.5 L1814.1 1261.3 L1814.8 1260.1 L1815.4 1261.6 L1816.1 1259.9 L1816.7 1260.2 L1817.4 1260.2 L1818.1 1259.2 L1818.7 1261.1 L1819.4 1258.6 L1820.0 1261.3 L1820.7 1258.9 L1821.4 1259.6 L1822.0 1260.5 L1822.7 1259.4 L1823.3 1262.3 L1824.0 1260.3 L1824.7 1260.9 L1825.3 1260.4 L1826.0 1261.1 L1826.6 1259.5 L1827.3 1260.4 L1828.0 1260.5 L1828.6 1261.5 L1829.3 1260.7 L1829.9 1258.4 L1830.6 1258.6 L1831.3 1261.0 L1831.9 1261.3 L1832.6 1261.0 L1833.2 1261.5 L1833.9 1260.7 L1834.6 1260.9 L1835.2 1260.5 L1835.9 1259.3 L1836.5 1258.2 L1837.2 1259.7 L1837.9 1259.3 L1838.5 1258.7 L1839.2 1258.8 L1839.8 1259.0 L1840.5 1259.4 L1841.2 1259.2 L1841.8 1259.9 L1842.5 1258.9 L1843.1 1261.6 L1843.8 1260.7 L1844.5 1259.0 L1845.1 1259.7 L1845.8 1258.7 L1846.4 1259.7 L1847.1 1262.3 L1847.8 1259.3 L1848.4 1258.7 L1849.1 1259.6 L1849.7 1260.0 L1850.4 1260.7 L1851.1 1258.5 L1851.7 1258.6 L1852.4 1259.8 L1853.0 1258.7 L1853.7 1262.9 L1854.4 1256.8 L1855.0 1259.1 L1855.7 1259.0 L1856.3 1258.6 L1857.0 1260.2 L1857.7 1259.4 L1858.3 1259.5 L1859.0 1261.0 L1859.6 1260.1 L1860.3 1259.7 L1861.0 1258.9 L1861.6 1261.0 L1862.3 1258.7 L1862.9 1261.1 L1863.6 1259.2 L1864.3 1262.4 L1864.9 1260.2 L1865.6 1260.1 L1866.2 1259.9 L1866.9 1260.0 L1867.6 1261.0 L1868.2 1259.5 L1868.9 1259.5 L1869.5 1258.9 L1870.2 1260.8 L1870.9 1259.1 L1871.5 1259.2 L1872.2 1261.8 L1872.8 1258.0 L1873.5 1258.1 L1874.2 1260.0 L1874.8 1260.4 L1875.5 1261.5 L1876.1 1260.8 L1876.8 1260.4 L1877.5 1261.3 L1878.1 1258.8 L1878.8 1259.1 L1879.4 1260.4 L1880.1 1262.9 L1880.8 1260.0 L1881.4 1260.3 L1882.1 1259.9 L1882.7 1259.3 L1883.4 1258.5 L1884.1 1261.0 L1884.7 1260.7 L1885.4 1259.8 L1886.0 1260.4 L1886.7 1260.9 L1887.4 1259.6 L1888.0 1259.4 L1888.7 1258.6 L1889.3 1259.6 L1890.0 1261.4 L1890.7 1259.2 L1891.3 1259.8 L1892.0 1260.7 L1892.6 1260.4 L1893.3 1260.6 L1894.0 1260.7 L1894.6 1260.8 L1895.3 1260.0 L1895.9 1260.1 L1896.6 1261.8 L1897.3 1259.8 L1897.9 1260.5 L1898.6 1259.0 L1899.2 1260.7 L1899.9 1260.9 L1900.6 1259.9 L1901.2 1260.1 L1901.9 1259.0 L1902.5 1259.0 L1903.2 1259.8 L1903.9 1261.3 L1904.5 1258.9 L1905.2 1261.4 L1905.8 1260.4 L1906.5 1259.6 L1907.2 1258.6 L1907.8 1261.2 L1908.5 1259.9 L1909.1 1259.9 L1909.8 1260.8 L1910.5 1259.2 L1911.1 1257.9 L1911.8 1260.5 L1912.4 1257.6 L1913.1 1258.1 L1913.8 1258.8 L1914.4 1260.1 L1915.1 1258.8 L1915.7 1260.9 L1916.4 1258.1 L1917.1 1260.6 L1917.7 1260.3 L1918.4 1258.9 L1919.0 1258.5 L1919.7 1259.0 L1920.4 1258.8 L1921.0 1261.5 L1921.7 1259.7 L1922.3 1259.4 L1923.0 1261.0 L1923.7 1259.8 L1924.3 1258.9 L1925.0 1261.2 L1925.6 1260.6 L1926.3 1262.6 L1927.0 1263.3 L1927.6 1261.9 L1928.3 1261.3 L1928.9 1262.6 L1929.6 1261.8 L1930.3 1259.7 L1930.9 1261.2 L1931.6 1260.4 L1932.2 1261.2 L1932.9 1259.3 L1933.6 1263.2 L1934.2 1260.7 L1934.9 1260.9 L1935.5 1260.0 L1936.2 1261.6 L1936.9 1260.0 L1937.5 1259.1 L1938.2 1257.9 L1938.8 1261.1 L1939.5 1258.2 L1940.2 1260.7 L1940.8 1261.0 L1941.5 1258.4 L1942.1 1257.6 L1942.8 1260.1 L1943.5 1257.4 L1944.1 1258.4 L1944.8 1254.7 L1945.4 1256.1 L1946.1 1257.8 L1946.8 1258.5 L1947.4 1256.3 L1948.1 1258.0 L1948.7 1257.9 L1949.4 1256.5 L1950.1 1257.3 L1950.7 1254.6 L1951.4 1255.8 L1952.0 1257.1 L1952.7 1253.2 L1953.4 1255.3 L1954.0 1254.7 L1954.7 1253.2 L1955.3 1252.2 L1956.0 1252.0 L1956.7 1252.1 L1957.3 1252.3 L1958.0 1252.6 L1958.6 1253.0 L1959.3 1253.9 L1960.0 1252.7 L1960.6 1252.2 L1961.3 1250.7 L1961.9 1252.4 L1962.6 1251.0 L1963.3 1252.9 L1963.9 1252.8 L1964.6 1254.0 L1965.2 1252.6 L1965.9 1253.1 L1966.6 1253.3 L1967.2 1254.1 L1967.9 1253.8 L1968.5 1256.4 L1969.2 1254.6 L1969.9 1257.2 L1970.5 1254.6 L1971.2 1256.5 L1971.8 1254.9 L1972.5 1257.7 L1973.2 1257.5 L1973.8 1258.3 L1974.5 1259.5 L1975.1 1259.3 L1975.8 1258.5 L1976.5 1258.8 L1977.1 1258.0 L1977.8 1259.2 L1978.4 1256.7 L1979.1 1259.3 L1979.8 1256.8 L1980.4 1258.1 L1981.1 1259.9 L1981.7 1258.5 L1982.4 1258.7 L1983.1 1258.5 L1983.7 1259.5 L1984.4 1257.7 L1985.0 1259.4 L1985.7 1260.9 L1986.4 1259.0 L1987.0 1259.7 L1987.7 1259.9 L1988.3 1259.9 L1989.0 1259.5 L1989.7 1258.2 L1990.3 1259.4 L1991.0 1258.6 L1991.6 1260.8 L1992.3 1260.0 L1993.0 1258.9 L1993.6 1261.8 L1994.3 1258.5 L1994.9 1259.5 L1995.6 1262.4 L1996.3 1258.7 L1996.9 1258.5 L1997.6 1260.0 L1998.2 1259.8 L1998.9 1258.6 L1999.6 1262.4 L2000.2 1262.1 L2000.9 1260.6 L2001.5 1258.8 L2002.2 1259.6 L2002.9 1263.4 L2003.5 1261.3 L2004.2 1261.1 L2004.8 1259.5 L2005.5 1261.5 L2006.2 1261.9 L2006.8 1260.4 L2007.5 1259.8 L2008.1 1261.3 L2008.8 1259.1 L2009.5 1260.0 L2010.1 1262.6 L2010.8 1261.9 L2011.4 1261.4 L2012.1 1261.8 L2012.8 1259.7 L2013.4 1262.1 L2014.1 1263.0 L2014.7 1263.3 L2015.4 1261.1 L2016.1 1261.3 L2016.7 1260.4 L2017.4 1262.1 L2018.0 1262.3 L2018.7 1262.1 L2019.4 1260.8 L2020.0 1260.5 L2020.7 1263.4 L2021.3 1261.7 L2022.0 1262.4 L2022.7 1260.8 L2023.3 1259.7 L2024.0 1261.7 L2024.6 1262.0 L2025.3 1259.5 L2026.0 1259.8 L2026.6 1260.8 L2027.3 1261.7 L2027.9 1260.7 L2028.6 1260.5 L2029.3 1259.2 L2029.9 1259.4 L2030.6 1260.6 L2031.2 1260.4 L2031.9 1260.0 L2032.6 1259.8 L2033.2 1260.1 L2033.9 1258.5 L2034.5 1261.4 L2035.2 1261.3 L2035.9 1259.0 L2036.5 1258.6 L2037.2 1258.8 L2037.8 1259.5 L2038.5 1257.9 L2039.2 1259.1 L2039.8 1259.0 L2040.5 1259.2 L2041.1 1259.7 L2041.8 1258.4 L2042.5 1257.4 L2043.1 1260.3 L2043.8 1259.1 L2044.4 1257.9 L2045.1 1258.2 L2045.8 1255.9 L2046.4 1256.6 L2047.1 1257.2 L2047.7 1257.4 L2048.4 1257.4 L2049.1 1257.6 L2049.7 1256.6 L2050.4 1254.2 L2051.0 1256.8 L2051.7 1257.3 L2052.4 1255.8 L2053.0 1256.6 L2053.7 1258.0 L2054.3 1256.8 L2055.0 1257.1 L2055.7 1254.3 L2056.3 1257.4 L2057.0 1255.4 L2057.6 1258.1 L2058.3 1254.9 L2059.0 1255.6 L2059.6 1255.5 L2060.3 1257.0 L2060.9 1258.1 L2061.6 1257.4 L2062.3 1257.0 L2062.9 1257.0 L2063.6 1256.3 L2064.2 1255.9 L2064.9 1256.1 L2065.6 1257.5 L2066.2 1258.4 L2066.9 1256.5 L2067.5 1257.1 L2068.2 1255.8 L2068.9 1256.2 L2069.5 1256.5 L2070.2 1256.8 L2070.8 1257.3 L2071.5 1257.2 L2072.2 1257.2 L2072.8 1255.3 L2073.5 1255.1 L2074.1 1255.5 L2074.8 1257.0 L2075.5 1257.2 L2076.1 1257.2 L2076.8 1257.6 L2077.4 1257.9 L2078.1 1256.5 L2078.8 1256.2 L2079.4 1258.0 L2080.1 1258.6 L2080.7 1257.5 L2081.4 1255.2 L2082.1 1255.9 L2082.7 1255.4 L2083.4 1256.2 L2084.0 1254.6 L2084.7 1257.4 L2085.4 1256.9 L2086.0 1256.0 L2086.7 1257.7 L2087.3 1256.5 L2088.0 1256.7 L2088.7 1256.8 L2089.3 1256.1 L2090.0 1255.2 L2090.6 1257.0 L2091.3 1256.5 L2092.0 1254.6 L2092.6 1256.1 L2093.3 1256.3 L2093.9 1257.4 L2094.6 1257.0 L2095.3 1257.8 L2095.9 1257.5 L2096.6 1256.8 L2097.2 1255.6 L2097.9 1258.3 L2098.6 1256.4 L2099.2 1257.9 L2099.9 1258.3 L2100.5 1256.7 L2101.2 1256.6 L2101.9 1257.8 L2102.5 1257.5 L2103.2 1258.3 L2103.8 1259.0 L2104.5 1256.8 L2105.2 1257.3 L2105.8 1260.8 L2106.5 1257.9 L2107.1 1259.8 L2107.8 1258.6 L2108.5 1257.1 L2109.1 1257.9 L2109.8 1259.2 L2110.4 1257.8 L2111.1 1259.5 L2111.8 1259.3 L2112.4 1258.1 L2113.1 1258.5 L2113.7 1258.3 L2114.4 1259.2 L2115.1 1261.4 L2115.7 1259.7 L2116.4 1259.6 L2117.0 1259.8 L2117.7 1258.2 L2118.4 1258.0 L2119.0 1261.0 L2119.7 1258.6 L2120.3 1259.2 L2121.0 1260.4 L2121.7 1258.3 L2122.3 1259.6 L2123.0 1259.4 L2123.6 1258.6 L2124.3 1259.4 L2125.0 1257.1 L2125.6 1258.4 L2126.3 1261.2 L2126.9 1258.0 L2127.6 1259.3 L2128.3 1259.4 L2128.9 1260.7 L2129.6 1258.8 L2130.2 1259.8 L2130.9 1260.0 L2131.6 1259.3 L2132.2 1258.7 L2132.9 1261.9 L2133.5 1259.4 L2134.2 1259.6 L2134.9 1260.5" fill="none" stroke="#f00" stroke-width="2.2" stroke-linejoin="round" shape-rendering="crispEdges"/>
<path d="M157.5 1503.7 L158.2 1503.5 L158.8 1502.5 L159.5 1503.4 L160.1 1501.7 L160.8 1500.1 L161.5 1504.6 L162.1 1503.0 L162.8 1499.6 L163.4 1500.8 L164.1 1501.3 L164.8 1502.5 L165.4 1503.6 L166.1 1502.2 L166.7 1501.1 L167.4 1502.2 L168.1 1501.1 L168.7 1501.5 L169.4 1500.2 L170.0 1499.4 L170.7 1502.5 L171.4 1500.2 L172.0 1500.6 L172.7 1499.5 L173.3 1499.4 L174.0 1499.5 L174.7 1500.6 L175.3 1501.1 L176.0 1500.1 L176.6 1498.5 L177.3 1502.6 L178.0 1499.9 L178.6 1499.8 L179.3 1497.7 L179.9 1497.9 L180.6 1498.8 L181.3 1495.6 L181.9 1496.6 L182.6 1498.0 L183.2 1500.4 L183.9 1497.6 L184.6 1495.6 L185.2 1495.1 L185.9 1497.8 L186.5 1495.3 L187.2 1495.7 L187.9 1498.5 L188.5 1495.8 L189.2 1495.0 L189.8 1494.2 L190.5 1496.7 L191.2 1496.5 L191.8 1493.6 L192.5 1492.4 L193.1 1493.9 L193.8 1495.6 L194.5 1494.2 L195.1 1491.9 L195.8 1493.8 L196.4 1494.2 L197.1 1493.1 L197.8 1493.3 L198.4 1493.0 L199.1 1492.3 L199.7 1492.0 L200.4 1491.1 L201.1 1491.2 L201.7 1490.5 L202.4 1493.3 L203.0 1493.3 L203.7 1492.7 L204.4 1493.2 L205.0 1492.6 L205.7 1491.5 L206.3 1492.7 L207.0 1492.0 L207.7 1492.2 L208.3 1489.7 L209.0 1491.7 L209.6 1492.9 L210.3 1491.9 L211.0 1491.2 L211.6 1490.2 L212.3 1491.4 L212.9 1494.1 L213.6 1491.4 L214.3 1493.6 L214.9 1491.5 L215.6 1493.5 L216.2 1491.4 L216.9 1492.6 L217.6 1492.9 L218.2 1492.8 L218.9 1490.8 L219.5 1491.5 L220.2 1490.8 L220.9 1491.7 L221.5 1491.4 L222.2 1491.5 L222.8 1492.5 L223.5 1490.3 L224.2 1490.5 L224.8 1490.7 L225.5 1491.1 L226.1 1490.3 L226.8 1491.9 L227.5 1489.7 L228.1 1493.4 L228.8 1491.0 L229.4 1492.4 L230.1 1489.3 L230.8 1490.2 L231.4 1490.7 L232.1 1492.7 L232.7 1490.5 L233.4 1492.1 L234.1 1489.2 L234.7 1491.9 L235.4 1489.0 L236.0 1487.4 L236.7 1487.1 L237.4 1489.8 L238.0 1489.1 L238.7 1489.6 L239.3 1489.1 L240.0 1489.7 L240.7 1491.1 L241.3 1488.6 L242.0 1489.1 L242.6 1488.2 L243.3 1486.3 L244.0 1488.1 L244.6 1490.4 L245.3 1487.3 L245.9 1491.3 L246.6 1488.9 L247.3 1488.7 L247.9 1489.3 L248.6 1488.0 L249.2 1488.0 L249.9 1489.6 L250.6 1486.8 L251.2 1487.5 L251.9 1486.1 L252.5 1487.7 L253.2 1491.5 L253.9 1489.0 L254.5 1486.2 L255.2 1485.0 L255.8 1488.0 L256.5 1488.1 L257.2 1486.3 L257.8 1488.8 L258.5 1487.6 L259.1 1487.9 L259.8 1487.9 L260.5 1488.3 L261.1 1486.2 L261.8 1485.8 L262.4 1488.4 L263.1 1486.4 L263.8 1485.0 L264.4 1487.0 L265.1 1485.8 L265.7 1486.8 L266.4 1490.4 L267.1 1488.6 L267.7 1485.6 L268.4 1484.5 L269.0 1486.0 L269.7 1484.7 L270.4 1486.2 L271.0 1486.2 L271.7 1486.6 L272.3 1485.7 L273.0 1483.8 L273.7 1485.3 L274.3 1485.5 L275.0 1485.6 L275.6 1486.8 L276.3 1483.8 L277.0 1484.9 L277.6 1484.2 L278.3 1483.8 L278.9 1485.6 L279.6 1483.9 L280.3 1487.1 L280.9 1481.3 L281.6 1486.4 L282.2 1484.1 L282.9 1482.7 L283.6 1484.4 L284.2 1484.3 L284.9 1485.3 L285.5 1485.6 L286.2 1482.9 L286.9 1483.9 L287.5 1484.3 L288.2 1484.0 L288.8 1483.3 L289.5 1485.5 L290.2 1484.1 L290.8 1482.0 L291.5 1484.0 L292.1 1483.3 L292.8 1483.3 L293.5 1484.7 L294.1 1484.5 L294.8 1484.1 L295.4 1484.3 L296.1 1484.9 L296.8 1483.0 L297.4 1483.9 L298.1 1485.5 L298.7 1483.1 L299.4 1483.3 L300.1 1483.1 L300.7 1485.3 L301.4 1483.4 L302.0 1485.4 L302.7 1483.6 L303.4 1484.4 L304.0 1484.6 L304.7 1483.5 L305.3 1483.0 L306.0 1485.6 L306.7 1483.9 L307.3 1485.1 L308.0 1485.3 L308.6 1482.6 L309.3 1486.1 L310.0 1484.8 L310.6 1484.2 L311.3 1484.2 L311.9 1484.1 L312.6 1485.0 L313.3 1487.4 L313.9 1484.6 L314.6 1483.3 L315.2 1484.5 L315.9 1487.5 L316.6 1484.9 L317.2 1487.3 L317.9 1483.8 L318.5 1483.8 L319.2 1483.3 L319.9 1483.5 L320.5 1484.7 L321.2 1484.9 L321.8 1482.4 L322.5 1483.3 L323.2 1483.6 L323.8 1484.1 L324.5 1486.3 L325.1 1486.5 L325.8 1485.0 L326.5 1485.4 L327.1 1483.3 L327.8 1484.8 L328.4 1482.0 L329.1 1484.1 L329.8 1484.6 L330.4 1485.2 L331.1 1483.9 L331.7 1483.9 L332.4 1482.7 L333.1 1481.0 L333.7 1483.0 L334.4 1481.3 L335.0 1483.2 L335.7 1483.3 L336.4 1481.8 L337.0 1481.2 L337.7 1483.3 L338.3 1482.7 L339.0 1484.0 L339.7 1484.5 L340.3 1485.4 L341.0 1484.5 L341.6 1482.0 L342.3 1483.1 L343.0 1485.9 L343.6 1482.0 L344.3 1482.6 L344.9 1484.7 L345.6 1483.7 L346.3 1482.1 L346.9 1483.3 L347.6 1482.0 L348.2 1483.9 L348.9 1482.5 L349.6 1482.6 L350.2 1482.7 L350.9 1479.8 L351.5 1482.1 L352.2 1482.8 L352.9 1482.3 L353.5 1481.4 L354.2 1481.9 L354.8 1483.8 L355.5 1482.7 L356.2 1480.8 L356.8 1482.9 L357.5 1481.8 L358.1 1480.7 L358.8 1478.8 L359.5 1481.8 L360.1 1479.4 L360.8 1481.2 L361.4 1482.0 L362.1 1481.3 L362.8 1478.6 L363.4 1478.8 L364.1 1480.6 L364.7 1480.7 L365.4 1478.7 L366.1 1477.8 L366.7 1479.7 L367.4 1479.0 L368.0 1476.8 L368.7 1476.0 L369.4 1477.5 L370.0 1475.5 L370.7 1477.9 L371.3 1478.5 L372.0 1480.5 L372.7 1480.2 L373.3 1477.8 L374.0 1483.1 L374.6 1481.8 L375.3 1478.6 L376.0 1479.2 L376.6 1482.1 L377.3 1479.5 L377.9 1482.3 L378.6 1479.8 L379.3 1479.1 L379.9 1483.3 L380.6 1483.5 L381.2 1480.8 L381.9 1483.4 L382.6 1481.7 L383.2 1481.9 L383.9 1481.0 L384.5 1482.1 L385.2 1483.2 L385.9 1483.2 L386.5 1484.1 L387.2 1483.7 L387.8 1482.2 L388.5 1480.7 L389.2 1482.5 L389.8 1482.3 L390.5 1480.9 L391.1 1479.9 L391.8 1480.4 L392.5 1479.4 L393.1 1480.3 L393.8 1481.7 L394.4 1483.1 L395.1 1481.6 L395.8 1480.7 L396.4 1480.8 L397.1 1481.2 L397.7 1483.0 L398.4 1481.6 L399.1 1479.1 L399.7 1481.4 L400.4 1479.1 L401.0 1480.3 L401.7 1481.2 L402.4 1479.7 L403.0 1480.4 L403.7 1481.9 L404.3 1478.9 L405.0 1481.0 L405.7 1480.4 L406.3 1479.8 L407.0 1477.4 L407.6 1479.5 L408.3 1478.1 L409.0 1478.1 L409.6 1476.7 L410.3 1477.8 L410.9 1473.8 L411.6 1475.5 L412.3 1475.1 L412.9 1476.6 L413.6 1469.6 L414.2 1468.6 L414.9 1468.3 L415.6 1467.4 L416.2 1464.5 L416.9 1465.0 L417.5 1462.4 L418.2 1461.7 L418.9 1458.9 L419.5 1460.6 L420.2 1460.0 L420.8 1461.9 L421.5 1461.3 L422.2 1462.6 L422.8 1461.7 L423.5 1461.0 L424.1 1463.6 L424.8 1461.5 L425.5 1462.5 L426.1 1464.4 L426.8 1467.1 L427.4 1468.6 L428.1 1466.4 L428.8 1469.8 L429.4 1473.5 L430.1 1473.1 L430.7 1473.1 L431.4 1476.5 L432.1 1479.0 L432.7 1476.9 L433.4 1477.1 L434.0 1480.8 L434.7 1479.2 L435.4 1477.0 L436.0 1479.8 L436.7 1480.5 L437.3 1478.6 L438.0 1479.4 L438.7 1480.4 L439.3 1479.9 L440.0 1481.6 L440.6 1481.4 L441.3 1481.0 L442.0 1481.9 L442.6 1479.6 L443.3 1479.0 L443.9 1478.3 L444.6 1479.4 L445.3 1478.7 L445.9 1479.8 L446.6 1481.4 L447.2 1482.1 L447.9 1481.1 L448.6 1481.0 L449.2 1480.5 L449.9 1480.8 L450.5 1479.4 L451.2 1479.1 L451.9 1478.3 L452.5 1479.4 L453.2 1480.1 L453.8 1479.3 L454.5 1479.6 L455.2 1481.7 L455.8 1479.7 L456.5 1479.7 L457.1 1478.8 L457.8 1479.3 L458.5 1477.0 L459.1 1478.8 L459.8 1478.8 L460.4 1478.8 L461.1 1475.5 L461.8 1476.8 L462.4 1478.6 L463.1 1477.5 L463.7 1474.5 L464.4 1474.9 L465.1 1474.2 L465.7 1475.8 L466.4 1476.1 L467.0 1474.3 L467.7 1472.2 L468.4 1474.2 L469.0 1470.9 L469.7 1474.2 L470.3 1470.9 L471.0 1470.0 L471.7 1468.9 L472.3 1469.2 L473.0 1468.2 L473.6 1467.5 L474.3 1465.5 L475.0 1464.2 L475.6 1464.3 L476.3 1463.3 L476.9 1460.5 L477.6 1459.4 L478.3 1458.2 L478.9 1455.1 L479.6 1452.6 L480.2 1449.5 L480.9 1448.3 L481.6 1448.6 L482.2 1443.2 L482.9 1440.1 L483.5 1439.0 L484.2 1437.2 L484.9 1435.1 L485.5 1430.8 L486.2 1429.5 L486.8 1425.3 L487.5 1422.5 L488.2 1420.4 L488.8 1417.8 L489.5 1417.6 L490.1 1419.4 L490.8 1417.6 L491.5 1419.3 L492.1 1421.5 L492.8 1422.4 L493.4 1423.9 L494.1 1423.8 L494.8 1425.4 L495.4 1428.7 L496.1 1430.2 L496.7 1430.7 L497.4 1434.9 L498.1 1437.4 L498.7 1440.7 L499.4 1440.6 L500.0 1442.4 L500.7 1443.7 L501.4 1447.2 L502.0 1448.8 L502.7 1454.3 L503.3 1453.6 L504.0 1459.3 L504.7 1462.3 L505.3 1466.0 L506.0 1471.0 L506.6 1471.1 L507.3 1472.8 L508.0 1472.0 L508.6 1471.2 L509.3 1470.7 L509.9 1470.5 L510.6 1471.3 L511.3 1471.8 L511.9 1470.5 L512.6 1470.7 L513.2 1472.1 L513.9 1470.6 L514.6 1471.6 L515.2 1471.4 L515.9 1470.8 L516.5 1473.5 L517.2 1473.0 L517.9 1471.8 L518.5 1470.0 L519.2 1471.2 L519.8 1469.6 L520.5 1468.3 L521.2 1466.9 L521.8 1464.5 L522.5 1466.5 L523.1 1463.0 L523.8 1460.8 L524.5 1460.6 L525.1 1459.4 L525.8 1459.0 L526.4 1459.1 L527.1 1461.1 L527.8 1462.5 L528.4 1463.4 L529.1 1462.6 L529.7 1463.4 L530.4 1461.6 L531.1 1462.0 L531.7 1464.7 L532.4 1467.1 L533.0 1468.4 L533.7 1467.2 L534.4 1466.5 L535.0 1468.3 L535.7 1469.1 L536.3 1468.7 L537.0 1470.4 L537.7 1472.5 L538.3 1471.3 L539.0 1472.6 L539.6 1475.6 L540.3 1474.3 L541.0 1474.6 L541.6 1473.5 L542.3 1475.2 L542.9 1472.2 L543.6 1475.8 L544.3 1474.0 L544.9 1472.9 L545.6 1473.1 L546.2 1473.6 L546.9 1470.8 L547.6 1473.2 L548.2 1473.4 L548.9 1471.6 L549.5 1473.6 L550.2 1474.5 L550.9 1471.0 L551.5 1471.9 L552.2 1473.5 L552.8 1475.4 L553.5 1472.1 L554.2 1472.9 L554.8 1471.8 L555.5 1472.7 L556.1 1473.1 L556.8 1471.7 L557.5 1473.1 L558.1 1476.3 L558.8 1474.1 L559.4 1471.9 L560.1 1472.1 L560.8 1469.9 L561.4 1471.2 L562.1 1470.7 L562.7 1470.0 L563.4 1468.5 L564.1 1472.8 L564.7 1471.4 L565.4 1469.2 L566.0 1471.6 L566.7 1471.5 L567.4 1468.8 L568.0 1472.0 L568.7 1467.5 L569.3 1471.4 L570.0 1469.0 L570.7 1470.9 L571.3 1468.3 L572.0 1471.4 L572.6 1473.3 L573.3 1474.3 L574.0 1473.7 L574.6 1474.6 L575.3 1474.0 L575.9 1475.0 L576.6 1476.1 L577.3 1474.6 L577.9 1476.6 L578.6 1475.7 L579.2 1476.6 L579.9 1476.9 L580.6 1475.4 L581.2 1474.2 L581.9 1475.8 L582.5 1474.1 L583.2 1474.5 L583.9 1474.4 L584.5 1472.4 L585.2 1474.1 L585.8 1470.7 L586.5 1470.7 L587.2 1470.2 L587.8 1468.0 L588.5 1465.9 L589.1 1465.9 L589.8 1462.0 L590.5 1460.9 L591.1 1460.7 L591.8 1456.5 L592.4 1457.5 L593.1 1458.4 L593.8 1457.4 L594.4 1455.4 L595.1 1456.3 L595.7 1455.9 L596.4 1454.8 L597.1 1455.9 L597.7 1452.7 L598.4 1454.9 L599.0 1453.9 L599.7 1453.9 L600.4 1452.0 L601.0 1457.7 L601.7 1452.0 L602.3 1455.9 L603.0 1456.0 L603.7 1459.2 L604.3 1456.7 L605.0 1457.7 L605.6 1458.7 L606.3 1459.9 L607.0 1461.0 L607.6 1461.0 L608.3 1458.0 L608.9 1460.6 L609.6 1463.0 L610.3 1463.6 L610.9 1464.8 L611.6 1463.2 L612.2 1464.3 L612.9 1465.2 L613.6 1466.5 L614.2 1467.2 L614.9 1465.9 L615.5 1467.6 L616.2 1466.2 L616.9 1466.7 L617.5 1464.1 L618.2 1464.5 L618.8 1467.6 L619.5 1465.2 L620.2 1467.9 L620.8 1467.4 L621.5 1464.1 L622.1 1465.6 L622.8 1466.0 L623.5 1465.3 L624.1 1463.0 L624.8 1466.1 L625.4 1465.5 L626.1 1464.0 L626.8 1465.5 L627.4 1465.5 L628.1 1469.1 L628.7 1467.3 L629.4 1466.0 L630.1 1467.3 L630.7 1465.4 L631.4 1469.1 L632.0 1468.6 L632.7 1470.7 L633.4 1469.5 L634.0 1471.8 L634.7 1472.2 L635.3 1469.2 L636.0 1470.6 L636.7 1471.4 L637.3 1471.3 L638.0 1470.5 L638.6 1471.5 L639.3 1471.5 L640.0 1472.8 L640.6 1471.4 L641.3 1471.9 L641.9 1473.2 L642.6 1472.2 L643.3 1470.6 L643.9 1469.7 L644.6 1471.0 L645.2 1469.3 L645.9 1471.0 L646.6 1469.5 L647.2 1467.5 L647.9 1470.1 L648.5 1467.7 L649.2 1469.2 L649.9 1468.4 L650.5 1468.2 L651.2 1464.4 L651.8 1465.1 L652.5 1464.6 L653.2 1467.2 L653.8 1464.6 L654.5 1464.0 L655.1 1465.4 L655.8 1464.0 L656.5 1464.6 L657.1 1464.5 L657.8 1466.6 L658.4 1464.1 L659.1 1465.6 L659.8 1470.2 L660.4 1470.9 L661.1 1470.6 L661.7 1470.4 L662.4 1473.5 L663.1 1473.3 L663.7 1471.2 L664.4 1473.7 L665.0 1475.0 L665.7 1474.0 L666.4 1472.7 L667.0 1475.3 L667.7 1476.8 L668.3 1477.6 L669.0 1476.5 L669.7 1478.1 L670.3 1478.0 L671.0 1479.1 L671.6 1477.0 L672.3 1477.8 L673.0 1479.6 L673.6 1480.1 L674.3 1478.8 L674.9 1479.4 L675.6 1478.7 L676.3 1477.1 L676.9 1479.7 L677.6 1476.2 L678.2 1475.5 L678.9 1476.4 L679.6 1476.7 L680.2 1475.5 L680.9 1473.5 L681.5 1472.2 L682.2 1474.0 L682.9 1473.0 L683.5 1470.9 L684.2 1470.4 L684.8 1471.8 L685.5 1470.2 L686.2 1464.7 L686.8 1465.7 L687.5 1467.0 L688.1 1463.4 L688.8 1460.3 L689.5 1460.5 L690.1 1462.5 L690.8 1459.2 L691.4 1460.9 L692.1 1458.3 L692.8 1461.1 L693.4 1459.9 L694.1 1461.3 L694.7 1461.9 L695.4 1462.2 L696.1 1460.4 L696.7 1466.4 L697.4 1467.6 L698.0 1468.4 L698.7 1470.0 L699.4 1468.9 L700.0 1471.3 L700.7 1469.1 L701.3 1469.4 L702.0 1471.7 L702.7 1468.8 L703.3 1472.1 L704.0 1470.7 L704.6 1470.7 L705.3 1469.2 L706.0 1470.1 L706.6 1470.2 L707.3 1467.0 L707.9 1467.1 L708.6 1468.3 L709.3 1465.4 L709.9 1467.3 L710.6 1464.7 L711.2 1465.0 L711.9 1465.9 L712.6 1465.7 L713.2 1463.0 L713.9 1466.3 L714.5 1463.0 L715.2 1461.3 L715.9 1460.0 L716.5 1454.9 L717.2 1453.0 L717.8 1446.7 L718.5 1444.4 L719.2 1444.7 L719.8 1449.2 L720.5 1452.9 L721.1 1456.4 L721.8 1459.0 L722.5 1461.8 L723.1 1462.2 L723.8 1463.9 L724.4 1471.0 L725.1 1472.5 L725.8 1470.7 L726.4 1473.2 L727.1 1473.9 L727.7 1477.7 L728.4 1477.4 L729.1 1473.5 L729.7 1476.8 L730.4 1476.3 L731.0 1477.9 L731.7 1477.1 L732.4 1478.3 L733.0 1477.2 L733.7 1479.9 L734.3 1478.1 L735.0 1480.3 L735.7 1477.3 L736.3 1479.8 L737.0 1480.0 L737.6 1479.5 L738.3 1478.9 L739.0 1477.9 L739.6 1478.7 L740.3 1478.0 L740.9 1480.6 L741.6 1480.0 L742.3 1480.4 L742.9 1480.8 L743.6 1478.2 L744.2 1478.9 L744.9 1479.1 L745.6 1478.8 L746.2 1478.7 L746.9 1478.4 L747.5 1479.5 L748.2 1483.0 L748.9 1481.0 L749.5 1481.1 L750.2 1481.2 L750.8 1479.5 L751.5 1481.6 L752.2 1481.1 L752.8 1481.7 L753.5 1481.0 L754.1 1484.4 L754.8 1480.0 L755.5 1481.7 L756.1 1481.2 L756.8 1481.5 L757.4 1483.6 L758.1 1483.4 L758.8 1481.4 L759.4 1478.6 L760.1 1480.4 L760.7 1478.2 L761.4 1474.9 L762.1 1477.3 L762.7 1475.4 L763.4 1475.0 L764.0 1475.5 L764.7 1475.7 L765.4 1471.6 L766.0 1472.9 L766.7 1472.5 L767.3 1471.7 L768.0 1470.7 L768.7 1472.1 L769.3 1468.6 L770.0 1468.8 L770.6 1471.0 L771.3 1468.1 L772.0 1468.7 L772.6 1469.6 L773.3 1465.8 L773.9 1464.0 L774.6 1461.9 L775.3 1464.9 L775.9 1464.5 L776.6 1463.4 L777.2 1464.6 L777.9 1465.4 L778.6 1463.9 L779.2 1462.6 L779.9 1461.3 L780.5 1463.5 L781.2 1464.1 L781.9 1465.7 L782.5 1462.8 L783.2 1463.4 L783.8 1462.1 L784.5 1464.7 L785.2 1467.2 L785.8 1467.9 L786.5 1466.6 L787.1 1465.6 L787.8 1467.9 L788.5 1466.4 L789.1 1466.9 L789.8 1471.3 L790.4 1466.9 L791.1 1468.2 L791.8 1468.0 L792.4 1469.3 L793.1 1467.2 L793.7 1467.9 L794.4 1469.9 L795.1 1467.5 L795.7 1467.4 L796.4 1467.4 L797.0 1466.4 L797.7 1465.9 L798.4 1469.3 L799.0 1467.1 L799.7 1467.8 L800.3 1470.2 L801.0 1469.5 L801.7 1467.6 L802.3 1470.4 L803.0 1470.0 L803.6 1469.8 L804.3 1474.1 L805.0 1471.9 L805.6 1473.1 L806.3 1474.9 L806.9 1475.8 L807.6 1476.8 L808.3 1477.1 L808.9 1478.0 L809.6 1479.6 L810.2 1479.0 L810.9 1479.7 L811.6 1481.2 L812.2 1481.3 L812.9 1480.2 L813.5 1479.9 L814.2 1482.9 L814.9 1479.0 L815.5 1481.6 L816.2 1481.7 L816.8 1479.5 L817.5 1479.9 L818.2 1483.7 L818.8 1482.6 L819.5 1481.4 L820.1 1481.8 L820.8 1482.5 L821.5 1480.3 L822.1 1483.5 L822.8 1479.5 L823.4 1482.4 L824.1 1481.3 L824.8 1481.2 L825.4 1482.8 L826.1 1481.2 L826.7 1483.5 L827.4 1483.1 L828.1 1482.8 L828.7 1481.0 L829.4 1478.4 L830.0 1479.5 L830.7 1475.6 L831.4 1480.0 L832.0 1477.7 L832.7 1476.6 L833.3 1472.7 L834.0 1476.8 L834.7 1475.0 L835.3 1475.2 L836.0 1474.2 L836.6 1471.9 L837.3 1475.6 L838.0 1477.2 L838.6 1476.5 L839.3 1478.9 L839.9 1480.0 L840.6 1478.6 L841.3 1480.8 L841.9 1479.1 L842.6 1479.6 L843.2 1479.8 L843.9 1480.6 L844.6 1482.8 L845.2 1481.0 L845.9 1480.5 L846.5 1481.9 L847.2 1479.7 L847.9 1480.4 L848.5 1483.2 L849.2 1483.9 L849.8 1484.1 L850.5 1481.0 L851.2 1482.4 L851.8 1482.5 L852.5 1483.8 L853.1 1483.3 L853.8 1481.7 L854.5 1480.3 L855.1 1482.4 L855.8 1480.9 L856.4 1484.8 L857.1 1483.0 L857.8 1485.3 L858.4 1483.8 L859.1 1481.8 L859.7 1481.6 L860.4 1479.4 L861.1 1483.1 L861.7 1485.2 L862.4 1481.8 L863.0 1482.3 L863.7 1481.2 L864.4 1481.6 L865.0 1483.5 L865.7 1484.1 L866.3 1481.3 L867.0 1482.6 L867.7 1479.1 L868.3 1481.3 L869.0 1482.1 L869.6 1484.1 L870.3 1482.2 L871.0 1485.0 L871.6 1482.3 L872.3 1482.2 L872.9 1482.2 L873.6 1482.2 L874.3 1480.2 L874.9 1482.2 L875.6 1482.8 L876.2 1484.1 L876.9 1483.2 L877.6 1481.9 L878.2 1483.8 L878.9 1480.0 L879.5 1481.9 L880.2 1483.2 L880.9 1482.3 L881.5 1482.3 L882.2 1480.8 L882.8 1480.0 L883.5 1481.9 L884.2 1483.3 L884.8 1481.1 L885.5 1481.9 L886.1 1482.6 L886.8 1479.7 L887.5 1482.3 L888.1 1480.9 L888.8 1479.6 L889.4 1481.2 L890.1 1481.0 L890.8 1479.1 L891.4 1480.3 L892.1 1478.7 L892.7 1480.1 L893.4 1477.7 L894.1 1477.2 L894.7 1476.7 L895.4 1474.3 L896.0 1475.0 L896.7 1472.6 L897.4 1473.6 L898.0 1470.3 L898.7 1468.1 L899.3 1465.0 L900.0 1461.9 L900.7 1457.7 L901.3 1451.2 L902.0 1447.3 L902.6 1442.7 L903.3 1435.4 L904.0 1432.1 L904.6 1426.0 L905.3 1419.1 L905.9 1412.2 L906.6 1410.4 L907.3 1409.3 L907.9 1409.5 L908.6 1411.5 L909.2 1417.6 L909.9 1418.4 L910.6 1422.0 L911.2 1425.9 L911.9 1434.5 L912.5 1442.6 L913.2 1449.5 L913.9 1456.4 L914.5 1458.3 L915.2 1463.7 L915.8 1466.5 L916.5 1469.6 L917.2 1471.0 L917.8 1473.2 L918.5 1475.8 L919.1 1476.7 L919.8 1475.5 L920.5 1477.5 L921.1 1481.0 L921.8 1478.5 L922.4 1479.2 L923.1 1479.3 L923.8 1479.4 L924.4 1479.5 L925.1 1478.9 L925.7 1480.3 L926.4 1479.7 L927.1 1480.0 L927.7 1481.5 L928.4 1479.7 L929.0 1479.7 L929.7 1479.6 L930.4 1478.3 L931.0 1481.7 L931.7 1480.7 L932.3 1479.1 L933.0 1482.0 L933.7 1480.9 L934.3 1480.0 L935.0 1482.0 L935.6 1479.7 L936.3 1481.8 L937.0 1480.9 L937.6 1482.0 L938.3 1481.1 L938.9 1481.1 L939.6 1480.6 L940.3 1481.4 L940.9 1481.7 L941.6 1480.6 L942.2 1480.3 L942.9 1482.1 L943.6 1479.5 L944.2 1478.9 L944.9 1480.1 L945.5 1480.2 L946.2 1483.6 L946.9 1481.0 L947.5 1482.1 L948.2 1482.6 L948.8 1481.8 L949.5 1482.5 L950.2 1479.4 L950.8 1480.1 L951.5 1482.0 L952.1 1480.6 L952.8 1481.2 L953.5 1477.3 L954.1 1478.3 L954.8 1478.2 L955.4 1479.7 L956.1 1478.6 L956.8 1480.7 L957.4 1481.0 L958.1 1481.8 L958.7 1476.6 L959.4 1476.9 L960.1 1478.3 L960.7 1479.2 L961.4 1479.5 L962.0 1479.0 L962.7 1477.4 L963.4 1478.4 L964.0 1476.6 L964.7 1478.8 L965.3 1475.4 L966.0 1478.1 L966.7 1474.8 L967.3 1475.6 L968.0 1474.5 L968.6 1474.4 L969.3 1475.5 L970.0 1474.8 L970.6 1476.5 L971.3 1477.2 L971.9 1476.0 L972.6 1474.6 L973.3 1476.0 L973.9 1476.3 L974.6 1477.5 L975.2 1472.9 L975.9 1477.8 L976.6 1476.7 L977.2 1477.5 L977.9 1479.3 L978.5 1479.2 L979.2 1476.9 L979.9 1477.8 L980.5 1478.6 L981.2 1479.0 L981.8 1478.9 L982.5 1481.3 L983.2 1480.5 L983.8 1481.5 L984.5 1477.6 L985.1 1480.2 L985.8 1481.6 L986.5 1477.1 L987.1 1479.6 L987.8 1479.0 L988.4 1479.0 L989.1 1479.5 L989.8 1477.7 L990.4 1479.0 L991.1 1478.3 L991.7 1480.2 L992.4 1480.8 L993.1 1481.5 L993.7 1478.1 L994.4 1479.8 L995.0 1480.1 L995.7 1478.9 L996.4 1481.1 L997.0 1480.2 L997.7 1479.4 L998.3 1481.4 L999.0 1480.4 L999.7 1482.9 L1000.3 1479.0 L1001.0 1480.2 L1001.6 1480.3 L1002.3 1481.7 L1003.0 1478.9 L1003.6 1482.3 L1004.3 1477.8 L1004.9 1480.5 L1005.6 1481.0 L1006.3 1482.2 L1006.9 1480.1 L1007.6 1482.2 L1008.2 1479.4 L1008.9 1481.1 L1009.6 1480.3 L1010.2 1481.2 L1010.9 1478.6 L1011.5 1481.2 L1012.2 1481.0 L1012.9 1479.9 L1013.5 1482.0 L1014.2 1478.7 L1014.8 1482.2 L1015.5 1481.3 L1016.2 1482.9 L1016.8 1482.9 L1017.5 1480.0 L1018.1 1481.0 L1018.8 1479.7 L1019.5 1477.6 L1020.1 1481.7 L1020.8 1482.4 L1021.4 1480.3 L1022.1 1482.5 L1022.8 1479.9 L1023.4 1481.0 L1024.1 1479.2 L1024.7 1479.2 L1025.4 1478.9 L1026.1 1480.5 L1026.7 1480.9 L1027.4 1478.3 L1028.0 1481.1 L1028.7 1479.9 L1029.4 1480.1 L1030.0 1479.1 L1030.7 1478.1 L1031.3 1481.7 L1032.0 1480.2 L1032.7 1480.5 L1033.3 1481.3 L1034.0 1481.1 L1034.6 1481.3 L1035.3 1482.1 L1036.0 1482.6 L1036.6 1481.3 L1037.3 1481.8 L1037.9 1483.5 L1038.6 1480.4 L1039.3 1482.6 L1039.9 1478.9 L1040.6 1481.0 L1041.2 1478.9 L1041.9 1479.9 L1042.6 1480.9 L1043.2 1481.5 L1043.9 1480.6 L1044.5 1482.0 L1045.2 1481.5 L1045.9 1482.3 L1046.5 1478.4 L1047.2 1482.7 L1047.8 1480.7 L1048.5 1479.5 L1049.2 1481.2 L1049.8 1482.6 L1050.5 1480.9 L1051.1 1478.9 L1051.8 1483.8 L1052.5 1480.8 L1053.1 1482.2 L1053.8 1480.1 L1054.4 1480.5 L1055.1 1481.2 L1055.8 1482.6 L1056.4 1479.7 L1057.1 1480.3 L1057.7 1479.6 L1058.4 1478.4 L1059.1 1482.6 L1059.7 1480.9 L1060.4 1478.9 L1061.0 1477.9 L1061.7 1476.7 L1062.4 1479.6 L1063.0 1478.8 L1063.7 1479.4 L1064.3 1480.8 L1065.0 1480.4 L1065.7 1478.5 L1066.3 1476.9 L1067.0 1477.3 L1067.6 1479.0 L1068.3 1477.5 L1069.0 1477.5 L1069.6 1480.5 L1070.3 1480.2 L1070.9 1478.3 L1071.6 1479.2 L1072.3 1480.1 L1072.9 1478.4 L1073.6 1479.6 L1074.2 1478.2 L1074.9 1479.5 L1075.6 1476.4 L1076.2 1477.4 L1076.9 1480.5 L1077.5 1479.9 L1078.2 1476.1 L1078.9 1479.6 L1079.5 1478.5 L1080.2 1478.8 L1080.8 1478.0 L1081.5 1481.0 L1082.2 1477.1 L1082.8 1479.1 L1083.5 1479.5 L1084.1 1476.3 L1084.8 1478.1 L1085.5 1479.6 L1086.1 1476.5 L1086.8 1477.3 L1087.4 1478.2 L1088.1 1479.6 L1088.8 1478.7 L1089.4 1476.0 L1090.1 1476.6 L1090.7 1476.0 L1091.4 1479.9 L1092.1 1476.6 L1092.7 1477.1 L1093.4 1478.2 L1094.0 1478.3 L1094.7 1478.1 L1095.4 1479.3 L1096.0 1478.3 L1096.7 1476.5 L1097.3 1477.5 L1098.0 1478.4 L1098.7 1477.6 L1099.3 1477.7 L1100.0 1477.8 L1100.6 1475.9 L1101.3 1477.2 L1102.0 1474.4 L1102.6 1476.8 L1103.3 1477.8 L1103.9 1474.3 L1104.6 1475.6 L1105.3 1474.6 L1105.9 1476.1 L1106.6 1478.2 L1107.2 1476.2 L1107.9 1475.4 L1108.6 1476.0 L1109.2 1475.2 L1109.9 1476.1 L1110.5 1475.4 L1111.2 1472.4 L1111.9 1471.8 L1112.5 1470.3 L1113.2 1471.7 L1113.8 1468.4 L1114.5 1470.5 L1115.2 1469.1 L1115.8 1466.5 L1116.5 1469.2 L1117.1 1470.1 L1117.8 1469.1 L1118.5 1467.0 L1119.1 1468.7 L1119.8 1471.2 L1120.4 1472.0 L1121.1 1467.4 L1121.8 1468.2 L1122.4 1468.2 L1123.1 1469.5 L1123.7 1470.3 L1124.4 1468.3 L1125.1 1468.4 L1125.7 1467.1 L1126.4 1466.5 L1127.0 1468.9 L1127.7 1466.5 L1128.4 1468.0 L1129.0 1469.6 L1129.7 1470.8 L1130.3 1467.9 L1131.0 1470.4 L1131.7 1470.0 L1132.3 1469.9 L1133.0 1469.0 L1133.6 1469.8 L1134.3 1470.2 L1135.0 1467.1 L1135.6 1466.1 L1136.3 1466.2 L1136.9 1464.3 L1137.6 1464.4 L1138.3 1465.3 L1138.9 1464.5 L1139.6 1462.5 L1140.2 1460.4 L1140.9 1462.1 L1141.6 1460.5 L1142.2 1459.2 L1142.9 1458.0 L1143.5 1457.4 L1144.2 1455.0 L1144.9 1450.8 L1145.5 1446.5 L1146.2 1449.2 L1146.8 1448.2 L1147.5 1445.9 L1148.2 1445.2 L1148.8 1445.5 L1149.5 1443.8 L1150.1 1443.3 L1150.8 1444.0 L1151.5 1442.8 L1152.1 1441.5 L1152.8 1442.4 L1153.4 1441.2 L1154.1 1441.0 L1154.8 1439.8 L1155.4 1439.8 L1156.1 1436.9 L1156.7 1438.5 L1157.4 1440.5 L1158.1 1441.2 L1158.7 1440.1 L1159.4 1436.8 L1160.0 1435.0 L1160.7 1437.8 L1161.4 1438.1 L1162.0 1438.9 L1162.7 1438.0 L1163.3 1436.4 L1164.0 1437.8 L1164.7 1436.3 L1165.3 1436.4 L1166.0 1434.4 L1166.6 1436.9 L1167.3 1438.3 L1168.0 1435.9 L1168.6 1437.9 L1169.3 1436.2 L1169.9 1440.3 L1170.6 1440.0 L1171.3 1440.1 L1171.9 1442.8 L1172.6 1443.1 L1173.2 1442.7 L1173.9 1445.3 L1174.6 1444.7 L1175.2 1448.3 L1175.9 1448.8 L1176.5 1447.9 L1177.2 1449.1 L1177.9 1450.6 L1178.5 1452.4 L1179.2 1454.1 L1179.8 1458.6 L1180.5 1458.2 L1181.2 1457.3 L1181.8 1461.5 L1182.5 1462.8 L1183.1 1465.4 L1183.8 1464.8 L1184.5 1464.4 L1185.1 1467.0 L1185.8 1468.0 L1186.4 1466.3 L1187.1 1468.4 L1187.8 1468.2 L1188.4 1470.2 L1189.1 1470.5 L1189.7 1472.2 L1190.4 1470.8 L1191.1 1471.0 L1191.7 1471.7 L1192.4 1474.1 L1193.0 1477.8 L1193.7 1476.4 L1194.4 1476.4 L1195.0 1475.3 L1195.7 1475.8 L1196.3 1476.0 L1197.0 1478.5 L1197.7 1479.6 L1198.3 1479.1 L1199.0 1477.7 L1199.6 1476.3 L1200.3 1476.2 L1201.0 1477.6 L1201.6 1478.1 L1202.3 1478.3 L1202.9 1477.3 L1203.6 1478.2 L1204.3 1474.7 L1204.9 1479.1 L1205.6 1481.0 L1206.2 1479.1 L1206.9 1480.4 L1207.6 1479.7 L1208.2 1477.4 L1208.9 1475.4 L1209.5 1478.9 L1210.2 1479.2 L1210.9 1477.9 L1211.5 1477.8 L1212.2 1480.1 L1212.8 1479.4 L1213.5 1476.8 L1214.2 1475.5 L1214.8 1480.4 L1215.5 1478.6 L1216.1 1479.9 L1216.8 1478.7 L1217.5 1477.5 L1218.1 1478.8 L1218.8 1478.3 L1219.4 1477.5 L1220.1 1477.7 L1220.8 1477.5 L1221.4 1480.1 L1222.1 1479.0 L1222.7 1479.2 L1223.4 1477.6 L1224.1 1479.0 L1224.7 1479.3 L1225.4 1480.6 L1226.0 1479.2 L1226.7 1479.6 L1227.4 1478.5 L1228.0 1479.8 L1228.7 1477.2 L1229.3 1476.5 L1230.0 1477.4 L1230.7 1478.7 L1231.3 1480.2 L1232.0 1479.9 L1232.6 1477.2 L1233.3 1479.1 L1234.0 1478.0 L1234.6 1477.2 L1235.3 1478.0 L1235.9 1476.9 L1236.6 1479.0 L1237.3 1478.3 L1237.9 1477.5 L1238.6 1478.1 L1239.2 1478.4 L1239.9 1477.9 L1240.6 1477.9 L1241.2 1477.6 L1241.9 1479.4 L1242.5 1476.9 L1243.2 1476.4 L1243.9 1478.6 L1244.5 1480.3 L1245.2 1480.5 L1245.8 1480.3 L1246.5 1476.4 L1247.2 1477.3 L1247.8 1478.0 L1248.5 1477.8 L1249.1 1476.2 L1249.8 1476.3 L1250.5 1478.4 L1251.1 1477.4 L1251.8 1476.2 L1252.4 1477.2 L1253.1 1478.1 L1253.8 1475.5 L1254.4 1478.5 L1255.1 1474.8 L1255.7 1474.8 L1256.4 1476.3 L1257.1 1476.8 L1257.7 1472.8 L1258.4 1474.6 L1259.0 1476.3 L1259.7 1476.0 L1260.4 1474.6 L1261.0 1473.3 L1261.7 1474.2 L1262.3 1472.9 L1263.0 1475.0 L1263.7 1474.0 L1264.3 1471.2 L1265.0 1472.8 L1265.6 1470.9 L1266.3 1471.4 L1267.0 1472.8 L1267.6 1469.7 L1268.3 1467.0 L1268.9 1469.1 L1269.6 1471.1 L1270.3 1470.0 L1270.9 1468.0 L1271.6 1470.5 L1272.2 1467.7 L1272.9 1466.6 L1273.6 1470.8 L1274.2 1468.0 L1274.9 1468.2 L1275.5 1467.2 L1276.2 1468.8 L1276.9 1470.2 L1277.5 1472.5 L1278.2 1471.9 L1278.8 1472.5 L1279.5 1472.8 L1280.2 1470.6 L1280.8 1472.4 L1281.5 1471.7 L1282.1 1471.6 L1282.8 1471.9 L1283.5 1473.4 L1284.1 1473.9 L1284.8 1472.9 L1285.4 1473.7 L1286.1 1474.8 L1286.8 1474.3 L1287.4 1471.2 L1288.1 1474.7 L1288.7 1473.3 L1289.4 1472.5 L1290.1 1473.2 L1290.7 1472.3 L1291.4 1469.5 L1292.0 1472.4 L1292.7 1473.5 L1293.4 1472.6 L1294.0 1472.6 L1294.7 1472.3 L1295.3 1473.2 L1296.0 1471.4 L1296.7 1472.5 L1297.3 1472.6 L1298.0 1473.4 L1298.6 1471.9 L1299.3 1473.1 L1300.0 1472.3 L1300.6 1474.7 L1301.3 1473.1 L1301.9 1472.2 L1302.6 1470.0 L1303.3 1473.6 L1303.9 1470.1 L1304.6 1470.4 L1305.2 1469.7 L1305.9 1469.4 L1306.6 1469.1 L1307.2 1467.3 L1307.9 1467.1 L1308.5 1467.0 L1309.2 1466.3 L1309.9 1466.7 L1310.5 1466.1 L1311.2 1467.1 L1311.8 1468.3 L1312.5 1468.0 L1313.2 1466.8 L1313.8 1464.8 L1314.5 1465.3 L1315.1 1465.7 L1315.8 1464.6 L1316.5 1466.6 L1317.1 1466.1 L1317.8 1465.0 L1318.4 1463.4 L1319.1 1462.5 L1319.8 1464.2 L1320.4 1465.4 L1321.1 1463.1 L1321.7 1463.9 L1322.4 1463.4 L1323.1 1466.5 L1323.7 1465.2 L1324.4 1463.5 L1325.0 1465.5 L1325.7 1465.3 L1326.4 1466.1 L1327.0 1463.6 L1327.7 1467.3 L1328.3 1464.8 L1329.0 1468.0 L1329.7 1464.8 L1330.3 1466.2 L1331.0 1464.9 L1331.6 1464.2 L1332.3 1467.4 L1333.0 1466.8 L1333.6 1468.1 L1334.3 1465.7 L1334.9 1464.4 L1335.6 1465.9 L1336.3 1466.7 L1336.9 1466.4 L1337.6 1463.5 L1338.2 1465.0 L1338.9 1464.6 L1339.6 1464.3 L1340.2 1464.5 L1340.9 1461.6 L1341.5 1460.6 L1342.2 1461.6 L1342.9 1461.8 L1343.5 1457.8 L1344.2 1459.6 L1344.8 1461.3 L1345.5 1459.7 L1346.2 1459.7 L1346.8 1459.4 L1347.5 1458.5 L1348.1 1458.1 L1348.8 1458.1 L1349.5 1455.8 L1350.1 1458.1 L1350.8 1454.7 L1351.4 1456.6 L1352.1 1457.1 L1352.8 1457.5 L1353.4 1454.5 L1354.1 1459.0 L1354.7 1456.7 L1355.4 1456.6 L1356.1 1456.9 L1356.7 1456.9 L1357.4 1456.7 L1358.0 1457.6 L1358.7 1456.0 L1359.4 1457.3 L1360.0 1456.6 L1360.7 1457.4 L1361.3 1457.0 L1362.0 1455.2 L1362.7 1457.5 L1363.3 1455.6 L1364.0 1455.9 L1364.6 1455.7 L1365.3 1456.9 L1366.0 1457.1 L1366.6 1455.2 L1367.3 1456.0 L1367.9 1456.3 L1368.6 1458.5 L1369.3 1458.1 L1369.9 1454.7 L1370.6 1457.5 L1371.2 1460.8 L1371.9 1457.7 L1372.6 1456.8 L1373.2 1458.5 L1373.9 1460.1 L1374.5 1458.5 L1375.2 1459.1 L1375.9 1461.2 L1376.5 1458.1 L1377.2 1461.4 L1377.8 1461.4 L1378.5 1462.2 L1379.2 1460.1 L1379.8 1463.1 L1380.5 1461.3 L1381.1 1461.9 L1381.8 1462.4 L1382.5 1462.5 L1383.1 1462.6 L1383.8 1467.0 L1384.4 1465.1 L1385.1 1465.8 L1385.8 1465.4 L1386.4 1466.3 L1387.1 1466.1 L1387.7 1467.2 L1388.4 1469.7 L1389.1 1467.5 L1389.7 1465.2 L1390.4 1468.5 L1391.0 1470.0 L1391.7 1466.0 L1392.4 1469.3 L1393.0 1466.0 L1393.7 1467.7 L1394.3 1467.2 L1395.0 1467.6 L1395.7 1467.1 L1396.3 1469.2 L1397.0 1469.0 L1397.6 1467.7 L1398.3 1469.6 L1399.0 1470.2 L1399.6 1469.9 L1400.3 1468.3 L1400.9 1469.0 L1401.6 1467.1 L1402.3 1468.7 L1402.9 1468.9 L1403.6 1469.4 L1404.2 1470.3 L1404.9 1468.9 L1405.6 1469.4 L1406.2 1468.1 L1406.9 1470.3 L1407.5 1468.0 L1408.2 1470.8 L1408.9 1469.3 L1409.5 1467.9 L1410.2 1468.1 L1410.8 1467.8 L1411.5 1470.5 L1412.2 1469.3 L1412.8 1471.5 L1413.5 1469.7 L1414.1 1467.4 L1414.8 1469.7 L1415.5 1468.1 L1416.1 1467.3 L1416.8 1469.0 L1417.4 1470.5 L1418.1 1469.8 L1418.8 1467.7 L1419.4 1469.4 L1420.1 1467.7 L1420.7 1467.2 L1421.4 1469.1 L1422.1 1468.5 L1422.7 1467.6 L1423.4 1469.1 L1424.0 1467.5 L1424.7 1469.3 L1425.4 1468.3 L1426.0 1466.9 L1426.7 1466.6 L1427.3 1467.4 L1428.0 1464.9 L1428.7 1467.4 L1429.3 1464.6 L1430.0 1465.7 L1430.6 1466.4 L1431.3 1465.6 L1432.0 1465.4 L1432.6 1461.0 L1433.3 1463.6 L1433.9 1466.0 L1434.6 1465.0 L1435.3 1463.2 L1435.9 1465.1 L1436.6 1464.8 L1437.2 1464.6 L1437.9 1460.7 L1438.6 1462.3 L1439.2 1462.5 L1439.9 1461.2 L1440.5 1461.2 L1441.2 1462.3 L1441.9 1459.9 L1442.5 1460.6 L1443.2 1458.1 L1443.8 1460.0 L1444.5 1458.1 L1445.2 1460.9 L1445.8 1457.2 L1446.5 1456.8 L1447.1 1458.0 L1447.8 1458.5 L1448.5 1456.5 L1449.1 1458.3 L1449.8 1456.8 L1450.4 1451.3 L1451.1 1456.6 L1451.8 1452.6 L1452.4 1454.4 L1453.1 1453.2 L1453.7 1454.3 L1454.4 1453.3 L1455.1 1452.5 L1455.7 1452.7 L1456.4 1453.2 L1457.0 1452.6 L1457.7 1450.8 L1458.4 1453.5 L1459.0 1449.3 L1459.7 1450.6 L1460.3 1447.1 L1461.0 1449.1 L1461.7 1450.2 L1462.3 1450.3 L1463.0 1448.3 L1463.6 1447.4 L1464.3 1452.5 L1465.0 1448.9 L1465.6 1447.7 L1466.3 1446.8 L1466.9 1448.1 L1467.6 1448.2 L1468.3 1446.7 L1468.9 1446.1 L1469.6 1442.4 L1470.2 1444.1 L1470.9 1443.1 L1471.6 1439.9 L1472.2 1439.8 L1472.9 1436.9 L1473.5 1434.5 L1474.2 1435.4 L1474.9 1431.9 L1475.5 1434.9 L1476.2 1433.7 L1476.8 1433.0 L1477.5 1430.5 L1478.2 1429.2 L1478.8 1430.3 L1479.5 1431.2 L1480.1 1430.8 L1480.8 1430.7 L1481.5 1429.2 L1482.1 1429.9 L1482.8 1430.1 L1483.4 1431.2 L1484.1 1432.3 L1484.8 1434.3 L1485.4 1433.5 L1486.1 1435.1 L1486.7 1436.7 L1487.4 1436.7 L1488.1 1435.7 L1488.7 1437.1 L1489.4 1440.0 L1490.0 1439.5 L1490.7 1441.1 L1491.4 1443.0 L1492.0 1443.6 L1492.7 1443.2 L1493.3 1444.5 L1494.0 1448.2 L1494.7 1443.8 L1495.3 1444.3 L1496.0 1447.8 L1496.6 1445.2 L1497.3 1446.8 L1498.0 1448.8 L1498.6 1448.7 L1499.3 1447.9 L1499.9 1452.1 L1500.6 1451.5 L1501.3 1452.1 L1501.9 1454.1 L1502.6 1453.1 L1503.2 1456.9 L1503.9 1455.5 L1504.6 1455.7 L1505.2 1458.3 L1505.9 1459.9 L1506.5 1461.8 L1507.2 1460.0 L1507.9 1461.3 L1508.5 1462.2 L1509.2 1461.6 L1509.8 1462.7 L1510.5 1462.4 L1511.2 1463.7 L1511.8 1462.8 L1512.5 1464.3 L1513.1 1462.8 L1513.8 1462.1 L1514.5 1463.2 L1515.1 1461.3 L1515.8 1462.7 L1516.4 1462.6 L1517.1 1461.1 L1517.8 1462.8 L1518.4 1460.9 L1519.1 1462.7 L1519.7 1464.1 L1520.4 1463.3 L1521.1 1464.5 L1521.7 1462.9 L1522.4 1462.5 L1523.0 1461.0 L1523.7 1463.7 L1524.4 1463.6 L1525.0 1462.7 L1525.7 1463.3 L1526.3 1462.8 L1527.0 1464.9 L1527.7 1463.0 L1528.3 1464.1 L1529.0 1463.4 L1529.6 1463.0 L1530.3 1461.1 L1531.0 1458.2 L1531.6 1459.0 L1532.3 1462.0 L1532.9 1461.1 L1533.6 1460.7 L1534.3 1460.5 L1534.9 1461.6 L1535.6 1459.9 L1536.2 1458.6 L1536.9 1460.3 L1537.6 1457.4 L1538.2 1460.1 L1538.9 1458.8 L1539.5 1457.0 L1540.2 1455.7 L1540.9 1455.4 L1541.5 1452.6 L1542.2 1453.7 L1542.8 1448.8 L1543.5 1448.1 L1544.2 1447.4 L1544.8 1442.9 L1545.5 1439.7 L1546.1 1435.6 L1546.8 1425.9 L1547.5 1421.3 L1548.1 1419.8 L1548.8 1420.3 L1549.4 1422.1 L1550.1 1420.7 L1550.8 1422.7 L1551.4 1424.3 L1552.1 1426.4 L1552.7 1429.9 L1553.4 1429.4 L1554.1 1433.1 L1554.7 1434.1 L1555.4 1435.9 L1556.0 1438.2 L1556.7 1439.7 L1557.4 1445.1 L1558.0 1445.4 L1558.7 1447.0 L1559.3 1451.4 L1560.0 1452.4 L1560.7 1453.1 L1561.3 1451.8 L1562.0 1454.2 L1562.6 1454.7 L1563.3 1453.5 L1564.0 1455.4 L1564.6 1455.5 L1565.3 1457.1 L1565.9 1454.5 L1566.6 1455.7 L1567.3 1456.5 L1567.9 1459.2 L1568.6 1458.6 L1569.2 1459.1 L1569.9 1460.0 L1570.6 1461.2 L1571.2 1460.4 L1571.9 1460.6 L1572.5 1457.4 L1573.2 1460.2 L1573.9 1460.8 L1574.5 1457.7 L1575.2 1459.0 L1575.8 1461.5 L1576.5 1462.2 L1577.2 1462.2 L1577.8 1461.5 L1578.5 1461.8 L1579.1 1459.7 L1579.8 1461.3 L1580.5 1459.5 L1581.1 1459.1 L1581.8 1463.2 L1582.4 1458.8 L1583.1 1460.0 L1583.8 1462.4 L1584.4 1460.3 L1585.1 1460.9 L1585.7 1463.1 L1586.4 1463.6 L1587.1 1462.4 L1587.7 1461.2 L1588.4 1462.0 L1589.0 1462.2 L1589.7 1462.6 L1590.4 1461.0 L1591.0 1459.7 L1591.7 1462.2 L1592.3 1460.5 L1593.0 1461.7 L1593.7 1463.7 L1594.3 1460.7 L1595.0 1463.3 L1595.6 1460.9 L1596.3 1461.6 L1597.0 1461.7 L1597.6 1463.8 L1598.3 1461.6 L1598.9 1461.7 L1599.6 1462.7 L1600.3 1462.1 L1600.9 1464.3 L1601.6 1463.6 L1602.2 1463.0 L1602.9 1462.8 L1603.6 1461.8 L1604.2 1466.2 L1604.9 1463.3 L1605.5 1463.1 L1606.2 1460.3 L1606.9 1462.4 L1607.5 1465.2 L1608.2 1461.1 L1608.8 1464.6 L1609.5 1463.5 L1610.2 1463.1 L1610.8 1463.8 L1611.5 1463.8 L1612.1 1465.7 L1612.8 1461.8 L1613.5 1462.1 L1614.1 1462.5 L1614.8 1462.2 L1615.4 1464.9 L1616.1 1464.4 L1616.8 1464.8 L1617.4 1464.7 L1618.1 1463.5 L1618.7 1462.0 L1619.4 1462.5 L1620.1 1463.0 L1620.7 1463.8 L1621.4 1463.1 L1622.0 1463.6 L1622.7 1462.4 L1623.4 1465.4 L1624.0 1462.3 L1624.7 1465.4 L1625.3 1462.0 L1626.0 1462.9 L1626.7 1464.6 L1627.3 1460.4 L1628.0 1464.0 L1628.6 1464.1 L1629.3 1460.8 L1630.0 1464.0 L1630.6 1462.2 L1631.3 1463.1 L1631.9 1462.6 L1632.6 1461.6 L1633.3 1460.6 L1633.9 1462.2 L1634.6 1459.1 L1635.2 1461.0 L1635.9 1462.1 L1636.6 1461.7 L1637.2 1460.8 L1637.9 1462.6 L1638.5 1461.5 L1639.2 1459.9 L1639.9 1459.2 L1640.5 1457.1 L1641.2 1459.4 L1641.8 1461.5 L1642.5 1458.7 L1643.2 1460.2 L1643.8 1459.7 L1644.5 1459.0 L1645.1 1461.2 L1645.8 1460.3 L1646.5 1462.7 L1647.1 1458.9 L1647.8 1458.5 L1648.4 1459.3 L1649.1 1462.2 L1649.8 1458.0 L1650.4 1461.4 L1651.1 1460.4 L1651.7 1459.9 L1652.4 1459.7 L1653.1 1461.5 L1653.7 1458.6 L1654.4 1460.0 L1655.0 1460.7 L1655.7 1461.1 L1656.4 1460.2 L1657.0 1461.7 L1657.7 1462.9 L1658.3 1461.3 L1659.0 1461.1 L1659.7 1460.7 L1660.3 1461.6 L1661.0 1461.5 L1661.6 1460.3 L1662.3 1459.6 L1663.0 1462.9 L1663.6 1459.9 L1664.3 1459.9 L1664.9 1461.4 L1665.6 1458.6 L1666.3 1462.8 L1666.9 1461.3 L1667.6 1460.6 L1668.2 1460.5 L1668.9 1462.2 L1669.6 1461.4 L1670.2 1461.7 L1670.9 1462.7 L1671.5 1461.2 L1672.2 1460.4 L1672.9 1461.1 L1673.5 1458.1 L1674.2 1459.0 L1674.8 1461.4 L1675.5 1460.5 L1676.2 1459.8 L1676.8 1460.9 L1677.5 1458.2 L1678.1 1462.0 L1678.8 1461.3 L1679.5 1458.8 L1680.1 1461.9 L1680.8 1459.6 L1681.4 1458.0 L1682.1 1458.2 L1682.8 1459.2 L1683.4 1460.1 L1684.1 1459.2 L1684.7 1459.6 L1685.4 1458.5 L1686.1 1457.3 L1686.7 1460.1 L1687.4 1459.5 L1688.0 1456.5 L1688.7 1458.5 L1689.4 1456.8 L1690.0 1458.0 L1690.7 1456.8 L1691.3 1458.5 L1692.0 1457.0 L1692.7 1456.0 L1693.3 1456.1 L1694.0 1456.8 L1694.6 1455.7 L1695.3 1455.5 L1696.0 1457.8 L1696.6 1457.0 L1697.3 1453.9 L1697.9 1455.0 L1698.6 1454.3 L1699.3 1452.6 L1699.9 1455.9 L1700.6 1452.4 L1701.2 1453.2 L1701.9 1453.1 L1702.6 1456.1 L1703.2 1456.2 L1703.9 1453.3 L1704.5 1452.2 L1705.2 1453.2 L1705.9 1454.7 L1706.5 1450.8 L1707.2 1453.4 L1707.8 1452.1 L1708.5 1449.2 L1709.2 1452.6 L1709.8 1452.0 L1710.5 1450.6 L1711.1 1450.0 L1711.8 1449.4 L1712.5 1448.3 L1713.1 1446.0 L1713.8 1448.2 L1714.4 1446.6 L1715.1 1447.8 L1715.8 1447.1 L1716.4 1448.3 L1717.1 1446.8 L1717.7 1449.2 L1718.4 1447.8 L1719.1 1448.3 L1719.7 1449.0 L1720.4 1449.6 L1721.0 1449.6 L1721.7 1451.6 L1722.4 1453.1 L1723.0 1450.3 L1723.7 1453.6 L1724.3 1453.5 L1725.0 1454.4 L1725.7 1453.7 L1726.3 1453.7 L1727.0 1455.0 L1727.6 1456.3 L1728.3 1456.2 L1729.0 1455.7 L1729.6 1457.0 L1730.3 1458.7 L1730.9 1458.7 L1731.6 1454.8 L1732.3 1459.2 L1732.9 1456.7 L1733.6 1458.1 L1734.2 1459.8 L1734.9 1460.3 L1735.6 1459.7 L1736.2 1459.9 L1736.9 1460.2 L1737.5 1458.7 L1738.2 1459.0 L1738.9 1458.9 L1739.5 1459.6 L1740.2 1461.4 L1740.8 1461.3 L1741.5 1461.3 L1742.2 1460.5 L1742.8 1459.0 L1743.5 1462.2 L1744.1 1460.4 L1744.8 1461.9 L1745.5 1462.7 L1746.1 1462.4 L1746.8 1462.8 L1747.4 1460.6 L1748.1 1462.1 L1748.8 1464.8 L1749.4 1465.4 L1750.1 1461.3 L1750.7 1464.8 L1751.4 1461.3 L1752.1 1461.8 L1752.7 1464.5 L1753.4 1459.3 L1754.0 1462.9 L1754.7 1462.8 L1755.4 1462.3 L1756.0 1462.7 L1756.7 1464.9 L1757.3 1461.3 L1758.0 1462.2 L1758.7 1463.6 L1759.3 1463.5 L1760.0 1461.8 L1760.6 1462.9 L1761.3 1462.1 L1762.0 1462.5 L1762.6 1461.6 L1763.3 1464.3 L1763.9 1462.6 L1764.6 1464.8 L1765.3 1463.9 L1765.9 1463.2 L1766.6 1463.2 L1767.2 1463.7 L1767.9 1461.4 L1768.6 1465.5 L1769.2 1462.5 L1769.9 1462.2 L1770.5 1463.4 L1771.2 1462.2 L1771.9 1463.1 L1772.5 1465.3 L1773.2 1466.9 L1773.8 1463.9 L1774.5 1462.7 L1775.2 1462.8 L1775.8 1463.2 L1776.5 1462.4 L1777.1 1465.8 L1777.8 1462.8 L1778.5 1463.0 L1779.1 1462.0 L1779.8 1462.9 L1780.4 1464.3 L1781.1 1463.0 L1781.8 1465.9 L1782.4 1466.3 L1783.1 1462.2 L1783.7 1461.9 L1784.4 1461.8 L1785.1 1462.0 L1785.7 1466.9 L1786.4 1462.6 L1787.0 1463.4 L1787.7 1463.4 L1788.4 1462.4 L1789.0 1458.5 L1789.7 1464.1 L1790.3 1461.5 L1791.0 1465.9 L1791.7 1461.3 L1792.3 1460.6 L1793.0 1460.0 L1793.6 1462.1 L1794.3 1462.2 L1795.0 1465.3 L1795.6 1462.9 L1796.3 1460.7 L1796.9 1462.9 L1797.6 1461.6 L1798.3 1462.4 L1798.9 1460.1 L1799.6 1459.5 L1800.2 1463.2 L1800.9 1460.2 L1801.6 1462.9 L1802.2 1463.8 L1802.9 1459.7 L1803.5 1463.7 L1804.2 1461.5 L1804.9 1463.1 L1805.5 1462.7 L1806.2 1461.1 L1806.8 1463.0 L1807.5 1458.9 L1808.2 1461.7 L1808.8 1460.8 L1809.5 1461.1 L1810.1 1460.4 L1810.8 1462.8 L1811.5 1459.7 L1812.1 1461.0 L1812.8 1462.0 L1813.4 1460.8 L1814.1 1460.1 L1814.8 1461.1 L1815.4 1459.3 L1816.1 1460.9 L1816.7 1457.8 L1817.4 1459.3 L1818.1 1459.7 L1818.7 1459.3 L1819.4 1459.8 L1820.0 1457.9 L1820.7 1457.9 L1821.4 1457.3 L1822.0 1457.9 L1822.7 1457.9 L1823.3 1457.4 L1824.0 1457.3 L1824.7 1455.5 L1825.3 1457.6 L1826.0 1456.7 L1826.6 1455.7 L1827.3 1457.8 L1828.0 1456.0 L1828.6 1457.4 L1829.3 1454.8 L1829.9 1459.6 L1830.6 1456.6 L1831.3 1455.6 L1831.9 1457.6 L1832.6 1455.2 L1833.2 1456.0 L1833.9 1454.1 L1834.6 1457.0 L1835.2 1455.1 L1835.9 1455.7 L1836.5 1455.6 L1837.2 1456.0 L1837.9 1456.3 L1838.5 1451.6 L1839.2 1453.3 L1839.8 1457.2 L1840.5 1456.7 L1841.2 1454.2 L1841.8 1455.5 L1842.5 1456.9 L1843.1 1455.9 L1843.8 1457.5 L1844.5 1456.6 L1845.1 1458.8 L1845.8 1458.6 L1846.4 1455.4 L1847.1 1457.4 L1847.8 1458.2 L1848.4 1460.5 L1849.1 1457.5 L1849.7 1457.2 L1850.4 1458.8 L1851.1 1461.5 L1851.7 1462.6 L1852.4 1460.7 L1853.0 1461.0 L1853.7 1461.2 L1854.4 1460.7 L1855.0 1462.8 L1855.7 1463.2 L1856.3 1459.7 L1857.0 1462.2 L1857.7 1461.2 L1858.3 1460.5 L1859.0 1462.6 L1859.6 1462.4 L1860.3 1462.0 L1861.0 1461.2 L1861.6 1461.6 L1862.3 1462.5 L1862.9 1464.0 L1863.6 1464.4 L1864.3 1462.1 L1864.9 1463.7 L1865.6 1465.5 L1866.2 1461.0 L1866.9 1463.0 L1867.6 1463.1 L1868.2 1463.0 L1868.9 1464.9 L1869.5 1463.6 L1870.2 1464.4 L1870.9 1464.0 L1871.5 1465.6 L1872.2 1465.6 L1872.8 1467.2 L1873.5 1464.4 L1874.2 1465.2 L1874.8 1463.4 L1875.5 1464.1 L1876.1 1465.9 L1876.8 1465.9 L1877.5 1465.9 L1878.1 1464.2 L1878.8 1464.7 L1879.4 1464.4 L1880.1 1464.3 L1880.8 1465.1 L1881.4 1463.5 L1882.1 1465.2 L1882.7 1464.0 L1883.4 1462.9 L1884.1 1465.4 L1884.7 1463.6 L1885.4 1465.3 L1886.0 1463.6 L1886.7 1463.2 L1887.4 1463.6 L1888.0 1463.1 L1888.7 1464.5 L1889.3 1463.9 L1890.0 1463.9 L1890.7 1462.9 L1891.3 1465.0 L1892.0 1464.9 L1892.6 1465.0 L1893.3 1463.5 L1894.0 1463.2 L1894.6 1464.3 L1895.3 1464.1 L1895.9 1465.0 L1896.6 1464.4 L1897.3 1463.7 L1897.9 1462.7 L1898.6 1463.2 L1899.2 1462.8 L1899.9 1466.7 L1900.6 1464.6 L1901.2 1466.0 L1901.9 1463.5 L1902.5 1464.1 L1903.2 1462.4 L1903.9 1463.9 L1904.5 1462.5 L1905.2 1464.8 L1905.8 1462.0 L1906.5 1464.0 L1907.2 1464.3 L1907.8 1463.9 L1908.5 1465.2 L1909.1 1461.8 L1909.8 1462.6 L1910.5 1460.6 L1911.1 1461.1 L1911.8 1460.7 L1912.4 1461.4 L1913.1 1463.2 L1913.8 1462.9 L1914.4 1460.0 L1915.1 1460.6 L1915.7 1464.0 L1916.4 1461.9 L1917.1 1462.4 L1917.7 1459.8 L1918.4 1461.6 L1919.0 1464.7 L1919.7 1460.9 L1920.4 1461.3 L1921.0 1460.8 L1921.7 1461.5 L1922.3 1460.3 L1923.0 1459.0 L1923.7 1462.2 L1924.3 1461.5 L1925.0 1458.8 L1925.6 1461.6 L1926.3 1461.7 L1927.0 1461.3 L1927.6 1461.3 L1928.3 1462.7 L1928.9 1458.7 L1929.6 1458.3 L1930.3 1459.0 L1930.9 1460.4 L1931.6 1460.5 L1932.2 1459.0 L1932.9 1460.6 L1933.6 1457.6 L1934.2 1459.4 L1934.9 1458.3 L1935.5 1457.2 L1936.2 1456.8 L1936.9 1459.5 L1937.5 1458.3 L1938.2 1458.9 L1938.8 1458.3 L1939.5 1460.9 L1940.2 1459.6 L1940.8 1457.2 L1941.5 1460.2 L1942.1 1457.7 L1942.8 1457.3 L1943.5 1458.6 L1944.1 1457.9 L1944.8 1457.4 L1945.4 1455.4 L1946.1 1457.9 L1946.8 1456.3 L1947.4 1454.4 L1948.1 1455.1 L1948.7 1452.4 L1949.4 1455.0 L1950.1 1454.9 L1950.7 1454.0 L1951.4 1453.1 L1952.0 1451.2 L1952.7 1454.0 L1953.4 1454.0 L1954.0 1451.1 L1954.7 1451.1 L1955.3 1450.8 L1956.0 1453.2 L1956.7 1451.2 L1957.3 1449.5 L1958.0 1451.3 L1958.6 1450.3 L1959.3 1448.7 L1960.0 1450.5 L1960.6 1448.5 L1961.3 1452.6 L1961.9 1449.5 L1962.6 1454.2 L1963.3 1451.1 L1963.9 1451.2 L1964.6 1452.2 L1965.2 1450.1 L1965.9 1454.6 L1966.6 1452.9 L1967.2 1453.2 L1967.9 1451.2 L1968.5 1452.7 L1969.2 1454.6 L1969.9 1452.4 L1970.5 1455.4 L1971.2 1453.5 L1971.8 1454.1 L1972.5 1454.8 L1973.2 1455.6 L1973.8 1454.6 L1974.5 1455.8 L1975.1 1457.8 L1975.8 1455.6 L1976.5 1458.5 L1977.1 1454.7 L1977.8 1457.0 L1978.4 1458.9 L1979.1 1456.8 L1979.8 1458.0 L1980.4 1458.3 L1981.1 1459.9 L1981.7 1460.7 L1982.4 1459.4 L1983.1 1457.9 L1983.7 1461.9 L1984.4 1459.8 L1985.0 1459.8 L1985.7 1459.3 L1986.4 1460.3 L1987.0 1459.7 L1987.7 1460.1 L1988.3 1460.4 L1989.0 1462.1 L1989.7 1459.5 L1990.3 1457.4 L1991.0 1458.5 L1991.6 1460.0 L1992.3 1459.7 L1993.0 1460.1 L1993.6 1462.1 L1994.3 1462.1 L1994.9 1459.9 L1995.6 1459.3 L1996.3 1461.4 L1996.9 1459.6 L1997.6 1460.0 L1998.2 1463.2 L1998.9 1458.6 L1999.6 1460.2 L2000.2 1460.8 L2000.9 1459.9 L2001.5 1460.3 L2002.2 1458.8 L2002.9 1460.4 L2003.5 1459.8 L2004.2 1459.1 L2004.8 1459.6 L2005.5 1460.3 L2006.2 1459.6 L2006.8 1459.2 L2007.5 1461.3 L2008.1 1460.9 L2008.8 1459.8 L2009.5 1460.3 L2010.1 1461.3 L2010.8 1458.9 L2011.4 1459.6 L2012.1 1460.3 L2012.8 1458.2 L2013.4 1460.2 L2014.1 1458.5 L2014.7 1460.4 L2015.4 1458.2 L2016.1 1461.6 L2016.7 1458.8 L2017.4 1460.2 L2018.0 1460.0 L2018.7 1462.0 L2019.4 1460.5 L2020.0 1458.3 L2020.7 1457.7 L2021.3 1459.0 L2022.0 1457.8 L2022.7 1460.3 L2023.3 1459.4 L2024.0 1461.7 L2024.6 1458.8 L2025.3 1459.8 L2026.0 1461.2 L2026.6 1460.3 L2027.3 1459.3 L2027.9 1461.7 L2028.6 1458.6 L2029.3 1460.0 L2029.9 1460.2 L2030.6 1460.9 L2031.2 1462.1 L2031.9 1460.0 L2032.6 1459.7 L2033.2 1459.6 L2033.9 1461.0 L2034.5 1459.8 L2035.2 1459.0 L2035.9 1460.6 L2036.5 1460.3 L2037.2 1459.4 L2037.8 1460.5 L2038.5 1458.9 L2039.2 1458.3 L2039.8 1459.4 L2040.5 1457.8 L2041.1 1458.3 L2041.8 1462.2 L2042.5 1460.3 L2043.1 1461.6 L2043.8 1457.5 L2044.4 1459.1 L2045.1 1458.4 L2045.8 1459.7 L2046.4 1459.3 L2047.1 1458.8 L2047.7 1459.4 L2048.4 1458.7 L2049.1 1457.7 L2049.7 1458.1 L2050.4 1458.5 L2051.0 1459.5 L2051.7 1460.6 L2052.4 1459.4 L2053.0 1458.8 L2053.7 1460.0 L2054.3 1456.9 L2055.0 1457.8 L2055.7 1457.9 L2056.3 1456.5 L2057.0 1458.7 L2057.6 1458.2 L2058.3 1458.4 L2059.0 1456.4 L2059.6 1457.3 L2060.3 1457.4 L2060.9 1456.0 L2061.6 1458.1 L2062.3 1458.1 L2062.9 1457.7 L2063.6 1456.7 L2064.2 1455.8 L2064.9 1457.1 L2065.6 1457.1 L2066.2 1455.6 L2066.9 1456.1 L2067.5 1456.6 L2068.2 1455.7 L2068.9 1454.7 L2069.5 1452.4 L2070.2 1453.5 L2070.8 1454.8 L2071.5 1455.2 L2072.2 1454.2 L2072.8 1455.8 L2073.5 1452.7 L2074.1 1454.5 L2074.8 1453.5 L2075.5 1454.2 L2076.1 1452.9 L2076.8 1453.2 L2077.4 1455.1 L2078.1 1453.4 L2078.8 1454.9 L2079.4 1451.7 L2080.1 1453.0 L2080.7 1451.1 L2081.4 1451.2 L2082.1 1451.3 L2082.7 1450.2 L2083.4 1451.8 L2084.0 1452.8 L2084.7 1453.2 L2085.4 1454.0 L2086.0 1451.9 L2086.7 1453.6 L2087.3 1454.6 L2088.0 1454.1 L2088.7 1452.7 L2089.3 1452.6 L2090.0 1453.2 L2090.6 1452.1 L2091.3 1453.0 L2092.0 1453.5 L2092.6 1453.4 L2093.3 1454.4 L2093.9 1455.1 L2094.6 1452.2 L2095.3 1453.4 L2095.9 1455.1 L2096.6 1452.8 L2097.2 1453.6 L2097.9 1452.0 L2098.6 1451.3 L2099.2 1454.1 L2099.9 1455.4 L2100.5 1457.0 L2101.2 1454.2 L2101.9 1457.5 L2102.5 1458.4 L2103.2 1456.6 L2103.8 1457.7 L2104.5 1455.9 L2105.2 1458.4 L2105.8 1457.8 L2106.5 1457.5 L2107.1 1457.3 L2107.8 1460.3 L2108.5 1457.6 L2109.1 1459.6 L2109.8 1459.3 L2110.4 1459.8 L2111.1 1462.6 L2111.8 1460.1 L2112.4 1458.1 L2113.1 1460.7 L2113.7 1459.5 L2114.4 1462.2 L2115.1 1462.2 L2115.7 1460.4 L2116.4 1463.4 L2117.0 1457.7 L2117.7 1459.8 L2118.4 1461.2 L2119.0 1461.1 L2119.7 1461.3 L2120.3 1460.5 L2121.0 1460.8 L2121.7 1460.1 L2122.3 1461.4 L2123.0 1460.5 L2123.6 1461.0 L2124.3 1460.1 L2125.0 1460.5 L2125.6 1459.6 L2126.3 1462.7 L2126.9 1459.7 L2127.6 1462.5 L2128.3 1463.0 L2128.9 1460.7 L2129.6 1461.7 L2130.2 1463.2 L2130.9 1460.8 L2131.6 1460.4 L2132.2 1462.5 L2132.9 1461.1 L2133.5 1460.0 L2134.2 1460.9 L2134.9 1460.8" fill="none" stroke="#000" stroke-width="2.0" stroke-linejoin="round" shape-rendering="crispEdges"/>
<rect x="278.1" y="508.0" width="12.8" height="12.8" fill="#000"/>
<rect x="289.3" y="518.3" width="12.8" height="12.8" fill="#000"/>
<rect x="415.1" y="339.1" width="12.8" height="12.8" fill="#000"/>
<rect x="521.9" y="375.9" width="12.8" height="12.8" fill="#000"/>
<rect x="609.3" y="469.1" width="12.8" height="12.8" fill="#000"/>
<rect x="623.1" y="481.0" width="12.8" height="12.8" fill="#000"/>
<rect x="642.8" y="454.1" width="12.8" height="12.8" fill="#000"/>
<rect x="758.6" y="497.0" width="12.8" height="12.8" fill="#000"/>
<rect x="792.5" y="500.0" width="12.8" height="12.8" fill="#000"/>
<rect x="827.1" y="472.1" width="12.8" height="12.8" fill="#000"/>
<rect x="853.2" y="484.1" width="12.8" height="12.8" fill="#000"/>
<rect x="966.0" y="476.1" width="12.8" height="12.8" fill="#000"/>
<rect x="986.2" y="481.0" width="12.8" height="12.8" fill="#000"/>
<rect x="1114.9" y="436.5" width="12.8" height="12.8" fill="#000"/>
<rect x="1138.2" y="392.0" width="12.8" height="12.8" fill="#000"/>
<rect x="1315.1" y="429.9" width="12.8" height="12.8" fill="#000"/>
<rect x="1382.0" y="421.0" width="12.8" height="12.8" fill="#000"/>
<rect x="1405.1" y="454.2" width="12.8" height="12.8" fill="#000"/>
<rect x="1556.1" y="429.9" width="12.8" height="12.8" fill="#000"/>
<rect x="1651.9" y="432.9" width="12.8" height="12.8" fill="#000"/>
<polygon points="480.1,459.8 497.7,459.8 488.9,475.8" fill="#00f"/>
<polygon points="646.0,450.3 663.6,450.3 654.8,466.3" fill="#00f"/>
<polygon points="1138.8,384.3 1156.4,384.3 1147.6,400.3" fill="#00f"/>
<polygon points="1155.9,402.1 1173.5,402.1 1164.7,418.1" fill="#00f"/>
<polygon points="1465.7,408.0 1483.3,408.0 1474.5,424.0" fill="#00f"/>
<line x1="914.3" y1="470.3" x2="929.3" y2="470.3" stroke="#808080" stroke-width="1.3"/><line x1="921.8" y1="462.8" x2="921.8" y2="477.8" stroke="#808080" stroke-width="1.3"/><line x1="914.3" y1="462.8" x2="929.3" y2="477.8" stroke="#808080" stroke-width="1.3"/><line x1="914.3" y1="477.8" x2="929.3" y2="462.8" stroke="#808080" stroke-width="1.3"/>
<line x1="1218.9" y1="474.8" x2="1233.9" y2="474.8" stroke="#808080" stroke-width="1.3"/><line x1="1226.4" y1="467.3" x2="1226.4" y2="482.3" stroke="#808080" stroke-width="1.3"/><line x1="1218.9" y1="467.3" x2="1233.9" y2="482.3" stroke="#808080" stroke-width="1.3"/><line x1="1218.9" y1="482.3" x2="1233.9" y2="467.3" stroke="#808080" stroke-width="1.3"/>
<line x1="1266.4" y1="451.0" x2="1281.4" y2="451.0" stroke="#808080" stroke-width="1.3"/><line x1="1273.9" y1="443.5" x2="1273.9" y2="458.5" stroke="#808080" stroke-width="1.3"/><line x1="1266.4" y1="443.5" x2="1281.4" y2="458.5" stroke="#808080" stroke-width="1.3"/><line x1="1266.4" y1="458.5" x2="1281.4" y2="443.5" stroke="#808080" stroke-width="1.3"/>
<line x1="1735.9" y1="444.0" x2="1750.9" y2="444.0" stroke="#808080" stroke-width="1.3"/><line x1="1743.4" y1="436.5" x2="1743.4" y2="451.5" stroke="#808080" stroke-width="1.3"/><line x1="1735.9" y1="436.5" x2="1750.9" y2="451.5" stroke="#808080" stroke-width="1.3"/><line x1="1735.9" y1="451.5" x2="1750.9" y2="436.5" stroke="#808080" stroke-width="1.3"/>
<line x1="1835.5" y1="444.0" x2="1850.5" y2="444.0" stroke="#808080" stroke-width="1.3"/><line x1="1843.0" y1="436.5" x2="1843.0" y2="451.5" stroke="#808080" stroke-width="1.3"/><line x1="1835.5" y1="436.5" x2="1850.5" y2="451.5" stroke="#808080" stroke-width="1.3"/><line x1="1835.5" y1="451.5" x2="1850.5" y2="436.5" stroke="#808080" stroke-width="1.3"/>
<rect x="156.2" y="153.5" width="1980.8" height="462.0" fill="none" stroke="#000" stroke-width="5.6" shape-rendering="crispEdges"/>
<line x1="321.1" y1="153.5" x2="321.1" y2="168.5" stroke="#000" stroke-width="5.6" shape-rendering="crispEdges"/>
<line x1="321.1" y1="615.5" x2="321.1" y2="600.5" stroke="#000" stroke-width="5.6" shape-rendering="crispEdges"/>
<line x1="486.1" y1="153.5" x2="486.1" y2="182.0" stroke="#000" stroke-width="5.6" shape-rendering="crispEdges"/>
<line x1="486.1" y1="615.5" x2="486.1" y2="587.0" stroke="#000" stroke-width="5.6" shape-rendering="crispEdges"/>
<line x1="651.2" y1="153.5" x2="651.2" y2="168.5" stroke="#000" stroke-width="5.6" shape-rendering="crispEdges"/>
<line x1="651.2" y1="615.5" x2="651.2" y2="600.5" stroke="#000" stroke-width="5.6" shape-rendering="crispEdges"/>
<line x1="816.3" y1="153.5" x2="816.3" y2="182.0" stroke="#000" stroke-width="5.6" shape-rendering="crispEdges"/>
<line x1="816.3" y1="615.5" x2="816.3" y2="587.0" stroke="#000" stroke-width="5.6" shape-rendering="crispEdges"/>
<line x1="981.4" y1="153.5" x2="981.4" y2="168.5" stroke="#000" stroke-width="5.6" shape-rendering="crispEdges"/>
<line x1="981.4" y1="615.5" x2="981.4" y2="600.5" stroke="#000" stroke-width="5.6" shape-rendering="crispEdges"/>
<line x1="1146.5" y1="153.5" x2="1146.5" y2="182.0" stroke="#000" stroke-width="5.6" shape-rendering="crispEdges"/>
<line x1="1146.5" y1="615.5" x2="1146.5" y2="587.0" stroke="#000" stroke-width="5.6" shape-rendering="crispEdges"/>
<line x1="1311.5" y1="153.5" x2="1311.5" y2="168.5" stroke="#000" stroke-width="5.6" shape-rendering="crispEdges"/>
<line x1="1311.5" y1="615.5" x2="1311.5" y2="600.5" stroke="#000" stroke-width="5.6" shape-rendering="crispEdges"/>
<line x1="1476.6" y1="153.5" x2="1476.6" y2="182.0" stroke="#000" stroke-width="5.6" shape-rendering="crispEdges"/>
<line x1="1476.6" y1="615.5" x2="1476.6" y2="587.0" stroke="#000" stroke-width="5.6" shape-rendering="crispEdges"/>
<line x1="1641.7" y1="153.5" x2="1641.7" y2="168.5" stroke="#000" stroke-width="5.6" shape-rendering="crispEdges"/>
<line x1="1641.7" y1="615.5" x2="1641.7" y2="600.5" stroke="#000" stroke-width="5.6" shape-rendering="crispEdges"/>
<line x1="1806.8" y1="153.5" x2="1806.8" y2="182.0" stroke="#000" stroke-width="5.6" shape-rendering="crispEdges"/>
<line x1="1806.8" y1="615.5" x2="1806.8" y2="587.0" stroke="#000" stroke-width="5.6" shape-rendering="crispEdges"/>
<line x1="1971.8" y1="153.5" x2="1971.8" y2="168.5" stroke="#000" stroke-width="5.6" shape-rendering="crispEdges"/>
<line x1="1971.8" y1="615.5" x2="1971.8" y2="600.5" stroke="#000" stroke-width="5.6" shape-rendering="crispEdges"/>
<line x1="156.2" y1="194.7" x2="171.2" y2="194.7" stroke="#000" stroke-width="5.6" shape-rendering="crispEdges"/>
<line x1="2137.0" y1="194.7" x2="2122.0" y2="194.7" stroke="#000" stroke-width="5.6" shape-rendering="crispEdges"/>
<line x1="156.2" y1="236.7" x2="184.7" y2="236.7" stroke="#000" stroke-width="5.6" shape-rendering="crispEdges"/>
<line x1="2137.0" y1="236.7" x2="2108.5" y2="236.7" stroke="#000" stroke-width="5.6" shape-rendering="crispEdges"/>
<line x1="156.2" y1="278.6" x2="171.2" y2="278.6" stroke="#000" stroke-width="5.6" shape-rendering="crispEdges"/>
<line x1="2137.0" y1="278.6" x2="2122.0" y2="278.6" stroke="#000" stroke-width="5.6" shape-rendering="crispEdges"/>
<line x1="156.2" y1="320.6" x2="184.7" y2="320.6" stroke="#000" stroke-width="5.6" shape-rendering="crispEdges"/>
<line x1="2137.0" y1="320.6" x2="2108.5" y2="320.6" stroke="#000" stroke-width="5.6" shape-rendering="crispEdges"/>
<line x1="156.2" y1="362.5" x2="171.2" y2="362.5" stroke="#000" stroke-width="5.6" shape-rendering="crispEdges"/>
<line x1="2137.0" y1="362.5" x2="2122.0" y2="362.5" stroke="#000" stroke-width="5.6" shape-rendering="crispEdges"/>
<line x1="156.2" y1="404.5" x2="184.7" y2="404.5" stroke="#000" stroke-width="5.6" shape-rendering="crispEdges"/>
<line x1="2137.0" y1="404.5" x2="2108.5" y2="404.5" stroke="#000" stroke-width="5.6" shape-rendering="crispEdges"/>
<line x1="156.2" y1="446.5" x2="171.2" y2="446.5" stroke="#000" stroke-width="5.6" shape-rendering="crispEdges"/>
<line x1="2137.0" y1="446.5" x2="2122.0" y2="446.5" stroke="#000" stroke-width="5.6" shape-rendering="crispEdges"/>
<line x1="156.2" y1="488.4" x2="184.7" y2="488.4" stroke="#000" stroke-width="5.6" shape-rendering="crispEdges"/>
<line x1="2137.0" y1="488.4" x2="2108.5" y2="488.4" stroke="#000" stroke-width="5.6" shape-rendering="crispEdges"/>
<line x1="156.2" y1="530.4" x2="171.2" y2="530.4" stroke="#000" stroke-width="5.6" shape-rendering="crispEdges"/>
<line x1="2137.0" y1="530.4" x2="2122.0" y2="530.4" stroke="#000" stroke-width="5.6" shape-rendering="crispEdges"/>
<line x1="156.2" y1="572.3" x2="184.7" y2="572.3" stroke="#000" stroke-width="5.6" shape-rendering="crispEdges"/>
<line x1="2137.0" y1="572.3" x2="2108.5" y2="572.3" stroke="#000" stroke-width="5.6" shape-rendering="crispEdges"/>
<rect x="156.2" y="615.5" width="1980.8" height="462.0" fill="none" stroke="#000" stroke-width="5.6" shape-rendering="crispEdges"/>
<line x1="321.1" y1="615.5" x2="321.1" y2="630.5" stroke="#000" stroke-width="5.6" shape-rendering="crispEdges"/>
<line x1="321.1" y1="1077.5" x2="321.1" y2="1062.5" stroke="#000" stroke-width="5.6" shape-rendering="crispEdges"/>
<line x1="486.1" y1="615.5" x2="486.1" y2="644.0" stroke="#000" stroke-width="5.6" shape-rendering="crispEdges"/>
<line x1="486.1" y1="1077.5" x2="486.1" y2="1049.0" stroke="#000" stroke-width="5.6" shape-rendering="crispEdges"/>
<line x1="651.2" y1="615.5" x2="651.2" y2="630.5" stroke="#000" stroke-width="5.6" shape-rendering="crispEdges"/>
<line x1="651.2" y1="1077.5" x2="651.2" y2="1062.5" stroke="#000" stroke-width="5.6" shape-rendering="crispEdges"/>
<line x1="816.3" y1="615.5" x2="816.3" y2="644.0" stroke="#000" stroke-width="5.6" shape-rendering="crispEdges"/>
<line x1="816.3" y1="1077.5" x2="816.3" y2="1049.0" stroke="#000" stroke-width="5.6" shape-rendering="crispEdges"/>
<line x1="981.4" y1="615.5" x2="981.4" y2="630.5" stroke="#000" stroke-width="5.6" shape-rendering="crispEdges"/>
<line x1="981.4" y1="1077.5" x2="981.4" y2="1062.5" stroke="#000" stroke-width="5.6" shape-rendering="crispEdges"/>
<line x1="1146.5" y1="615.5" x2="1146.5" y2="644.0" stroke="#000" stroke-width="5.6" shape-rendering="crispEdges"/>
<line x1="1146.5" y1="1077.5" x2="1146.5" y2="1049.0" stroke="#000" stroke-width="5.6" shape-rendering="crispEdges"/>
<line x1="1311.5" y1="615.5" x2="1311.5" y2="630.5" stroke="#000" stroke-width="5.6" shape-rendering="crispEdges"/>
<line x1="1311.5" y1="1077.5" x2="1311.5" y2="1062.5" stroke="#000" stroke-width="5.6" shape-rendering="crispEdges"/>
<line x1="1476.6" y1="615.5" x2="1476.6" y2="644.0" stroke="#000" stroke-width="5.6" shape-rendering="crispEdges"/>
<line x1="1476.6" y1="1077.5" x2="1476.6" y2="1049.0" stroke="#000" stroke-width="5.6" shape-rendering="crispEdges"/>
<line x1="1641.7" y1="615.5" x2="1641.7" y2="630.5" stroke="#000" stroke-width="5.6" shape-rendering="crispEdges"/>
<line x1="1641.7" y1="1077.5" x2="1641.7" y2="1062.5" stroke="#000" stroke-width="5.6" shape-rendering="crispEdges"/>
<line x1="1806.8" y1="615.5" x2="1806.8" y2="644.0" stroke="#000" stroke-width="5.6" shape-rendering="crispEdges"/>
<line x1="1806.8" y1="1077.5" x2="1806.8" y2="1049.0" stroke="#000" stroke-width="5.6" shape-rendering="crispEdges"/>
<line x1="1971.8" y1="615.5" x2="1971.8" y2="630.5" stroke="#000" stroke-width="5.6" shape-rendering="crispEdges"/>
<line x1="1971.8" y1="1077.5" x2="1971.8" y2="1062.5" stroke="#000" stroke-width="5.6" shape-rendering="crispEdges"/>
<line x1="156.2" y1="656.7" x2="171.2" y2="656.7" stroke="#000" stroke-width="5.6" shape-rendering="crispEdges"/>
<line x1="2137.0" y1="656.7" x2="2122.0" y2="656.7" stroke="#000" stroke-width="5.6" shape-rendering="crispEdges"/>
<line x1="156.2" y1="698.7" x2="184.7" y2="698.7" stroke="#000" stroke-width="5.6" shape-rendering="crispEdges"/>
<line x1="2137.0" y1="698.7" x2="2108.5" y2="698.7" stroke="#000" stroke-width="5.6" shape-rendering="crispEdges"/>
<line x1="156.2" y1="740.6" x2="171.2" y2="740.6" stroke="#000" stroke-width="5.6" shape-rendering="crispEdges"/>
<line x1="2137.0" y1="740.6" x2="2122.0" y2="740.6" stroke="#000" stroke-width="5.6" shape-rendering="crispEdges"/>
<line x1="156.2" y1="782.6" x2="184.7" y2="782.6" stroke="#000" stroke-width="5.6" shape-rendering="crispEdges"/>
<line x1="2137.0" y1="782.6" x2="2108.5" y2="782.6" stroke="#000" stroke-width="5.6" shape-rendering="crispEdges"/>
<line x1="156.2" y1="824.5" x2="171.2" y2="824.5" stroke="#000" stroke-width="5.6" shape-rendering="crispEdges"/>
<line x1="2137.0" y1="824.5" x2="2122.0" y2="824.5" stroke="#000" stroke-width="5.6" shape-rendering="crispEdges"/>
<line x1="156.2" y1="866.5" x2="184.7" y2="866.5" stroke="#000" stroke-width="5.6" shape-rendering="crispEdges"/>
<line x1="2137.0" y1="866.5" x2="2108.5" y2="866.5" stroke="#000" stroke-width="5.6" shape-rendering="crispEdges"/>
<line x1="156.2" y1="908.5" x2="171.2" y2="908.5" stroke="#000" stroke-width="5.6" shape-rendering="crispEdges"/>
<line x1="2137.0" y1="908.5" x2="2122.0" y2="908.5" stroke="#000" stroke-width="5.6" shape-rendering="crispEdges"/>
<line x1="156.2" y1="950.4" x2="184.7" y2="950.4" stroke="#000" stroke-width="5.6" shape-rendering="crispEdges"/>
<line x1="2137.0" y1="950.4" x2="2108.5" y2="950.4" stroke="#000" stroke-width="5.6" shape-rendering="crispEdges"/>
<line x1="156.2" y1="992.4" x2="171.2" y2="992.4" stroke="#000" stroke-width="5.6" shape-rendering="crispEdges"/>
<line x1="2137.0" y1="992.4" x2="2122.0" y2="992.4" stroke="#000" stroke-width="5.6" shape-rendering="crispEdges"/>
<line x1="156.2" y1="1034.3" x2="184.7" y2="1034.3" stroke="#000" stroke-width="5.6" shape-rendering="crispEdges"/>
<line x1="2137.0" y1="1034.3" x2="2108.5" y2="1034.3" stroke="#000" stroke-width="5.6" shape-rendering="crispEdges"/>
<rect x="156.2" y="1077.5" width="1980.8" height="462.0" fill="none" stroke="#000" stroke-width="5.6" shape-rendering="crispEdges"/>
<line x1="321.1" y1="1077.5" x2="321.1" y2="1092.5" stroke="#000" stroke-width="5.6" shape-rendering="crispEdges"/>
<line x1="321.1" y1="1539.5" x2="321.1" y2="1524.5" stroke="#000" stroke-width="5.6" shape-rendering="crispEdges"/>
<line x1="486.1" y1="1077.5" x2="486.1" y2="1106.0" stroke="#000" stroke-width="5.6" shape-rendering="crispEdges"/>
<line x1="486.1" y1="1539.5" x2="486.1" y2="1511.0" stroke="#000" stroke-width="5.6" shape-rendering="crispEdges"/>
<line x1="651.2" y1="1077.5" x2="651.2" y2="1092.5" stroke="#000" stroke-width="5.6" shape-rendering="crispEdges"/>
<line x1="651.2" y1="1539.5" x2="651.2" y2="1524.5" stroke="#000" stroke-width="5.6" shape-rendering="crispEdges"/>
<line x1="816.3" y1="1077.5" x2="816.3" y2="1106.0" stroke="#000" stroke-width="5.6" shape-rendering="crispEdges"/>
<line x1="816.3" y1="1539.5" x2="816.3" y2="1511.0" stroke="#000" stroke-width="5.6" shape-rendering="crispEdges"/>
<line x1="981.4" y1="1077.5" x2="981.4" y2="1092.5" stroke="#000" stroke-width="5.6" shape-rendering="crispEdges"/>
<line x1="981.4" y1="1539.5" x2="981.4" y2="1524.5" stroke="#000" stroke-width="5.6" shape-rendering="crispEdges"/>
<line x1="1146.5" y1="1077.5" x2="1146.5" y2="1106.0" stroke="#000" stroke-width="5.6" shape-rendering="crispEdges"/>
<line x1="1146.5" y1="1539.5" x2="1146.5" y2="1511.0" stroke="#000" stroke-width="5.6" shape-rendering="crispEdges"/>
<line x1="1311.5" y1="1077.5" x2="1311.5" y2="1092.5" stroke="#000" stroke-width="5.6" shape-rendering="crispEdges"/>
<line x1="1311.5" y1="1539.5" x2="1311.5" y2="1524.5" stroke="#000" stroke-width="5.6" shape-rendering="crispEdges"/>
<line x1="1476.6" y1="1077.5" x2="1476.6" y2="1106.0" stroke="#000" stroke-width="5.6" shape-rendering="crispEdges"/>
<line x1="1476.6" y1="1539.5" x2="1476.6" y2="1511.0" stroke="#000" stroke-width="5.6" shape-rendering="crispEdges"/>
<line x1="1641.7" y1="1077.5" x2="1641.7" y2="1092.5" stroke="#000" stroke-width="5.6" shape-rendering="crispEdges"/>
<line x1="1641.7" y1="1539.5" x2="1641.7" y2="1524.5" stroke="#000" stroke-width="5.6" shape-rendering="crispEdges"/>
<line x1="1806.8" y1="1077.5" x2="1806.8" y2="1106.0" stroke="#000" stroke-width="5.6" shape-rendering="crispEdges"/>
<line x1="1806.8" y1="1539.5" x2="1806.8" y2="1511.0" stroke="#000" stroke-width="5.6" shape-rendering="crispEdges"/>
<line x1="1971.8" y1="1077.5" x2="1971.8" y2="1092.5" stroke="#000" stroke-width="5.6" shape-rendering="crispEdges"/>
<line x1="1971.8" y1="1539.5" x2="1971.8" y2="1524.5" stroke="#000" stroke-width="5.6" shape-rendering="crispEdges"/>
<line x1="156.2" y1="1118.7" x2="171.2" y2="1118.7" stroke="#000" stroke-width="5.6" shape-rendering="crispEdges"/>
<line x1="2137.0" y1="1118.7" x2="2122.0" y2="1118.7" stroke="#000" stroke-width="5.6" shape-rendering="crispEdges"/>
<line x1="156.2" y1="1160.7" x2="184.7" y2="1160.7" stroke="#000" stroke-width="5.6" shape-rendering="crispEdges"/>
<line x1="2137.0" y1="1160.7" x2="2108.5" y2="1160.7" stroke="#000" stroke-width="5.6" shape-rendering="crispEdges"/>
<line x1="156.2" y1="1202.6" x2="171.2" y2="1202.6" stroke="#000" stroke-width="5.6" shape-rendering="crispEdges"/>
<line x1="2137.0" y1="1202.6" x2="2122.0" y2="1202.6" stroke="#000" stroke-width="5.6" shape-rendering="crispEdges"/>
<line x1="156.2" y1="1244.6" x2="184.7" y2="1244.6" stroke="#000" stroke-width="5.6" shape-rendering="crispEdges"/>
<line x1="2137.0" y1="1244.6" x2="2108.5" y2="1244.6" stroke="#000" stroke-width="5.6" shape-rendering="crispEdges"/>
<line x1="156.2" y1="1286.5" x2="171.2" y2="1286.5" stroke="#000" stroke-width="5.6" shape-rendering="crispEdges"/>
<line x1="2137.0" y1="1286.5" x2="2122.0" y2="1286.5" stroke="#000" stroke-width="5.6" shape-rendering="crispEdges"/>
<line x1="156.2" y1="1328.5" x2="184.7" y2="1328.5" stroke="#000" stroke-width="5.6" shape-rendering="crispEdges"/>
<line x1="2137.0" y1="1328.5" x2="2108.5" y2="1328.5" stroke="#000" stroke-width="5.6" shape-rendering="crispEdges"/>
<line x1="156.2" y1="1370.5" x2="171.2" y2="1370.5" stroke="#000" stroke-width="5.6" shape-rendering="crispEdges"/>
<line x1="2137.0" y1="1370.5" x2="2122.0" y2="1370.5" stroke="#000" stroke-width="5.6" shape-rendering="crispEdges"/>
<line x1="156.2" y1="1412.4" x2="184.7" y2="1412.4" stroke="#000" stroke-width="5.6" shape-rendering="crispEdges"/>
<line x1="2137.0" y1="1412.4" x2="2108.5" y2="1412.4" stroke="#000" stroke-width="5.6" shape-rendering="crispEdges"/>
<line x1="156.2" y1="1454.4" x2="171.2" y2="1454.4" stroke="#000" stroke-width="5.6" shape-rendering="crispEdges"/>
<line x1="2137.0" y1="1454.4" x2="2122.0" y2="1454.4" stroke="#000" stroke-width="5.6" shape-rendering="crispEdges"/>
<line x1="156.2" y1="1496.3" x2="184.7" y2="1496.3" stroke="#000" stroke-width="5.6" shape-rendering="crispEdges"/>
<line x1="2137.0" y1="1496.3" x2="2108.5" y2="1496.3" stroke="#000" stroke-width="5.6" shape-rendering="crispEdges"/>
<rect x="182" y="31" width="1928" height="115" fill="#fff" stroke="#000" stroke-width="2.5"/>
<rect x="262" y="73" width="13" height="13" fill="#000"/>
<polygon points="938,74 956,74 947,90" fill="#00f"/>
<line x1="1621.4" y1="79.8" x2="1636.6" y2="79.8" stroke="#808080" stroke-width="1.3"/><line x1="1629.0" y1="72.8" x2="1629.0" y2="86.8" stroke="#808080" stroke-width="1.3"/><line x1="1621.4" y1="72.8" x2="1636.6" y2="86.8" stroke="#808080" stroke-width="1.3"/><line x1="1621.4" y1="86.8" x2="1636.6" y2="72.8" stroke="#808080" stroke-width="1.3"/>
<text class="t" transform="translate(366.53,104.2) scale(0.9625,1)" font-size="74">Monoclinic ZrO</text>
<text class="t" transform="translate(843.37,127.8) scale(1.0650,1)" font-size="43">2</text>
<text class="t" transform="translate(1045.65,104.2) scale(0.9736,1)" font-size="74">Tetragonal ZrO</text>
<text class="t" transform="translate(1524.91,127.8) scale(1.0450,1)" font-size="43">2</text>
<text class="t" transform="translate(1726.54,104.2) scale(0.9595,1)" font-size="74">Unidentified</text>
<text class="t" transform="translate(181.10,226.8) scale(0.9735,1)" font-size="74">Al:Zr</text>
<text class="t" transform="translate(186.10,690.7) scale(0.9621,1)" font-size="74">Al&#8211;8Mg:Zr</text>
<text class="t" transform="translate(195.10,1150.0) scale(0.9596,1)" font-size="74">Al&#8211;38Mg:Zr</text>
<text class="t" transform="translate(1743.11,344.8) scale(0.9653,1)" font-size="74">PVD 40 <tspan class="s">&#956;</tspan>m</text>
<text class="t" transform="translate(1791.31,565.8) scale(0.9647,1)" font-size="74">Ball milled</text>
<text class="t" transform="translate(1747.09,831.7) scale(0.9689,1)" font-size="74">PVD 40 <tspan class="s">&#956;</tspan>m</text>
<text class="t" transform="translate(1782.63,996.0) scale(0.9613,1)" font-size="74">Ball milled</text>
<text class="t" transform="translate(1761.29,1338.8) scale(0.9678,1)" font-size="74">PVD 40 <tspan class="s">&#956;</tspan>m</text>
<text class="t" transform="translate(1790.43,1525.5) scale(0.9610,1)" font-size="74">Ball milled</text>
<text class="t" transform="translate(329.41,1353.2) scale(0.9988,1)" font-size="74">MgO (111)</text>
<text class="t" transform="translate(917.89,1352.9) scale(0.9682,1)" font-size="74">MgO (200)</text>
<text class="t" transform="translate(1323.52,1356.1) scale(0.9630,1)" font-size="74">MgO (220)</text>
<text class="t" transform="translate(927.58,1765.2) scale(0.9722,1)" font-size="93" font-weight="bold">Angle (2</text>
<text class="t" transform="translate(1284.10,1764.7) scale(1.1500,1)" font-size="86"><tspan class="s" font-weight="normal">&#952;</tspan></text>
<text class="t" transform="translate(1335.10,1765.2) scale(0.8423,1)" font-size="93" font-weight="bold">)</text>
<text class="t" transform="translate(87.2,1121.78) rotate(-90) scale(0.9631,1)" font-size="93.5" font-weight="bold">Intensity (a.u.)</text>
<text class="t" x="156.0" y="1622" font-size="71" text-anchor="middle">20</text>
<text class="t" x="486.1" y="1622" font-size="71" text-anchor="middle">30</text>
<text class="t" x="816.3" y="1622" font-size="71" text-anchor="middle">40</text>
<text class="t" x="1146.5" y="1622" font-size="71" text-anchor="middle">50</text>
<text class="t" x="1476.6" y="1622" font-size="71" text-anchor="middle">60</text>
<text class="t" x="1806.8" y="1622" font-size="71" text-anchor="middle">70</text>
<text class="t" x="2136.9" y="1622" font-size="71" text-anchor="middle">80</text>
<line x1="717.0" y1="156" x2="717.0" y2="1537" stroke="#000" stroke-width="2.1" stroke-dasharray="10 4.5 3 3 3 4.3" stroke-dashoffset="16.2"/>
<line x1="1546.0" y1="156" x2="1546.0" y2="1537" stroke="#000" stroke-width="2.1" stroke-dasharray="10 4.5 3 3 3 4.3" stroke-dashoffset="16.2"/>
<ellipse cx="716.5" cy="1431.8" rx="51.7" ry="103.3" fill="none" stroke="#8a8a8a" stroke-width="2.2" stroke-dasharray="7 7"/>
<ellipse cx="910.0" cy="1431.8" rx="51.7" ry="103.3" fill="none" stroke="#8a8a8a" stroke-width="2.2" stroke-dasharray="7 7"/>
<ellipse cx="1555.3" cy="1431.8" rx="51.7" ry="103.3" fill="none" stroke="#8a8a8a" stroke-width="2.2" stroke-dasharray="7 7"/>
<line x1="645.2" y1="1368.0" x2="689.5" y2="1410.5" stroke="#000" stroke-width="2.2"/><polygon points="711.2,1431.3 680.1,1414.6 693.2,1400.9" fill="#000"/>
<line x1="1001.3" y1="1377.4" x2="963.0" y2="1410.5" stroke="#000" stroke-width="2.2"/><polygon points="940.3,1430.1 959.8,1400.7 972.2,1415.1" fill="#000"/>
<line x1="1434.6" y1="1372.0" x2="1499.3" y2="1398.6" stroke="#000" stroke-width="2.2"/><polygon points="1527.0,1410.0 1491.9,1405.9 1499.2,1388.3" fill="#000"/>
</svg></body></html>
